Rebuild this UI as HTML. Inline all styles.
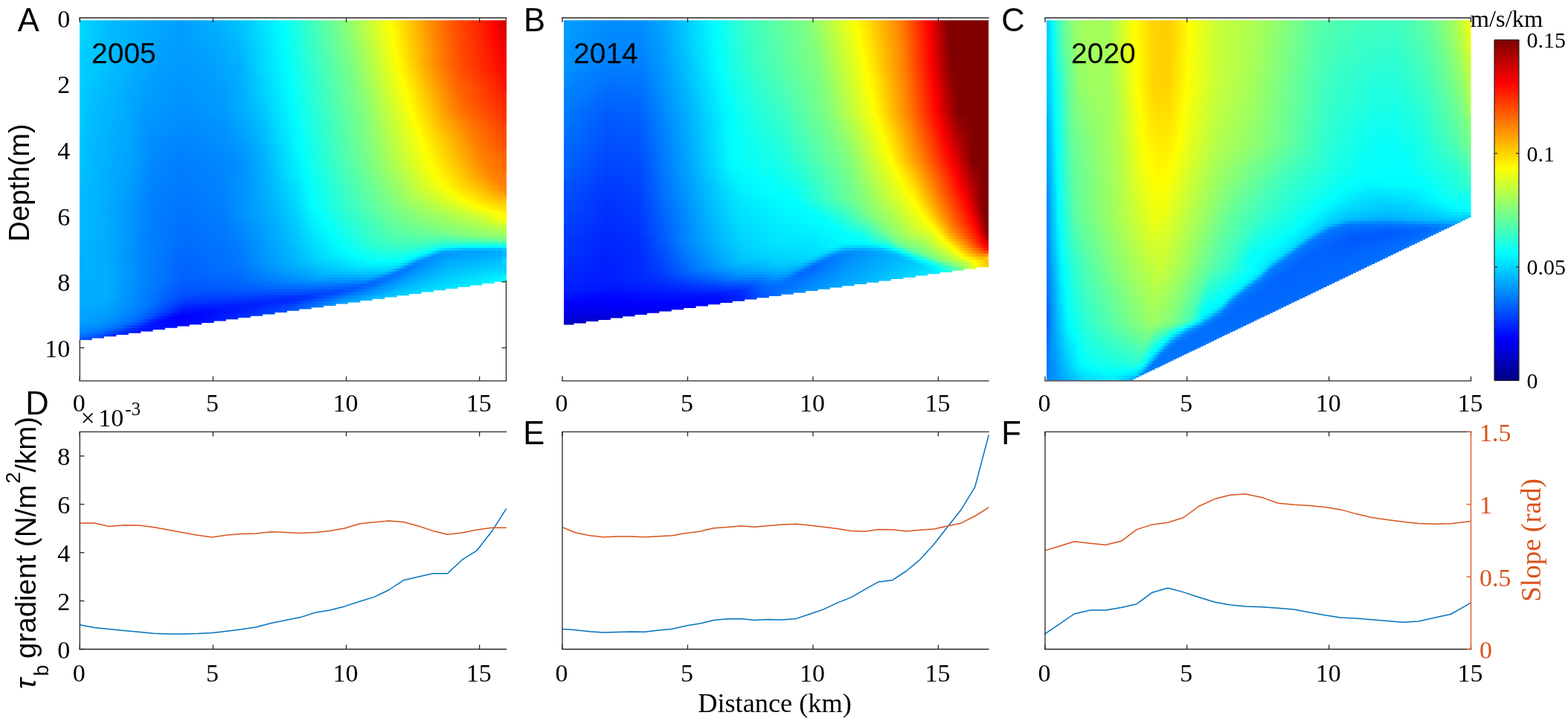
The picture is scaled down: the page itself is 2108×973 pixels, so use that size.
<!DOCTYPE html>
<html lang="en"><head><meta charset="utf-8"><title>Figure</title>
<style>html,body{margin:0;padding:0;background:#fff}#fig{position:relative;width:2108px;height:973px;overflow:hidden;background:#fff}svg{position:absolute;left:0;top:0;display:block}.h{position:absolute;overflow:hidden}.h i{display:block;height:2px}.ts{font-family:"Liberation Serif","DejaVu Serif",serif}.ta{font-family:"Liberation Sans","DejaVu Sans",sans-serif}</style></head>
<body>
<div id="fig">
<div class="h" style="left:106.6px;top:27.2px;width:574.6px;height:431.8px;clip-path:polygon(0.0px 0.0px,574.6px 0.0px,574.6px 351.6px,558.2px 351.6px,558.2px 353.9px,541.8px 353.9px,541.8px 356.2px,525.4px 356.2px,525.4px 358.5px,509.0px 358.5px,509.0px 360.8px,492.6px 360.8px,492.6px 363.1px,476.2px 363.1px,476.2px 365.4px,459.8px 365.4px,459.8px 367.7px,443.4px 367.7px,443.4px 370.0px,427.0px 370.0px,427.0px 372.3px,410.6px 372.3px,410.6px 374.6px,394.2px 374.6px,394.2px 376.9px,377.8px 376.9px,377.8px 379.2px,361.4px 379.2px,361.4px 381.4px,345.0px 381.4px,345.0px 383.7px,328.6px 383.7px,328.6px 386.0px,312.2px 386.0px,312.2px 388.3px,295.8px 388.3px,295.8px 390.6px,279.4px 390.6px,279.4px 392.9px,263.0px 392.9px,263.0px 395.2px,246.6px 395.2px,246.6px 397.5px,230.2px 397.5px,230.2px 399.8px,213.8px 399.8px,213.8px 402.1px,197.4px 402.1px,197.4px 404.4px,181.0px 404.4px,181.0px 406.7px,164.6px 406.7px,164.6px 409.0px,148.2px 409.0px,148.2px 411.3px,131.8px 411.3px,131.8px 413.6px,115.4px 413.6px,115.4px 415.9px,99.0px 415.9px,99.0px 418.2px,82.6px 418.2px,82.6px 420.5px,66.2px 420.5px,66.2px 422.8px,49.8px 422.8px,49.8px 425.1px,33.4px 425.1px,33.4px 427.4px,17.0px 427.4px,17.0px 429.7px,0.6px 429.7px,0.6px 430.9px,0.0px 430.9px,0.0px 430.9px)">
<i style="background:linear-gradient(90deg,#00dbff 0%,#00bdff 6.3%,#009fff 23.3%,#00b4ff 33.4%,#00d2ff 40.4%,#00ffff 47.7%,#80ff7f 61.6%,#fcff03 72.4%,#fffe00 72.7%,#ff8100 83.2%,#ff5100 87.7%,#ff2300 93.6%,#ff0000 97.1%,#d10000 99.5%,#c80000 100%)"></i>
<i style="background:linear-gradient(90deg,#00daff 0%,#00bdff 6.3%,#009eff 23.3%,#00b3ff 33.4%,#00cfff 40%,#00ffff 47.7%,#7fff80 61.6%,#ffff00 72.7%,#ff8200 83.2%,#ff5500 87.4%,#ff2300 93.6%,#ff0100 97.1%,#c90000 100%)"></i>
<i style="background:linear-gradient(90deg,#00daff 0%,#00bdff 6.3%,#009eff 23.3%,#00b3ff 33.4%,#00cfff 40%,#00ffff 47.7%,#7eff81 61.6%,#feff01 72.7%,#ff8200 83.2%,#ff5200 87.7%,#ff2400 93.6%,#ff0200 97.1%,#fc0000 97.5%,#ca0000 100%)"></i>
<i style="background:linear-gradient(90deg,#00daff 0%,#00bdff 6.3%,#009eff 23.3%,#00b0ff 32.7%,#00c3ff 37.6%,#00ceff 40%,#00feff 47.7%,#7eff81 61.6%,#fdff02 72.7%,#ff7e00 83.5%,#ff5300 87.7%,#ff2400 93.6%,#ff0300 97.1%,#fd0000 97.5%,#cb0000 100%)"></i>
<i style="background:linear-gradient(90deg,#00daff 0%,#00bdff 6.3%,#009eff 23.3%,#00b0ff 32.7%,#00c2ff 37.6%,#00ceff 40%,#00feff 47.7%,#7dff82 61.6%,#fcff03 72.7%,#fffe00 73.1%,#ff7f00 83.5%,#ff5300 87.7%,#ff2500 93.6%,#ff0400 97.1%,#fe0000 97.5%,#cb0000 100%)"></i>
<i style="background:linear-gradient(90deg,#00daff 0%,#00bdff 6.3%,#009eff 23.3%,#00afff 32.7%,#00c1ff 37.6%,#00cdff 40%,#00feff 47.7%,#80ff7f 62%,#fffe00 73.1%,#ff7f00 83.5%,#ff5700 87.4%,#ff2500 93.6%,#ff0000 97.5%,#cc0000 100%)"></i>
<i style="background:linear-gradient(90deg,#00daff 0%,#00bdff 6.3%,#009dff 23.3%,#00afff 32.7%,#00c1ff 37.6%,#00cdff 40%,#00feff 47.7%,#7fff80 62%,#ffff00 73.1%,#ff8000 83.5%,#ff5400 87.7%,#ff2500 93.6%,#ff0100 97.5%,#e30000 99.2%,#cc0000 100%)"></i>
<i style="background:linear-gradient(90deg,#00daff 0%,#00bdff 6.3%,#009dff 23.3%,#00aeff 32.7%,#00c0ff 37.6%,#01fffe 48%,#7eff81 62%,#feff01 73.1%,#ff8000 83.5%,#ff5400 87.7%,#ff2600 93.6%,#ff0200 97.5%,#e40000 99.2%,#cd0000 100%)"></i>
<i style="background:linear-gradient(90deg,#00daff 0%,#00bdff 6.3%,#009dff 23.3%,#00aeff 32.7%,#00bfff 37.6%,#01fffe 48%,#7dff82 62%,#fdff02 73.1%,#ff8100 83.5%,#ff5500 87.7%,#ff2600 93.6%,#ff0300 97.5%,#fd0000 97.8%,#e60000 99.2%,#ce0000 100%)"></i>
<i style="background:linear-gradient(90deg,#00daff 0%,#00bdff 6.3%,#009dff 23.3%,#00adff 32.7%,#00beff 37.6%,#00ffff 48%,#7cff83 62%,#fcff03 73.1%,#fffe00 73.4%,#ff8100 83.5%,#ff5100 88.1%,#ff2700 93.6%,#ff0400 97.5%,#fe0000 97.8%,#e70000 99.2%,#ce0000 100%)"></i>
<i style="background:linear-gradient(90deg,#00d9ff 0%,#00bdff 6.3%,#009dff 23.3%,#00adff 32.7%,#00beff 37.6%,#00ffff 48%,#7cff83 62%,#fffe00 73.4%,#ff8200 83.5%,#ff5500 87.7%,#ff2700 93.6%,#ff0000 97.8%,#e90000 99.2%,#cf0000 100%)"></i>
<i style="background:linear-gradient(90deg,#00d9ff 0%,#00bdff 6.3%,#009dff 23.3%,#00acff 32.7%,#00bdff 37.6%,#00ffff 48%,#7bff84 62%,#ffff00 73.4%,#ff8200 83.5%,#ff5600 87.7%,#ff2800 93.6%,#ff0100 97.8%,#eb0000 99.2%,#d00000 100%)"></i>
<i style="background:linear-gradient(90deg,#00d9ff 0%,#00bdff 6.3%,#009cff 23.3%,#00abff 32.4%,#00bcff 37.6%,#00ffff 48%,#7dff82 62.3%,#feff01 73.4%,#ff7e00 83.9%,#ff5300 88.1%,#ff2800 93.6%,#ff0200 97.8%,#ec0000 99.2%,#d00000 100%)"></i>
<i style="background:linear-gradient(90deg,#00d9ff 0%,#00bdff 6.3%,#009cff 23.3%,#00aaff 32.4%,#00bbff 37.6%,#00feff 48%,#7dff82 62.3%,#fdff02 73.4%,#ff7f00 83.9%,#ff5300 88.1%,#ff2800 93.6%,#ff0300 97.8%,#ee0000 99.2%,#d30000 100%)"></i>
<i style="background:linear-gradient(90deg,#00d7ff 0%,#00bdff 6.3%,#009cff 23.3%,#00a8ff 31.3%,#00bbff 37.6%,#00feff 48%,#8aff75 63.7%,#fcff03 73.4%,#fff100 74.8%,#ff7f00 83.9%,#ff5000 88.4%,#ff2900 93.6%,#ff0400 97.8%,#fd0000 98.2%,#ef0000 99.2%,#dc0000 100%)"></i>
<i style="background:linear-gradient(90deg,#00d4ff 0%,#00bdff 6.3%,#00a4ff 18.1%,#009cff 23.7%,#00a7ff 31%,#00baff 37.6%,#00feff 48%,#89ff76 63.7%,#fcff03 73.4%,#fffe00 73.8%,#fff100 74.8%,#ff8000 83.9%,#ff4d00 88.8%,#ff1800 95.7%,#fe0000 98.2%,#ec0000 99.5%,#eb0000 100%)"></i>
<i style="background:linear-gradient(90deg,#00d4ff 0%,#00bdff 6.3%,#00a4ff 18.1%,#009cff 23.7%,#00a7ff 31%,#00baff 37.6%,#00feff 48%,#89ff76 63.7%,#fcff03 73.4%,#fffe00 73.8%,#fff100 74.8%,#ff8000 83.9%,#ff4d00 88.8%,#ff1800 95.7%,#fe0000 98.2%,#ec0000 99.5%,#eb0000 100%)"></i>
<i style="background:linear-gradient(90deg,#00d2ff 0%,#00d1ff 1%,#00bcff 6.6%,#00a3ff 18.1%,#009cff 23.7%,#00a6ff 31%,#00b8ff 37.6%,#01fffe 48.4%,#87ff78 63.7%,#feff01 73.8%,#ff8100 83.9%,#ff4e00 88.8%,#ff1a00 95.7%,#ff0200 98.2%,#f00000 99.5%,#f70000 100%)"></i>
<i style="background:linear-gradient(90deg,#00d2ff 0%,#00d1ff 1%,#00bcff 6.6%,#00a3ff 18.1%,#009cff 23.7%,#00a6ff 31%,#00b8ff 37.6%,#01fffe 48.4%,#87ff78 63.7%,#feff01 73.8%,#ff8100 83.9%,#ff4e00 88.8%,#ff1a00 95.7%,#ff0200 98.2%,#f00000 99.5%,#f70000 100%)"></i>
<i style="background:linear-gradient(90deg,#00d2ff 0%,#00baff 7.7%,#00a2ff 18.4%,#009bff 23.7%,#00a5ff 31%,#00b7ff 37.6%,#00ffff 48.4%,#85ff7a 63.7%,#fdff02 73.8%,#fff500 74.8%,#ff8200 83.9%,#ff4e00 88.8%,#ff1800 96.1%,#fe0000 98.5%,#f30000 99.5%,#f90000 100%)"></i>
<i style="background:linear-gradient(90deg,#00d2ff 0%,#00baff 7.7%,#00a2ff 18.4%,#009bff 23.7%,#00a5ff 31%,#00b7ff 37.6%,#00ffff 48.4%,#85ff7a 63.7%,#fdff02 73.8%,#fff500 74.8%,#ff8200 83.9%,#ff4e00 88.8%,#ff1800 96.1%,#fe0000 98.5%,#f30000 99.5%,#f90000 100%)"></i>
<i style="background:linear-gradient(90deg,#00d2ff 0%,#00bdff 6.3%,#00a3ff 17.8%,#009bff 23.7%,#00a3ff 30.6%,#00b5ff 37.6%,#00d2ff 41.4%,#00ffff 48.4%,#86ff79 64%,#ffff00 74.1%,#ff8300 83.9%,#ff4f00 88.8%,#ff1900 96.1%,#ff0100 98.5%,#f60000 99.5%,#fa0000 100%)"></i>
<i style="background:linear-gradient(90deg,#00d2ff 0%,#00bdff 6.3%,#00a3ff 17.8%,#009bff 23.7%,#00a3ff 30.6%,#00b5ff 37.6%,#00d2ff 41.4%,#00ffff 48.4%,#86ff79 64%,#ffff00 74.1%,#ff8300 83.9%,#ff4f00 88.8%,#ff1900 96.1%,#ff0100 98.5%,#f60000 99.5%,#fa0000 100%)"></i>
<i style="background:linear-gradient(90deg,#00d1ff 0%,#00bdff 6.3%,#00a1ff 18.1%,#009bff 24.4%,#00a2ff 30.6%,#00b4ff 37.6%,#00d1ff 41.4%,#00feff 48.4%,#85ff7a 64%,#feff01 74.1%,#ff7f00 84.2%,#ff5000 88.8%,#ff1a00 96.1%,#ff0000 98.9%,#f90000 99.5%,#fb0000 100%)"></i>
<i style="background:linear-gradient(90deg,#00d1ff 0%,#00bdff 6.3%,#00a1ff 18.1%,#009bff 24.4%,#00a2ff 30.6%,#00b4ff 37.6%,#00d1ff 41.4%,#00feff 48.4%,#85ff7a 64%,#feff01 74.1%,#ff7f00 84.2%,#ff5000 88.8%,#ff1a00 96.1%,#ff0000 98.9%,#f90000 99.5%,#fb0000 100%)"></i>
<i style="background:linear-gradient(90deg,#00d1ff 0%,#00bdff 6.3%,#00a1ff 18.1%,#009bff 24.7%,#00a1ff 30.6%,#00b3ff 37.6%,#00d3ff 41.8%,#00feff 48.4%,#83ff7c 64%,#fcff03 74.1%,#fff900 74.8%,#ff8000 84.2%,#ff5100 88.8%,#ff1e00 95.7%,#ff0200 98.9%,#fc0000 100%)"></i>
<i style="background:linear-gradient(90deg,#00d1ff 0%,#00bdff 6.3%,#00a1ff 18.1%,#009bff 24.7%,#00a1ff 30.6%,#00b3ff 37.6%,#00d3ff 41.8%,#00feff 48.4%,#83ff7c 64%,#fcff03 74.1%,#fff900 74.8%,#ff8000 84.2%,#ff5100 88.8%,#ff1e00 95.7%,#ff0200 98.9%,#fc0000 100%)"></i>
<i style="background:linear-gradient(90deg,#00d1ff 0%,#00bcff 6.6%,#009fff 18.4%,#009aff 23.3%,#009fff 29.9%,#00b1ff 37.6%,#00d3ff 41.8%,#01fffe 48.7%,#81ff7e 64%,#ffff00 74.5%,#ff8100 84.2%,#ff5100 88.8%,#ff1f00 95.7%,#ff0200 99.2%,#fe0000 100%)"></i>
<i style="background:linear-gradient(90deg,#00d1ff 0%,#00bcff 6.6%,#009fff 18.4%,#009aff 23.3%,#009fff 29.9%,#00b1ff 37.6%,#00d3ff 41.8%,#01fffe 48.7%,#81ff7e 64%,#ffff00 74.5%,#ff8100 84.2%,#ff5100 88.8%,#ff1f00 95.7%,#ff0200 99.2%,#fe0000 100%)"></i>
<i style="background:linear-gradient(90deg,#00d1ff 0%,#009fff 18.4%,#009aff 23.7%,#009fff 30.3%,#00b0ff 37.6%,#00d2ff 41.8%,#00ffff 48.7%,#7fff80 64%,#fdff02 74.5%,#ff8200 84.2%,#ff5200 88.8%,#ff0200 99.5%,#ff0000 100%)"></i>
<i style="background:linear-gradient(90deg,#00d1ff 0%,#009fff 18.4%,#009aff 23.7%,#009fff 30.3%,#00b0ff 37.6%,#00d2ff 41.8%,#00ffff 48.7%,#7fff80 64%,#fdff02 74.5%,#ff8200 84.2%,#ff5200 88.8%,#ff0200 99.5%,#ff0000 100%)"></i>
<i style="background:linear-gradient(90deg,#00d1ff 0%,#009eff 18.4%,#0099ff 23.7%,#009eff 30.3%,#00afff 37.6%,#00d1ff 41.8%,#00feff 48.7%,#7dff82 64%,#fffe00 74.8%,#ff8400 84.2%,#ff5400 88.8%,#ff0100 100%)"></i>
<i style="background:linear-gradient(90deg,#00d1ff 0%,#009eff 18.4%,#0099ff 23.7%,#009eff 30.3%,#00afff 37.6%,#00d1ff 41.8%,#00feff 48.7%,#7dff82 64%,#fffe00 74.8%,#ff8400 84.2%,#ff5400 88.8%,#ff0100 100%)"></i>
<i style="background:linear-gradient(90deg,#00d0ff 0%,#009eff 18.4%,#0098ff 23.7%,#009dff 30.3%,#00aeff 37.6%,#00d0ff 41.8%,#00feff 48.7%,#80ff7f 64.4%,#fdff02 74.8%,#ff8700 84.2%,#ff5600 88.8%,#ff0200 100%)"></i>
<i style="background:linear-gradient(90deg,#00d0ff 0%,#009eff 18.4%,#0098ff 23.7%,#009dff 30.3%,#00aeff 37.6%,#00d0ff 41.8%,#00feff 48.7%,#80ff7f 64.4%,#fdff02 74.8%,#ff8700 84.2%,#ff5600 88.8%,#ff0200 100%)"></i>
<i style="background:linear-gradient(90deg,#00d0ff 0%,#009dff 18.4%,#0098ff 23.7%,#009dff 30.3%,#00aeff 37.6%,#00d1ff 42.1%,#01fffe 49.1%,#7eff81 64.4%,#fffe00 75.2%,#ff8900 84.2%,#ff5800 88.8%,#ff2700 95.7%,#ff0300 100%)"></i>
<i style="background:linear-gradient(90deg,#00d0ff 0%,#009dff 18.4%,#0098ff 23.7%,#009dff 30.3%,#00aeff 37.6%,#00d1ff 42.1%,#01fffe 49.1%,#7eff81 64.4%,#fffe00 75.2%,#ff8900 84.2%,#ff5800 88.8%,#ff2700 95.7%,#ff0300 100%)"></i>
<i style="background:linear-gradient(90deg,#00d0ff 0%,#00bcff 6.3%,#009cff 18.4%,#0097ff 23.7%,#009cff 30.3%,#00aeff 37.6%,#00ffff 49.1%,#7dff82 64.4%,#fdff02 75.2%,#ff8800 84.6%,#ff5b00 88.8%,#ff1300 98.9%,#ff0400 100%)"></i>
<i style="background:linear-gradient(90deg,#00d0ff 0%,#00bcff 6.3%,#009cff 18.4%,#0097ff 23.7%,#009cff 30.3%,#00aeff 37.6%,#00ffff 49.1%,#7dff82 64.4%,#fdff02 75.2%,#ff8800 84.6%,#ff5b00 88.8%,#ff1300 98.9%,#ff0400 100%)"></i>
<i style="background:linear-gradient(90deg,#00d0ff 0%,#00bbff 6.3%,#009cff 18.1%,#0096ff 23.7%,#009bff 29.9%,#00adff 37.6%,#00feff 49.1%,#7cff83 64.4%,#ffff00 75.5%,#ff8f00 84.2%,#ff6100 88.4%,#ff1300 99.2%,#ff0500 100%)"></i>
<i style="background:linear-gradient(90deg,#00d0ff 0%,#00bbff 6.3%,#009cff 18.1%,#0096ff 23.7%,#009bff 29.9%,#00adff 37.6%,#00feff 49.1%,#7cff83 64.4%,#ffff00 75.5%,#ff8f00 84.2%,#ff6100 88.4%,#ff1300 99.2%,#ff0500 100%)"></i>
<i style="background:linear-gradient(90deg,#00d0ff 0%,#00bbff 6.3%,#009cff 18.1%,#0096ff 23.7%,#009bff 29.9%,#00a1ff 33.8%,#00adff 37.6%,#01fffe 49.4%,#7bff84 64.4%,#fdff02 75.5%,#ffe700 77.6%,#ff8e00 84.6%,#ff6300 88.4%,#ff1600 99.2%,#ff0600 100%)"></i>
<i style="background:linear-gradient(90deg,#00d0ff 0%,#00bbff 6.3%,#009cff 18.1%,#0096ff 23.7%,#009bff 29.9%,#00a1ff 33.8%,#00adff 37.6%,#01fffe 49.4%,#7bff84 64.4%,#fdff02 75.5%,#ffe700 77.6%,#ff8e00 84.6%,#ff6300 88.4%,#ff1600 99.2%,#ff0600 100%)"></i>
<i style="background:linear-gradient(90deg,#00d0ff 0%,#00c3ff 3.1%,#009bff 18.1%,#0095ff 23.7%,#009aff 29.9%,#00a0ff 33.8%,#00adff 37.6%,#00ffff 49.4%,#7aff85 64.4%,#ffff00 75.9%,#ff9100 84.6%,#ff6600 88.4%,#ff1900 99.2%,#ff0700 100%)"></i>
<i style="background:linear-gradient(90deg,#00d0ff 0%,#00c3ff 3.1%,#009bff 18.1%,#0095ff 23.7%,#009aff 29.9%,#00a0ff 33.8%,#00adff 37.6%,#00ffff 49.4%,#7aff85 64.4%,#ffff00 75.9%,#ff9100 84.6%,#ff6600 88.4%,#ff1900 99.2%,#ff0700 100%)"></i>
<i style="background:linear-gradient(90deg,#00d0ff 0%,#00c7ff 1.7%,#009bff 17.8%,#0094ff 23.7%,#009aff 29.9%,#009fff 33.8%,#00acff 37.6%,#00feff 49.4%,#79ff86 64.4%,#8eff71 66.5%,#fcff03 75.9%,#fffe00 76.2%,#ff9400 84.6%,#ff6800 88.4%,#ff1c00 99.2%,#ff1100 100%)"></i>
<i style="background:linear-gradient(90deg,#00d0ff 0%,#00c7ff 1.7%,#009bff 17.8%,#0094ff 23.7%,#009aff 29.9%,#009fff 33.8%,#00acff 37.6%,#00feff 49.4%,#79ff86 64.4%,#8eff71 66.5%,#fcff03 75.9%,#fffe00 76.2%,#ff9400 84.6%,#ff6800 88.4%,#ff1c00 99.2%,#ff1100 100%)"></i>
<i style="background:linear-gradient(90deg,#00d0ff 0%,#00c6ff 1.7%,#009aff 17.8%,#0094ff 23.7%,#0099ff 29.9%,#009fff 33.8%,#00acff 37.6%,#00feff 49.4%,#77ff88 64.4%,#8cff73 66.5%,#feff01 76.2%,#ff9700 84.6%,#ff6800 88.8%,#ff1f00 99.2%,#ff1e00 99.5%,#ff2500 100%)"></i>
<i style="background:linear-gradient(90deg,#00d0ff 0%,#00c6ff 1.7%,#009aff 17.8%,#0094ff 23.7%,#0099ff 29.9%,#009fff 33.8%,#00acff 37.6%,#00feff 49.4%,#77ff88 64.4%,#8cff73 66.5%,#feff01 76.2%,#ff9700 84.6%,#ff6800 88.8%,#ff1f00 99.2%,#ff1e00 99.5%,#ff2500 100%)"></i>
<i style="background:linear-gradient(90deg,#00d0ff 0%,#00c6ff 1.4%,#009dff 16%,#0093ff 23.7%,#0098ff 29.9%,#009eff 33.8%,#00aeff 37.9%,#00ffff 49.8%,#79ff86 64.7%,#8bff74 66.5%,#ffff00 76.6%,#ff9a00 84.6%,#ff6d00 88.4%,#ff4b00 92.9%,#ff2200 99.2%,#ff2100 99.5%,#ff2800 100%)"></i>
<i style="background:linear-gradient(90deg,#00d0ff 0%,#00c6ff 1.4%,#009dff 16%,#0093ff 23.7%,#0098ff 29.9%,#009eff 33.8%,#00aeff 37.9%,#00ffff 49.8%,#79ff86 64.7%,#8bff74 66.5%,#ffff00 76.6%,#ff9a00 84.6%,#ff6d00 88.4%,#ff4b00 92.9%,#ff2200 99.2%,#ff2100 99.5%,#ff2800 100%)"></i>
<i style="background:linear-gradient(90deg,#00d0ff 0%,#00c5ff 1.7%,#009cff 16%,#0093ff 23.7%,#0098ff 29.9%,#009eff 33.8%,#00adff 37.9%,#00c0ff 41.1%,#00ffff 49.8%,#86ff79 66.1%,#feff01 76.6%,#ff6e00 88.4%,#ff4c00 92.9%,#ff2400 99.2%,#ff2200 99.5%,#ff2900 100%)"></i>
<i style="background:linear-gradient(90deg,#00d0ff 0%,#00c5ff 1.7%,#009cff 16%,#0092ff 23.7%,#0098ff 29.9%,#009dff 33.8%,#00adff 37.9%,#00c0ff 41.1%,#00ffff 49.8%,#85ff7a 66.1%,#fdff02 76.6%,#fff500 77.6%,#ff9c00 84.6%,#ff7000 88.4%,#ff4d00 92.9%,#ff2500 99.2%,#ff2400 99.5%,#ff2900 100%)"></i>
<i style="background:linear-gradient(90deg,#00d0ff 0%,#00c4ff 1.7%,#009cff 15.7%,#0092ff 23.3%,#0093ff 25.4%,#009cff 33.4%,#00abff 37.6%,#00bfff 41.1%,#00feff 49.8%,#84ff7b 66.1%,#fcff03 76.6%,#fff600 77.6%,#ff7100 88.4%,#ff4e00 92.9%,#ff2900 98.9%,#ff2500 99.5%,#ff2a00 100%)"></i>
<i style="background:linear-gradient(90deg,#00d0ff 0%,#00c4ff 1.7%,#009cff 15.7%,#0092ff 24.4%,#009cff 33.4%,#00abff 37.6%,#00c1ff 41.4%,#00feff 49.8%,#84ff7b 66.1%,#feff01 76.9%,#ff7200 88.4%,#ff4d00 93.3%,#ff2a00 98.9%,#ff2600 99.5%,#ff2a00 100%)"></i>
<i style="background:linear-gradient(90deg,#00d0ff 0%,#00c3ff 1.7%,#009cff 15.7%,#0092ff 24.4%,#009bff 33.4%,#00abff 37.6%,#00c0ff 41.4%,#01fffe 50.1%,#83ff7c 66.1%,#fdff02 76.9%,#ff7400 88.4%,#ff4e00 93.3%,#ff2b00 98.9%,#ff2800 99.5%,#ff2b00 100%)"></i>
<i style="background:linear-gradient(90deg,#00d0ff 0%,#00c3ff 1.7%,#00aaff 11.5%,#009bff 15.7%,#0091ff 24.4%,#009bff 33.4%,#00abff 37.6%,#00c0ff 41.4%,#01fffe 50.1%,#82ff7d 66.1%,#fcff03 76.9%,#fff600 78%,#ff7500 88.4%,#ff5000 93.3%,#ff2d00 98.9%,#ff2900 99.5%,#ff2b00 100%)"></i>
<i style="background:linear-gradient(90deg,#00d0ff 0%,#00c3ff 1.7%,#00aaff 11.5%,#009bff 15.7%,#0091ff 24.4%,#009bff 33.4%,#00a9ff 37.2%,#00bfff 41.4%,#00ffff 50.1%,#81ff7e 66.1%,#feff01 77.3%,#ff7600 88.4%,#ff4f00 93.6%,#ff2c00 99.2%,#ff2c00 100%)"></i>
<i style="background:linear-gradient(90deg,#00d0ff 0%,#00c2ff 1.7%,#00a9ff 11.5%,#009aff 15.7%,#0091ff 24.4%,#009aff 33.4%,#00a9ff 37.2%,#00bfff 41.4%,#00ffff 50.1%,#80ff7f 66.1%,#fdff02 77.3%,#ff7800 88.4%,#ff5000 93.6%,#ff2e00 99.2%,#ff2c00 100%)"></i>
<i style="background:linear-gradient(90deg,#00d0ff 0%,#00c2ff 1.7%,#00a9ff 11.5%,#009aff 15.7%,#0090ff 24.4%,#009aff 33.4%,#00a3ff 35.9%,#00beff 41.4%,#00feff 50.1%,#80ff7f 66.1%,#fcff03 77.3%,#fffa00 78%,#ff7c00 88.1%,#ff5300 93.3%,#ff2f00 99.2%,#ff2d00 100%)"></i>
<i style="background:linear-gradient(90deg,#00d0ff 0%,#00c2ff 1.7%,#00a9ff 11.5%,#009aff 15.7%,#0090ff 24.4%,#009dff 34.5%,#00bdff 41.4%,#00feff 50.1%,#7fff80 66.1%,#feff01 77.6%,#ff7d00 88.1%,#ff5500 93.3%,#ff3100 99.2%,#ff2d00 100%)"></i>
<i style="background:linear-gradient(90deg,#00d0ff 0%,#00c2ff 1.7%,#00a8ff 11.5%,#0099ff 15.7%,#0090ff 24.4%,#009dff 34.5%,#00bdff 41.4%,#01fffe 50.5%,#7eff81 66.1%,#fdff02 77.6%,#ff7c00 88.4%,#ff5600 93.3%,#ff2e00 100%)"></i>
<i style="background:linear-gradient(90deg,#00d0ff 0%,#00c1ff 1.7%,#00a8ff 11.5%,#0099ff 15.7%,#008fff 24.4%,#009cff 34.5%,#00bcff 41.4%,#01fffe 50.5%,#7dff82 66.1%,#fcff03 77.6%,#fffe00 78%,#ff7e00 88.4%,#ff5800 93.3%,#ff2f00 100%)"></i>
<i style="background:linear-gradient(90deg,#00d0ff 0%,#00c1ff 1.7%,#00a8ff 11.5%,#0099ff 15.7%,#008fff 24.4%,#0098ff 33.4%,#00a1ff 35.9%,#00bcff 41.4%,#00ffff 50.5%,#80ff7f 66.5%,#feff01 78%,#ffad00 84.6%,#ff7d00 88.8%,#ff5a00 93.3%,#ff2f00 100%)"></i>
<i style="background:linear-gradient(90deg,#00cfff 0%,#00c1ff 1.7%,#00a8ff 11.5%,#0098ff 15.7%,#008eff 24.4%,#0098ff 33.4%,#00a1ff 35.9%,#00bdff 41.8%,#00ffff 50.5%,#80ff7f 66.5%,#fdff02 78%,#ffae00 84.6%,#ff8000 88.8%,#ff5e00 92.9%,#ff3000 100%)"></i>
<i style="background:linear-gradient(90deg,#00cfff 0%,#00c1ff 1.7%,#00a8ff 11.5%,#0097ff 16%,#008dff 24.4%,#0096ff 33.4%,#00a1ff 36.2%,#00bcff 41.8%,#00feff 50.5%,#7eff81 66.5%,#feff01 78.3%,#ffba00 83.9%,#ff8200 89.1%,#ff6500 92.6%,#ff3100 100%)"></i>
<i style="background:linear-gradient(90deg,#00cfff 0%,#00c1ff 1.7%,#00a8ff 11.5%,#0097ff 16%,#008dff 24.4%,#0096ff 33.4%,#00a1ff 36.2%,#00bcff 41.8%,#00feff 50.5%,#7eff81 66.5%,#feff01 78.3%,#ffba00 83.9%,#ff8200 89.1%,#ff6500 92.6%,#ff3100 100%)"></i>
<i style="background:linear-gradient(90deg,#00cfff 0%,#00c0ff 1.7%,#00a7ff 11.5%,#0096ff 16%,#008cff 24.4%,#0095ff 33.4%,#00a4ff 37.2%,#00baff 41.8%,#00ffff 50.8%,#7dff82 66.5%,#fcff03 78.3%,#fffe00 78.7%,#ffbd00 83.9%,#ff8b00 88.8%,#ff6c00 92.2%,#ff3d00 99.2%,#ff3300 100%)"></i>
<i style="background:linear-gradient(90deg,#00cfff 0%,#00c0ff 1.7%,#00a7ff 11.5%,#0096ff 16%,#008cff 24.4%,#0095ff 33.4%,#00a4ff 37.2%,#00baff 41.8%,#00ffff 50.8%,#7dff82 66.5%,#fcff03 78.3%,#fffe00 78.7%,#ffbd00 83.9%,#ff8b00 88.8%,#ff6c00 92.2%,#ff3d00 99.2%,#ff3300 100%)"></i>
<i style="background:linear-gradient(90deg,#00cfff 0%,#00c0ff 1.7%,#00a7ff 11.5%,#0095ff 16%,#008bff 24.4%,#0094ff 33.4%,#00a2ff 37.2%,#00b9ff 41.8%,#00feff 50.8%,#7cff83 66.5%,#fdff02 78.7%,#ffb200 85.3%,#ff7900 91.2%,#ff4000 99.2%,#ff4100 100%)"></i>
<i style="background:linear-gradient(90deg,#00cfff 0%,#00c0ff 1.7%,#00a7ff 11.5%,#0095ff 16%,#008bff 24.4%,#0094ff 33.4%,#00a2ff 37.2%,#00b9ff 41.8%,#00feff 50.8%,#7cff83 66.5%,#fdff02 78.7%,#ffb200 85.3%,#ff7900 91.2%,#ff4000 99.2%,#ff4100 100%)"></i>
<i style="background:linear-gradient(90deg,#00cfff 0%,#00c0ff 1.7%,#00a7ff 11.5%,#0094ff 16%,#008bff 24.7%,#0094ff 33.8%,#00a8ff 39%,#00c1ff 43.2%,#01fffe 51.2%,#7bff84 66.5%,#feff01 79%,#ffc100 84.2%,#ff7c00 91.2%,#ff4300 99.2%,#ff4200 99.5%,#ff4800 100%)"></i>
<i style="background:linear-gradient(90deg,#00cfff 0%,#00c0ff 1.7%,#00a7ff 11.5%,#0094ff 16%,#008bff 24.7%,#0094ff 33.8%,#00a8ff 39%,#00c1ff 43.2%,#01fffe 51.2%,#7bff84 66.5%,#feff01 79%,#ffc100 84.2%,#ff7c00 91.2%,#ff4300 99.2%,#ff4200 99.5%,#ff4800 100%)"></i>
<i style="background:linear-gradient(90deg,#00ceff 0%,#00bfff 1.7%,#00a6ff 11.5%,#0093ff 16.4%,#008aff 25.1%,#0093ff 33.8%,#00a7ff 39%,#00c0ff 43.2%,#00ffff 51.2%,#7aff85 66.5%,#fcff03 79%,#fffe00 79.4%,#ffc900 83.9%,#ff8000 91.2%,#ff4600 99.2%,#ff4900 100%)"></i>
<i style="background:linear-gradient(90deg,#00ceff 0%,#00bfff 1.7%,#00a6ff 11.5%,#0093ff 16.4%,#008aff 25.1%,#0093ff 33.8%,#00a7ff 39%,#00c0ff 43.2%,#00ffff 51.2%,#7aff85 66.5%,#fcff03 79%,#fffe00 79.4%,#ffc900 83.9%,#ff8000 91.2%,#ff4600 99.2%,#ff4900 100%)"></i>
<i style="background:linear-gradient(90deg,#00ceff 0%,#00bfff 1.7%,#00a6ff 11.5%,#0092ff 16.4%,#0089ff 25.1%,#0092ff 33.8%,#00a7ff 39.3%,#00c1ff 43.5%,#00feff 51.2%,#79ff86 66.5%,#fdff02 79.4%,#ffd800 82.8%,#ff8000 91.5%,#ff4900 99.2%,#ff4a00 100%)"></i>
<i style="background:linear-gradient(90deg,#00ceff 0%,#00bfff 1.7%,#00a6ff 11.5%,#0092ff 16.4%,#0089ff 25.1%,#0092ff 33.8%,#00a7ff 39.3%,#00c1ff 43.5%,#00feff 51.2%,#79ff86 66.5%,#fdff02 79.4%,#ffd800 82.8%,#ff8000 91.5%,#ff4900 99.2%,#ff4a00 100%)"></i>
<i style="background:linear-gradient(90deg,#00c9ff 0%,#00bfff 1.7%,#00a5ff 11.8%,#0091ff 16.4%,#0087ff 24%,#0090ff 33.1%,#0097ff 35.9%,#00b1ff 41.4%,#01fffe 51.5%,#78ff87 66.5%,#feff01 79.7%,#ff8000 91.9%,#ff4c00 99.2%,#ff4b00 100%)"></i>
<i style="background:linear-gradient(90deg,#00c9ff 0%,#00bfff 1.7%,#00a5ff 11.8%,#0091ff 16.4%,#0087ff 24%,#0090ff 33.1%,#0097ff 35.9%,#00b1ff 41.4%,#01fffe 51.5%,#78ff87 66.5%,#feff01 79.7%,#ff8000 91.9%,#ff4c00 99.2%,#ff4b00 100%)"></i>
<i style="background:linear-gradient(90deg,#00c7ff 0%,#00bdff 2.1%,#00a4ff 11.8%,#008fff 16.7%,#0086ff 24%,#008fff 33.4%,#009bff 37.2%,#00b0ff 41.4%,#00ffff 51.5%,#77ff88 66.5%,#fcff03 79.7%,#fffe00 80.1%,#ff8000 92.2%,#ff4f00 99.2%,#ff4c00 100%)"></i>
<i style="background:linear-gradient(90deg,#00c7ff 0%,#00bdff 2.1%,#00a4ff 11.8%,#008fff 16.7%,#0086ff 24%,#008fff 33.4%,#009bff 37.2%,#00b0ff 41.4%,#00ffff 51.5%,#77ff88 66.5%,#fcff03 79.7%,#fffe00 80.1%,#ff8000 92.2%,#ff4f00 99.2%,#ff4c00 100%)"></i>
<i style="background:linear-gradient(90deg,#00c7ff 0%,#00bdff 2.1%,#00a4ff 11.8%,#008fff 16.7%,#0085ff 24%,#008eff 33.4%,#0099ff 37.2%,#00aeff 41.4%,#00feff 51.5%,#76ff89 66.5%,#fdff02 80.1%,#ff8000 92.6%,#ff4d00 100%)"></i>
<i style="background:linear-gradient(90deg,#00c7ff 0%,#00bdff 2.1%,#00a4ff 11.8%,#008fff 16.7%,#0085ff 24%,#008eff 33.4%,#0099ff 37.2%,#00aeff 41.4%,#00feff 51.5%,#76ff89 66.5%,#fdff02 80.1%,#ff8000 92.6%,#ff4d00 100%)"></i>
<i style="background:linear-gradient(90deg,#00c7ff 0%,#00bdff 2.1%,#00a3ff 12.2%,#008eff 16.7%,#0084ff 24%,#008dff 33.4%,#0092ff 35.9%,#00a4ff 40%,#00bbff 43.5%,#00fdff 51.5%,#78ff87 66.8%,#feff01 80.4%,#ff8000 92.9%,#ff4f00 100%)"></i>
<i style="background:linear-gradient(90deg,#00c7ff 0%,#00bdff 2.1%,#00a3ff 12.2%,#008eff 16.7%,#0084ff 24%,#008dff 33.4%,#0092ff 35.9%,#00a4ff 40%,#00bbff 43.5%,#00fdff 51.5%,#78ff87 66.8%,#feff01 80.4%,#ff8000 92.9%,#ff4f00 100%)"></i>
<i style="background:linear-gradient(90deg,#00c7ff 0%,#00bcff 2.1%,#00a2ff 12.2%,#008dff 16.7%,#0084ff 24%,#008cff 33.4%,#0091ff 35.9%,#00a2ff 40%,#00b9ff 43.5%,#00ffff 51.9%,#83ff7c 68.2%,#ffff00 80.8%,#ff8000 93.3%,#ff5100 100%)"></i>
<i style="background:linear-gradient(90deg,#00c7ff 0%,#00bcff 2.1%,#00a2ff 12.2%,#008dff 16.7%,#0084ff 24%,#008cff 33.4%,#0091ff 35.9%,#00a2ff 40%,#00b9ff 43.5%,#00ffff 51.9%,#83ff7c 68.2%,#ffff00 80.8%,#ff8000 93.3%,#ff5100 100%)"></i>
<i style="background:linear-gradient(90deg,#00c6ff 0%,#00bcff 2.1%,#00a1ff 12.5%,#0099ff 14.6%,#008cff 16.7%,#0083ff 24%,#008bff 33.4%,#008fff 35.9%,#00a1ff 40%,#00b8ff 43.5%,#00feff 51.9%,#82ff7d 68.2%,#fdff02 80.8%,#ff8000 93.6%,#ff5e00 99.2%,#ff5d00 100%)"></i>
<i style="background:linear-gradient(90deg,#00c6ff 0%,#00bcff 2.1%,#00a1ff 12.5%,#0099ff 14.6%,#008cff 16.7%,#0083ff 24%,#008bff 33.4%,#008fff 35.9%,#00a1ff 40%,#00b8ff 43.5%,#00feff 51.9%,#82ff7d 68.2%,#fdff02 80.8%,#ff8000 93.6%,#ff5e00 99.2%,#ff5d00 100%)"></i>
<i style="background:linear-gradient(90deg,#00c6ff 0%,#00bdff 1.7%,#009cff 13.9%,#008bff 16.7%,#0082ff 24%,#008aff 33.4%,#008eff 35.9%,#009fff 40%,#00b6ff 43.5%,#00fdff 51.9%,#80ff7f 68.2%,#fdff02 81.1%,#ff8300 93.6%,#ff6200 99.2%,#ff6300 100%)"></i>
<i style="background:linear-gradient(90deg,#00c6ff 0%,#00bdff 1.7%,#009cff 13.9%,#008bff 16.7%,#0082ff 24%,#008aff 33.4%,#008eff 35.9%,#009fff 40%,#00b6ff 43.5%,#00fdff 51.9%,#80ff7f 68.2%,#fdff02 81.1%,#ff8300 93.6%,#ff6200 99.2%,#ff6300 100%)"></i>
<i style="background:linear-gradient(90deg,#00c6ff 0%,#00bdff 1.7%,#009bff 13.9%,#008aff 17.1%,#0081ff 24%,#0089ff 33.8%,#008cff 35.9%,#009eff 40%,#00b5ff 43.5%,#00ffff 52.2%,#7fff80 68.2%,#feff01 81.4%,#ff8400 94%,#ff6600 99.2%,#ff6500 100%)"></i>
<i style="background:linear-gradient(90deg,#00c6ff 0%,#00bdff 1.7%,#009bff 13.9%,#008aff 17.1%,#0081ff 24%,#0089ff 33.8%,#008cff 35.9%,#009eff 40%,#00b5ff 43.5%,#00ffff 52.2%,#7fff80 68.2%,#feff01 81.4%,#ff8400 94%,#ff6600 99.2%,#ff6500 100%)"></i>
<i style="background:linear-gradient(90deg,#00c6ff 0%,#00bcff 1.7%,#009bff 13.9%,#0089ff 17.1%,#0080ff 24%,#008aff 35.2%,#0098ff 39.3%,#00afff 42.8%,#00feff 52.2%,#7dff82 68.2%,#ffff00 81.8%,#ff8400 94.3%,#ff6600 100%)"></i>
<i style="background:linear-gradient(90deg,#00c6ff 0%,#00bcff 1.7%,#009bff 13.9%,#0089ff 17.1%,#0080ff 24%,#008aff 35.2%,#0098ff 39.3%,#00afff 42.8%,#00feff 52.2%,#7dff82 68.2%,#ffff00 81.8%,#ff8400 94.3%,#ff6600 100%)"></i>
<i style="background:linear-gradient(90deg,#00c6ff 0%,#00bcff 1.7%,#009eff 12.9%,#0088ff 17.1%,#007fff 24%,#0088ff 33.8%,#008bff 35.9%,#009cff 40%,#00b3ff 43.5%,#01fffe 52.6%,#7bff84 68.2%,#ffff00 82.1%,#ff8300 94.7%,#ff6700 100%)"></i>
<i style="background:linear-gradient(90deg,#00c6ff 0%,#00bcff 1.7%,#009eff 12.9%,#0088ff 17.1%,#007fff 24%,#0088ff 33.8%,#008bff 35.9%,#009cff 40%,#00b3ff 43.5%,#01fffe 52.6%,#7bff84 68.2%,#ffff00 82.1%,#ff8300 94.7%,#ff6700 100%)"></i>
<i style="background:linear-gradient(90deg,#00c6ff 0%,#00bcff 1.7%,#009fff 12.5%,#0088ff 17.1%,#007fff 24%,#0087ff 33.8%,#008bff 35.9%,#009cff 40%,#00b2ff 43.5%,#00feff 52.6%,#79ff86 68.2%,#fcff03 82.1%,#fffe00 82.5%,#ffbf00 89.1%,#ff8300 95%,#ff6800 100%)"></i>
<i style="background:linear-gradient(90deg,#00c6ff 0%,#00bcff 1.7%,#009fff 12.5%,#0088ff 17.1%,#007fff 24%,#0087ff 33.8%,#008bff 35.9%,#009cff 40%,#00b2ff 43.5%,#00feff 52.6%,#79ff86 68.2%,#fcff03 82.1%,#fffe00 82.5%,#ffbf00 89.1%,#ff8300 95%,#ff6800 100%)"></i>
<i style="background:linear-gradient(90deg,#00c5ff 0%,#00bbff 1.7%,#009eff 12.5%,#0088ff 16.7%,#007eff 24%,#0086ff 33.4%,#008bff 35.9%,#009cff 40%,#00b4ff 43.9%,#00ffff 52.9%,#77ff88 68.2%,#fffe00 82.8%,#ffc700 88.8%,#ff8300 95.4%,#ff6a00 100%)"></i>
<i style="background:linear-gradient(90deg,#00c5ff 0%,#00bbff 1.7%,#009eff 12.5%,#0088ff 16.7%,#007eff 24%,#0086ff 33.4%,#008bff 35.9%,#009cff 40%,#00b4ff 43.9%,#00ffff 52.9%,#77ff88 68.2%,#fffe00 82.8%,#ffc700 88.8%,#ff8300 95.4%,#ff6a00 100%)"></i>
<i style="background:linear-gradient(90deg,#00c5ff 0%,#00bcff 1.4%,#009eff 12.2%,#0096ff 14.3%,#0087ff 16.7%,#007dff 24%,#0086ff 33.4%,#0089ff 35.5%,#0097ff 39%,#00a8ff 42.1%,#00c1ff 45.6%,#00feff 52.9%,#74ff8b 68.2%,#bbff44 76.2%,#fdff02 82.8%,#ffd200 88.1%,#ff8100 96.1%,#ff7400 99.2%,#ff7600 100%)"></i>
<i style="background:linear-gradient(90deg,#00c5ff 0%,#00bcff 1.4%,#009eff 12.2%,#0096ff 14.3%,#0087ff 16.7%,#007dff 24%,#0086ff 33.4%,#0089ff 35.5%,#0097ff 39%,#00a8ff 42.1%,#00c1ff 45.6%,#00feff 52.9%,#74ff8b 68.2%,#bbff44 76.2%,#fdff02 82.8%,#ffd200 88.1%,#ff8100 96.1%,#ff7400 99.2%,#ff7600 100%)"></i>
<i style="background:linear-gradient(90deg,#00c5ff 0%,#00bcff 1.4%,#009eff 12.2%,#0086ff 16.7%,#007dff 24%,#0085ff 33.4%,#0089ff 35.5%,#0097ff 39%,#00a8ff 42.1%,#00c0ff 45.6%,#00ffff 53.3%,#72ff8d 68.2%,#b4ff4b 75.9%,#feff01 83.2%,#ffda00 87.7%,#ff8300 96.4%,#ff7700 99.2%,#ff7b00 100%)"></i>
<i style="background:linear-gradient(90deg,#00c5ff 0%,#00bcff 1.4%,#009eff 12.2%,#0086ff 16.7%,#007dff 24%,#0085ff 33.4%,#0089ff 35.5%,#0097ff 39%,#00a8ff 42.1%,#00c0ff 45.6%,#00ffff 53.3%,#72ff8d 68.2%,#b4ff4b 75.9%,#feff01 83.2%,#ffda00 87.7%,#ff8300 96.4%,#ff7700 99.2%,#ff7b00 100%)"></i>
<i style="background:linear-gradient(90deg,#00c5ff 0%,#00bcff 1.4%,#009dff 12.2%,#0086ff 16.7%,#007cff 24%,#0085ff 33.4%,#0098ff 39.3%,#00b0ff 43.5%,#00feff 53.3%,#6dff92 67.9%,#b1ff4e 75.9%,#fdff02 83.5%,#ffe500 87%,#ffad00 92.6%,#ff8400 97.1%,#ff7900 99.2%,#ff7d00 100%)"></i>
<i style="background:linear-gradient(90deg,#00c5ff 0%,#00bcff 1.4%,#009dff 12.2%,#0086ff 16.7%,#007cff 24%,#0085ff 33.4%,#0098ff 39.3%,#00b0ff 43.5%,#00feff 53.3%,#6dff92 67.9%,#b1ff4e 75.9%,#fdff02 83.5%,#ffe500 87%,#ffad00 92.6%,#ff8400 97.1%,#ff7900 99.2%,#ff7d00 100%)"></i>
<i style="background:linear-gradient(90deg,#00c4ff 0%,#00bbff 1.4%,#009cff 12.2%,#0085ff 16.7%,#007bff 24%,#0084ff 33.4%,#0098ff 39.3%,#00afff 43.5%,#00e1ff 50.1%,#00ffff 53.6%,#6aff95 67.9%,#aaff55 75.5%,#feff01 84.2%,#ffed00 86.7%,#ff8400 97.8%,#ff7c00 99.2%,#ff7d00 100%)"></i>
<i style="background:linear-gradient(90deg,#00c4ff 0%,#00bbff 1.4%,#009cff 12.2%,#0085ff 16.7%,#007bff 24%,#0084ff 33.4%,#0098ff 39.3%,#00afff 43.5%,#00e1ff 50.1%,#00ffff 53.6%,#6aff95 67.9%,#aaff55 75.5%,#feff01 84.2%,#ffed00 86.7%,#ff8400 97.8%,#ff7c00 99.2%,#ff7d00 100%)"></i>
<i style="background:linear-gradient(90deg,#00c2ff 0%,#00bcff 1%,#009dff 11.8%,#0084ff 16.7%,#007bff 24%,#0084ff 33.4%,#0098ff 39.3%,#00afff 43.5%,#00dfff 50.1%,#00feff 53.6%,#65ff9a 67.5%,#a3ff5c 75.2%,#ddff22 81.1%,#feff01 84.9%,#ff8200 98.9%,#ff7f00 100%)"></i>
<i style="background:linear-gradient(90deg,#00c2ff 0%,#00bcff 1%,#009dff 11.8%,#0084ff 16.7%,#007bff 24%,#0084ff 33.4%,#0098ff 39.3%,#00afff 43.5%,#00dfff 50.1%,#00feff 53.6%,#65ff9a 67.5%,#a3ff5c 75.2%,#ddff22 81.1%,#feff01 84.9%,#ff8200 98.9%,#ff7f00 100%)"></i>
<i style="background:linear-gradient(90deg,#00beff 0%,#009fff 11.1%,#0083ff 17.1%,#007aff 24%,#0083ff 33.4%,#0098ff 39.3%,#00aeff 43.5%,#00deff 50.1%,#00fdff 53.6%,#63ff9c 67.5%,#9fff60 75.2%,#cfff30 80.1%,#feff01 85.6%,#ffb200 94.7%,#ff8600 99.2%,#ff8000 100%)"></i>
<i style="background:linear-gradient(90deg,#00beff 0%,#009fff 11.1%,#0083ff 17.1%,#007aff 24%,#0083ff 33.4%,#0098ff 39.3%,#00aeff 43.5%,#00deff 50.1%,#00fdff 53.6%,#63ff9c 67.5%,#9fff60 75.2%,#cfff30 80.1%,#feff01 85.6%,#ffb200 94.7%,#ff8600 99.2%,#ff8000 100%)"></i>
<i style="background:linear-gradient(90deg,#00bdff 0%,#00b2ff 4.9%,#009eff 11.1%,#0083ff 17.1%,#007aff 24%,#0083ff 33.4%,#0099ff 39.7%,#00b0ff 43.9%,#00dcff 50.1%,#00ffff 54%,#61ff9e 67.5%,#99ff66 74.8%,#c4ff3b 79.4%,#e4ff1b 83.5%,#fdff02 86.3%,#ffc000 94%,#ff8400 100%)"></i>
<i style="background:linear-gradient(90deg,#00bdff 0%,#00b2ff 4.9%,#009eff 11.1%,#0083ff 17.1%,#007aff 24%,#0083ff 33.4%,#0099ff 39.7%,#00b0ff 43.9%,#00dcff 50.1%,#00ffff 54%,#61ff9e 67.5%,#99ff66 74.8%,#c4ff3b 79.4%,#e4ff1b 83.5%,#fdff02 86.3%,#ffc000 94%,#ff8400 100%)"></i>
<i style="background:linear-gradient(90deg,#00bdff 0%,#00b3ff 4.5%,#009eff 11.1%,#0083ff 16.7%,#0079ff 24%,#0082ff 33.4%,#009bff 40%,#00b7ff 45.2%,#00daff 50.1%,#00fdff 54%,#5cffa3 67.2%,#95ff6a 74.8%,#b9ff46 78.7%,#e5ff1a 84.6%,#fdff02 87%,#ffd500 92.6%,#ff9c00 99.2%,#ff9800 99.5%,#ff8800 100%)"></i>
<i style="background:linear-gradient(90deg,#00bdff 0%,#00b3ff 4.5%,#009eff 11.1%,#0083ff 16.7%,#0079ff 24%,#0082ff 33.4%,#009bff 40%,#00b7ff 45.2%,#00daff 50.1%,#00fdff 54%,#5cffa3 67.2%,#95ff6a 74.8%,#b9ff46 78.7%,#e5ff1a 84.6%,#fdff02 87%,#ffd500 92.6%,#ff9c00 99.2%,#ff9800 99.5%,#ff8800 100%)"></i>
<i style="background:linear-gradient(90deg,#00bdff 0%,#00b3ff 4.5%,#009dff 11.1%,#0082ff 16.7%,#0078ff 24%,#0082ff 33.4%,#009bff 40%,#00b6ff 45.2%,#00d8ff 50.1%,#00ffff 54.3%,#91ff6e 74.8%,#aeff51 78%,#dbff24 84.2%,#feff01 88.1%,#ffa900 99.2%,#ffa500 99.5%,#ff9000 100%)"></i>
<i style="background:linear-gradient(90deg,#00bdff 0%,#00b3ff 4.5%,#009dff 11.1%,#0082ff 16.7%,#0078ff 24%,#0082ff 33.4%,#009bff 40%,#00b6ff 45.2%,#00d8ff 50.1%,#00ffff 54.3%,#91ff6e 74.8%,#aeff51 78%,#dbff24 84.2%,#feff01 88.1%,#ffa900 99.2%,#ffa500 99.5%,#ff9000 100%)"></i>
<i style="background:linear-gradient(90deg,#00bdff 0%,#00b3ff 4.5%,#009cff 11.1%,#0081ff 16.7%,#0078ff 24%,#0081ff 33.1%,#0098ff 39.3%,#00b5ff 45.2%,#00d7ff 50.1%,#00feff 54.3%,#8bff74 74.5%,#a4ff5b 77.3%,#d1ff2e 83.9%,#feff01 89.5%,#ffbe00 97.8%,#ffb500 99.5%,#ffbb00 100%)"></i>
<i style="background:linear-gradient(90deg,#00bdff 0%,#00b3ff 4.5%,#009cff 11.1%,#0081ff 16.7%,#0078ff 24%,#0081ff 33.1%,#0098ff 39.3%,#00b5ff 45.2%,#00d7ff 50.1%,#00feff 54.3%,#8bff74 74.5%,#a4ff5b 77.3%,#d1ff2e 83.9%,#feff01 89.5%,#ffbe00 97.8%,#ffb500 99.5%,#ffbb00 100%)"></i>
<i style="background:linear-gradient(90deg,#00bdff 0%,#00b2ff 4.5%,#009cff 11.1%,#0081ff 16.7%,#0077ff 24%,#0080ff 33.1%,#0098ff 39.3%,#00b6ff 45.6%,#00d5ff 50.1%,#00ffff 54.6%,#85ff7a 74.1%,#99ff66 76.6%,#c4ff3b 83.2%,#ffff00 90.8%,#ffd400 96.4%,#ffc300 99.2%,#ffc300 99.5%,#ffd100 100%)"></i>
<i style="background:linear-gradient(90deg,#00bdff 0%,#00b2ff 4.5%,#009cff 11.1%,#0081ff 16.7%,#0077ff 24%,#0080ff 33.1%,#0098ff 39.3%,#00b6ff 45.6%,#00d5ff 50.1%,#00ffff 54.6%,#85ff7a 74.1%,#99ff66 76.6%,#c4ff3b 83.2%,#ffff00 90.8%,#ffd400 96.4%,#ffc300 99.2%,#ffc300 99.5%,#ffd100 100%)"></i>
<i style="background:linear-gradient(90deg,#00bcff 0%,#00b2ff 4.5%,#009bff 11.1%,#0080ff 16.7%,#0076ff 24%,#0080ff 33.1%,#00b5ff 45.6%,#00d3ff 50.1%,#00feff 54.6%,#8fff70 75.9%,#c2ff3d 84.2%,#ffff00 92.2%,#ffd000 99.2%,#ffcf00 99.5%,#ffd600 100%)"></i>
<i style="background:linear-gradient(90deg,#00bcff 0%,#00b2ff 4.5%,#009bff 11.1%,#0080ff 16.7%,#0076ff 24%,#0080ff 33.1%,#00b5ff 45.6%,#00d3ff 50.1%,#00feff 54.6%,#8fff70 75.9%,#c2ff3d 84.2%,#ffff00 92.2%,#ffd000 99.2%,#ffcf00 99.5%,#ffd600 100%)"></i>
<i style="background:linear-gradient(90deg,#00bcff 0%,#00b2ff 4.5%,#009bff 11.1%,#007fff 16.7%,#0076ff 24%,#007fff 33.1%,#00b4ff 45.6%,#00d1ff 50.1%,#00ffff 55%,#84ff7b 75.2%,#caff35 87%,#feff01 93.6%,#ffdc00 99.5%,#ffdb00 100%)"></i>
<i style="background:linear-gradient(90deg,#00bcff 0%,#00b2ff 4.5%,#009bff 11.1%,#007fff 16.7%,#0076ff 24%,#007fff 33.1%,#00b4ff 45.6%,#00d1ff 50.1%,#00ffff 55%,#84ff7b 75.2%,#caff35 87%,#feff01 93.6%,#ffdc00 99.5%,#ffdb00 100%)"></i>
<i style="background:linear-gradient(90deg,#00bcff 0%,#00b2ff 4.5%,#009cff 10.8%,#007fff 16.7%,#0075ff 24%,#007eff 33.1%,#00b2ff 45.6%,#00d0ff 50.1%,#01fffe 55.3%,#73ff8c 73.1%,#c0ff3f 87%,#edff12 93.6%,#ffff00 95.7%,#fffa00 97.5%,#ffe600 100%)"></i>
<i style="background:linear-gradient(90deg,#00bcff 0%,#00b2ff 4.5%,#009cff 10.8%,#007fff 16.7%,#0075ff 24%,#007eff 33.1%,#00b2ff 45.6%,#00d0ff 50.1%,#01fffe 55.3%,#73ff8c 73.1%,#c0ff3f 87%,#edff12 93.6%,#ffff00 95.7%,#fffa00 97.5%,#ffe600 100%)"></i>
<i style="background:linear-gradient(90deg,#00bcff 0%,#00b2ff 4.5%,#00a4ff 8.4%,#007fff 16.7%,#0074ff 24%,#007dff 33.1%,#00b1ff 45.6%,#00ceff 50.1%,#00ffff 55.7%,#6eff91 73.1%,#ceff31 91.5%,#e2ff1d 94.7%,#fbff04 97.5%,#feff01 98.5%,#fff600 99.9%,#fff800 100%)"></i>
<i style="background:linear-gradient(90deg,#00bcff 0%,#00b2ff 4.5%,#00a4ff 8.4%,#007fff 16.7%,#0074ff 24%,#007dff 33.1%,#00b1ff 45.6%,#00ceff 50.1%,#00ffff 55.7%,#6eff91 73.1%,#ceff31 91.5%,#e2ff1d 94.7%,#fbff04 97.5%,#feff01 98.5%,#fff600 99.9%,#fff800 100%)"></i>
<i style="background:linear-gradient(90deg,#00bcff 0%,#00abff 6.6%,#0099ff 11.5%,#007fff 16.7%,#0073ff 24%,#007cff 33.1%,#00b0ff 45.6%,#00ccff 50.1%,#00ffff 56%,#6aff95 73.1%,#96ff69 81.8%,#a1ff5e 84.9%,#d4ff2b 94.7%,#f7ff08 97.8%,#feff01 99.2%,#fffd00 100%)"></i>
<i style="background:linear-gradient(90deg,#00bcff 0%,#00abff 6.6%,#0099ff 11.5%,#007fff 16.7%,#0073ff 24%,#007cff 33.1%,#00b0ff 45.6%,#00ccff 50.1%,#00ffff 56%,#6aff95 73.1%,#96ff69 81.8%,#a1ff5e 84.9%,#d4ff2b 94.7%,#f7ff08 97.8%,#feff01 99.2%,#fffd00 100%)"></i>
<i style="background:linear-gradient(90deg,#00bcff 0%,#00abff 6.6%,#0099ff 11.5%,#007fff 16.7%,#0073ff 24%,#007cff 33.1%,#0089ff 36.9%,#00afff 45.6%,#00cdff 50.5%,#00f2ff 54.6%,#00feff 56.4%,#66ff99 73.1%,#8eff71 81.8%,#97ff68 84.6%,#c8ff37 94.7%,#dfff20 96.8%,#fdff02 100%)"></i>
<i style="background:linear-gradient(90deg,#00bcff 0%,#00abff 6.6%,#0099ff 11.5%,#007fff 16.7%,#0073ff 24%,#007cff 33.1%,#0089ff 36.9%,#00afff 45.6%,#00cdff 50.5%,#00f2ff 54.6%,#00feff 56.4%,#66ff99 73.1%,#8eff71 81.8%,#97ff68 84.6%,#c8ff37 94.7%,#dfff20 96.8%,#fdff02 100%)"></i>
<i style="background:linear-gradient(90deg,#00bcff 0%,#00abff 6.6%,#0098ff 11.5%,#0080ff 16.4%,#007bff 18.4%,#0072ff 24.4%,#007bff 33.1%,#0087ff 36.9%,#00adff 45.6%,#00cbff 50.5%,#00efff 54.6%,#00ffff 57.1%,#64ff9b 73.4%,#bcff43 94.7%,#cdff32 96.4%,#deff21 98.9%,#e6ff19 99.5%,#f3ff0c 100%)"></i>
<i style="background:linear-gradient(90deg,#00bcff 0%,#00abff 6.6%,#0098ff 11.5%,#0080ff 16.4%,#007bff 18.4%,#0072ff 24.4%,#007bff 33.1%,#0087ff 36.9%,#00adff 45.6%,#00cbff 50.5%,#00efff 54.6%,#00ffff 57.1%,#64ff9b 73.4%,#bcff43 94.7%,#cdff32 96.4%,#deff21 98.9%,#e6ff19 99.5%,#f3ff0c 100%)"></i>
<i style="background:linear-gradient(90deg,#00bbff 0%,#00abff 6.6%,#0098ff 11.5%,#0080ff 16.4%,#0075ff 21.6%,#0071ff 24.4%,#007aff 33.4%,#0087ff 37.2%,#00acff 45.6%,#00caff 50.5%,#00edff 54.6%,#00ffff 57.4%,#63ff9c 74.1%,#b0ff4f 94.7%,#beff41 96.4%,#d0ff2f 99.5%,#c8ff37 100%)"></i>
<i style="background:linear-gradient(90deg,#00bbff 0%,#00abff 6.6%,#0098ff 11.5%,#0080ff 16.4%,#0075ff 21.6%,#0071ff 24.4%,#007aff 33.4%,#0087ff 37.2%,#00acff 45.6%,#00caff 50.5%,#00edff 54.6%,#00ffff 57.4%,#63ff9c 74.1%,#b0ff4f 94.7%,#beff41 96.4%,#d0ff2f 99.5%,#c8ff37 100%)"></i>
<i style="background:linear-gradient(90deg,#00bbff 0%,#00abff 6.6%,#0098ff 11.5%,#0080ff 16.4%,#0072ff 23%,#0070ff 24.7%,#0079ff 33.4%,#0086ff 37.2%,#00abff 45.6%,#00c8ff 50.5%,#00edff 55%,#01fffe 58.1%,#40ffbf 68.6%,#60ff9f 74.5%,#6bff94 77.3%,#76ff89 81.8%,#8eff71 87.7%,#a4ff5b 94.7%,#bcff43 99.5%,#b1ff4e 100%)"></i>
<i style="background:linear-gradient(90deg,#00bbff 0%,#00abff 6.6%,#0098ff 11.5%,#0080ff 16.4%,#0072ff 23%,#0070ff 24.7%,#0079ff 33.4%,#0086ff 37.2%,#00abff 45.6%,#00c8ff 50.5%,#00edff 55%,#01fffe 58.1%,#40ffbf 68.6%,#60ff9f 74.5%,#6bff94 77.3%,#76ff89 81.8%,#8eff71 87.7%,#a4ff5b 94.7%,#bcff43 99.5%,#b1ff4e 100%)"></i>
<i style="background:linear-gradient(90deg,#00bbff 0%,#00abff 6.6%,#0080ff 16.4%,#0071ff 23%,#006fff 24.7%,#0078ff 33.4%,#0085ff 37.2%,#00aaff 45.6%,#00c6ff 50.5%,#00eaff 55%,#00ffff 58.5%,#3dffc2 68.6%,#5cffa3 74.5%,#6dff92 81.4%,#85ff7a 87.7%,#aaff55 100%)"></i>
<i style="background:linear-gradient(90deg,#00bbff 0%,#00abff 6.6%,#0080ff 16.4%,#0071ff 23%,#006fff 24.7%,#0078ff 33.4%,#0085ff 37.2%,#00aaff 45.6%,#00c6ff 50.5%,#00eaff 55%,#00ffff 58.5%,#3dffc2 68.6%,#5cffa3 74.5%,#6dff92 81.4%,#85ff7a 87.7%,#aaff55 100%)"></i>
<i style="background:linear-gradient(90deg,#00bbff 0%,#00abff 6.6%,#007fff 16.7%,#006eff 24.7%,#0078ff 33.8%,#0083ff 37.2%,#00b4ff 47.7%,#00c4ff 50.5%,#00e7ff 55%,#01fffe 59.2%,#37ffc8 68.2%,#55ffaa 73.8%,#6cff93 84.9%,#81ff7e 89.5%,#9cff63 100%)"></i>
<i style="background:linear-gradient(90deg,#00bbff 0%,#00abff 6.6%,#007fff 16.7%,#006eff 24.7%,#0078ff 33.8%,#0083ff 37.2%,#00b4ff 47.7%,#00c4ff 50.5%,#00e7ff 55%,#01fffe 59.2%,#37ffc8 68.2%,#55ffaa 73.8%,#6cff93 84.9%,#81ff7e 89.5%,#9cff63 100%)"></i>
<i style="background:linear-gradient(90deg,#00bbff 0%,#00abff 6.6%,#007fff 16.7%,#006eff 24.7%,#0077ff 33.8%,#0082ff 37.2%,#00b2ff 47.7%,#00c3ff 50.5%,#00e4ff 55%,#00ffff 59.5%,#34ffcb 68.2%,#4dffb2 73.1%,#5effa1 82.1%,#59ffa6 84.9%,#63ff9c 87.7%,#6eff91 89.5%,#88ff77 99.2%,#85ff7a 100%)"></i>
<i style="background:linear-gradient(90deg,#00bbff 0%,#00abff 6.6%,#007fff 16.7%,#006eff 24.7%,#0077ff 33.8%,#0082ff 37.2%,#00b2ff 47.7%,#00c3ff 50.5%,#00e4ff 55%,#00ffff 59.5%,#34ffcb 68.2%,#4dffb2 73.1%,#5effa1 82.1%,#59ffa6 84.9%,#63ff9c 87.7%,#6eff91 89.5%,#88ff77 99.2%,#85ff7a 100%)"></i>
<i style="background:linear-gradient(90deg,#00bbff 0%,#00b6ff 1%,#00abff 6.6%,#007fff 16.7%,#006dff 24.7%,#0076ff 33.8%,#0081ff 37.2%,#00b1ff 47.7%,#00c3ff 50.8%,#00e2ff 55%,#01fffe 60.2%,#32ffcd 68.6%,#45ffba 72.7%,#51ffae 80.8%,#45ffba 85.3%,#50ffaf 88.8%,#51ffae 90.5%,#60ff9f 95.7%,#70ff8f 100%)"></i>
<i style="background:linear-gradient(90deg,#00bbff 0%,#00b6ff 1%,#00abff 6.6%,#007fff 16.7%,#006dff 24.7%,#0076ff 33.8%,#0081ff 37.2%,#00b1ff 47.7%,#00c3ff 50.8%,#00e2ff 55%,#01fffe 60.2%,#32ffcd 68.6%,#45ffba 72.7%,#51ffae 80.8%,#45ffba 85.3%,#50ffaf 88.8%,#51ffae 90.5%,#60ff9f 95.7%,#70ff8f 100%)"></i>
<i style="background:linear-gradient(90deg,#00baff 0%,#00b5ff 1%,#00abff 6.6%,#007fff 16.7%,#006cff 24.7%,#0075ff 33.8%,#007fff 37.2%,#00afff 47.7%,#00dfff 55%,#01fffe 60.9%,#30ffcf 68.9%,#3fffc0 73.8%,#45ffba 79.4%,#3fffc0 81.4%,#30ffcf 84.6%,#32ffcd 88.4%,#2fffd0 90.5%,#3effc1 100%)"></i>
<i style="background:linear-gradient(90deg,#00baff 0%,#00b5ff 1%,#00abff 6.6%,#007fff 16.7%,#006cff 24.7%,#0075ff 33.8%,#007fff 37.2%,#00afff 47.7%,#00dfff 55%,#01fffe 60.9%,#30ffcf 68.9%,#3fffc0 73.8%,#45ffba 79.4%,#3fffc0 81.4%,#30ffcf 84.6%,#32ffcd 88.4%,#2fffd0 90.5%,#3effc1 100%)"></i>
<i style="background:linear-gradient(90deg,#00baff 0%,#00b5ff 1%,#00abff 6.6%,#0080ff 16.4%,#006bff 24.7%,#0074ff 33.8%,#007eff 37.2%,#00b5ff 49.1%,#00dcff 55%,#00ffff 61.3%,#28ffd7 68.2%,#35ffca 73.1%,#3bffc4 76.9%,#2fffd0 81.1%,#23ffdc 83.2%,#14ffeb 84.9%,#11ffee 87%,#01fffe 90.5%,#03fffc 99.2%,#0bfff4 100%)"></i>
<i style="background:linear-gradient(90deg,#00baff 0%,#00b5ff 1%,#00abff 6.6%,#0080ff 16.4%,#006bff 24.7%,#0074ff 33.8%,#007eff 37.2%,#00b5ff 49.1%,#00dcff 55%,#00ffff 61.3%,#28ffd7 68.2%,#35ffca 73.1%,#3bffc4 76.9%,#2fffd0 81.1%,#23ffdc 83.2%,#14ffeb 84.9%,#11ffee 87%,#01fffe 90.5%,#03fffc 99.2%,#0bfff4 100%)"></i>
<i style="background:linear-gradient(90deg,#00baff 0%,#00b4ff 1%,#00abff 6.6%,#0080ff 16.4%,#006aff 24.4%,#0074ff 33.8%,#007dff 37.2%,#00b4ff 49.1%,#00daff 55%,#00ffff 62%,#1effe1 67.5%,#2dffd2 73.1%,#31ffce 75.9%,#2effd1 77.3%,#1cffe3 81.1%,#11ffee 82.5%,#01fffe 83.5%,#00f9ff 83.9%,#00e9ff 84.6%,#00dfff 85.3%,#00beff 90.1%,#00bfff 98.5%,#00caff 99.5%,#00c4ff 100%)"></i>
<i style="background:linear-gradient(90deg,#00baff 0%,#00b4ff 1%,#00abff 6.6%,#0080ff 16.4%,#006aff 24.4%,#0074ff 33.8%,#007dff 37.2%,#00b4ff 49.1%,#00daff 55%,#00ffff 62%,#1effe1 67.5%,#2dffd2 73.1%,#31ffce 75.9%,#2effd1 77.3%,#1cffe3 81.1%,#11ffee 82.5%,#01fffe 83.5%,#00f9ff 83.9%,#00e9ff 84.6%,#00dfff 85.3%,#00beff 90.1%,#00bfff 98.5%,#00caff 99.5%,#00c4ff 100%)"></i>
<i style="background:linear-gradient(90deg,#00b9ff 0%,#00b4ff 1%,#00abff 6.6%,#0080ff 16.4%,#0069ff 24.7%,#0073ff 33.8%,#007aff 36.9%,#00b2ff 49.1%,#00d9ff 55.3%,#01fffe 62.7%,#17ffe8 67.9%,#27ffd8 74.5%,#1dffe2 77.6%,#0ffff0 80.1%,#04fffb 81.1%,#00feff 81.4%,#00f1ff 82.1%,#00dfff 82.8%,#00b2ff 84.2%,#00a9ff 84.6%,#00a1ff 85.3%,#009dff 89.1%,#00a9ff 98.5%,#00acff 98.9%,#00bcff 99.5%,#00a7ff 100%)"></i>
<i style="background:linear-gradient(90deg,#00b9ff 0%,#00b4ff 1%,#00abff 6.6%,#0080ff 16.4%,#0069ff 24.7%,#0073ff 33.8%,#007aff 36.9%,#00b2ff 49.1%,#00d9ff 55.3%,#01fffe 62.7%,#17ffe8 67.9%,#27ffd8 74.5%,#1dffe2 77.6%,#0ffff0 80.1%,#04fffb 81.1%,#00feff 81.4%,#00f1ff 82.1%,#00dfff 82.8%,#00b2ff 84.2%,#00a9ff 84.6%,#00a1ff 85.3%,#009dff 89.1%,#00a9ff 98.5%,#00acff 98.9%,#00bcff 99.5%,#00a7ff 100%)"></i>
<i style="background:linear-gradient(90deg,#00b3ff 0%,#00acff 6.3%,#0080ff 16.4%,#006bff 23%,#0069ff 25.1%,#0072ff 34.1%,#0079ff 36.9%,#00acff 48%,#00dfff 57.1%,#00ffff 64%,#0ffff0 67.9%,#1cffe3 73.4%,#13ffec 76.6%,#00ffff 79%,#00f1ff 80.1%,#00e2ff 80.8%,#00a2ff 82.8%,#0094ff 83.9%,#00a4ff 90.5%,#00afff 98.5%,#00b2ff 98.9%,#00c2ff 99.5%,#00a9ff 100%)"></i>
<i style="background:linear-gradient(90deg,#00b3ff 0%,#00acff 6.3%,#0080ff 16.4%,#006bff 23%,#0069ff 25.1%,#0072ff 34.1%,#0079ff 36.9%,#00acff 48%,#00dfff 57.1%,#00ffff 64%,#0ffff0 67.9%,#1cffe3 73.4%,#13ffec 76.6%,#00ffff 79%,#00f1ff 80.1%,#00e2ff 80.8%,#00a2ff 82.8%,#0094ff 83.9%,#00a4ff 90.5%,#00afff 98.5%,#00b2ff 98.9%,#00c2ff 99.5%,#00a9ff 100%)"></i>
<i style="background:linear-gradient(90deg,#00b0ff 0%,#00b3ff 1.7%,#00acff 6.3%,#0080ff 16.4%,#0067ff 24.4%,#0071ff 34.1%,#0078ff 36.9%,#00afff 49.1%,#00daff 56.7%,#00ffff 66.1%,#0cfff3 70%,#10ffef 72.7%,#0dfff2 74.5%,#01fffe 76.9%,#00edff 78.3%,#00dbff 79%,#009bff 81.1%,#008eff 82.1%,#009cff 84.9%,#00a6ff 88.4%,#00b7ff 98.5%,#00baff 98.9%,#00d0ff 99.5%,#00c2ff 100%)"></i>
<i style="background:linear-gradient(90deg,#00b0ff 0%,#00b3ff 1.7%,#00acff 6.3%,#0080ff 16.4%,#0067ff 24.4%,#0071ff 34.1%,#0078ff 36.9%,#00afff 49.1%,#00daff 56.7%,#00ffff 66.1%,#0cfff3 70%,#10ffef 72.7%,#0dfff2 74.5%,#01fffe 76.9%,#00edff 78.3%,#00dbff 79%,#009bff 81.1%,#008eff 82.1%,#009cff 84.9%,#00a6ff 88.4%,#00b7ff 98.5%,#00baff 98.9%,#00d0ff 99.5%,#00c2ff 100%)"></i>
<i style="background:linear-gradient(90deg,#00b0ff 0%,#00b2ff 1.7%,#00acff 6.3%,#0080ff 16.4%,#0069ff 23%,#0067ff 24.7%,#0076ff 36.9%,#00ceff 55.3%,#00ffff 68.6%,#03fffc 70.7%,#00ffff 74.5%,#00f6ff 75.9%,#00edff 76.6%,#00dfff 77.3%,#00c8ff 78%,#009eff 79%,#0095ff 79.4%,#008eff 79.7%,#0089ff 80.4%,#00a1ff 84.6%,#00a8ff 86.7%,#00bfff 98.5%,#00c3ff 98.9%,#00e1ff 99.5%,#00cfff 100%)"></i>
<i style="background:linear-gradient(90deg,#00b0ff 0%,#00b2ff 1.7%,#00acff 6.3%,#0080ff 16.4%,#0069ff 23%,#0067ff 24.7%,#0076ff 36.9%,#00ceff 55.3%,#00ffff 68.6%,#03fffc 70.7%,#00ffff 74.5%,#00f6ff 75.9%,#00edff 76.6%,#00dfff 77.3%,#00c8ff 78%,#009eff 79%,#0095ff 79.4%,#008eff 79.7%,#0089ff 80.4%,#00a1ff 84.6%,#00a8ff 86.7%,#00bfff 98.5%,#00c3ff 98.9%,#00e1ff 99.5%,#00cfff 100%)"></i>
<i style="background:linear-gradient(90deg,#00afff 0%,#00b2ff 1.7%,#00abff 6.6%,#0080ff 16.4%,#0068ff 23%,#0066ff 24.7%,#0075ff 36.9%,#00c6ff 55.3%,#00f5ff 67.9%,#00f3ff 73.4%,#00ebff 74.8%,#00d9ff 75.9%,#00c3ff 76.6%,#0099ff 77.6%,#008eff 78%,#0084ff 78.7%,#0085ff 79.4%,#00a5ff 84.2%,#00acff 86%,#00c6ff 98.5%,#00c8ff 98.9%,#00d5ff 99.5%,#00cdff 100%)"></i>
<i style="background:linear-gradient(90deg,#00afff 0%,#00b2ff 1.7%,#00abff 6.6%,#0080ff 16.4%,#0068ff 23%,#0066ff 24.7%,#0075ff 36.9%,#00c6ff 55.3%,#00f5ff 67.9%,#00f3ff 73.4%,#00ebff 74.8%,#00d9ff 75.9%,#00c3ff 76.6%,#0099ff 77.6%,#008eff 78%,#0084ff 78.7%,#0085ff 79.4%,#00a5ff 84.2%,#00acff 86%,#00c6ff 98.5%,#00c8ff 98.9%,#00d5ff 99.5%,#00cdff 100%)"></i>
<i style="background:linear-gradient(90deg,#00afff 0%,#00b2ff 1.7%,#00acff 6.6%,#0080ff 16.4%,#0068ff 23%,#0065ff 24.7%,#0073ff 36.5%,#00c2ff 56%,#00e7ff 67.2%,#00e4ff 72.7%,#00deff 73.8%,#00d3ff 74.5%,#00caff 74.8%,#0089ff 76.6%,#007fff 77.3%,#0081ff 78%,#00aaff 83.9%,#00b4ff 86.3%,#00ceff 98.5%,#00cbff 100%)"></i>
<i style="background:linear-gradient(90deg,#00afff 0%,#00b2ff 1.7%,#00acff 6.6%,#0080ff 16.4%,#0068ff 23%,#0065ff 24.7%,#0073ff 36.5%,#00c2ff 56%,#00e7ff 67.2%,#00e4ff 72.7%,#00deff 73.8%,#00d3ff 74.5%,#00caff 74.8%,#0089ff 76.6%,#007fff 77.3%,#0081ff 78%,#00aaff 83.9%,#00b4ff 86.3%,#00ceff 98.5%,#00cbff 100%)"></i>
<i style="background:linear-gradient(90deg,#00afff 0%,#00b1ff 1.7%,#00acff 6.6%,#0080ff 16.4%,#0067ff 23%,#0064ff 24.7%,#0072ff 36.9%,#00bcff 56.4%,#00d4ff 65.1%,#00d7ff 67.9%,#00d4ff 71%,#00cfff 72.4%,#00c0ff 73.4%,#0085ff 75.2%,#007bff 75.9%,#007dff 76.6%,#0093ff 79%,#00a3ff 81.4%,#00bcff 86.7%,#00d8ff 98.5%,#00d8ff 98.9%,#00ccff 100%)"></i>
<i style="background:linear-gradient(90deg,#00afff 0%,#00b1ff 1.7%,#00acff 6.6%,#0080ff 16.4%,#0067ff 23%,#0064ff 24.7%,#0072ff 36.9%,#00bcff 56.4%,#00d4ff 65.1%,#00d7ff 67.9%,#00d4ff 71%,#00cfff 72.4%,#00c0ff 73.4%,#0085ff 75.2%,#007bff 75.9%,#007dff 76.6%,#0093ff 79%,#00a3ff 81.4%,#00bcff 86.7%,#00d8ff 98.5%,#00d8ff 98.9%,#00ccff 100%)"></i>
<i style="background:linear-gradient(90deg,#00afff 0%,#00b1ff 1.7%,#00acff 6.6%,#0080ff 16.4%,#0066ff 23%,#0063ff 24.7%,#006eff 36.5%,#00baff 58.5%,#00c7ff 67.9%,#00c3ff 70%,#00b9ff 71.4%,#00a5ff 72.4%,#007fff 73.8%,#0077ff 74.5%,#0079ff 75.2%,#009eff 79.4%,#00bcff 84.9%,#00e1ff 98.5%,#00dbff 100%)"></i>
<i style="background:linear-gradient(90deg,#00afff 0%,#00b1ff 1.7%,#00acff 6.6%,#0080ff 16.4%,#0066ff 23%,#0063ff 24.7%,#006eff 36.5%,#00baff 58.5%,#00c7ff 67.9%,#00c3ff 70%,#00b9ff 71.4%,#00a5ff 72.4%,#007fff 73.8%,#0077ff 74.5%,#0079ff 75.2%,#009eff 79.4%,#00bcff 84.9%,#00e1ff 98.5%,#00dbff 100%)"></i>
<i style="background:linear-gradient(90deg,#00afff 0%,#00b1ff 1.7%,#00acff 6.6%,#0080ff 16.4%,#0066ff 23%,#0062ff 24.7%,#006aff 36.5%,#0091ff 49.1%,#00acff 56.4%,#00b5ff 67.5%,#00b2ff 68.6%,#00aaff 69.6%,#009fff 70.3%,#007aff 72.1%,#0072ff 73.1%,#009fff 78.3%,#00b8ff 82.5%,#00caff 87%,#00eaff 98.5%,#00fbff 100%)"></i>
<i style="background:linear-gradient(90deg,#00afff 0%,#00b1ff 1.7%,#00acff 6.6%,#0080ff 16.4%,#0066ff 23%,#0062ff 24.7%,#006aff 36.5%,#0091ff 49.1%,#00acff 56.4%,#00b5ff 67.5%,#00b2ff 68.6%,#00aaff 69.6%,#009fff 70.3%,#007aff 72.1%,#0072ff 73.1%,#009fff 78.3%,#00b8ff 82.5%,#00caff 87%,#00eaff 98.5%,#00fbff 100%)"></i>
<i style="background:linear-gradient(90deg,#00afff 0%,#00acff 6.6%,#0088ff 14.3%,#0060ff 24.4%,#0067ff 36.5%,#0099ff 53.3%,#009fff 56.4%,#009bff 61.6%,#009fff 67.2%,#0097ff 68.2%,#0073ff 70.3%,#006dff 71.4%,#009fff 76.9%,#00baff 81.4%,#00cbff 85.3%,#00f4ff 98.5%,#00feff 100%)"></i>
<i style="background:linear-gradient(90deg,#00afff 0%,#00acff 6.6%,#0088ff 14.3%,#0060ff 24.4%,#0067ff 36.5%,#0099ff 53.3%,#009fff 56.4%,#009bff 61.6%,#009fff 67.2%,#0097ff 68.2%,#0073ff 70.3%,#006dff 71.4%,#009fff 76.9%,#00baff 81.4%,#00cbff 85.3%,#00f4ff 98.5%,#00feff 100%)"></i>
<i style="background:linear-gradient(90deg,#00aeff 0%,#00acff 6.6%,#005dff 24.4%,#0063ff 36.2%,#0087ff 50.8%,#008eff 56%,#0087ff 65.4%,#0080ff 66.8%,#006bff 68.6%,#0068ff 69.3%,#006dff 70.3%,#00a2ff 75.9%,#00bdff 80.4%,#00d3ff 85.6%,#00feff 100%)"></i>
<i style="background:linear-gradient(90deg,#00aeff 0%,#00acff 6.6%,#005dff 24.4%,#0063ff 36.2%,#0087ff 50.8%,#008eff 56%,#0087ff 65.4%,#0080ff 66.8%,#006bff 68.6%,#0068ff 69.3%,#006dff 70.3%,#00a2ff 75.9%,#00bdff 80.4%,#00d0ff 84.9%,#00feff 99.9%)"></i>
<i style="background:linear-gradient(90deg,#00aeff 0%,#00acff 6.6%,#005aff 24.4%,#005fff 35.9%,#0070ff 43.5%,#007cff 55.7%,#0070ff 63.3%,#0062ff 67.2%,#0067ff 68.2%,#0088ff 71.4%,#00a2ff 74.5%,#00bfff 79%,#00d7ff 84.9%,#00faff 97.5%)"></i>
<i style="background:linear-gradient(90deg,#00aeff 0%,#00acff 6.6%,#005aff 24.4%,#005fff 35.9%,#0070ff 43.5%,#007cff 55.7%,#006fff 63.7%,#0062ff 66.8%,#0067ff 68.2%,#0088ff 71.4%,#00a5ff 74.8%,#00bdff 78.7%,#00d6ff 84.6%,#00f5ff 95%)"></i>
<i style="background:linear-gradient(90deg,#00aeff 0%,#00acff 6.6%,#0057ff 24.4%,#005cff 35.9%,#0064ff 42.8%,#006bff 54.6%,#0059ff 64%,#0061ff 65.8%,#0097ff 71.4%,#00beff 76.9%,#00daff 83.9%,#00f0ff 92.2%)"></i>
<i style="background:linear-gradient(90deg,#00aeff 0%,#00acff 6.6%,#0057ff 24.4%,#005cff 35.9%,#0064ff 42.8%,#006bff 54.6%,#0059ff 64%,#0061ff 65.8%,#0094ff 71%,#00baff 76.2%,#00d6ff 82.5%,#00ebff 89.8%)"></i>
<i style="background:linear-gradient(90deg,#00aeff 0%,#00acff 6.6%,#0053ff 24.4%,#0059ff 51.5%,#004eff 60.2%,#0050ff 61.6%,#0056ff 62.7%,#0098ff 69.6%,#00bfff 75.2%,#00d7ff 80.8%,#00e6ff 87.4%)"></i>
<i style="background:linear-gradient(90deg,#00aeff 0%,#00acff 6.6%,#0053ff 24.4%,#0059ff 51.5%,#004eff 60.2%,#0050ff 61.6%,#0056ff 62.7%,#0095ff 69.3%,#00bbff 74.5%,#00d2ff 79.4%,#00e2ff 84.9%)"></i>
<i style="background:linear-gradient(90deg,#00aeff 0%,#00acff 6.6%,#0050ff 24.4%,#004bff 36.2%,#004bff 44.2%,#0043ff 56.7%,#0047ff 58.5%,#004fff 59.9%,#0089ff 65.8%,#00c4ff 73.8%,#00d5ff 78%,#00deff 82.5%)"></i>
<i style="background:linear-gradient(90deg,#00aeff 0%,#00acff 6.6%,#0050ff 24.4%,#004bff 36.2%,#004bff 44.2%,#0043ff 56.7%,#0047ff 58.5%,#004fff 59.9%,#0086ff 65.4%,#00bdff 72.7%,#00ceff 75.9%,#00daff 80.1%)"></i>
<i style="background:linear-gradient(90deg,#00aeff 0%,#00abff 6.6%,#007cff 16%,#004bff 24.4%,#0045ff 28.2%,#003fff 41.8%,#0031ff 49.8%,#0034ff 52.9%,#003dff 55.3%,#004dff 57.4%,#0083ff 62.7%,#00b2ff 68.9%,#00cdff 73.8%,#00d6ff 77.6%)"></i>
<i style="background:linear-gradient(90deg,#00aeff 0%,#00abff 6.6%,#007cff 16%,#004bff 24.4%,#0045ff 28.2%,#003fff 41.8%,#0031ff 49.8%,#0034ff 52.9%,#003dff 55.3%,#004aff 57.1%,#007cff 62%,#0094ff 64.7%,#00bdff 70.7%,#00d1ff 74.8%)"></i>
<i style="background:linear-gradient(90deg,#00adff 0%,#00acff 4.9%,#00a7ff 7%,#0074ff 17.1%,#0045ff 23.7%,#0040ff 24.7%,#0028ff 49.1%,#002cff 50.8%,#0039ff 52.9%,#008eff 61.6%,#00a3ff 64.4%,#00baff 68.2%,#00caff 72.4%)"></i>
<i style="background:linear-gradient(90deg,#00adff 0%,#00acff 4.9%,#00a7ff 7%,#0074ff 17.1%,#0045ff 23.7%,#0040ff 24.7%,#0028ff 48%,#002aff 50.5%,#0037ff 52.6%,#004fff 55.3%,#0093ff 62.3%,#00aeff 66.1%,#00c2ff 70%)"></i>
<i style="background:linear-gradient(90deg,#00adff 0%,#00a7ff 6.3%,#0087ff 13.6%,#006fff 17.4%,#0036ff 24.4%,#0026ff 37.6%,#0024ff 43.5%,#0029ff 47%,#0035ff 50.1%,#009fff 61.6%,#00abff 63.7%,#00bbff 67.5%)"></i>
<i style="background:linear-gradient(90deg,#00adff 0%,#00a7ff 6.3%,#0087ff 13.6%,#006fff 17.4%,#0036ff 24.4%,#0024ff 42.1%,#0028ff 46.6%,#0035ff 50.1%,#009fff 61.6%,#00b2ff 65.1%)"></i>
<i style="background:linear-gradient(90deg,#00adff 0%,#00a4ff 6.6%,#0084ff 13.9%,#006fff 16.7%,#002bff 24.4%,#0023ff 27.8%,#001dff 34.8%,#0022ff 41.4%,#0035ff 47%,#0047ff 50.1%,#008fff 58.5%,#00abff 62.7%)"></i>
<i style="background:linear-gradient(90deg,#00adff 0%,#00a4ff 6.6%,#0084ff 13.9%,#006fff 16.7%,#002bff 24.4%,#0023ff 27.8%,#001dff 34.5%,#0022ff 41.4%,#0035ff 47%,#0047ff 50.1%,#009cff 60.2%)"></i>
<i style="background:linear-gradient(90deg,#00acff 0%,#00a2ff 6.6%,#0084ff 13.2%,#0065ff 17.1%,#0020ff 24%,#0016ff 27.1%,#0014ff 29.2%,#0019ff 36.2%,#002fff 43.5%,#004cff 49.1%,#008bff 57.4%)"></i>
<i style="background:linear-gradient(90deg,#00acff 0%,#00a2ff 6.6%,#0084ff 13.2%,#0065ff 17.1%,#0020ff 24%,#0014ff 28.2%,#0015ff 33.8%,#0027ff 41.4%,#004cff 49.1%,#007aff 55%)"></i>
<i style="background:linear-gradient(90deg,#00a7ff 0%,#009fff 6.6%,#007fff 13.2%,#0057ff 17.8%,#0014ff 23.7%,#000eff 24.7%,#000aff 26.8%,#000eff 31%,#001fff 37.9%,#0055ff 49.1%,#006cff 52.6%)"></i>
<i style="background:linear-gradient(90deg,#00a7ff 0%,#009fff 6.6%,#007fff 13.2%,#0057ff 17.8%,#0014ff 23.7%,#000eff 24.7%,#000aff 26.5%,#000dff 30.6%,#001dff 37.2%,#002eff 41.4%,#005bff 50.1%)"></i>
<i style="background:linear-gradient(90deg,#00a4ff 0%,#009eff 6.3%,#0077ff 13.6%,#0059ff 16.7%,#0012ff 22.3%,#0004ff 24.4%,#0006ff 27.5%,#001bff 35.5%,#0051ff 47.7%)"></i>
<i style="background:linear-gradient(90deg,#00a4ff 0%,#009eff 6.3%,#0077ff 13.6%,#0059ff 16.7%,#0012ff 22.3%,#0004ff 24.4%,#0006ff 27.5%,#0019ff 34.8%,#0047ff 45.2%)"></i>
<i style="background:linear-gradient(90deg,#00a4ff 0%,#0099ff 6.3%,#0071ff 13.6%,#0055ff 16%,#0018ff 19.8%,#000bff 21.2%,#0002ff 23.3%,#0003ff 25.8%,#0011ff 31%,#003fff 42.8%)"></i>
<i style="background:linear-gradient(90deg,#00a4ff 0%,#0099ff 6.3%,#0071ff 13.6%,#0055ff 16%,#0018ff 19.8%,#000bff 21.2%,#0003ff 23%,#0002ff 24.7%,#000cff 29.2%,#0035ff 40%)"></i>
<i style="background:linear-gradient(90deg,#00a3ff 0%,#0092ff 6.6%,#0072ff 12.2%,#005dff 14.3%,#0018ff 18.1%,#000bff 19.8%,#0002ff 23.3%,#0003ff 24.7%,#002dff 37.6%)"></i>
<i style="background:linear-gradient(90deg,#00a3ff 0%,#0092ff 6.6%,#006fff 12.5%,#005dff 14.3%,#0018ff 18.1%,#000cff 19.5%,#0002ff 24.4%,#0025ff 35.2%)"></i>
<i style="background:linear-gradient(90deg,#00a0ff 0%,#008cff 6.6%,#0076ff 10.1%,#005dff 12.5%,#001fff 16.4%,#0010ff 18.4%,#0004ff 24%,#001eff 32.7%)"></i>
<i style="background:linear-gradient(90deg,#00a0ff 0%,#008cff 6.6%,#0076ff 10.1%,#005dff 12.5%,#001fff 16.4%,#0010ff 18.4%,#0004ff 24%,#0017ff 30.3%)"></i>
<i style="background:linear-gradient(90deg,#0093ff 0%,#0094ff 0.7%,#008cff 4.5%,#0081ff 7%,#0062ff 10.1%,#0028ff 14.3%,#0015ff 16.7%,#000bff 19.8%,#0006ff 23.3%,#0010ff 27.8%)"></i>
<i style="background:linear-gradient(90deg,#0093ff 0%,#0094ff 0.7%,#008cff 4.5%,#0081ff 7%,#0062ff 10.1%,#0028ff 14.3%,#0017ff 16.4%,#0007ff 21.6%,#0005ff 23.7%,#0009ff 25.4%)"></i>
<i style="background:linear-gradient(90deg,#008bff 0%,#008dff 0.7%,#0087ff 2.8%,#0075ff 6.3%,#0063ff 8%,#0030ff 11.8%,#001aff 14.3%,#000dff 17.8%,#0006ff 22.6%)"></i>
<i style="background:linear-gradient(90deg,#008bff 0%,#008dff 0.7%,#0087ff 2.8%,#0075ff 6.3%,#0063ff 8%,#0030ff 11.8%,#001aff 14.3%,#000fff 16.7%,#0009ff 20.2%)"></i>
<i style="background:linear-gradient(90deg,#0084ff 0%,#0079ff 2.8%,#0069ff 5.2%,#0031ff 9.7%,#001bff 12.2%,#0012ff 13.9%,#000bff 17.8%)"></i>
<i style="background:linear-gradient(90deg,#0084ff 0%,#006eff 4.5%,#005eff 6.3%,#0039ff 9%,#0023ff 11.1%,#0014ff 13.2%,#000fff 15.3%)"></i>
<i style="background:linear-gradient(90deg,#0075ff 0%,#006aff 2.1%,#005cff 3.8%,#0035ff 7%,#0024ff 8.7%,#0012ff 12.9%)"></i>
<i style="background:linear-gradient(90deg,#0075ff 0%,#0062ff 3.1%,#0054ff 4.5%,#002aff 8%,#001aff 10.4%)"></i>
<i style="background:linear-gradient(90deg,#0062ff 0%,#0054ff 1.7%,#0029ff 5.9%,#0020ff 8%)"></i>
<i style="background:linear-gradient(90deg,#0062ff 0%,#0054ff 1.7%,#002fff 5.2%)"></i>
<i style="background:linear-gradient(90deg,#0050ff 0%,#003bff 2.8%)"></i>
</div>
<div class="h" style="left:757.6px;top:27.2px;width:571.6px;height:411.8px;clip-path:polygon(0.0px 0.0px,571.6px 0.0px,571.6px 332.0px,555.2px 332.0px,555.2px 334.3px,538.8px 334.3px,538.8px 336.5px,522.4px 336.5px,522.4px 338.8px,506.0px 338.8px,506.0px 341.1px,489.6px 341.1px,489.6px 343.4px,473.2px 343.4px,473.2px 345.7px,456.8px 345.7px,456.8px 347.9px,440.4px 347.9px,440.4px 350.2px,424.0px 350.2px,424.0px 352.5px,407.6px 352.5px,407.6px 354.8px,391.2px 354.8px,391.2px 357.1px,374.8px 357.1px,374.8px 359.3px,358.4px 359.3px,358.4px 361.6px,342.0px 361.6px,342.0px 363.9px,325.6px 363.9px,325.6px 366.2px,309.2px 366.2px,309.2px 368.5px,292.8px 368.5px,292.8px 370.7px,276.4px 370.7px,276.4px 373.0px,260.0px 373.0px,260.0px 375.3px,243.6px 375.3px,243.6px 377.6px,227.2px 377.6px,227.2px 379.9px,210.8px 379.9px,210.8px 382.1px,194.4px 382.1px,194.4px 384.4px,178.0px 384.4px,178.0px 386.7px,161.6px 386.7px,161.6px 389.0px,145.2px 389.0px,145.2px 391.3px,128.8px 391.3px,128.8px 393.5px,112.4px 393.5px,112.4px 395.8px,96.0px 395.8px,96.0px 398.1px,79.6px 398.1px,79.6px 400.4px,63.2px 400.4px,63.2px 402.7px,46.8px 402.7px,46.8px 404.9px,30.4px 404.9px,30.4px 407.2px,14.0px 407.2px,14.0px 409.3px,0.0px 409.3px,0.0px 410.3px)">
<i style="background:linear-gradient(90deg,#009eff 0%,#008fff 10.1%,#0090ff 18.2%,#00a4ff 23.4%,#00feff 35.7%,#33ffcc 42%,#80ff7f 57.4%,#feff01 68.6%,#ff8000 79.4%,#ff0500 85.7%,#fb0000 86.1%,#8d0000 89.9%,#810000 90.6%,#800000 100%)"></i>
<i style="background:linear-gradient(90deg,#009eff 0%,#008eff 10.1%,#008fff 18.2%,#00a4ff 23.4%,#00feff 35.7%,#32ffcd 42%,#7fff80 57.4%,#fcff03 68.6%,#fffe00 68.9%,#ff8000 79.4%,#ff0500 85.7%,#fc0000 86.1%,#8e0000 89.9%,#810000 90.6%,#800000 100%)"></i>
<i style="background:linear-gradient(90deg,#009eff 0%,#008dff 10.1%,#008fff 18.2%,#00a3ff 23.4%,#00feff 35.7%,#32ffcd 42%,#7eff81 57.4%,#fffe00 68.9%,#ff8100 79.4%,#fd0000 86.1%,#8e0000 89.9%,#810000 90.6%,#800000 100%)"></i>
<i style="background:linear-gradient(90deg,#009dff 0%,#008dff 10.1%,#008eff 18.2%,#00a3ff 23.4%,#00feff 35.7%,#32ffcd 42%,#7eff81 57.4%,#93ff6c 59.5%,#ffff00 68.9%,#ff8100 79.4%,#fd0000 86.1%,#8f0000 89.9%,#820000 90.6%,#800000 100%)"></i>
<i style="background:linear-gradient(90deg,#009dff 0%,#008cff 10.1%,#008eff 18.2%,#00a2ff 23.4%,#00feff 35.7%,#31ffce 42%,#80ff7f 57.7%,#feff01 68.9%,#ff8200 79.4%,#fd0000 86.1%,#900000 89.9%,#820000 90.6%,#800000 100%)"></i>
<i style="background:linear-gradient(90deg,#009dff 0%,#008cff 10.1%,#008dff 18.2%,#00a2ff 23.4%,#00feff 35.7%,#31ffce 42%,#80ff7f 57.7%,#fdff02 68.9%,#ffe900 71%,#ff8200 79.4%,#fe0000 86.1%,#910000 89.9%,#820000 90.6%,#800000 100%)"></i>
<i style="background:linear-gradient(90deg,#009dff 0%,#008bff 10.1%,#008cff 17.8%,#00a2ff 23.4%,#01fffe 36%,#31ffce 42%,#7fff80 57.7%,#94ff6b 59.8%,#fcff03 68.9%,#fffe00 69.3%,#ffe900 71%,#ff8200 79.4%,#fe0000 86.1%,#910000 89.9%,#820000 90.6%,#800000 91.3%,#800000 100%)"></i>
<i style="background:linear-gradient(90deg,#009dff 0%,#008bff 10.1%,#008bff 17.8%,#00a1ff 23.4%,#01fffe 36%,#30ffcf 42%,#7fff80 57.7%,#93ff6c 59.8%,#ffff00 69.3%,#ff8300 79.4%,#ff0000 86.1%,#920000 89.9%,#830000 90.6%,#800000 91.3%,#800000 100%)"></i>
<i style="background:linear-gradient(90deg,#009dff 0%,#008aff 10.1%,#008bff 17.8%,#00a1ff 23.4%,#01fffe 36%,#30ffcf 42%,#7eff81 57.7%,#92ff6d 59.8%,#feff01 69.3%,#ff8300 79.4%,#ff0000 86.1%,#930000 89.9%,#830000 90.6%,#800000 91.3%,#800000 100%)"></i>
<i style="background:linear-gradient(90deg,#009dff 0%,#008aff 10.1%,#008aff 17.8%,#00a1ff 23.4%,#01fffe 36%,#30ffcf 42%,#7eff81 57.7%,#91ff6e 59.8%,#fdff02 69.3%,#ff8300 79.4%,#ff0100 86.1%,#940000 89.9%,#830000 90.6%,#800000 91.3%,#800000 100%)"></i>
<i style="background:linear-gradient(90deg,#009cff 0%,#0089ff 10.1%,#008aff 17.8%,#00a0ff 23.4%,#00ffff 36%,#2fffd0 42%,#7dff82 57.7%,#90ff6f 59.8%,#fcff03 69.3%,#ffed00 71%,#ff8400 79.4%,#ff0100 86.1%,#8b0000 90.3%,#810000 91%,#800000 100%)"></i>
<i style="background:linear-gradient(90deg,#009cff 0%,#0089ff 10.1%,#0089ff 17.8%,#00a0ff 23.4%,#00ffff 36%,#2fffd0 42%,#7dff82 57.7%,#8fff70 59.8%,#fcff03 69.3%,#fffe00 69.6%,#ffee00 71%,#ff8400 79.4%,#ff0100 86.1%,#8c0000 90.3%,#810000 91%,#800000 100%)"></i>
<i style="background:linear-gradient(90deg,#009cff 0%,#0088ff 10.1%,#0089ff 17.8%,#00a0ff 23.4%,#00ffff 36%,#2fffd0 42%,#7cff83 57.7%,#8eff71 59.8%,#ffff00 69.6%,#ff7f00 79.8%,#ff0200 86.1%,#f80000 86.4%,#8c0000 90.3%,#810000 91%,#800000 100%)"></i>
<i style="background:linear-gradient(90deg,#009aff 0%,#0088ff 10.1%,#0088ff 17.8%,#009fff 23.4%,#00ffff 36%,#2effd1 42%,#7cff83 57.7%,#8dff72 59.8%,#feff01 69.6%,#ff8000 79.8%,#ff0200 86.1%,#f80000 86.4%,#8d0000 90.3%,#810000 91%,#800000 100%)"></i>
<i style="background:linear-gradient(90deg,#0097ff 0%,#0087ff 10.1%,#0087ff 17.8%,#009fff 23.4%,#00ffff 36%,#2effd1 42%,#7eff81 58.1%,#8cff73 59.8%,#fdff02 69.6%,#ffec00 71.4%,#ff8000 79.8%,#ff0300 86.1%,#f90000 86.4%,#8e0000 90.3%,#810000 91%,#800000 100%)"></i>
<i style="background:linear-gradient(90deg,#0096ff 0%,#0097ff 1%,#0087ff 10.1%,#0088ff 18.2%,#009fff 23.4%,#00ffff 36%,#2effd1 42%,#7dff82 58.1%,#8cff73 59.8%,#fcff03 69.6%,#fff200 71%,#ff8000 79.8%,#ff0300 86.1%,#f90000 86.4%,#8f0000 90.3%,#820000 91%,#800000 100%)"></i>
<i style="background:linear-gradient(90deg,#0096ff 0%,#0097ff 1%,#0087ff 10.1%,#0088ff 18.2%,#009fff 23.4%,#00ffff 36%,#2effd1 42%,#7dff82 58.1%,#8cff73 59.8%,#fcff03 69.6%,#fff200 71%,#ff8000 79.8%,#ff0300 86.1%,#f90000 86.4%,#8f0000 90.3%,#820000 91%,#800000 100%)"></i>
<i style="background:linear-gradient(90deg,#0095ff 0%,#0086ff 10.1%,#0087ff 18.2%,#009eff 23.4%,#00feff 36%,#2dffd2 42%,#78ff87 57.4%,#86ff79 59.5%,#feff01 70%,#ff8100 79.8%,#ff0400 86.1%,#fa0000 86.4%,#900000 90.3%,#820000 91%,#800000 100%)"></i>
<i style="background:linear-gradient(90deg,#0095ff 0%,#0086ff 10.1%,#0087ff 18.2%,#009eff 23.4%,#00feff 36%,#2dffd2 42%,#78ff87 57.4%,#86ff79 59.5%,#feff01 70%,#ff8100 79.8%,#ff0400 86.1%,#fa0000 86.4%,#900000 90.3%,#820000 91%,#800000 100%)"></i>
<i style="background:linear-gradient(90deg,#0095ff 0%,#0085ff 10.1%,#0086ff 18.2%,#00a0ff 23.8%,#00feff 36%,#2cffd3 42%,#79ff86 57.7%,#85ff7a 59.5%,#fdff02 70%,#fff100 71.4%,#ff8200 79.8%,#ff0500 86.1%,#fb0000 86.4%,#920000 90.3%,#830000 91%,#800000 91.7%,#800000 100%)"></i>
<i style="background:linear-gradient(90deg,#0095ff 0%,#0085ff 10.1%,#0086ff 18.2%,#00a0ff 23.8%,#00feff 36%,#2cffd3 42%,#79ff86 57.7%,#85ff7a 59.5%,#fdff02 70%,#fff100 71.4%,#ff8200 79.8%,#ff0500 86.1%,#fb0000 86.4%,#920000 90.3%,#830000 91%,#800000 91.7%,#800000 100%)"></i>
<i style="background:linear-gradient(90deg,#0095ff 0%,#0084ff 10.1%,#0085ff 18.2%,#009fff 23.8%,#01fffe 36.4%,#2cffd3 42%,#83ff7c 59.5%,#ffff00 70.3%,#ff8300 79.8%,#ff0500 86.1%,#fc0000 86.4%,#930000 90.3%,#830000 91%,#800000 91.7%,#800000 100%)"></i>
<i style="background:linear-gradient(90deg,#0095ff 0%,#0084ff 10.1%,#0085ff 18.2%,#009fff 23.8%,#01fffe 36.4%,#2cffd3 42%,#83ff7c 59.5%,#ffff00 70.3%,#ff8300 79.8%,#ff0500 86.1%,#fc0000 86.4%,#930000 90.3%,#830000 91%,#800000 91.7%,#800000 100%)"></i>
<i style="background:linear-gradient(90deg,#0094ff 0%,#0083ff 10.1%,#0084ff 18.2%,#009eff 23.8%,#01fffe 36.4%,#2bffd4 42%,#82ff7d 59.5%,#fdff02 70.3%,#fff400 71.4%,#ff8300 79.8%,#fd0000 86.4%,#8c0000 90.6%,#810000 91.3%,#800000 100%)"></i>
<i style="background:linear-gradient(90deg,#0094ff 0%,#0083ff 10.1%,#0084ff 18.2%,#009eff 23.8%,#01fffe 36.4%,#2bffd4 42%,#82ff7d 59.5%,#fdff02 70.3%,#fff400 71.4%,#ff8300 79.8%,#fd0000 86.4%,#8c0000 90.6%,#810000 91.3%,#800000 100%)"></i>
<i style="background:linear-gradient(90deg,#0094ff 0%,#0082ff 10.1%,#0083ff 18.2%,#009eff 23.8%,#00c9ff 29.7%,#00ffff 36.4%,#2affd5 42%,#83ff7c 59.8%,#ffff00 70.7%,#ff7e00 80.1%,#fe0000 86.4%,#8d0000 90.6%,#810000 91.3%,#800000 100%)"></i>
<i style="background:linear-gradient(90deg,#0094ff 0%,#0082ff 10.1%,#0083ff 18.2%,#009eff 23.8%,#00c9ff 29.7%,#00ffff 36.4%,#2affd5 42%,#83ff7c 59.8%,#ffff00 70.7%,#ff7e00 80.1%,#fe0000 86.4%,#8d0000 90.6%,#810000 91.3%,#800000 100%)"></i>
<i style="background:linear-gradient(90deg,#0094ff 0%,#0081ff 10.1%,#0082ff 18.2%,#009dff 23.8%,#00c8ff 29.7%,#00ffff 36.4%,#2bffd4 42.3%,#81ff7e 59.8%,#feff01 70.7%,#ff7f00 80.1%,#ff0000 86.4%,#8f0000 90.6%,#820000 91.3%,#800000 100%)"></i>
<i style="background:linear-gradient(90deg,#0094ff 0%,#0081ff 10.1%,#0082ff 18.2%,#009dff 23.8%,#00c8ff 29.7%,#00ffff 36.4%,#2bffd4 42.3%,#81ff7e 59.8%,#feff01 70.7%,#ff7f00 80.1%,#ff0000 86.4%,#8f0000 90.6%,#820000 91.3%,#800000 100%)"></i>
<i style="background:linear-gradient(90deg,#0093ff 0%,#007fff 10.1%,#0080ff 18.2%,#009cff 23.8%,#00c7ff 29.7%,#00feff 36.4%,#2affd5 42.3%,#80ff7f 59.8%,#fcff03 70.7%,#fff900 71.4%,#ff8000 80.1%,#ff0100 86.4%,#910000 90.6%,#830000 91.3%,#800000 93.1%,#800000 100%)"></i>
<i style="background:linear-gradient(90deg,#0093ff 0%,#007fff 10.1%,#0080ff 18.2%,#009cff 23.8%,#00c7ff 29.7%,#00feff 36.4%,#2affd5 42.3%,#80ff7f 59.8%,#fcff03 70.7%,#fff900 71.4%,#ff8000 80.1%,#ff0100 86.4%,#910000 90.6%,#830000 91.3%,#800000 93.1%,#800000 100%)"></i>
<i style="background:linear-gradient(90deg,#0093ff 0%,#007dff 10.1%,#007fff 18.2%,#009bff 23.8%,#00c6ff 29.7%,#01fffe 36.7%,#27ffd8 42%,#7fff80 59.8%,#feff01 71%,#ff8100 80.1%,#ff0300 86.4%,#f10000 87.1%,#930000 90.6%,#850000 91.3%,#800000 93.1%,#800000 100%)"></i>
<i style="background:linear-gradient(90deg,#0093ff 0%,#007dff 10.1%,#007fff 18.2%,#009bff 23.8%,#00c6ff 29.7%,#01fffe 36.7%,#27ffd8 42%,#7fff80 59.8%,#feff01 71%,#ff8100 80.1%,#ff0300 86.4%,#f10000 87.1%,#930000 90.6%,#850000 91.3%,#800000 93.1%,#800000 100%)"></i>
<i style="background:linear-gradient(90deg,#0092ff 0%,#007bff 10.1%,#007dff 18.2%,#009aff 23.8%,#00c5ff 29.7%,#00feff 36.7%,#26ffd9 42%,#7dff82 59.8%,#fdff02 71%,#ffe500 73.1%,#ff8200 80.1%,#ff0500 86.4%,#fc0000 86.8%,#950000 90.6%,#880000 91.3%,#800000 93.1%,#800000 100%)"></i>
<i style="background:linear-gradient(90deg,#0092ff 0%,#007bff 10.1%,#007dff 18.2%,#009aff 23.8%,#00c5ff 29.7%,#00feff 36.7%,#26ffd9 42%,#7dff82 59.8%,#fdff02 71%,#ffe500 73.1%,#ff8200 80.1%,#ff0500 86.4%,#fc0000 86.8%,#950000 90.6%,#880000 91.3%,#800000 93.1%,#800000 100%)"></i>
<i style="background:linear-gradient(90deg,#0092ff 0%,#008bff 1.7%,#0079ff 10.1%,#007bff 18.2%,#0099ff 23.8%,#00c4ff 29.7%,#00ffff 37.1%,#24ffdb 42%,#7cff83 59.8%,#95ff6a 62.3%,#ffff00 71.4%,#ff8400 80.1%,#fe0000 86.8%,#980000 90.6%,#8a0000 91.3%,#800000 93.1%,#800000 100%)"></i>
<i style="background:linear-gradient(90deg,#0092ff 0%,#008bff 1.7%,#0079ff 10.1%,#007bff 18.2%,#0099ff 23.8%,#00c4ff 29.7%,#00ffff 37.1%,#24ffdb 42%,#7cff83 59.8%,#95ff6a 62.3%,#ffff00 71.4%,#ff8400 80.1%,#fe0000 86.8%,#980000 90.6%,#8a0000 91.3%,#800000 93.1%,#800000 100%)"></i>
<i style="background:linear-gradient(90deg,#0091ff 0%,#0089ff 1.7%,#0077ff 10.1%,#0079ff 18.2%,#0096ff 23.4%,#00aeff 26.9%,#00feff 37.1%,#22ffdd 42%,#7bff84 59.8%,#94ff6b 62.3%,#feff01 71.4%,#ffe500 73.5%,#ff8500 80.1%,#ff0100 86.8%,#9a0000 90.6%,#8d0000 91.3%,#800000 93.1%,#800000 100%)"></i>
<i style="background:linear-gradient(90deg,#0091ff 0%,#0089ff 1.7%,#0077ff 10.1%,#0079ff 18.2%,#0096ff 23.4%,#00aeff 26.9%,#00feff 37.1%,#22ffdd 42%,#7bff84 59.8%,#94ff6b 62.3%,#feff01 71.4%,#ffe500 73.5%,#ff8500 80.1%,#ff0100 86.8%,#9a0000 90.6%,#8d0000 91.3%,#800000 93.1%,#800000 100%)"></i>
<i style="background:linear-gradient(90deg,#0091ff 0%,#0088ff 1.7%,#0075ff 10.1%,#0077ff 18.2%,#0095ff 23.4%,#00b0ff 27.3%,#00ffff 37.4%,#21ffde 42%,#7dff82 60.2%,#92ff6d 62.3%,#fcff03 71.4%,#fffe00 71.7%,#ffe700 73.5%,#ff8600 80.1%,#ff0300 86.8%,#fa0000 87.1%,#9d0000 90.6%,#900000 91.3%,#800000 93.1%,#800000 100%)"></i>
<i style="background:linear-gradient(90deg,#0091ff 0%,#0088ff 1.7%,#0075ff 10.1%,#0077ff 18.2%,#0095ff 23.4%,#00b0ff 27.3%,#00ffff 37.4%,#21ffde 42%,#7dff82 60.2%,#92ff6d 62.3%,#fcff03 71.4%,#fffe00 71.7%,#ffe700 73.5%,#ff8600 80.1%,#ff0300 86.8%,#fa0000 87.1%,#9d0000 90.6%,#900000 91.3%,#800000 93.1%,#800000 100%)"></i>
<i style="background:linear-gradient(90deg,#0090ff 0%,#0088ff 1%,#0072ff 10.1%,#0075ff 18.2%,#00afff 27.3%,#00feff 37.4%,#1fffe0 42%,#49ffb6 50.7%,#7cff83 60.2%,#90ff6f 62.3%,#ffff00 71.7%,#ffe900 73.5%,#ff8100 80.5%,#ff0500 86.8%,#fc0000 87.1%,#970000 91%,#830000 92.7%,#800000 93.4%,#800000 100%)"></i>
<i style="background:linear-gradient(90deg,#0090ff 0%,#0088ff 1%,#0072ff 10.1%,#0075ff 18.2%,#00afff 27.3%,#00feff 37.4%,#1fffe0 42%,#49ffb6 50.7%,#7cff83 60.2%,#90ff6f 62.3%,#ffff00 71.7%,#ffe900 73.5%,#ff8100 80.5%,#ff0500 86.8%,#fc0000 87.1%,#970000 91%,#830000 92.7%,#800000 93.4%,#800000 100%)"></i>
<i style="background:linear-gradient(90deg,#008fff 0%,#0086ff 1%,#0070ff 10.1%,#0073ff 18.2%,#00b0ff 27.6%,#00ffff 37.8%,#1effe1 42%,#47ffb8 50.7%,#7bff84 60.2%,#8fff70 62.3%,#fdff02 71.7%,#ffeb00 73.5%,#ff8200 80.5%,#fe0000 87.1%,#9a0000 91%,#8f0000 92%,#830000 92.7%,#800000 93.4%,#800000 100%)"></i>
<i style="background:linear-gradient(90deg,#008fff 0%,#0086ff 1%,#0070ff 10.1%,#0073ff 18.2%,#00b0ff 27.6%,#00ffff 37.8%,#1effe1 42%,#47ffb8 50.7%,#7bff84 60.2%,#8fff70 62.3%,#fdff02 71.7%,#ffeb00 73.5%,#ff8200 80.5%,#fe0000 87.1%,#9a0000 91%,#8f0000 92%,#830000 92.7%,#800000 93.4%,#800000 100%)"></i>
<i style="background:linear-gradient(90deg,#0084ff 0%,#0085ff 1%,#006eff 10.5%,#0072ff 18.2%,#00bbff 29.4%,#00feff 37.8%,#1cffe3 42%,#45ffba 50.7%,#7aff85 60.2%,#8dff72 62.3%,#ffff00 72.1%,#ffed00 73.5%,#ff8300 80.5%,#ff0100 87.1%,#9c0000 91%,#830000 92.7%,#800000 93.4%,#800000 100%)"></i>
<i style="background:linear-gradient(90deg,#0084ff 0%,#0085ff 1%,#006eff 10.5%,#0072ff 18.2%,#00bbff 29.4%,#00feff 37.8%,#1cffe3 42%,#45ffba 50.7%,#7aff85 60.2%,#8dff72 62.3%,#ffff00 72.1%,#ffed00 73.5%,#ff8300 80.5%,#ff0100 87.1%,#9c0000 91%,#830000 92.7%,#800000 93.4%,#800000 100%)"></i>
<i style="background:linear-gradient(90deg,#007eff 0%,#0083ff 1%,#006cff 10.5%,#0070ff 18.2%,#00baff 29.4%,#00ffff 38.1%,#1bffe4 42%,#43ffbc 50.7%,#79ff86 60.2%,#8fff70 62.6%,#feff01 72.1%,#ffef00 73.5%,#ff8400 80.5%,#ff0200 87.1%,#f90000 87.5%,#9f0000 91%,#830000 92.7%,#800000 93.4%,#800000 100%)"></i>
<i style="background:linear-gradient(90deg,#007eff 0%,#0083ff 1%,#006cff 10.5%,#0070ff 18.2%,#00baff 29.4%,#00ffff 38.1%,#1bffe4 42%,#43ffbc 50.7%,#79ff86 60.2%,#8fff70 62.6%,#feff01 72.1%,#ffef00 73.5%,#ff8400 80.5%,#ff0200 87.1%,#f90000 87.5%,#9f0000 91%,#830000 92.7%,#800000 93.4%,#800000 100%)"></i>
<i style="background:linear-gradient(90deg,#007eff 0%,#0082ff 1%,#0069ff 10.5%,#006eff 18.2%,#00b9ff 29.4%,#00ecff 35.7%,#01fffe 38.5%,#19ffe6 42%,#42ffbd 50.7%,#78ff87 60.2%,#8dff72 62.6%,#fcff03 72.1%,#fffe00 72.4%,#fff100 73.5%,#ff8500 80.5%,#ff0400 87.1%,#fb0000 87.5%,#a90000 90.6%,#830000 92.7%,#800000 93.4%,#800000 100%)"></i>
<i style="background:linear-gradient(90deg,#007eff 0%,#0082ff 1%,#0069ff 10.5%,#006eff 18.2%,#00b9ff 29.4%,#00ecff 35.7%,#01fffe 38.5%,#19ffe6 42%,#42ffbd 50.7%,#78ff87 60.2%,#8dff72 62.6%,#fcff03 72.1%,#fffe00 72.4%,#fff100 73.5%,#ff8500 80.5%,#ff0400 87.1%,#fb0000 87.5%,#a90000 90.6%,#830000 92.7%,#800000 93.4%,#800000 100%)"></i>
<i style="background:linear-gradient(90deg,#007dff 0%,#0081ff 1%,#0068ff 10.5%,#006dff 18.2%,#00b8ff 29.4%,#00ecff 35.7%,#00ffff 38.5%,#18ffe7 42%,#42ffbd 51.1%,#77ff88 60.2%,#8dff72 62.6%,#ffff00 72.4%,#ff8600 80.5%,#fc0000 87.5%,#aa0000 90.6%,#830000 92.7%,#800000 93.4%,#800000 100%)"></i>
<i style="background:linear-gradient(90deg,#007dff 0%,#0080ff 1%,#0067ff 10.5%,#006cff 18.2%,#00b7ff 29.4%,#00ffff 38.5%,#18ffe7 42%,#42ffbd 51.1%,#79ff86 60.5%,#8cff73 62.6%,#feff01 72.4%,#fff300 73.5%,#ff8700 80.5%,#fd0000 87.5%,#ac0000 90.6%,#830000 92.7%,#800000 93.4%,#800000 100%)"></i>
<i style="background:linear-gradient(90deg,#007dff 0%,#007fff 1%,#0066ff 10.5%,#006bff 18.2%,#00b7ff 29.4%,#00feff 38.5%,#17ffe8 42%,#41ffbe 51.1%,#79ff86 60.5%,#8bff74 62.6%,#fdff02 72.4%,#fff400 73.5%,#ff8700 80.5%,#fe0000 87.5%,#ad0000 90.6%,#830000 92.7%,#800000 93.4%,#800000 100%)"></i>
<i style="background:linear-gradient(90deg,#007cff 0%,#007eff 1%,#0065ff 10.1%,#0069ff 17.8%,#00b6ff 29.4%,#00eaff 35.7%,#01fffe 38.8%,#16ffe9 42%,#40ffbf 51.1%,#78ff87 60.5%,#8aff75 62.6%,#fcff03 72.4%,#fff500 73.5%,#ff8800 80.5%,#ff0000 87.5%,#ae0000 90.6%,#840000 92.7%,#800000 93.4%,#800000 100%)"></i>
<i style="background:linear-gradient(90deg,#007cff 0%,#007dff 1%,#0064ff 10.1%,#0068ff 17.8%,#00b6ff 29.4%,#00e9ff 35.7%,#00ffff 38.8%,#15ffea 42%,#3fffc0 51.1%,#78ff87 60.5%,#89ff76 62.6%,#ffff00 72.8%,#ff8200 80.8%,#ff0100 87.5%,#af0000 90.6%,#840000 92.7%,#800000 93.4%,#800000 100%)"></i>
<i style="background:linear-gradient(90deg,#007cff 0%,#007dff 1%,#0063ff 10.1%,#0067ff 17.8%,#00b5ff 29.4%,#00e9ff 35.7%,#00feff 38.8%,#14ffeb 42%,#3effc1 51.1%,#77ff88 60.5%,#88ff77 62.6%,#feff01 72.8%,#fff100 73.8%,#ff8300 80.8%,#ff0200 87.5%,#f90000 87.8%,#b10000 90.6%,#840000 92.7%,#800000 93.4%,#800000 100%)"></i>
<i style="background:linear-gradient(90deg,#007cff 0%,#007cff 1%,#0062ff 10.1%,#0066ff 17.8%,#00b4ff 29.4%,#00e8ff 35.7%,#00feff 38.8%,#14ffeb 42%,#3dffc2 51.1%,#81ff7e 61.9%,#fdff02 72.8%,#fff200 73.8%,#ff8300 80.8%,#ff0300 87.5%,#fa0000 87.8%,#b20000 90.6%,#840000 92.7%,#800000 93.4%,#800000 100%)"></i>
<i style="background:linear-gradient(90deg,#007bff 0%,#0061ff 10.1%,#0066ff 17.8%,#00b4ff 29.4%,#00e7ff 35.7%,#01fffe 39.2%,#13ffec 42%,#3cffc3 51.1%,#80ff7f 61.9%,#fcff03 72.8%,#fff300 73.8%,#ff8400 80.8%,#ff0400 87.5%,#fb0000 87.8%,#b30000 90.6%,#840000 92.7%,#800000 93.4%,#800000 100%)"></i>
<i style="background:linear-gradient(90deg,#007bff 0%,#0060ff 10.1%,#0065ff 17.8%,#00b3ff 29.4%,#00e7ff 35.7%,#00ffff 39.2%,#12ffed 42%,#3bffc4 51.1%,#7fff80 61.9%,#fbff04 72.8%,#fffe00 73.1%,#fff400 73.8%,#ff8400 80.8%,#ff0500 87.5%,#fc0000 87.8%,#b40000 90.6%,#840000 92.7%,#800000 93.4%,#800000 100%)"></i>
<i style="background:linear-gradient(90deg,#007bff 0%,#005fff 10.1%,#0064ff 17.8%,#00b2ff 29.4%,#00e6ff 35.7%,#00feff 39.2%,#13ffec 42.3%,#3affc5 51.1%,#7fff80 61.9%,#ffff00 73.1%,#ff7f00 81.2%,#fd0000 87.8%,#b50000 90.6%,#840000 92.7%,#800000 93.4%,#800000 100%)"></i>
<i style="background:linear-gradient(90deg,#007aff 0%,#005eff 10.1%,#0063ff 17.8%,#00b2ff 29.4%,#00e6ff 35.7%,#01fffe 39.5%,#12ffed 42.3%,#39ffc6 51.1%,#7eff81 61.9%,#feff01 73.1%,#ff8000 81.2%,#fe0000 87.8%,#840000 92.7%,#800000 93.4%,#800000 100%)"></i>
<i style="background:linear-gradient(90deg,#007aff 0%,#005dff 10.1%,#0062ff 17.8%,#00b1ff 29.4%,#00e5ff 35.7%,#00ffff 39.5%,#12ffed 42.3%,#38ffc7 51.1%,#7dff82 61.9%,#fdff02 73.1%,#fff700 73.8%,#ff8000 81.2%,#ff0100 87.8%,#850000 92.7%,#800000 93.4%,#800000 100%)"></i>
<i style="background:linear-gradient(90deg,#007aff 0%,#005cff 10.1%,#0061ff 17.8%,#00b1ff 29.4%,#00e5ff 35.7%,#00ffff 39.5%,#11ffee 42.3%,#39ffc6 51.4%,#7cff83 61.9%,#fbff04 73.1%,#fff900 73.8%,#ff8200 81.2%,#ff0200 87.8%,#f90000 88.2%,#860000 92.7%,#820000 93.4%,#800000 100%)"></i>
<i style="background:linear-gradient(90deg,#007aff 0%,#005bff 10.1%,#0061ff 17.8%,#00b0ff 29.4%,#00e4ff 35.7%,#00ffff 39.5%,#0ffff0 42%,#38ffc7 51.4%,#7bff84 61.9%,#ffff00 73.5%,#ff8300 81.2%,#ff0400 87.8%,#fb0000 88.2%,#890000 92.7%,#840000 93.4%,#800000 96.2%,#800000 100%)"></i>
<i style="background:linear-gradient(90deg,#0079ff 0%,#005aff 10.1%,#005fff 17.8%,#00b0ff 29.4%,#00e4ff 35.7%,#00ffff 39.5%,#0efff1 42%,#37ffc8 51.4%,#79ff86 61.9%,#b5ff4a 67.5%,#fbff04 73.5%,#fffd00 73.8%,#ff8700 81.2%,#ff0000 88.2%,#8e0000 92.7%,#800000 96.2%,#800000 100%)"></i>
<i style="background:linear-gradient(90deg,#0079ff 0%,#005aff 10.1%,#005fff 17.8%,#00b0ff 29.4%,#00e4ff 35.7%,#00ffff 39.5%,#0efff1 42%,#37ffc8 51.4%,#79ff86 61.9%,#b5ff4a 67.5%,#fbff04 73.5%,#fffd00 73.8%,#ff8700 81.2%,#ff0000 88.2%,#8e0000 92.7%,#800000 96.2%,#800000 100%)"></i>
<i style="background:linear-gradient(90deg,#0079ff 0%,#0059ff 10.1%,#005eff 17.8%,#00afff 29.4%,#00ffff 39.5%,#0efff1 42%,#35ffca 51.4%,#7aff85 62.3%,#b1ff4e 67.5%,#feff01 73.8%,#ff8a00 81.2%,#ff0500 88.2%,#fc0000 88.5%,#930000 92.7%,#800000 96.2%,#800000 100%)"></i>
<i style="background:linear-gradient(90deg,#0079ff 0%,#0059ff 10.1%,#005eff 17.8%,#00afff 29.4%,#00ffff 39.5%,#0efff1 42%,#35ffca 51.4%,#7aff85 62.3%,#b1ff4e 67.5%,#feff01 73.8%,#ff8a00 81.2%,#ff0500 88.2%,#fc0000 88.5%,#930000 92.7%,#800000 96.2%,#800000 100%)"></i>
<i style="background:linear-gradient(90deg,#0078ff 0%,#0057ff 10.1%,#005dff 17.8%,#00aeff 29.4%,#00ffff 39.5%,#0dfff2 42%,#33ffcc 51.4%,#78ff87 62.3%,#aeff51 67.5%,#faff05 73.8%,#fffe00 74.2%,#ffee00 75.2%,#ff8e00 81.2%,#ff0100 88.5%,#990000 92.7%,#800000 96.2%,#800000 100%)"></i>
<i style="background:linear-gradient(90deg,#0078ff 0%,#0057ff 10.1%,#005dff 17.8%,#00aeff 29.4%,#00ffff 39.5%,#0dfff2 42%,#33ffcc 51.4%,#78ff87 62.3%,#aeff51 67.5%,#faff05 73.8%,#fffe00 74.2%,#ffee00 75.2%,#ff8e00 81.2%,#ff0100 88.5%,#990000 92.7%,#800000 96.2%,#800000 100%)"></i>
<i style="background:linear-gradient(90deg,#0078ff 0%,#0071ff 1%,#0056ff 10.1%,#005bff 17.8%,#00aeff 29.4%,#00ffff 39.5%,#31ffce 51.4%,#76ff89 62.3%,#aaff55 67.5%,#fdff02 74.2%,#ffd700 77%,#ff9100 81.2%,#ff0600 88.5%,#fc0000 88.9%,#9e0000 92.7%,#800000 96.2%,#800000 100%)"></i>
<i style="background:linear-gradient(90deg,#0078ff 0%,#0071ff 1%,#0056ff 10.1%,#005bff 17.8%,#00aeff 29.4%,#00ffff 39.5%,#31ffce 51.4%,#76ff89 62.3%,#aaff55 67.5%,#fdff02 74.2%,#ffd700 77%,#ff9100 81.2%,#ff0600 88.5%,#fc0000 88.9%,#9e0000 92.7%,#800000 96.2%,#800000 100%)"></i>
<i style="background:linear-gradient(90deg,#0077ff 0%,#0070ff 1%,#0055ff 10.1%,#005aff 17.8%,#00adff 29.4%,#00ffff 39.5%,#2fffd0 51.4%,#74ff8b 62.3%,#a7ff58 67.5%,#eaff15 73.1%,#ffff00 74.5%,#ffd500 77.3%,#ff9500 81.2%,#ff2600 87.1%,#ff0200 88.9%,#a40000 92.7%,#800000 96.2%,#800000 100%)"></i>
<i style="background:linear-gradient(90deg,#0077ff 0%,#0070ff 1%,#0055ff 10.1%,#005aff 17.8%,#00adff 29.4%,#00ffff 39.5%,#2fffd0 51.4%,#74ff8b 62.3%,#a7ff58 67.5%,#eaff15 73.1%,#ffff00 74.5%,#ffd500 77.3%,#ff9500 81.2%,#ff2600 87.1%,#ff0200 88.9%,#a40000 92.7%,#800000 96.2%,#800000 100%)"></i>
<i style="background:linear-gradient(90deg,#0077ff 0%,#006fff 1%,#0054ff 10.1%,#0059ff 17.8%,#00acff 29.4%,#00ffff 39.5%,#2dffd2 51.4%,#72ff8d 62.3%,#a3ff5c 67.5%,#fcff03 74.5%,#fffd00 74.9%,#ffde00 77%,#ff9e00 80.8%,#ff0600 88.9%,#fc0000 89.2%,#aa0000 92.7%,#8f0000 95.2%,#840000 95.9%,#800000 96.6%,#800000 100%)"></i>
<i style="background:linear-gradient(90deg,#0077ff 0%,#006fff 1%,#0054ff 10.1%,#0059ff 17.8%,#00acff 29.4%,#00ffff 39.5%,#2dffd2 51.4%,#72ff8d 62.3%,#a3ff5c 67.5%,#fcff03 74.5%,#fffd00 74.9%,#ffde00 77%,#ff9e00 80.8%,#ff0600 88.9%,#fc0000 89.2%,#aa0000 92.7%,#8f0000 95.2%,#840000 95.9%,#800000 96.6%,#800000 100%)"></i>
<i style="background:linear-gradient(90deg,#0072ff 0%,#0052ff 10.1%,#0058ff 17.8%,#00acff 29.4%,#00feff 39.5%,#2bffd4 51.4%,#70ff8f 62.3%,#9fff60 67.5%,#e4ff1b 73.1%,#fdff02 74.9%,#ffe200 77%,#ff9c00 81.2%,#ff1900 88.2%,#ff0200 89.2%,#af0000 92.7%,#910000 95.2%,#840000 95.9%,#800000 96.6%,#800000 100%)"></i>
<i style="background:linear-gradient(90deg,#0072ff 0%,#0052ff 10.1%,#0058ff 17.8%,#00acff 29.4%,#00feff 39.5%,#2bffd4 51.4%,#70ff8f 62.3%,#9fff60 67.5%,#e4ff1b 73.1%,#fdff02 74.9%,#ffe200 77%,#ff9c00 81.2%,#ff1900 88.2%,#ff0200 89.2%,#af0000 92.7%,#910000 95.2%,#840000 95.9%,#800000 96.6%,#800000 100%)"></i>
<i style="background:linear-gradient(90deg,#006aff 0%,#006cff 1%,#0051ff 10.1%,#0056ff 17.8%,#00aeff 29.7%,#00feff 39.5%,#29ffd6 51.4%,#6eff91 62.3%,#9cff63 67.5%,#e6ff19 73.5%,#ffff00 75.2%,#ffe000 77.3%,#ff9f00 81.2%,#ff3100 87.1%,#fd0000 89.6%,#b50000 92.7%,#920000 95.2%,#850000 95.9%,#800000 96.6%,#800000 100%)"></i>
<i style="background:linear-gradient(90deg,#006aff 0%,#006cff 1%,#0051ff 10.1%,#0056ff 17.8%,#00aeff 29.7%,#00feff 39.5%,#29ffd6 51.4%,#6eff91 62.3%,#9cff63 67.5%,#e6ff19 73.5%,#ffff00 75.2%,#ffe000 77.3%,#ff9f00 81.2%,#ff3100 87.1%,#fd0000 89.6%,#b50000 92.7%,#920000 95.2%,#850000 95.9%,#800000 96.6%,#800000 100%)"></i>
<i style="background:linear-gradient(90deg,#0068ff 0%,#006bff 1%,#0050ff 10.1%,#0055ff 17.8%,#00adff 29.7%,#00feff 39.5%,#25ffda 51.1%,#6cff93 62.3%,#95ff6a 67.2%,#deff21 73.1%,#fcff03 75.2%,#fffd00 75.6%,#ffe900 77%,#ffa300 81.2%,#ff2100 88.2%,#ff0200 89.6%,#ba0000 92.7%,#810000 96.2%,#800000 100%)"></i>
<i style="background:linear-gradient(90deg,#0068ff 0%,#006bff 1%,#0050ff 10.1%,#0055ff 17.8%,#00adff 29.7%,#00feff 39.5%,#25ffda 51.1%,#6cff93 62.3%,#95ff6a 67.2%,#deff21 73.1%,#fcff03 75.2%,#fffd00 75.6%,#ffe900 77%,#ffa300 81.2%,#ff2100 88.2%,#ff0200 89.6%,#ba0000 92.7%,#810000 96.2%,#800000 100%)"></i>
<i style="background:linear-gradient(90deg,#0068ff 0%,#0069ff 1%,#004eff 10.1%,#0054ff 17.8%,#00acff 29.7%,#00feff 39.5%,#23ffdc 51.1%,#6aff95 62.3%,#91ff6e 67.2%,#e0ff1f 73.5%,#fdff02 75.6%,#ffe800 77.3%,#ff7b00 83.6%,#ff1f00 88.5%,#fe0000 89.9%,#bf0000 92.7%,#820000 96.2%,#800000 100%)"></i>
<i style="background:linear-gradient(90deg,#0068ff 0%,#0069ff 1%,#004eff 10.1%,#0054ff 17.8%,#00acff 29.7%,#00feff 39.5%,#23ffdc 51.1%,#6aff95 62.3%,#91ff6e 67.2%,#e0ff1f 73.5%,#fdff02 75.6%,#ffe800 77.3%,#ff7b00 83.6%,#ff1f00 88.5%,#fe0000 89.9%,#bf0000 92.7%,#820000 96.2%,#800000 100%)"></i>
<i style="background:linear-gradient(90deg,#0067ff 0%,#0068ff 1%,#004dff 10.1%,#0052ff 17.8%,#00acff 29.7%,#00feff 39.5%,#21ffde 51.1%,#68ff97 62.3%,#8eff71 67.2%,#ffff00 75.9%,#ffeb00 77.3%,#ff7800 84%,#ff2300 88.5%,#ff0400 89.9%,#ee0000 91%,#c50000 92.7%,#820000 96.2%,#800000 100%)"></i>
<i style="background:linear-gradient(90deg,#0067ff 0%,#0068ff 1%,#004dff 10.1%,#0052ff 17.8%,#00acff 29.7%,#00feff 39.5%,#21ffde 51.1%,#68ff97 62.3%,#8eff71 67.2%,#ffff00 75.9%,#ffeb00 77.3%,#ff7800 84%,#ff2300 88.5%,#ff0400 89.9%,#ee0000 91%,#c50000 92.7%,#820000 96.2%,#800000 100%)"></i>
<i style="background:linear-gradient(90deg,#0067ff 0%,#0067ff 1%,#004cff 10.1%,#0051ff 17.8%,#00abff 29.7%,#00feff 39.5%,#20ffdf 51.1%,#66ff99 62.3%,#8aff75 67.2%,#fbff04 75.9%,#fffe00 76.3%,#ffef00 77.3%,#ff8200 83.6%,#ff2000 88.9%,#ff0200 90.3%,#f30000 91%,#ca0000 92.7%,#820000 96.2%,#800000 100%)"></i>
<i style="background:linear-gradient(90deg,#0067ff 0%,#0067ff 1%,#004cff 10.1%,#0051ff 17.8%,#00abff 29.7%,#00feff 39.5%,#20ffdf 51.1%,#66ff99 62.3%,#8aff75 67.2%,#fbff04 75.9%,#fffe00 76.3%,#ffef00 77.3%,#ff8200 83.6%,#ff2000 88.9%,#ff0200 90.3%,#f30000 91%,#ca0000 92.7%,#820000 96.2%,#800000 100%)"></i>
<i style="background:linear-gradient(90deg,#0067ff 0%,#004bff 10.1%,#0050ff 17.8%,#00abff 29.7%,#00feff 39.5%,#1effe1 51.1%,#64ff9b 62.3%,#87ff78 67.2%,#fcff03 76.3%,#fff300 77.3%,#ff8000 84%,#ff0000 90.6%,#830000 96.2%,#800000 96.9%,#800000 100%)"></i>
<i style="background:linear-gradient(90deg,#0067ff 0%,#004bff 10.1%,#0050ff 17.8%,#00abff 29.7%,#00feff 39.5%,#1effe1 51.1%,#64ff9b 62.3%,#87ff78 67.2%,#fcff03 76.3%,#fff300 77.3%,#ff8000 84%,#ff0000 90.6%,#830000 96.2%,#800000 96.9%,#800000 100%)"></i>
<i style="background:linear-gradient(90deg,#0066ff 0%,#0049ff 10.1%,#004fff 17.8%,#00aaff 29.7%,#00feff 39.5%,#1cffe3 51.1%,#83ff7c 67.2%,#fdff02 76.6%,#fff600 77.3%,#ff8300 84%,#fe0000 91%,#830000 96.2%,#800000 96.9%,#800000 100%)"></i>
<i style="background:linear-gradient(90deg,#0066ff 0%,#0049ff 10.1%,#004fff 17.8%,#00aaff 29.7%,#00feff 39.5%,#1cffe3 51.1%,#83ff7c 67.2%,#fdff02 76.6%,#fff600 77.3%,#ff8300 84%,#fe0000 91%,#830000 96.2%,#800000 96.9%,#800000 100%)"></i>
<i style="background:linear-gradient(90deg,#0066ff 0%,#0048ff 10.1%,#004dff 17.8%,#00acff 30.1%,#00fdff 39.5%,#1affe5 51.1%,#80ff7f 67.2%,#feff01 77%,#ff8100 84.3%,#ff0400 91%,#fc0000 91.3%,#850000 96.2%,#810000 96.9%,#800000 100%)"></i>
<i style="background:linear-gradient(90deg,#0066ff 0%,#0048ff 10.1%,#004dff 17.8%,#00acff 30.1%,#00fdff 39.5%,#1affe5 51.1%,#80ff7f 67.2%,#feff01 77%,#ff8100 84.3%,#ff0400 91%,#fc0000 91.3%,#850000 96.2%,#810000 96.9%,#800000 100%)"></i>
<i style="background:linear-gradient(90deg,#0065ff 0%,#0046ff 10.1%,#004cff 17.8%,#007aff 23.4%,#00a8ff 29.7%,#00fbff 39.5%,#01fffe 40.9%,#18ffe7 51.1%,#7eff81 67.2%,#ffff00 77.3%,#ff8700 84.3%,#ff0200 91.3%,#8a0000 96.2%,#860000 96.6%,#800000 98.7%,#800000 100%)"></i>
<i style="background:linear-gradient(90deg,#0065ff 0%,#0046ff 10.1%,#004cff 17.8%,#007aff 23.4%,#00a8ff 29.7%,#00fbff 39.5%,#01fffe 40.9%,#18ffe7 51.1%,#7eff81 67.2%,#ffff00 77.3%,#ff8700 84.3%,#ff0200 91.3%,#8a0000 96.2%,#860000 96.6%,#800000 98.7%,#800000 100%)"></i>
<i style="background:linear-gradient(90deg,#0064ff 0%,#0045ff 10.1%,#004bff 17.8%,#0079ff 23.4%,#00a7ff 29.7%,#00f9ff 39.5%,#01fffe 41.6%,#16ffe9 51.1%,#31ffce 56%,#7cff83 67.2%,#ffff00 77.7%,#ff8d00 84.3%,#fe0000 91.7%,#8f0000 96.2%,#800000 98.7%,#800000 100%)"></i>
<i style="background:linear-gradient(90deg,#0064ff 0%,#0045ff 10.1%,#004bff 17.8%,#0079ff 23.4%,#00a7ff 29.7%,#00f9ff 39.5%,#01fffe 41.6%,#16ffe9 51.1%,#31ffce 56%,#7cff83 67.2%,#ffff00 77.7%,#ff8d00 84.3%,#fe0000 91.7%,#8f0000 96.2%,#800000 98.7%,#800000 100%)"></i>
<i style="background:linear-gradient(90deg,#0064ff 0%,#005dff 1%,#0043ff 10.1%,#004aff 17.8%,#0078ff 23.4%,#00a6ff 29.7%,#00f7ff 39.5%,#00ffff 42.3%,#14ffeb 51.1%,#2dffd2 56%,#7aff85 67.2%,#faff05 77.7%,#ffff00 78%,#ffb400 82.6%,#ff0500 91.7%,#fb0000 92%,#950000 96.2%,#800000 98.7%,#800000 100%)"></i>
<i style="background:linear-gradient(90deg,#0064ff 0%,#005dff 1%,#0043ff 10.1%,#004aff 17.8%,#0078ff 23.4%,#00a6ff 29.7%,#00f7ff 39.5%,#00ffff 42.3%,#14ffeb 51.1%,#2dffd2 56%,#7aff85 67.2%,#faff05 77.7%,#ffff00 78%,#ffb400 82.6%,#ff0500 91.7%,#fb0000 92%,#950000 96.2%,#800000 98.7%,#800000 100%)"></i>
<i style="background:linear-gradient(90deg,#0063ff 0%,#005cff 1%,#0042ff 10.1%,#0049ff 17.8%,#00f4ff 39.5%,#00ffff 43%,#11ffee 51.1%,#2affd5 56%,#78ff87 67.2%,#faff05 78%,#fffe00 78.4%,#ffee00 79.4%,#ffbb00 82.6%,#ff2000 90.6%,#ff0100 92%,#9a0000 96.2%,#950000 96.6%,#8f0000 97.6%,#800000 98.7%,#800000 100%)"></i>
<i style="background:linear-gradient(90deg,#0063ff 0%,#005cff 1%,#0042ff 10.1%,#0049ff 17.8%,#00f4ff 39.5%,#00ffff 43%,#11ffee 51.1%,#2affd5 56%,#78ff87 67.2%,#faff05 78%,#fffe00 78.4%,#ffee00 79.4%,#ffbb00 82.6%,#ff2000 90.6%,#ff0100 92%,#9a0000 96.2%,#950000 96.6%,#8f0000 97.6%,#800000 98.7%,#800000 100%)"></i>
<i style="background:linear-gradient(90deg,#0062ff 0%,#005aff 1%,#0040ff 10.1%,#0048ff 17.8%,#00f2ff 39.5%,#00ffff 43.7%,#0ffff0 51.1%,#24ffdb 55.6%,#76ff89 67.2%,#d3ff2c 75.2%,#fbff04 78.4%,#fffe00 78.7%,#fff400 79.4%,#ffc100 82.6%,#ff2600 90.6%,#fd0000 92.4%,#9a0000 96.6%,#920000 97.6%,#830000 98.3%,#800000 98.7%,#800000 100%)"></i>
<i style="background:linear-gradient(90deg,#0062ff 0%,#005aff 1%,#0040ff 10.1%,#0048ff 17.8%,#00f2ff 39.5%,#00ffff 43.7%,#0ffff0 51.1%,#24ffdb 55.6%,#76ff89 67.2%,#d3ff2c 75.2%,#fbff04 78.4%,#fffe00 78.7%,#fff400 79.4%,#ffc100 82.6%,#ff2600 90.6%,#fd0000 92.4%,#9a0000 96.6%,#920000 97.6%,#830000 98.3%,#800000 98.7%,#800000 100%)"></i>
<i style="background:linear-gradient(90deg,#0061ff 0%,#0058ff 1%,#003fff 10.1%,#0046ff 17.8%,#00f0ff 39.5%,#00ffff 44.8%,#0dfff2 51.1%,#21ffde 55.6%,#74ff8b 67.2%,#cfff30 75.2%,#fbff04 78.7%,#fffe00 79.1%,#fff500 79.8%,#ffc800 82.6%,#ff2400 91%,#ff0400 92.4%,#f30000 93.1%,#9e0000 96.6%,#990000 97.3%,#830000 98.3%,#800000 98.7%,#800000 100%)"></i>
<i style="background:linear-gradient(90deg,#0061ff 0%,#0058ff 1%,#003fff 10.1%,#0046ff 17.8%,#00f0ff 39.5%,#00ffff 44.8%,#0dfff2 51.1%,#21ffde 55.6%,#74ff8b 67.2%,#cfff30 75.2%,#fbff04 78.7%,#fffe00 79.1%,#fff500 79.8%,#ffc800 82.6%,#ff2400 91%,#ff0400 92.4%,#f30000 93.1%,#9e0000 96.6%,#990000 97.3%,#830000 98.3%,#800000 98.7%,#800000 100%)"></i>
<i style="background:linear-gradient(90deg,#0055ff 0%,#0056ff 1%,#003dff 10.1%,#0045ff 17.8%,#0073ff 23.4%,#00edff 39.5%,#00f6ff 41.6%,#00ffff 45.5%,#0bfff4 51.1%,#1dffe2 55.6%,#72ff8d 67.2%,#cbff34 75.2%,#ffff00 79.4%,#ffcf00 82.6%,#ff2900 91%,#ff0200 92.7%,#d10000 94.8%,#aa0000 96.2%,#9d0000 97.3%,#840000 98.3%,#800000 98.7%,#800000 100%)"></i>
<i style="background:linear-gradient(90deg,#0055ff 0%,#0056ff 1%,#003dff 10.1%,#0045ff 17.8%,#0073ff 23.4%,#00edff 39.5%,#00f6ff 41.6%,#00ffff 45.5%,#0bfff4 51.1%,#1dffe2 55.6%,#72ff8d 67.2%,#cbff34 75.2%,#ffff00 79.4%,#ffcf00 82.6%,#ff2900 91%,#ff0200 92.7%,#d10000 94.8%,#aa0000 96.2%,#9d0000 97.3%,#840000 98.3%,#800000 98.7%,#800000 100%)"></i>
<i style="background:linear-gradient(90deg,#0050ff 0%,#0054ff 1%,#003cff 10.1%,#0044ff 17.8%,#0072ff 23.4%,#00edff 39.9%,#00f5ff 42%,#00ffff 46.5%,#12ffed 54.2%,#1affe5 55.6%,#70ff8f 67.2%,#cbff34 75.6%,#feff01 79.8%,#ffd600 82.6%,#ff2e00 91%,#ff0000 93.1%,#d70000 94.8%,#af0000 96.2%,#a00000 97.3%,#840000 98.3%,#800000 98.7%,#800000 100%)"></i>
<i style="background:linear-gradient(90deg,#0050ff 0%,#0054ff 1%,#003cff 10.1%,#0044ff 17.8%,#0072ff 23.4%,#00edff 39.9%,#00f5ff 42%,#00ffff 46.5%,#12ffed 54.2%,#1affe5 55.6%,#70ff8f 67.2%,#cbff34 75.6%,#feff01 79.8%,#ffd600 82.6%,#ff2e00 91%,#ff0000 93.1%,#d70000 94.8%,#af0000 96.2%,#a00000 97.3%,#840000 98.3%,#800000 98.7%,#800000 100%)"></i>
<i style="background:linear-gradient(90deg,#004fff 0%,#0052ff 1%,#003aff 10.1%,#0043ff 17.8%,#0071ff 23.4%,#00eaff 39.9%,#00f3ff 42%,#00ffff 47.6%,#0ffff0 54.2%,#17ffe8 55.6%,#6eff91 67.2%,#8dff72 70.3%,#feff01 80.1%,#ffdc00 82.6%,#fd0000 93.4%,#de0000 94.8%,#b40000 96.2%,#a20000 97.3%,#850000 98.3%,#800000 99%,#800000 100%)"></i>
<i style="background:linear-gradient(90deg,#004fff 0%,#0052ff 1%,#003aff 10.1%,#0043ff 17.8%,#0071ff 23.4%,#00eaff 39.9%,#00f3ff 42%,#00ffff 47.6%,#0ffff0 54.2%,#17ffe8 55.6%,#6eff91 67.2%,#8dff72 70.3%,#feff01 80.1%,#ffdc00 82.6%,#fd0000 93.4%,#de0000 94.8%,#b40000 96.2%,#a20000 97.3%,#850000 98.3%,#800000 99%,#800000 100%)"></i>
<i style="background:linear-gradient(90deg,#004fff 0%,#0051ff 1%,#0039ff 10.1%,#0042ff 17.8%,#0072ff 23.8%,#00e8ff 39.9%,#00f2ff 42%,#00ffff 48.3%,#0dfff2 54.6%,#6cff93 67.2%,#8aff75 70.3%,#e3ff1c 78.4%,#fdff02 80.5%,#ffe300 82.6%,#ff0400 93.4%,#fb0000 93.8%,#e40000 94.8%,#b90000 96.2%,#a40000 97.3%,#860000 98.3%,#800000 99%,#800000 100%)"></i>
<i style="background:linear-gradient(90deg,#004fff 0%,#0051ff 1%,#0039ff 10.1%,#0042ff 17.8%,#0072ff 23.8%,#00e8ff 39.9%,#00f2ff 42%,#00ffff 48.3%,#0dfff2 54.6%,#6cff93 67.2%,#8aff75 70.3%,#e3ff1c 78.4%,#fdff02 80.5%,#ffe300 82.6%,#ff0400 93.4%,#fb0000 93.8%,#e40000 94.8%,#b90000 96.2%,#a40000 97.3%,#860000 98.3%,#800000 99%,#800000 100%)"></i>
<i style="background:linear-gradient(90deg,#004eff 0%,#004fff 1%,#0038ff 10.1%,#0041ff 17.8%,#006fff 23.4%,#00c5ff 35%,#00e5ff 39.9%,#00f0ff 42%,#00ffff 49.3%,#0afff5 54.6%,#51ffae 64%,#84ff7b 70%,#e3ff1c 78.7%,#fdff02 80.8%,#ffea00 82.6%,#ff0200 93.8%,#ea0000 94.8%,#bf0000 96.2%,#a60000 97.3%,#860000 98.3%,#800000 99%,#800000 100%)"></i>
<i style="background:linear-gradient(90deg,#004eff 0%,#004fff 1%,#0038ff 10.1%,#0041ff 17.8%,#006fff 23.4%,#00c5ff 35%,#00e5ff 39.9%,#00f0ff 42%,#00ffff 49.3%,#0afff5 54.6%,#51ffae 64%,#84ff7b 70%,#e3ff1c 78.7%,#fdff02 80.8%,#ffea00 82.6%,#ff0200 93.8%,#ea0000 94.8%,#bf0000 96.2%,#a60000 97.3%,#860000 98.3%,#800000 99%,#800000 100%)"></i>
<i style="background:linear-gradient(90deg,#004dff 0%,#0036ff 10.1%,#0040ff 17.8%,#006eff 23.4%,#00c6ff 35.3%,#00ebff 41.3%,#00feff 49.7%,#06fff9 54.6%,#84ff7b 70.3%,#fcff03 81.2%,#fffa00 81.9%,#ffea00 82.9%,#ff0100 94.1%,#f00000 94.8%,#c40000 96.2%,#870000 98.3%,#800000 99%,#800000 100%)"></i>
<i style="background:linear-gradient(90deg,#004dff 0%,#0036ff 10.1%,#0040ff 17.8%,#006eff 23.4%,#00c6ff 35.3%,#00ebff 41.3%,#00feff 49.7%,#06fff9 54.6%,#84ff7b 70.3%,#fcff03 81.2%,#fffa00 81.9%,#ffea00 82.9%,#ff0100 94.1%,#f00000 94.8%,#c40000 96.2%,#870000 98.3%,#800000 99%,#800000 100%)"></i>
<i style="background:linear-gradient(90deg,#004dff 0%,#0035ff 10.1%,#003fff 17.8%,#006dff 23.4%,#00c5ff 35.3%,#00e9ff 41.3%,#00fbff 49.3%,#03fffc 54.6%,#81ff7e 70.3%,#fdff02 81.9%,#fff000 82.9%,#ff0000 94.5%,#880000 98.3%,#800000 99%,#800000 100%)"></i>
<i style="background:linear-gradient(90deg,#004dff 0%,#0035ff 10.1%,#003fff 17.8%,#006dff 23.4%,#00c5ff 35.3%,#00e9ff 41.3%,#00fbff 49.3%,#03fffc 54.6%,#81ff7e 70.3%,#fdff02 81.9%,#fff000 82.9%,#ff0000 94.5%,#880000 98.3%,#800000 99%,#800000 100%)"></i>
<i style="background:linear-gradient(90deg,#004cff 0%,#0033ff 10.1%,#003eff 17.8%,#006bff 23.4%,#00c3ff 35.3%,#00e9ff 41.6%,#00f9ff 49.3%,#00ffff 54.6%,#0bfff4 56.3%,#7eff81 70.3%,#fcff03 82.2%,#fffe00 82.6%,#fff000 83.3%,#ff8000 88.5%,#ff0600 94.5%,#fd0000 94.8%,#f20000 95.2%,#890000 98.3%,#800000 99%,#800000 100%)"></i>
<i style="background:linear-gradient(90deg,#004cff 0%,#0033ff 10.1%,#003eff 17.8%,#006bff 23.4%,#00c3ff 35.3%,#00e9ff 41.6%,#00f9ff 49.3%,#00ffff 54.6%,#0bfff4 56.3%,#7eff81 70.3%,#fcff03 82.2%,#fffe00 82.6%,#fff000 83.3%,#ff8000 88.5%,#ff0600 94.5%,#fd0000 94.8%,#f20000 95.2%,#890000 98.3%,#800000 99%,#800000 100%)"></i>
<i style="background:linear-gradient(90deg,#004cff 0%,#0032ff 10.1%,#003dff 17.8%,#006aff 23.4%,#00c2ff 35.3%,#00e7ff 41.6%,#00f7ff 49%,#00ffff 55.6%,#57ffa8 66.8%,#ccff33 78.4%,#fbff04 82.6%,#fffe00 82.9%,#fff100 83.6%,#ff7f00 88.9%,#ff0400 94.8%,#fa0000 95.2%,#ef0000 95.5%,#8c0000 98.3%,#800000 99%,#800000 100%)"></i>
<i style="background:linear-gradient(90deg,#004cff 0%,#0032ff 10.1%,#003dff 17.8%,#006aff 23.4%,#00c2ff 35.3%,#00e7ff 41.6%,#00f7ff 49%,#00ffff 55.6%,#57ffa8 66.8%,#ccff33 78.4%,#fbff04 82.6%,#fffe00 82.9%,#fff100 83.6%,#ff7f00 88.9%,#ff0400 94.8%,#fa0000 95.2%,#ef0000 95.5%,#8c0000 98.3%,#800000 99%,#800000 100%)"></i>
<i style="background:linear-gradient(90deg,#004bff 0%,#0031ff 10.1%,#003bff 17.8%,#0069ff 23.4%,#00c1ff 35.3%,#00e5ff 41.6%,#00f5ff 49%,#00ffff 56.7%,#4cffb3 66.5%,#90ff6f 72.8%,#c6ff39 78.4%,#ffff00 83.3%,#ffbf00 86.4%,#ff7f00 89.2%,#ff0200 95.2%,#ec0000 95.9%,#9e0000 98%,#870000 98.7%,#820000 99%,#800000 100%)"></i>
<i style="background:linear-gradient(90deg,#004bff 0%,#0031ff 10.1%,#003bff 17.8%,#0069ff 23.4%,#00c1ff 35.3%,#00e5ff 41.6%,#00f5ff 49%,#00ffff 56.7%,#4cffb3 66.5%,#90ff6f 72.8%,#c6ff39 78.4%,#ffff00 83.3%,#ffbf00 86.4%,#ff7f00 89.2%,#ff0200 95.2%,#ec0000 95.9%,#9e0000 98%,#870000 98.7%,#820000 99%,#800000 100%)"></i>
<i style="background:linear-gradient(90deg,#004bff 0%,#0030ff 10.1%,#0039ff 17.5%,#00bfff 35.3%,#00e3ff 41.6%,#00f3ff 49%,#01fffe 57.7%,#40ffbf 66.1%,#66ff99 69.6%,#88ff77 72.4%,#c1ff3e 78.4%,#feff01 83.6%,#ffd100 86.1%,#ff7f00 89.6%,#ff0000 95.5%,#e80000 96.2%,#8c0000 98.7%,#840000 99%,#800000 99.4%,#800000 100%)"></i>
<i style="background:linear-gradient(90deg,#004bff 0%,#0030ff 10.1%,#0039ff 17.5%,#00bfff 35.3%,#00e3ff 41.6%,#00f3ff 49%,#01fffe 57.7%,#40ffbf 66.1%,#66ff99 69.6%,#88ff77 72.4%,#c1ff3e 78.4%,#feff01 83.6%,#ffd100 86.1%,#ff7f00 89.6%,#ff0000 95.5%,#e80000 96.2%,#8c0000 98.7%,#840000 99%,#800000 99.4%,#800000 100%)"></i>
<i style="background:linear-gradient(90deg,#004aff 0%,#0044ff 1%,#002fff 10.1%,#0038ff 17.5%,#00beff 35.3%,#00e2ff 41.6%,#00f2ff 49%,#01fffe 58.8%,#38ffc7 66.1%,#5bffa4 69.3%,#80ff7f 72.1%,#b3ff4c 77.7%,#fdff02 84%,#fffc00 84.3%,#ffe200 85.7%,#ff7f00 89.9%,#fd0000 95.9%,#d70000 96.9%,#900000 98.7%,#860000 99%,#810000 99.4%,#800000 100%)"></i>
<i style="background:linear-gradient(90deg,#004aff 0%,#0044ff 1%,#002fff 10.1%,#0038ff 17.5%,#00beff 35.3%,#00e2ff 41.6%,#00f2ff 49%,#01fffe 58.8%,#38ffc7 66.1%,#5bffa4 69.3%,#80ff7f 72.1%,#b3ff4c 77.7%,#fdff02 84%,#fffc00 84.3%,#ffe200 85.7%,#ff7f00 89.9%,#fd0000 95.9%,#d70000 96.9%,#900000 98.7%,#860000 99%,#810000 99.4%,#800000 100%)"></i>
<i style="background:linear-gradient(90deg,#004aff 0%,#0043ff 1%,#002eff 10.1%,#0037ff 17.5%,#00bdff 35.3%,#00e0ff 41.6%,#00f0ff 49%,#00ffff 59.5%,#07fff8 60.9%,#30ffcf 66.1%,#81ff7e 72.8%,#adff52 77.7%,#fbff04 84.3%,#ffff00 84.7%,#ffec00 85.7%,#ff7600 90.6%,#ff0500 95.9%,#fa0000 96.2%,#ee0000 96.6%,#8a0000 99%,#820000 99.4%,#800000 100%)"></i>
<i style="background:linear-gradient(90deg,#004aff 0%,#0043ff 1%,#002eff 10.1%,#0037ff 17.5%,#00bdff 35.3%,#00e0ff 41.6%,#00f0ff 49%,#00ffff 59.5%,#07fff8 60.9%,#30ffcf 66.1%,#81ff7e 72.8%,#adff52 77.7%,#fbff04 84.3%,#ffff00 84.7%,#ffec00 85.7%,#ff7600 90.6%,#ff0500 95.9%,#fa0000 96.2%,#ee0000 96.6%,#8a0000 99%,#820000 99.4%,#800000 100%)"></i>
<i style="background:linear-gradient(90deg,#0049ff 0%,#0041ff 1%,#002dff 10.1%,#0036ff 17.5%,#00bbff 35.3%,#00deff 41.6%,#00eeff 48.6%,#01fffe 60.9%,#28ffd7 66.1%,#63ff9c 71.4%,#81ff7e 73.5%,#a4ff5b 77.3%,#fcff03 85%,#fffc00 85.4%,#ffe600 86.4%,#ff7500 91%,#ff0300 96.2%,#e90000 96.9%,#8e0000 99%,#840000 99.4%,#800000 100%)"></i>
<i style="background:linear-gradient(90deg,#0049ff 0%,#0041ff 1%,#002dff 10.1%,#0036ff 17.5%,#00bbff 35.3%,#00deff 41.6%,#00eeff 48.6%,#01fffe 60.9%,#28ffd7 66.1%,#63ff9c 71.4%,#81ff7e 73.5%,#a4ff5b 77.3%,#fcff03 85%,#fffc00 85.4%,#ffe600 86.4%,#ff7500 91%,#ff0300 96.2%,#e90000 96.9%,#8e0000 99%,#840000 99.4%,#800000 100%)"></i>
<i style="background:linear-gradient(90deg,#0045ff 0%,#002cff 10.1%,#0035ff 17.5%,#00b8ff 35%,#00ddff 41.6%,#00ecff 48.6%,#00ffff 61.6%,#1affe5 65.4%,#3effc1 68.6%,#4fffb0 70.7%,#81ff7e 74.2%,#9eff61 77.3%,#feff01 85.7%,#ffe200 87.1%,#ff7500 91.3%,#ff0000 96.6%,#e40000 97.3%,#940000 99%,#870000 99.4%,#800000 100%)"></i>
<i style="background:linear-gradient(90deg,#0045ff 0%,#002cff 10.1%,#0035ff 17.5%,#00b8ff 35%,#00ddff 41.6%,#00ecff 48.6%,#00ffff 61.6%,#1affe5 65.4%,#3effc1 68.6%,#4fffb0 70.7%,#81ff7e 74.2%,#9eff61 77.3%,#feff01 85.7%,#ffe200 87.1%,#ff7500 91.3%,#ff0000 96.6%,#e40000 97.3%,#940000 99%,#870000 99.4%,#800000 100%)"></i>
<i style="background:linear-gradient(90deg,#003cff 0%,#003fff 1%,#002bff 10.1%,#0034ff 17.5%,#00b6ff 35%,#00dbff 41.6%,#00eaff 48.6%,#00f8ff 59.8%,#01fffe 63%,#0ffff0 65.1%,#30ffcf 68.2%,#3effc1 70.3%,#59ffa6 72.4%,#81ff7e 74.9%,#94ff6b 77%,#faff05 86.1%,#ffff00 86.4%,#ffef00 87.1%,#ff7d00 91.3%,#ff0800 96.6%,#fc0000 96.9%,#8d0000 99.4%,#830000 99.7%,#800000 100%)"></i>
<i style="background:linear-gradient(90deg,#003cff 0%,#003fff 1%,#002bff 10.1%,#0034ff 17.5%,#00b6ff 35%,#00dbff 41.6%,#00eaff 48.6%,#00f8ff 59.8%,#01fffe 63%,#0ffff0 65.1%,#30ffcf 68.2%,#3effc1 70.3%,#59ffa6 72.4%,#81ff7e 74.9%,#94ff6b 77%,#faff05 86.1%,#ffff00 86.4%,#ffef00 87.1%,#ff7d00 91.3%,#ff0800 96.6%,#fc0000 96.9%,#8d0000 99.4%,#830000 99.7%,#800000 100%)"></i>
<i style="background:linear-gradient(90deg,#003aff 0%,#003dff 1%,#002aff 10.1%,#0033ff 17.5%,#00b5ff 35%,#00d9ff 41.6%,#00eeff 51.8%,#00f5ff 59.5%,#01fffe 64%,#07fff8 65.1%,#1fffe0 67.5%,#31ffce 70.3%,#46ffb9 72.1%,#80ff7f 75.6%,#d8ff27 83.6%,#eaff15 85.7%,#faff05 86.8%,#fffd00 87.1%,#ffeb00 87.8%,#ffbc00 89.6%,#ff7d00 91.7%,#ff3b00 94.8%,#ff0600 96.9%,#f90000 97.3%,#ea0000 97.6%,#920000 99.4%,#860000 99.7%,#810000 100%)"></i>
<i style="background:linear-gradient(90deg,#003aff 0%,#003dff 1%,#002aff 10.1%,#0033ff 17.5%,#00b5ff 35%,#00d9ff 41.6%,#00eeff 51.8%,#00f5ff 59.5%,#01fffe 64%,#07fff8 65.1%,#1fffe0 67.5%,#31ffce 70.3%,#46ffb9 72.1%,#80ff7f 75.6%,#d8ff27 83.6%,#eaff15 85.7%,#faff05 86.8%,#fffd00 87.1%,#ffeb00 87.8%,#ffbc00 89.6%,#ff7d00 91.7%,#ff3b00 94.8%,#ff0600 96.9%,#f90000 97.3%,#ea0000 97.6%,#920000 99.4%,#860000 99.7%,#810000 100%)"></i>
<i style="background:linear-gradient(90deg,#003aff 0%,#003cff 1%,#0029ff 10.1%,#0032ff 17.5%,#00b3ff 35%,#00d7ff 41.6%,#00edff 51.8%,#00f2ff 59.1%,#01fffe 65.1%,#1bffe4 69.3%,#2affd5 71%,#84ff7b 76.6%,#c9ff36 82.9%,#daff25 85.4%,#fcff03 87.5%,#ffe700 88.5%,#ff8a00 91.7%,#ff4d00 94.5%,#ff1900 96.6%,#ff0400 97.3%,#f50000 97.6%,#990000 99.4%,#8a0000 99.7%,#830000 100%)"></i>
<i style="background:linear-gradient(90deg,#003aff 0%,#003cff 1%,#0029ff 10.1%,#0032ff 17.5%,#00b3ff 35%,#00d7ff 41.6%,#00edff 51.8%,#00f2ff 59.1%,#01fffe 65.1%,#1bffe4 69.3%,#2affd5 71%,#84ff7b 76.6%,#c9ff36 82.9%,#daff25 85.4%,#fcff03 87.5%,#ffe700 88.5%,#ff8a00 91.7%,#ff4d00 94.5%,#ff1900 96.6%,#ff0400 97.3%,#f50000 97.6%,#990000 99.4%,#8a0000 99.7%,#830000 100%)"></i>
<i style="background:linear-gradient(90deg,#003aff 0%,#003bff 1%,#0028ff 10.1%,#0031ff 17.5%,#008eff 29.7%,#00b2ff 35%,#00d6ff 41.6%,#00ebff 51.4%,#00efff 58.8%,#02fffd 66.8%,#0bfff4 68.9%,#17ffe8 70.7%,#4affb5 73.8%,#5bffa4 75.2%,#83ff7c 77.3%,#b5ff4a 81.9%,#cbff34 85%,#e4ff1b 86.8%,#ffff00 88.2%,#ff9900 91.7%,#ff3600 95.9%,#ff0300 97.6%,#f20000 98%,#920000 99.7%,#870000 100%)"></i>
<i style="background:linear-gradient(90deg,#003aff 0%,#003bff 1%,#0028ff 10.1%,#0031ff 17.5%,#008eff 29.7%,#00b2ff 35%,#00d6ff 41.6%,#00ebff 51.4%,#00efff 58.8%,#02fffd 66.8%,#0bfff4 68.9%,#17ffe8 70.7%,#4affb5 73.8%,#5bffa4 75.2%,#83ff7c 77.3%,#b5ff4a 81.9%,#cbff34 85%,#e4ff1b 86.8%,#ffff00 88.2%,#ff9900 91.7%,#ff3600 95.9%,#ff0300 97.6%,#f20000 98%,#920000 99.7%,#870000 100%)"></i>
<i style="background:linear-gradient(90deg,#0039ff 0%,#0027ff 10.1%,#0030ff 17.5%,#003bff 19.2%,#008dff 29.7%,#00aeff 34.6%,#00d4ff 41.6%,#00e9ff 51.4%,#00ecff 58.8%,#00feff 66.1%,#04fffb 69.6%,#0afff5 70.7%,#31ffce 73.1%,#43ffbc 74.9%,#55ffaa 75.9%,#7cff83 77.7%,#86ff79 78.4%,#a1ff5e 80.8%,#bbff44 84.7%,#d8ff27 86.8%,#faff05 88.5%,#fffc00 88.9%,#ffb400 91.3%,#ff5300 95.2%,#ff1900 97.3%,#ff0100 98%,#f00000 98.3%,#a10000 99.7%,#920000 100%)"></i>
<i style="background:linear-gradient(90deg,#0039ff 0%,#0027ff 10.1%,#0030ff 17.5%,#003bff 19.2%,#008dff 29.7%,#00aeff 34.6%,#00d4ff 41.6%,#00e9ff 51.4%,#00ecff 58.8%,#00feff 66.1%,#04fffb 69.6%,#0afff5 70.7%,#31ffce 73.1%,#43ffbc 74.9%,#55ffaa 75.9%,#7cff83 77.7%,#86ff79 78.4%,#a1ff5e 80.8%,#bbff44 84.7%,#d8ff27 86.8%,#faff05 88.5%,#fffc00 88.9%,#ffb400 91.3%,#ff5300 95.2%,#ff1900 97.3%,#ff0100 98%,#f00000 98.3%,#a10000 99.7%,#920000 100%)"></i>
<i style="background:linear-gradient(90deg,#0039ff 0%,#0026ff 10.1%,#002fff 17.5%,#003aff 19.2%,#0091ff 30.4%,#00b4ff 35.7%,#00d2ff 41.6%,#00e8ff 51.4%,#00e9ff 58.4%,#00feff 67.2%,#04fffb 70%,#0cfff3 71.4%,#21ffde 73.1%,#30ffcf 74.9%,#41ffbe 75.9%,#7fff80 78.7%,#8dff72 80.1%,#aaff55 84.3%,#c5ff3a 86.4%,#fcff03 89.2%,#fff100 89.9%,#ff8500 93.8%,#ff3c00 96.6%,#ff1b00 97.6%,#ff0000 98.3%,#cd0000 99.4%,#c90000 99.7%,#cf0000 100%)"></i>
<i style="background:linear-gradient(90deg,#0039ff 0%,#0026ff 10.1%,#002fff 17.5%,#003aff 19.2%,#0091ff 30.4%,#00b4ff 35.7%,#00d2ff 41.6%,#00e8ff 51.4%,#00e9ff 58.4%,#00feff 67.2%,#04fffb 70%,#0cfff3 71.4%,#21ffde 73.1%,#30ffcf 74.9%,#41ffbe 75.9%,#7fff80 78.7%,#8dff72 80.1%,#aaff55 84.3%,#c5ff3a 86.4%,#fcff03 89.2%,#fff100 89.9%,#ff8500 93.8%,#ff3c00 96.6%,#ff1b00 97.6%,#ff0000 98.3%,#cd0000 99.4%,#c90000 99.7%,#cf0000 100%)"></i>
<i style="background:linear-gradient(90deg,#0038ff 0%,#0025ff 10.1%,#002eff 17.5%,#0038ff 19.2%,#008fff 30.4%,#00b2ff 35.7%,#00d0ff 41.6%,#00e6ff 51.1%,#00e6ff 58.1%,#00f5ff 63.7%,#00f8ff 70.3%,#01fffe 71.7%,#1cffe3 75.2%,#30ffcf 76.3%,#6aff95 78.7%,#76ff89 79.4%,#97ff68 83.6%,#afff50 85.7%,#f9ff06 89.9%,#fffd00 90.3%,#fff400 90.6%,#ff6100 95.9%,#ff0000 98.7%,#e50000 99.4%,#e50000 99.7%,#f00000 100%)"></i>
<i style="background:linear-gradient(90deg,#0038ff 0%,#0025ff 10.1%,#002eff 17.5%,#0038ff 19.2%,#008fff 30.4%,#00b2ff 35.7%,#00d0ff 41.6%,#00e6ff 51.1%,#00e6ff 58.1%,#00f5ff 63.7%,#00f8ff 70.3%,#01fffe 71.7%,#1cffe3 75.2%,#30ffcf 76.3%,#6aff95 78.7%,#76ff89 79.4%,#97ff68 83.6%,#afff50 85.7%,#f9ff06 89.9%,#fffd00 90.3%,#fff400 90.6%,#ff6100 95.9%,#ff0000 98.7%,#e50000 99.4%,#e50000 99.7%,#f00000 100%)"></i>
<i style="background:linear-gradient(90deg,#0038ff 0%,#0024ff 10.1%,#002dff 17.5%,#0056ff 23.4%,#0088ff 29.7%,#00abff 35%,#00d0ff 42%,#00e3ff 51.4%,#00e3ff 58.1%,#00f1ff 63%,#00efff 64%,#00e2ff 65.8%,#00d4ff 70.3%,#00ecff 73.8%,#00fdff 75.6%,#1bffe4 77%,#53ffac 79.1%,#6aff95 80.1%,#76ff89 81.2%,#86ff79 83.3%,#a2ff5d 85.7%,#dcff23 89.2%,#ffff00 91%,#ff8000 95.5%,#ff2700 98.3%,#fd0000 99.4%,#f70000 99.7%,#f90000 100%)"></i>
<i style="background:linear-gradient(90deg,#0038ff 0%,#0024ff 10.1%,#002dff 17.5%,#0056ff 23.4%,#0088ff 29.7%,#00abff 35%,#00d0ff 42%,#00e3ff 51.4%,#00e3ff 58.1%,#00f1ff 63%,#00efff 64%,#00e2ff 65.8%,#00d4ff 70.3%,#00ecff 73.8%,#00fdff 75.6%,#1bffe4 77%,#53ffac 79.1%,#6aff95 80.1%,#76ff89 81.2%,#86ff79 83.3%,#a2ff5d 85.7%,#dcff23 89.2%,#ffff00 91%,#ff8000 95.5%,#ff2700 98.3%,#fd0000 99.4%,#f70000 99.7%,#f90000 100%)"></i>
<i style="background:linear-gradient(90deg,#0037ff 0%,#0023ff 10.1%,#002eff 17.8%,#0056ff 23.8%,#0085ff 29.7%,#00afff 36%,#00cdff 42%,#00deff 50.7%,#00e0ff 57.7%,#00eaff 61.9%,#00deff 63.7%,#00b9ff 65.8%,#00a9ff 70.3%,#00cbff 75.2%,#00f9ff 77.7%,#02fffd 78%,#0bfff4 78.4%,#50ffaf 80.5%,#61ff9e 81.2%,#94ff6b 85.7%,#e4ff1b 90.6%,#fcff03 91.7%,#fffa00 92%,#ffe800 92.7%,#ff4800 98.3%,#ff0f00 99.7%,#ff0900 100%)"></i>
<i style="background:linear-gradient(90deg,#0037ff 0%,#0023ff 10.1%,#002eff 17.8%,#0056ff 23.8%,#0085ff 29.7%,#00afff 36%,#00cdff 42%,#00deff 50.7%,#00e0ff 57.7%,#00eaff 61.9%,#00deff 63.7%,#00b9ff 65.8%,#00a9ff 70.3%,#00cbff 75.2%,#00f9ff 77.7%,#02fffd 78%,#0bfff4 78.4%,#50ffaf 80.5%,#61ff9e 81.2%,#94ff6b 85.7%,#e4ff1b 90.6%,#fcff03 91.7%,#fffa00 92%,#ffe800 92.7%,#ff4800 98.3%,#ff0f00 99.7%,#ff0900 100%)"></i>
<i style="background:linear-gradient(90deg,#0036ff 0%,#0022ff 10.1%,#002dff 17.8%,#0053ff 23.8%,#0087ff 30.4%,#00a9ff 35.7%,#00beff 39.5%,#00cbff 42.3%,#00dbff 50.7%,#00ddff 57.4%,#00e3ff 60.5%,#00ddff 61.6%,#00d3ff 62.3%,#009cff 64.7%,#0092ff 65.4%,#008eff 66.8%,#0094ff 69.6%,#00aeff 75.6%,#00dbff 78.4%,#00ffff 79.8%,#48ffb7 81.9%,#61ff9e 82.9%,#8cff73 86.1%,#ccff33 90.3%,#ffff00 92.7%,#ffb000 95.5%,#ff8700 97.3%,#ff4a00 99.4%,#ff4b00 99.7%,#ff5200 100%)"></i>
<i style="background:linear-gradient(90deg,#0036ff 0%,#0022ff 10.1%,#002dff 17.8%,#0053ff 23.8%,#0087ff 30.4%,#00a9ff 35.7%,#00beff 39.5%,#00cbff 42.3%,#00dbff 50.7%,#00ddff 57.4%,#00e3ff 60.5%,#00ddff 61.6%,#00d3ff 62.3%,#009cff 64.7%,#0092ff 65.4%,#008eff 66.8%,#0094ff 69.6%,#00aeff 75.6%,#00dbff 78.4%,#00ffff 79.8%,#48ffb7 81.9%,#61ff9e 82.9%,#8cff73 86.1%,#ccff33 90.3%,#ffff00 92.7%,#ffb000 95.5%,#ff8700 97.3%,#ff4a00 99.4%,#ff4b00 99.7%,#ff5200 100%)"></i>
<i style="background:linear-gradient(90deg,#0036ff 0%,#0031ff 1%,#0021ff 10.1%,#002cff 17.8%,#0050ff 23.8%,#007cff 29.4%,#00a4ff 35.3%,#00c3ff 40.9%,#00c9ff 42.7%,#00d7ff 50.7%,#00ddff 58.4%,#00daff 59.5%,#00cbff 60.9%,#009dff 62.6%,#008eff 63.3%,#0084ff 64%,#0082ff 65.1%,#00afff 77%,#00b8ff 78%,#00c8ff 79.1%,#00f8ff 81.2%,#02fffd 81.5%,#4effb1 84%,#68ff97 85%,#87ff78 86.8%,#b9ff46 90.3%,#e2ff1d 92.4%,#faff05 93.4%,#fffa00 93.8%,#ffd500 95.2%,#ffb500 96.9%,#ff9000 98.3%,#ff8b00 98.7%,#ff8d00 99%,#ffa200 100%)"></i>
<i style="background:linear-gradient(90deg,#0036ff 0%,#0031ff 1%,#0021ff 10.1%,#002cff 17.8%,#0050ff 23.8%,#007cff 29.4%,#00a4ff 35.3%,#00c3ff 40.9%,#00c9ff 42.7%,#00d7ff 50.7%,#00ddff 58.4%,#00daff 59.5%,#00cbff 60.9%,#009dff 62.6%,#008eff 63.3%,#0084ff 64%,#0082ff 65.1%,#00afff 77%,#00b8ff 78%,#00c8ff 79.1%,#00f8ff 81.2%,#02fffd 81.5%,#4effb1 84%,#68ff97 85%,#87ff78 86.8%,#b9ff46 90.3%,#e2ff1d 92.4%,#faff05 93.4%,#fffa00 93.8%,#ffd500 95.2%,#ffb500 96.9%,#ff9000 98.3%,#ff8b00 98.7%,#ff8d00 99%,#ffa200 100%)"></i>
<i style="background:linear-gradient(90deg,#0035ff 0%,#002fff 1%,#0021ff 10.1%,#002cff 17.8%,#004bff 23.4%,#0080ff 30.4%,#00a3ff 35.7%,#00c0ff 40.9%,#00c6ff 42.7%,#00cbff 47.2%,#00d3ff 50.4%,#00d2ff 52.5%,#00d7ff 56%,#00d3ff 58.1%,#00c9ff 59.1%,#00bdff 59.8%,#0083ff 61.9%,#007aff 62.6%,#007aff 63.3%,#0094ff 68.6%,#00b9ff 79.1%,#00c8ff 80.5%,#00f8ff 82.9%,#01fffe 83.3%,#13ffec 84%,#62ff9d 86.4%,#7cff83 87.5%,#c5ff3a 92%,#e0ff1f 93.4%,#fbff04 94.5%,#fffd00 94.8%,#ffe600 96.2%,#ffb900 98.3%,#ffb700 98.7%,#ffbc00 99%,#ffd500 100%)"></i>
<i style="background:linear-gradient(90deg,#0035ff 0%,#002fff 1%,#0021ff 10.1%,#002cff 17.8%,#004bff 23.4%,#0080ff 30.4%,#00a3ff 35.7%,#00c0ff 40.9%,#00c6ff 42.7%,#00cbff 47.2%,#00d3ff 50.4%,#00d2ff 52.5%,#00d7ff 56%,#00d3ff 58.1%,#00c9ff 59.1%,#00bdff 59.8%,#0083ff 61.9%,#007aff 62.6%,#007aff 63.3%,#0094ff 68.6%,#00b9ff 79.1%,#00c8ff 80.5%,#00f8ff 82.9%,#01fffe 83.3%,#13ffec 84%,#62ff9d 86.4%,#7cff83 87.5%,#c5ff3a 92%,#e0ff1f 93.4%,#fbff04 94.5%,#fffd00 94.8%,#ffe600 96.2%,#ffb900 98.3%,#ffb700 98.7%,#ffbc00 99%,#ffd500 100%)"></i>
<i style="background:linear-gradient(90deg,#0035ff 0%,#002eff 1%,#0020ff 10.1%,#002cff 17.8%,#0048ff 23.4%,#007dff 30.4%,#00bbff 40.6%,#00c1ff 42%,#00c5ff 47.2%,#00cfff 50.4%,#00cdff 52.8%,#00d1ff 55.6%,#00cdff 56.7%,#00bdff 58.1%,#00afff 58.8%,#007cff 60.5%,#0076ff 60.9%,#0072ff 61.6%,#008fff 66.5%,#00c1ff 80.8%,#00cfff 82.2%,#00f9ff 84.7%,#01fffe 85%,#13ffec 85.7%,#62ff9d 88.2%,#7dff82 89.2%,#9dff62 91%,#dbff24 94.8%,#f9ff06 96.2%,#fffd00 96.6%,#ffe500 97.6%,#ffdd00 98.3%,#ffd600 98.7%,#ffbe00 99.4%,#ffb300 100%)"></i>
<i style="background:linear-gradient(90deg,#0035ff 0%,#002eff 1%,#0020ff 10.1%,#002cff 17.8%,#0048ff 23.4%,#007dff 30.4%,#00bbff 40.6%,#00c1ff 42%,#00c5ff 47.2%,#00cfff 50.4%,#00cdff 52.8%,#00d1ff 55.6%,#00cdff 56.7%,#00bdff 58.1%,#00afff 58.8%,#007cff 60.5%,#0076ff 60.9%,#0072ff 61.6%,#008fff 66.5%,#00c1ff 80.8%,#00cfff 82.2%,#00f9ff 84.7%,#01fffe 85%,#13ffec 85.7%,#62ff9d 88.2%,#7dff82 89.2%,#9dff62 91%,#dbff24 94.8%,#f9ff06 96.2%,#fffd00 96.6%,#ffe500 97.6%,#ffdd00 98.3%,#ffd600 98.7%,#ffbe00 99.4%,#ffb300 100%)"></i>
<i style="background:linear-gradient(90deg,#0034ff 0%,#002cff 1%,#001fff 10.1%,#002cff 18.2%,#0046ff 23.4%,#007eff 31.1%,#00b1ff 39.5%,#00b8ff 41.6%,#00bcff 46.2%,#00caff 50.7%,#00c8ff 54.6%,#00c0ff 56%,#00abff 57.4%,#0077ff 59.1%,#0071ff 59.5%,#006dff 60.2%,#0091ff 66.1%,#00cbff 82.6%,#00dfff 84.7%,#00feff 86.4%,#20ffdf 87.8%,#76ff89 91%,#b3ff4c 94.5%,#cfff30 95.5%,#faff05 96.9%,#fff900 97.3%,#ffc700 99.4%,#ffc100 100%)"></i>
<i style="background:linear-gradient(90deg,#0034ff 0%,#002cff 1%,#001fff 10.1%,#002cff 18.2%,#0046ff 23.4%,#007eff 31.1%,#00b1ff 39.5%,#00b8ff 41.6%,#00bcff 46.2%,#00caff 50.7%,#00c8ff 54.6%,#00c0ff 56%,#00abff 57.4%,#0077ff 59.1%,#0071ff 59.5%,#006dff 60.2%,#0091ff 66.1%,#00cbff 82.6%,#00dfff 84.7%,#00feff 86.4%,#20ffdf 87.8%,#76ff89 91%,#b3ff4c 94.5%,#cfff30 95.5%,#faff05 96.9%,#fff900 97.3%,#ffc700 99.4%,#ffc100 100%)"></i>
<i style="background:linear-gradient(90deg,#002fff 0%,#002aff 1.4%,#001eff 10.1%,#002cff 18.2%,#0043ff 23.4%,#0074ff 30.1%,#0099ff 36%,#00acff 40.9%,#00b2ff 45.1%,#00c2ff 51.4%,#00bfff 53.5%,#00adff 55.6%,#00a0ff 56.3%,#006fff 58.1%,#006aff 58.4%,#0069ff 59.1%,#0094ff 65.8%,#00a9ff 72.4%,#00d6ff 84.3%,#00e4ff 86.1%,#00f9ff 87.5%,#02fffd 87.8%,#0afff5 88.2%,#95ff6a 94.1%,#b5ff4a 95.2%,#fdff02 97.3%,#ffd700 99%,#ffca00 100%)"></i>
<i style="background:linear-gradient(90deg,#002fff 0%,#002aff 1.4%,#001eff 10.1%,#002cff 18.2%,#0043ff 23.4%,#0074ff 30.1%,#0099ff 36%,#00acff 40.9%,#00b2ff 45.1%,#00c2ff 51.4%,#00bfff 53.5%,#00adff 55.6%,#00a0ff 56.3%,#006fff 58.1%,#006aff 58.4%,#0069ff 59.1%,#0094ff 65.8%,#00a9ff 72.4%,#00d6ff 84.3%,#00e4ff 86.1%,#00f9ff 87.5%,#02fffd 87.8%,#0afff5 88.2%,#95ff6a 94.1%,#b5ff4a 95.2%,#fdff02 97.3%,#ffd700 99%,#ffca00 100%)"></i>
<i style="background:linear-gradient(90deg,#0024ff 0%,#0029ff 1%,#001eff 10.1%,#002bff 18.2%,#0040ff 23.4%,#0073ff 30.4%,#0087ff 34.3%,#00a3ff 41.3%,#00b6ff 51.1%,#00b4ff 52.5%,#00a7ff 54.2%,#0096ff 55.3%,#006fff 56.7%,#0068ff 57.4%,#0068ff 58.1%,#0098ff 65.8%,#00abff 72.1%,#00ddff 85%,#00eaff 87.1%,#00fdff 88.5%,#2dffd2 91%,#46ffb9 92%,#83ff7c 94.1%,#f7ff08 97.3%,#fffb00 97.6%,#fff100 98%)"></i>
<i style="background:linear-gradient(90deg,#0024ff 0%,#0029ff 1%,#001eff 10.1%,#002bff 18.2%,#0040ff 23.4%,#0073ff 30.4%,#0087ff 34.3%,#00a3ff 41.3%,#00b6ff 51.1%,#00b4ff 52.5%,#00a7ff 54.2%,#0096ff 55.3%,#006fff 56.7%,#0068ff 57.4%,#0068ff 58.1%,#0098ff 65.8%,#00abff 72.1%,#00ddff 85%,#00eaff 87.1%,#00fdff 88.5%,#18ffe7 89.9%,#3dffc2 91.7%,#78ff87 93.8%,#a8ff57 95.2%)"></i>
<i style="background:linear-gradient(90deg,#0022ff 0%,#0027ff 1%,#001dff 10.1%,#002bff 18.2%,#003cff 23.1%,#006bff 30.4%,#0096ff 40.6%,#009cff 43%,#009fff 47.2%,#00a8ff 50.4%,#009fff 53.2%,#0094ff 53.9%,#0071ff 55.3%,#0069ff 56%,#0068ff 56.7%,#0098ff 65.1%,#00afff 72.1%,#00d6ff 82.2%,#00eeff 87.8%,#00fdff 89.2%,#1dffe2 91.3%,#4bffb4 92.7%)"></i>
<i style="background:linear-gradient(90deg,#0022ff 0%,#0027ff 1%,#001dff 10.1%,#002bff 18.2%,#003cff 23.1%,#006bff 30.4%,#0096ff 40.6%,#009cff 43%,#009fff 47.2%,#00a8ff 50.4%,#009fff 53.2%,#0094ff 53.9%,#0071ff 55.3%,#0069ff 56%,#0068ff 56.7%,#0098ff 65.1%,#00afff 72.1%,#00d6ff 82.2%,#00eeff 87.8%,#00fdff 89.2%,#0cfff3 90.3%)"></i>
<i style="background:linear-gradient(90deg,#0021ff 0%,#0026ff 1%,#001cff 10.1%,#0029ff 17.8%,#0038ff 23.1%,#0056ff 28.3%,#0073ff 35.7%,#008cff 40.9%,#008dff 46.2%,#009cff 50%,#0096ff 52.1%,#008cff 52.8%,#0070ff 54.2%,#006aff 54.9%,#006aff 55.6%,#009dff 65.4%,#00c9ff 78.4%,#00efff 87.8%)"></i>
<i style="background:linear-gradient(90deg,#0021ff 0%,#0026ff 1%,#001cff 10.1%,#0029ff 17.8%,#0038ff 23.1%,#0056ff 28.3%,#0073ff 35.7%,#008cff 40.9%,#008dff 46.2%,#009cff 50%,#0096ff 52.1%,#008cff 52.8%,#0070ff 54.2%,#006aff 54.9%,#006aff 55.6%,#009cff 65.1%,#00caff 78.7%,#00e6ff 85.4%)"></i>
<i style="background:linear-gradient(90deg,#0021ff 0%,#0024ff 1%,#001cff 10.5%,#0033ff 23.1%,#007bff 40.2%,#007bff 45.5%,#008eff 50%,#0087ff 51.4%,#0070ff 53.2%,#006fff 55.3%,#009fff 65.1%,#00dcff 82.6%)"></i>
<i style="background:linear-gradient(90deg,#0021ff 0%,#0024ff 1%,#001cff 10.5%,#0033ff 23.1%,#007bff 40.2%,#007bff 45.5%,#008eff 50%,#0087ff 51.4%,#0070ff 53.2%,#006fff 55.3%,#009fff 65.1%,#00d2ff 80.1%)"></i>
<i style="background:linear-gradient(90deg,#0020ff 0%,#0022ff 1%,#001bff 10.5%,#002dff 22.7%,#0063ff 38.8%,#0067ff 40.6%,#0066ff 44.1%,#007bff 49%,#0078ff 50.7%,#0070ff 52.5%,#0071ff 54.2%,#00a2ff 64.7%,#00caff 77.7%)"></i>
<i style="background:linear-gradient(90deg,#0020ff 0%,#0022ff 1%,#001bff 10.5%,#002dff 22.7%,#0063ff 38.8%,#0067ff 40.6%,#0066ff 44.1%,#007bff 49%,#0078ff 50.7%,#0070ff 52.5%,#0071ff 54.2%,#00a0ff 64.4%,#00c3ff 75.2%)"></i>
<i style="background:linear-gradient(90deg,#0020ff 0%,#0019ff 10.5%,#0021ff 18.2%,#0028ff 23.4%,#0051ff 39.2%,#0051ff 42.7%,#005bff 45.1%,#006cff 47.6%,#0072ff 53.5%,#00a0ff 63.3%,#00bdff 72.8%)"></i>
<i style="background:linear-gradient(90deg,#0020ff 0%,#0019ff 10.5%,#0028ff 23.4%,#0050ff 38.8%,#0052ff 43%,#005bff 45.1%,#006cff 47.6%,#0072ff 53.5%,#009cff 62.3%,#00b5ff 70%)"></i>
<i style="background:linear-gradient(90deg,#001fff 0%,#0015ff 10.8%,#0021ff 23.1%,#0034ff 32.5%,#003fff 40.2%,#003fff 42.3%,#0048ff 44.1%,#0067ff 47.6%,#006eff 51.4%,#0098ff 60.2%,#00afff 67.5%)"></i>
<i style="background:linear-gradient(90deg,#001fff 0%,#0015ff 10.8%,#0021ff 23.1%,#0034ff 32.5%,#003fff 40.2%,#003fff 42.3%,#0048ff 44.1%,#0067ff 47.6%,#0070ff 51.8%,#0095ff 59.5%,#00a8ff 65.1%)"></i>
<i style="background:linear-gradient(90deg,#001eff 0%,#0010ff 10.8%,#002eff 41.6%,#0037ff 43%,#0061ff 47.2%,#0067ff 49.7%,#0077ff 51.8%,#0090ff 57%,#00a2ff 62.6%)"></i>
<i style="background:linear-gradient(90deg,#001eff 0%,#0010ff 10.8%,#002eff 41.6%,#0037ff 43%,#0061ff 47.2%,#0067ff 49.7%,#0081ff 53.9%,#009bff 60.2%)"></i>
<i style="background:linear-gradient(90deg,#001cff 0%,#0015ff 1%,#000aff 10.5%,#0017ff 26.2%,#0019ff 35.7%,#001dff 38.1%,#002aff 42%,#005aff 46.9%,#0064ff 49%,#007cff 51.4%,#0093ff 57.4%)"></i>
<i style="background:linear-gradient(90deg,#001cff 0%,#0015ff 1%,#000aff 10.5%,#0013ff 20.6%,#0019ff 35.7%,#001cff 37.8%,#0027ff 41.6%,#005dff 47.2%,#0064ff 49%,#007cff 51.4%,#008bff 54.9%)"></i>
<i style="background:linear-gradient(90deg,#0012ff 0%,#000dff 2.1%,#0005ff 10.1%,#000eff 21%,#000eff 36%,#0028ff 42%,#007aff 50.7%,#0084ff 52.5%)"></i>
<i style="background:linear-gradient(90deg,#0012ff 0%,#000dff 2.1%,#0005ff 10.1%,#000eff 21%,#000eff 36%,#0028ff 42%,#0074ff 50%)"></i>
<i style="background:linear-gradient(90deg,#0001ff 0%,#0007ff 1%,#0000ff 10.1%,#0007ff 18.2%,#0009ff 35.7%,#0026ff 42%,#005cff 47.6%)"></i>
<i style="background:linear-gradient(90deg,#0001ff 0%,#0007ff 1%,#0000ff 10.1%,#0007ff 18.2%,#0008ff 35.3%,#0024ff 41.6%,#0041ff 44.8%)"></i>
<i style="background:linear-gradient(90deg,#0000fc 0%,#0000ff 1.4%,#0000fa 10.1%,#0000ff 16.1%,#0002ff 32.2%,#0008ff 36%,#0028ff 42.3%)"></i>
<i style="background:linear-gradient(90deg,#0000fc 0%,#0000ff 1.4%,#0000fa 10.1%,#0000ff 16.1%,#0000ff 30.1%,#0006ff 35.7%,#001aff 39.9%)"></i>
<i style="background:linear-gradient(90deg,#0000fa 0%,#0000f5 9.8%,#0000fc 17.8%,#0000fb 27.3%,#0000ff 32.2%,#0005ff 35.7%,#000eff 37.4%)"></i>
<i style="background:linear-gradient(90deg,#0000fa 0%,#0000f5 9.8%,#0000fc 17.8%,#0000fb 27.3%,#0000ff 32.2%,#0004ff 35%)"></i>
<i style="background:linear-gradient(90deg,#0000f3 0%,#0000ef 10.1%,#0000f6 17.8%,#0000f6 25.9%,#0000fe 32.2%)"></i>
<i style="background:linear-gradient(90deg,#0000f3 0%,#0000ef 9.8%,#0000f6 17.5%,#0000f5 24.8%,#0000fa 29.7%)"></i>
<i style="background:linear-gradient(90deg,#0000e8 0%,#0000ef 21%,#0000f6 27.3%)"></i>
<i style="background:linear-gradient(90deg,#0000e8 0%,#0000f3 24.8%)"></i>
<i style="background:linear-gradient(90deg,#0000e4 0%,#0000e4 14.7%,#0000ee 22.4%)"></i>
<i style="background:linear-gradient(90deg,#0000e4 0%,#0000e4 13.3%,#0000ea 19.9%)"></i>
<i style="background:linear-gradient(90deg,#0000d8 0%,#0000d9 10.8%,#0000e4 17.1%)"></i>
<i style="background:linear-gradient(90deg,#0000d8 0%,#0000d8 10.5%,#0000de 14.7%)"></i>
<i style="background:linear-gradient(90deg,#0000cf 0%,#0000cc 6.6%,#0000d7 12.2%)"></i>
<i style="background:linear-gradient(90deg,#0000cf 0%,#0000cb 5.2%,#0000d1 9.8%)"></i>
<i style="background:linear-gradient(90deg,#0000bc 0%,#0000bf 3.1%,#0000c9 7.3%)"></i>
<i style="background:linear-gradient(90deg,#0000bc 0%,#0000c1 4.5%)"></i>
<i style="background:linear-gradient(90deg,#0000b3 0%,#0000b9 2.1%)"></i>
</div>
<div class="h" style="left:1406.8px;top:27.2px;width:570.8px;height:484.1px;clip-path:polygon(0.0px 0.0px,570.8px 0.0px,570.8px 265.3px,567.2px 265.3px,567.2px 267.1px,563.6px 267.1px,563.6px 268.8px,560.0px 268.8px,560.0px 270.5px,556.4px 270.5px,556.4px 272.3px,552.8px 272.3px,552.8px 274.0px,549.2px 274.0px,549.2px 275.7px,545.6px 275.7px,545.6px 277.5px,542.0px 277.5px,542.0px 279.2px,538.4px 279.2px,538.4px 280.9px,534.8px 280.9px,534.8px 282.6px,531.2px 282.6px,531.2px 284.4px,527.6px 284.4px,527.6px 286.1px,524.0px 286.1px,524.0px 287.8px,520.4px 287.8px,520.4px 289.6px,516.8px 289.6px,516.8px 291.3px,513.2px 291.3px,513.2px 293.0px,509.6px 293.0px,509.6px 294.8px,506.0px 294.8px,506.0px 296.5px,502.4px 296.5px,502.4px 298.2px,498.8px 298.2px,498.8px 300.0px,495.2px 300.0px,495.2px 301.7px,491.6px 301.7px,491.6px 303.4px,488.0px 303.4px,488.0px 305.2px,484.4px 305.2px,484.4px 306.9px,480.8px 306.9px,480.8px 308.6px,477.2px 308.6px,477.2px 310.4px,473.6px 310.4px,473.6px 312.1px,470.0px 312.1px,470.0px 313.8px,466.4px 313.8px,466.4px 315.5px,462.8px 315.5px,462.8px 317.3px,459.2px 317.3px,459.2px 319.0px,455.6px 319.0px,455.6px 320.7px,452.0px 320.7px,452.0px 322.5px,448.4px 322.5px,448.4px 324.2px,444.8px 324.2px,444.8px 325.9px,441.2px 325.9px,441.2px 327.7px,437.6px 327.7px,437.6px 329.4px,434.0px 329.4px,434.0px 331.1px,430.4px 331.1px,430.4px 332.9px,426.8px 332.9px,426.8px 334.6px,423.2px 334.6px,423.2px 336.3px,419.6px 336.3px,419.6px 338.1px,416.0px 338.1px,416.0px 339.8px,412.4px 339.8px,412.4px 341.5px,408.8px 341.5px,408.8px 343.3px,405.2px 343.3px,405.2px 345.0px,401.6px 345.0px,401.6px 346.7px,398.0px 346.7px,398.0px 348.4px,394.4px 348.4px,394.4px 350.2px,390.8px 350.2px,390.8px 351.9px,387.2px 351.9px,387.2px 353.6px,383.6px 353.6px,383.6px 355.4px,380.0px 355.4px,380.0px 357.1px,376.4px 357.1px,376.4px 358.8px,372.8px 358.8px,372.8px 360.6px,369.2px 360.6px,369.2px 362.3px,365.6px 362.3px,365.6px 364.0px,362.0px 364.0px,362.0px 365.8px,358.4px 365.8px,358.4px 367.5px,354.8px 367.5px,354.8px 369.2px,351.2px 369.2px,351.2px 371.0px,347.6px 371.0px,347.6px 372.7px,344.0px 372.7px,344.0px 374.4px,340.4px 374.4px,340.4px 376.2px,336.8px 376.2px,336.8px 377.9px,333.2px 377.9px,333.2px 379.6px,329.6px 379.6px,329.6px 381.3px,326.0px 381.3px,326.0px 383.1px,322.4px 383.1px,322.4px 384.8px,318.8px 384.8px,318.8px 386.5px,315.2px 386.5px,315.2px 388.3px,311.6px 388.3px,311.6px 390.0px,308.0px 390.0px,308.0px 391.7px,304.4px 391.7px,304.4px 393.5px,300.8px 393.5px,300.8px 395.2px,297.2px 395.2px,297.2px 396.9px,293.6px 396.9px,293.6px 398.7px,290.0px 398.7px,290.0px 400.4px,286.4px 400.4px,286.4px 402.1px,282.8px 402.1px,282.8px 403.9px,279.2px 403.9px,279.2px 405.6px,275.6px 405.6px,275.6px 407.3px,272.0px 407.3px,272.0px 409.1px,268.4px 409.1px,268.4px 410.8px,264.8px 410.8px,264.8px 412.5px,261.2px 412.5px,261.2px 414.2px,257.6px 414.2px,257.6px 416.0px,254.0px 416.0px,254.0px 417.7px,250.4px 417.7px,250.4px 419.4px,246.8px 419.4px,246.8px 421.2px,243.2px 421.2px,243.2px 422.9px,239.6px 422.9px,239.6px 424.6px,236.0px 424.6px,236.0px 426.4px,232.4px 426.4px,232.4px 428.1px,228.8px 428.1px,228.8px 429.8px,225.2px 429.8px,225.2px 431.6px,221.6px 431.6px,221.6px 433.3px,218.0px 433.3px,218.0px 435.0px,214.4px 435.0px,214.4px 436.8px,210.8px 436.8px,210.8px 438.5px,207.2px 438.5px,207.2px 440.2px,203.6px 440.2px,203.6px 442.0px,200.0px 442.0px,200.0px 443.7px,196.4px 443.7px,196.4px 445.4px,192.8px 445.4px,192.8px 447.1px,189.2px 447.1px,189.2px 448.9px,185.6px 448.9px,185.6px 450.6px,182.0px 450.6px,182.0px 452.3px,178.4px 452.3px,178.4px 454.1px,174.8px 454.1px,174.8px 455.8px,171.2px 455.8px,171.2px 457.5px,167.6px 457.5px,167.6px 459.3px,164.0px 459.3px,164.0px 461.0px,160.4px 461.0px,160.4px 462.7px,156.8px 462.7px,156.8px 464.5px,153.2px 464.5px,153.2px 466.2px,149.6px 466.2px,149.6px 467.9px,146.0px 467.9px,146.0px 469.7px,142.4px 469.7px,142.4px 471.4px,138.8px 471.4px,138.8px 473.1px,135.2px 473.1px,135.2px 474.9px,131.6px 474.9px,131.6px 476.6px,128.0px 476.6px,128.0px 478.3px,124.4px 478.3px,124.4px 480.0px,120.8px 480.0px,120.8px 481.8px,117.2px 481.8px,117.2px 483.5px,113.6px 483.5px,113.6px 484.1px,110.0px 484.1px,106.4px 484.1px,102.8px 484.1px,99.2px 484.1px,95.6px 484.1px,92.0px 484.1px,88.4px 484.1px,84.8px 484.1px,81.2px 484.1px,77.6px 484.1px,74.0px 484.1px,70.4px 484.1px,66.8px 484.1px,63.2px 484.1px,59.6px 484.1px,56.0px 484.1px,52.4px 484.1px,48.8px 484.1px,45.2px 484.1px,41.6px 484.1px,38.0px 484.1px,34.4px 484.1px,30.8px 484.1px,27.2px 484.1px,23.6px 484.1px,20.0px 484.1px,16.4px 484.1px,12.8px 484.1px,9.2px 484.1px,5.6px 484.1px,2.0px 484.1px,0.0px 484.1px)">
<i style="background:linear-gradient(90deg,#00ccff 0%,#00d5ff 0.4%,#00feff 1.4%,#49ffb6 3.2%,#61ff9e 3.9%,#8dff72 6%,#98ff67 6.7%,#a7ff58 10.2%,#a0ff5f 14.4%,#fffe00 20.7%,#ffd400 25.2%,#ffcd00 28.4%,#ffcf00 29.1%,#ffe300 31.5%,#ffff00 33.6%,#c7ff38 40.3%,#b1ff4e 48%,#80ff7f 57.5%,#57ffa8 64.1%,#42ffbd 74.6%,#42ffbd 83.4%,#60ff9f 89.7%,#97ff68 95%,#caff35 97.8%,#f0ff0f 99.5%,#f9ff06 100%)"></i>
<i style="background:linear-gradient(90deg,#00ccff 0%,#00d5ff 0.4%,#00fdff 1.4%,#48ffb7 3.2%,#61ff9e 3.9%,#8cff73 6%,#97ff68 6.7%,#a7ff58 10.5%,#a0ff5f 14.4%,#fffe00 20.7%,#ffd400 25.2%,#ffcd00 28.4%,#ffcf00 29.1%,#ffe300 31.5%,#ffff00 33.6%,#c7ff38 40.3%,#afff50 48.4%,#7fff80 57.5%,#56ffa9 64.1%,#42ffbd 73.6%,#41ffbe 77.4%,#41ffbe 83.4%,#61ff9e 90%,#95ff6a 95%,#c8ff37 97.8%,#eeff11 99.5%,#f8ff07 100%)"></i>
<i style="background:linear-gradient(90deg,#00ccff 0%,#00d4ff 0.4%,#00fdff 1.4%,#48ffb7 3.2%,#60ff9f 3.9%,#97ff68 6.7%,#a7ff58 10.5%,#a0ff5f 14.4%,#fffe00 20.7%,#ffd400 25.2%,#ffcd00 28.4%,#ffcf00 29.1%,#ffe300 31.5%,#ffff00 33.6%,#c7ff38 40.3%,#afff50 48.4%,#7fff80 57.5%,#56ffa9 64.1%,#41ffbe 73.6%,#40ffbf 77.4%,#41ffbe 83.4%,#60ff9f 90%,#94ff6b 95%,#c0ff3f 97.4%,#edff12 99.5%,#f7ff08 100%)"></i>
<i style="background:linear-gradient(90deg,#00ccff 0%,#00d4ff 0.4%,#00fdff 1.4%,#47ffb8 3.2%,#5fffa0 3.9%,#97ff68 6.7%,#a7ff58 10.5%,#a0ff5f 14.4%,#a8ff57 15.1%,#fffe00 20.7%,#ffd400 25.2%,#ffcd00 28.4%,#ffcf00 29.1%,#ffe300 31.5%,#ffff00 33.6%,#c7ff38 40.3%,#afff50 48.4%,#7eff81 57.5%,#55ffaa 64.1%,#41ffbe 73.6%,#3fffc0 77.4%,#40ffbf 83.4%,#60ff9f 90%,#93ff6c 95%,#c5ff3a 97.8%,#f7ff08 100%)"></i>
<i style="background:linear-gradient(90deg,#00ccff 0%,#00d4ff 0.4%,#00fcff 1.4%,#47ffb8 3.2%,#5fffa0 3.9%,#96ff69 6.7%,#a7ff58 10.5%,#a0ff5f 14.4%,#b8ff47 16.1%,#fffe00 20.7%,#ffd400 25.2%,#ffcd00 28.4%,#ffcf00 29.1%,#ffe400 31.5%,#ffff00 33.6%,#c6ff39 40.3%,#afff50 48.4%,#7eff81 57.5%,#55ffaa 64.1%,#40ffbf 73.6%,#3fffc0 77.4%,#3fffc0 83.4%,#5fffa0 90%,#92ff6d 95%,#c4ff3b 97.8%,#f6ff09 100%)"></i>
<i style="background:linear-gradient(90deg,#00ccff 0%,#00d4ff 0.4%,#00fcff 1.4%,#0bfff4 1.8%,#46ffb9 3.2%,#5effa1 3.9%,#96ff69 6.7%,#a7ff58 10.5%,#a0ff5f 14.4%,#b8ff47 16.1%,#ffff00 20.7%,#ffd400 25.2%,#ffce00 28.4%,#ffd000 29.1%,#ffe400 31.5%,#ffff00 33.6%,#c6ff39 40.3%,#aeff51 48.4%,#7dff82 57.5%,#55ffaa 64.1%,#3fffc0 73.6%,#3effc1 77.4%,#3effc1 83.4%,#5effa1 90%,#91ff6e 95%,#c2ff3d 97.8%,#f6ff09 100%)"></i>
<i style="background:linear-gradient(90deg,#00ccff 0%,#00d4ff 0.4%,#00fcff 1.4%,#0bfff4 1.8%,#46ffb9 3.2%,#5dffa2 3.9%,#95ff6a 6.7%,#a7ff58 10.5%,#a0ff5f 14.4%,#b8ff47 16.1%,#ffff00 20.7%,#ffd400 25.2%,#ffce00 28.4%,#ffd000 29.1%,#ffe400 31.5%,#ffff00 33.6%,#c6ff39 40.3%,#aeff51 48.4%,#7dff82 57.5%,#54ffab 64.1%,#3fffc0 73.6%,#3dffc2 77.4%,#3effc1 83.4%,#5dffa2 90%,#90ff6f 95%,#c1ff3e 97.8%,#f5ff0a 100%)"></i>
<i style="background:linear-gradient(90deg,#00ccff 0%,#00d4ff 0.4%,#00fbff 1.4%,#0bfff4 1.8%,#45ffba 3.2%,#5cffa3 3.9%,#95ff6a 6.7%,#a6ff59 10.5%,#a0ff5f 14.4%,#b7ff48 16.1%,#ffff00 20.7%,#ffd400 25.2%,#ffce00 28.4%,#ffd000 29.1%,#ffe400 31.5%,#feff01 33.6%,#c6ff39 40.3%,#aeff51 48.4%,#54ffab 64.1%,#3effc1 73.6%,#3dffc2 77.4%,#3dffc2 83.4%,#5dffa2 90%,#8fff70 95%,#bfff40 97.8%,#f5ff0a 100%)"></i>
<i style="background:linear-gradient(90deg,#00ccff 0%,#00d3ff 0.4%,#00fbff 1.4%,#0afff5 1.8%,#45ffba 3.2%,#5cffa3 3.9%,#94ff6b 6.7%,#9aff65 7.4%,#a6ff59 10.5%,#a0ff5f 14.4%,#b7ff48 16.1%,#ffff00 20.7%,#ffd400 25.2%,#ffce00 28.4%,#ffd000 29.1%,#ffe500 31.5%,#feff01 33.6%,#c8ff37 39.9%,#aeff51 48.4%,#54ffab 64.1%,#3effc1 73.2%,#3cffc3 77.4%,#3cffc3 83.4%,#5cffa3 90%,#8eff71 95%,#beff41 97.8%,#f4ff0b 100%)"></i>
<i style="background:linear-gradient(90deg,#00ccff 0%,#00d3ff 0.4%,#00fbff 1.4%,#0afff5 1.8%,#44ffbb 3.2%,#5bffa4 3.9%,#94ff6b 6.7%,#9aff65 7.4%,#a6ff59 10.5%,#a0ff5f 14.4%,#c7ff38 17.2%,#ffff00 20.7%,#ffd400 25.2%,#ffce00 28.4%,#ffd000 29.1%,#ffe500 31.5%,#feff01 33.6%,#c8ff37 39.9%,#adff52 48.4%,#53ffac 64.1%,#3effc1 73.2%,#3bffc4 77.4%,#3cffc3 83.4%,#5bffa4 90%,#8eff71 95%,#bcff43 97.8%,#f4ff0b 100%)"></i>
<i style="background:linear-gradient(90deg,#00cbff 0%,#00d3ff 0.4%,#00fbff 1.4%,#0afff5 1.8%,#44ffbb 3.2%,#5affa5 3.9%,#93ff6c 6.7%,#9aff65 7.4%,#a6ff59 10.5%,#a0ff5f 14.4%,#c7ff38 17.2%,#feff01 20.7%,#ffd200 25.6%,#ffce00 28.4%,#ffd000 29.1%,#ffe500 31.5%,#feff01 33.6%,#c8ff37 39.9%,#adff52 48.4%,#53ffac 64.1%,#3dffc2 73.2%,#3affc5 77.4%,#3bffc4 83.4%,#5affa5 90%,#8dff72 95%,#bbff44 97.8%,#f3ff0c 100%)"></i>
<i style="background:linear-gradient(90deg,#00cbff 0%,#00d3ff 0.4%,#00faff 1.4%,#09fff6 1.8%,#43ffbc 3.2%,#59ffa6 3.9%,#93ff6c 6.7%,#99ff66 7.4%,#a6ff59 10.5%,#a0ff5f 14.4%,#ccff33 17.5%,#f9ff06 20.3%,#fffc00 21%,#ffd200 25.6%,#ffce00 28.4%,#ffd000 29.1%,#ffe500 31.5%,#feff01 33.6%,#c8ff37 39.9%,#adff52 48.4%,#53ffac 64.1%,#3dffc2 73.2%,#3affc5 77.4%,#3affc5 83.4%,#5affa5 90%,#8cff73 95%,#baff45 97.8%,#f3ff0c 100%)"></i>
<i style="background:linear-gradient(90deg,#00cbff 0%,#00d3ff 0.4%,#00faff 1.4%,#09fff6 1.8%,#42ffbd 3.2%,#58ffa7 3.9%,#85ff7a 6%,#97ff68 7%,#a6ff59 10.5%,#a0ff5f 14.4%,#cbff34 17.5%,#f9ff06 20.3%,#fffc00 21%,#ffd200 25.6%,#ffce00 28.4%,#ffd300 29.4%,#ffe600 31.5%,#feff01 33.6%,#c8ff37 39.9%,#adff52 48.4%,#51ffae 64.5%,#3cffc3 73.2%,#39ffc6 77.4%,#39ffc6 83.4%,#59ffa6 90%,#8bff74 95%,#b8ff47 97.8%,#d6ff29 99.2%,#f2ff0d 100%)"></i>
<i style="background:linear-gradient(90deg,#00cbff 0%,#00d2ff 0.4%,#00faff 1.4%,#09fff6 1.8%,#42ffbd 3.2%,#57ffa8 3.9%,#7eff81 5.6%,#96ff69 7%,#a6ff59 10.5%,#a0ff5f 14.4%,#cbff34 17.5%,#f9ff06 20.3%,#fffc00 21%,#ffd200 25.6%,#ffce00 28.4%,#ffd300 29.4%,#ffe600 31.5%,#feff01 33.6%,#c8ff37 39.9%,#acff53 48.4%,#50ffaf 64.5%,#3cffc3 73.2%,#38ffc7 77.4%,#39ffc6 83.4%,#5bffa4 90.4%,#8aff75 95%,#b7ff48 97.8%,#d5ff2a 99.2%,#f2ff0d 100%)"></i>
<i style="background:linear-gradient(90deg,#00cbff 0%,#00d2ff 0.4%,#00f9ff 1.4%,#08fff7 1.8%,#34ffcb 2.8%,#57ffa8 3.9%,#6fff90 4.9%,#96ff69 7%,#a5ff5a 10.5%,#a0ff5f 14.4%,#cbff34 17.5%,#f8ff07 20.3%,#fffd00 21%,#ffd200 25.6%,#ffcf00 28.4%,#ffd300 29.4%,#ffe600 31.5%,#feff01 33.6%,#c8ff37 39.9%,#acff53 48.4%,#50ffaf 64.5%,#3bffc4 73.2%,#37ffc8 77.4%,#38ffc7 83.4%,#5affa5 90.4%,#84ff7b 94.6%,#a9ff56 97.1%,#d4ff2b 99.2%,#f1ff0e 100%)"></i>
<i style="background:linear-gradient(90deg,#00cbff 0%,#00d2ff 0.4%,#00f9ff 1.4%,#08fff7 1.8%,#34ffcb 2.8%,#56ffa9 3.9%,#6eff91 4.9%,#96ff69 7%,#a5ff5a 10.5%,#a0ff5f 14.4%,#cbff34 17.5%,#f8ff07 20.3%,#fffd00 21%,#ffd200 25.6%,#ffcf00 28.4%,#ffd300 29.4%,#ffe600 31.5%,#fdff02 33.6%,#c8ff37 39.9%,#acff53 48.4%,#50ffaf 64.5%,#3affc5 73.2%,#37ffc8 77.4%,#37ffc8 83.4%,#5affa5 90.4%,#83ff7c 94.6%,#a7ff58 97.1%,#d2ff2d 99.2%,#f1ff0e 100%)"></i>
<i style="background:linear-gradient(90deg,#00cbff 0%,#00d2ff 0.4%,#00f9ff 1.4%,#08fff7 1.8%,#34ffcb 2.8%,#56ffa9 3.9%,#6eff91 4.9%,#96ff69 7%,#a5ff5a 10.5%,#a0ff5f 14.4%,#cbff34 17.5%,#f8ff07 20.3%,#fffd00 21%,#ffd200 25.6%,#ffcf00 28.4%,#ffd300 29.4%,#ffe600 31.5%,#fdff02 33.6%,#c8ff37 39.9%,#acff53 48.4%,#50ffaf 64.5%,#3affc5 73.2%,#37ffc8 77.4%,#37ffc8 83.4%,#5affa5 90.4%,#83ff7c 94.6%,#a7ff58 97.1%,#d2ff2d 99.2%,#f1ff0e 100%)"></i>
<i style="background:linear-gradient(90deg,#00cbff 0%,#00d2ff 0.4%,#00f8ff 1.4%,#07fff8 1.8%,#32ffcd 2.8%,#5dffa2 4.2%,#95ff6a 7%,#a5ff5a 10.5%,#a0ff5f 14.4%,#b6ff49 16.1%,#f8ff07 20.3%,#fffd00 21%,#ffd200 25.6%,#ffcf00 28.4%,#ffd700 29.8%,#ffea00 31.9%,#fdff02 33.6%,#c8ff37 39.9%,#acff53 48.4%,#4fffb0 64.5%,#39ffc6 73.2%,#35ffca 77.4%,#36ffc9 83.4%,#58ffa7 90.4%,#7dff82 94.3%,#a5ff5a 97.1%,#cfff30 99.2%,#f0ff0f 100%)"></i>
<i style="background:linear-gradient(90deg,#00cbff 0%,#00d2ff 0.4%,#00f8ff 1.4%,#07fff8 1.8%,#32ffcd 2.8%,#5dffa2 4.2%,#95ff6a 7%,#a5ff5a 10.5%,#a0ff5f 14.4%,#b6ff49 16.1%,#f8ff07 20.3%,#fffd00 21%,#ffd200 25.6%,#ffcf00 28.4%,#ffd700 29.8%,#ffea00 31.9%,#fdff02 33.6%,#c8ff37 39.9%,#acff53 48.4%,#4fffb0 64.5%,#39ffc6 73.2%,#35ffca 77.4%,#36ffc9 83.4%,#58ffa7 90.4%,#7dff82 94.3%,#a5ff5a 97.1%,#cfff30 99.2%,#f0ff0f 100%)"></i>
<i style="background:linear-gradient(90deg,#00caff 0%,#00d1ff 0.4%,#00f8ff 1.4%,#07fff8 1.8%,#31ffce 2.8%,#5cffa3 4.2%,#94ff6b 7%,#a5ff5a 10.5%,#a0ff5f 14.4%,#b6ff49 16.1%,#fffe00 21%,#ffd200 25.6%,#ffcf00 28.4%,#ffd700 29.8%,#fdff02 33.6%,#c8ff37 39.9%,#abff54 48.4%,#4effb1 64.5%,#38ffc7 73.2%,#34ffcb 77.4%,#34ffcb 83.4%,#57ffa8 90.4%,#7bff84 94.3%,#a2ff5d 97.1%,#ccff33 99.2%,#ecff13 100%)"></i>
<i style="background:linear-gradient(90deg,#00caff 0%,#00d1ff 0.4%,#00f8ff 1.4%,#07fff8 1.8%,#31ffce 2.8%,#5cffa3 4.2%,#94ff6b 7%,#a5ff5a 10.5%,#a0ff5f 14.4%,#b6ff49 16.1%,#fffe00 21%,#ffd200 25.6%,#ffcf00 28.4%,#ffd700 29.8%,#fdff02 33.6%,#c8ff37 39.9%,#abff54 48.4%,#4effb1 64.5%,#38ffc7 73.2%,#34ffcb 77.4%,#34ffcb 83.4%,#57ffa8 90.4%,#7bff84 94.3%,#a2ff5d 97.1%,#ccff33 99.2%,#ecff13 100%)"></i>
<i style="background:linear-gradient(90deg,#00c6ff 0%,#00cfff 0.4%,#00f7ff 1.4%,#06fff9 1.8%,#30ffcf 2.8%,#5affa5 4.2%,#93ff6c 7%,#a4ff5b 10.5%,#a0ff5f 14.4%,#c4ff3b 17.2%,#fffe00 21%,#ffd200 25.6%,#ffcf00 28.4%,#ffd700 29.8%,#fdff02 33.6%,#c8ff37 39.9%,#abff54 48.4%,#4effb1 64.5%,#42ffbd 68%,#33ffcc 77.1%,#33ffcc 83.4%,#52ffad 90%,#7dff82 94.6%,#a5ff5a 97.4%,#d0ff2f 99.5%,#d2ff2d 100%)"></i>
<i style="background:linear-gradient(90deg,#00c6ff 0%,#00cfff 0.4%,#00f7ff 1.4%,#06fff9 1.8%,#30ffcf 2.8%,#5affa5 4.2%,#93ff6c 7%,#a4ff5b 10.5%,#a0ff5f 14.4%,#c4ff3b 17.2%,#fffe00 21%,#ffd200 25.6%,#ffcf00 28.4%,#ffd700 29.8%,#fdff02 33.6%,#c8ff37 39.9%,#abff54 48.4%,#4effb1 64.5%,#42ffbd 68%,#33ffcc 77.1%,#33ffcc 83.4%,#52ffad 90%,#7dff82 94.6%,#a5ff5a 97.4%,#d0ff2f 99.5%,#d2ff2d 100%)"></i>
<i style="background:linear-gradient(90deg,#00c4ff 0%,#00ceff 0.4%,#00f6ff 1.4%,#05fffa 1.8%,#2effd1 2.8%,#58ffa7 4.2%,#69ff96 4.9%,#92ff6d 7%,#98ff67 7.7%,#a4ff5b 10.5%,#9fff60 14%,#a2ff5d 14.7%,#c9ff36 17.5%,#fffe00 21%,#ffd200 25.6%,#ffd000 28.4%,#ffd500 29.4%,#fdff02 33.6%,#c8ff37 39.9%,#aaff55 48.4%,#4dffb2 64.5%,#41ffbe 68%,#31ffce 77.1%,#32ffcd 83.4%,#51ffae 90%,#7bff84 94.6%,#a2ff5d 97.4%,#ccff33 99.5%,#ccff33 99.9%,#c6ff39 100%)"></i>
<i style="background:linear-gradient(90deg,#00c4ff 0%,#00ceff 0.4%,#00f6ff 1.4%,#05fffa 1.8%,#2effd1 2.8%,#58ffa7 4.2%,#69ff96 4.9%,#92ff6d 7%,#98ff67 7.7%,#a4ff5b 10.5%,#9fff60 14%,#a2ff5d 14.7%,#c9ff36 17.5%,#fffe00 21%,#ffd200 25.6%,#ffd000 28.4%,#ffd500 29.4%,#fdff02 33.6%,#c8ff37 39.9%,#aaff55 48.4%,#4dffb2 64.5%,#41ffbe 68%,#31ffce 77.1%,#32ffcd 83.4%,#51ffae 90%,#7bff84 94.6%,#a2ff5d 97.4%,#ccff33 99.5%,#ccff33 99.9%,#c6ff39 100%)"></i>
<i style="background:linear-gradient(90deg,#00c4ff 0%,#00cdff 0.4%,#00f6ff 1.4%,#05fffa 1.8%,#2dffd2 2.8%,#60ff9f 4.6%,#8bff74 6.7%,#95ff6a 7.4%,#a4ff5b 10.9%,#9fff60 14%,#a2ff5d 14.7%,#c8ff37 17.5%,#ffff00 21%,#ffd200 25.6%,#ffd000 28.4%,#ffd500 29.4%,#fcff03 33.6%,#c8ff37 39.9%,#aaff55 48.4%,#4bffb4 64.8%,#40ffbf 68%,#30ffcf 77.1%,#30ffcf 83.4%,#50ffaf 90%,#79ff86 94.6%,#a0ff5f 97.4%,#caff35 99.5%,#caff35 99.9%,#c4ff3b 100%)"></i>
<i style="background:linear-gradient(90deg,#00c4ff 0%,#00cdff 0.4%,#00f6ff 1.4%,#05fffa 1.8%,#2dffd2 2.8%,#60ff9f 4.6%,#8bff74 6.7%,#95ff6a 7.4%,#a4ff5b 10.9%,#9fff60 14%,#a2ff5d 14.7%,#c8ff37 17.5%,#ffff00 21%,#ffd200 25.6%,#ffd000 28.4%,#ffd500 29.4%,#fcff03 33.6%,#c8ff37 39.9%,#aaff55 48.4%,#4bffb4 64.8%,#40ffbf 68%,#30ffcf 77.1%,#30ffcf 83.4%,#50ffaf 90%,#79ff86 94.6%,#a0ff5f 97.4%,#caff35 99.5%,#caff35 99.9%,#c4ff3b 100%)"></i>
<i style="background:linear-gradient(90deg,#00c3ff 0%,#00cdff 0.4%,#00f5ff 1.4%,#04fffb 1.8%,#2bffd4 2.8%,#5effa1 4.6%,#89ff76 6.7%,#94ff6b 7.4%,#a4ff5b 10.9%,#9fff60 14%,#a2ff5d 14.7%,#c8ff37 17.5%,#ffff00 21%,#ffd200 25.6%,#ffd000 28.4%,#ffd500 29.4%,#ffec00 31.9%,#fffe00 33.3%,#fcff03 33.6%,#c8ff37 39.9%,#a9ff56 48.4%,#4affb5 64.8%,#3fffc0 68%,#2effd1 77.1%,#2fffd0 83.4%,#4effb1 90%,#77ff88 94.6%,#a3ff5c 97.8%,#c7ff38 99.5%,#c8ff37 99.9%,#c3ff3c 100%)"></i>
<i style="background:linear-gradient(90deg,#00c3ff 0%,#00cdff 0.4%,#00f5ff 1.4%,#04fffb 1.8%,#2bffd4 2.8%,#5effa1 4.6%,#89ff76 6.7%,#94ff6b 7.4%,#a4ff5b 10.9%,#9fff60 14%,#a2ff5d 14.7%,#c8ff37 17.5%,#ffff00 21%,#ffd200 25.6%,#ffd000 28.4%,#ffd500 29.4%,#ffec00 31.9%,#fffe00 33.3%,#fcff03 33.6%,#c8ff37 39.9%,#a9ff56 48.4%,#4affb5 64.8%,#3fffc0 68%,#2effd1 77.1%,#2fffd0 83.4%,#4effb1 90%,#77ff88 94.6%,#a3ff5c 97.8%,#c7ff38 99.5%,#c8ff37 99.9%,#c3ff3c 100%)"></i>
<i style="background:linear-gradient(90deg,#00c3ff 0%,#00cdff 0.4%,#00f4ff 1.4%,#03fffc 1.8%,#29ffd6 2.8%,#5dffa2 4.6%,#94ff6b 7.4%,#a4ff5b 10.9%,#9fff60 14%,#a2ff5d 14.7%,#c7ff38 17.5%,#feff01 21%,#ffd200 25.6%,#ffd000 28.4%,#ffd500 29.4%,#fffe00 33.3%,#fcff03 33.6%,#c8ff37 39.9%,#a9ff56 48.4%,#49ffb6 64.8%,#3effc1 68%,#2dffd2 77.1%,#2dffd2 83.4%,#4dffb2 90%,#75ff8a 94.6%,#a0ff5f 97.8%,#c4ff3b 99.5%,#c6ff39 99.9%,#c2ff3d 100%)"></i>
<i style="background:linear-gradient(90deg,#00c3ff 0%,#00cdff 0.4%,#00f4ff 1.4%,#03fffc 1.8%,#29ffd6 2.8%,#5dffa2 4.6%,#94ff6b 7.4%,#a4ff5b 10.9%,#9fff60 14%,#a2ff5d 14.7%,#c7ff38 17.5%,#feff01 21%,#ffd200 25.6%,#ffd000 28.4%,#ffd500 29.4%,#fffe00 33.3%,#fcff03 33.6%,#c8ff37 39.9%,#a9ff56 48.4%,#49ffb6 64.8%,#3effc1 68%,#2dffd2 77.1%,#2dffd2 83.4%,#4dffb2 90%,#75ff8a 94.6%,#a0ff5f 97.8%,#c4ff3b 99.5%,#c6ff39 99.9%,#c2ff3d 100%)"></i>
<i style="background:linear-gradient(90deg,#00c3ff 0%,#00ccff 0.4%,#03fffc 1.8%,#28ffd7 2.8%,#5bffa4 4.6%,#93ff6c 7.4%,#a3ff5c 10.9%,#9fff60 14%,#a2ff5d 14.7%,#c7ff38 17.5%,#f9ff06 20.7%,#fffc00 21.4%,#ffd200 25.6%,#ffd000 28.4%,#ffd600 29.4%,#fffe00 33.3%,#c8ff37 39.9%,#aaff55 48%,#49ffb6 64.8%,#3dffc2 67.6%,#2bffd4 77.1%,#2cffd3 83.4%,#4bffb4 90%,#74ff8b 94.6%,#9dff62 97.8%,#c2ff3d 99.5%,#c1ff3e 100%)"></i>
<i style="background:linear-gradient(90deg,#00c3ff 0%,#00ccff 0.4%,#03fffc 1.8%,#28ffd7 2.8%,#5bffa4 4.6%,#93ff6c 7.4%,#a3ff5c 10.9%,#9fff60 14%,#a2ff5d 14.7%,#c7ff38 17.5%,#f9ff06 20.7%,#fffc00 21.4%,#ffd200 25.6%,#ffd000 28.4%,#ffd600 29.4%,#fffe00 33.3%,#c8ff37 39.9%,#aaff55 48%,#49ffb6 64.8%,#3dffc2 67.6%,#2bffd4 77.1%,#2cffd3 83.4%,#4bffb4 90%,#74ff8b 94.6%,#9dff62 97.8%,#c2ff3d 99.5%,#c1ff3e 100%)"></i>
<i style="background:linear-gradient(90deg,#00c3ff 0%,#00ccff 0.4%,#02fffd 1.8%,#1bffe4 2.5%,#59ffa6 4.6%,#71ff8e 5.6%,#92ff6d 7.4%,#a3ff5c 10.9%,#9fff60 14%,#a2ff5d 14.7%,#c6ff39 17.5%,#fdff02 21%,#fffc00 21.4%,#ffd200 25.6%,#ffd100 28.4%,#ffd600 29.4%,#ffff00 33.3%,#c8ff37 39.9%,#a9ff56 48%,#48ffb7 64.8%,#3cffc3 67.6%,#2affd5 77.1%,#2affd5 83.4%,#4affb5 90%,#72ff8d 94.6%,#9bff64 97.8%,#bfff40 99.5%,#c0ff3f 100%)"></i>
<i style="background:linear-gradient(90deg,#00c3ff 0%,#00ccff 0.4%,#02fffd 1.8%,#1bffe4 2.5%,#59ffa6 4.6%,#71ff8e 5.6%,#92ff6d 7.4%,#a3ff5c 10.9%,#9fff60 14%,#a2ff5d 14.7%,#c6ff39 17.5%,#fdff02 21%,#fffc00 21.4%,#ffd200 25.6%,#ffd100 28.4%,#ffd600 29.4%,#ffff00 33.3%,#c8ff37 39.9%,#a9ff56 48%,#48ffb7 64.8%,#3cffc3 67.6%,#2affd5 77.1%,#2affd5 83.4%,#4affb5 90%,#72ff8d 94.6%,#9bff64 97.8%,#bfff40 99.5%,#c0ff3f 100%)"></i>
<i style="background:linear-gradient(90deg,#00c3ff 0%,#00cbff 0.4%,#01fffe 1.8%,#19ffe6 2.5%,#61ff9e 4.9%,#91ff6e 7.4%,#97ff68 8.1%,#a3ff5c 10.9%,#9fff60 14%,#a2ff5d 14.7%,#c1ff3e 17.2%,#f8ff07 20.7%,#fffd00 21.4%,#ffd400 25.2%,#ffd100 28%,#ffd600 29.4%,#ffff00 33.3%,#c8ff37 39.9%,#a9ff56 48%,#6fff90 57.5%,#45ffba 65.2%,#3bffc4 67.6%,#29ffd6 77.1%,#29ffd6 83.4%,#48ffb7 90%,#70ff8f 94.6%,#98ff67 97.8%,#bcff43 99.5%,#bfff40 100%)"></i>
<i style="background:linear-gradient(90deg,#00c3ff 0%,#00cbff 0.4%,#01fffe 1.8%,#19ffe6 2.5%,#61ff9e 4.9%,#91ff6e 7.4%,#97ff68 8.1%,#a3ff5c 10.9%,#9fff60 14%,#a2ff5d 14.7%,#c1ff3e 17.2%,#f8ff07 20.7%,#fffd00 21.4%,#ffd400 25.2%,#ffd100 28%,#ffd600 29.4%,#ffff00 33.3%,#c8ff37 39.9%,#a9ff56 48%,#6fff90 57.5%,#45ffba 65.2%,#3bffc4 67.6%,#29ffd6 77.1%,#29ffd6 83.4%,#48ffb7 90%,#70ff8f 94.6%,#98ff67 97.8%,#bcff43 99.5%,#bfff40 100%)"></i>
<i style="background:linear-gradient(90deg,#00c2ff 0%,#00cbff 0.4%,#00ffff 1.8%,#5fffa0 4.9%,#8aff75 7%,#94ff6b 7.7%,#a3ff5c 10.9%,#9fff60 14%,#a2ff5d 14.7%,#c0ff3f 17.2%,#f7ff08 20.7%,#fffd00 21.4%,#ffd400 25.2%,#ffd100 28%,#ffd700 29.4%,#ffff00 33.3%,#c8ff37 39.9%,#a8ff57 48%,#6eff91 57.5%,#45ffba 65.2%,#3affc5 67.6%,#27ffd8 77.1%,#27ffd8 83.4%,#47ffb8 90%,#72ff8d 95%,#96ff69 97.8%,#b9ff46 99.5%,#beff41 100%)"></i>
<i style="background:linear-gradient(90deg,#00c2ff 0%,#00cbff 0.4%,#00ffff 1.8%,#5fffa0 4.9%,#8aff75 7%,#94ff6b 7.7%,#a3ff5c 10.9%,#9fff60 14%,#a2ff5d 14.7%,#c0ff3f 17.2%,#f7ff08 20.7%,#fffd00 21.4%,#ffd400 25.2%,#ffd100 28%,#ffd700 29.4%,#ffff00 33.3%,#c8ff37 39.9%,#a8ff57 48%,#6eff91 57.5%,#45ffba 65.2%,#3affc5 67.6%,#27ffd8 77.1%,#27ffd8 83.4%,#47ffb8 90%,#72ff8d 95%,#96ff69 97.8%,#b9ff46 99.5%,#beff41 100%)"></i>
<i style="background:linear-gradient(90deg,#00c2ff 0%,#00caff 0.4%,#00feff 1.8%,#5dffa2 4.9%,#89ff76 7%,#93ff6c 7.7%,#a2ff5d 10.9%,#a1ff5e 14.7%,#c0ff3f 17.2%,#fffd00 21.4%,#ffd400 25.2%,#ffd100 28%,#ffd700 29.4%,#feff01 33.3%,#c8ff37 39.9%,#a8ff57 48%,#6dff92 57.5%,#44ffbb 65.2%,#39ffc6 67.6%,#26ffd9 77.1%,#26ffd9 83.4%,#46ffb9 90%,#70ff8f 95%,#93ff6c 97.8%,#b7ff48 99.5%,#bdff42 100%)"></i>
<i style="background:linear-gradient(90deg,#00c2ff 0%,#00caff 0.4%,#00feff 1.8%,#5dffa2 4.9%,#89ff76 7%,#93ff6c 7.7%,#a2ff5d 10.9%,#a1ff5e 14.7%,#c0ff3f 17.2%,#fffd00 21.4%,#ffd400 25.2%,#ffd100 28%,#ffd700 29.4%,#feff01 33.3%,#c8ff37 39.9%,#a8ff57 48%,#6dff92 57.5%,#44ffbb 65.2%,#39ffc6 67.6%,#26ffd9 77.1%,#26ffd9 83.4%,#46ffb9 90%,#70ff8f 95%,#93ff6c 97.8%,#b7ff48 99.5%,#bdff42 100%)"></i>
<i style="background:linear-gradient(90deg,#00c2ff 0%,#00caff 0.4%,#00fdff 1.8%,#09fff6 2.1%,#5cffa3 4.9%,#81ff7e 6.7%,#93ff6c 7.7%,#a2ff5d 10.9%,#a1ff5e 14.7%,#bfff40 17.2%,#fffe00 21.4%,#ffd400 25.2%,#ffd100 28%,#ffd500 29.1%,#feff01 33.3%,#c8ff37 39.9%,#a7ff58 48%,#6cff93 57.5%,#3affc5 66.9%,#24ffdb 77.1%,#25ffda 83.4%,#44ffbb 90%,#72ff8d 95.3%,#91ff6e 97.8%,#b4ff4b 99.5%,#bcff43 100%)"></i>
<i style="background:linear-gradient(90deg,#00c2ff 0%,#00caff 0.4%,#00fdff 1.8%,#09fff6 2.1%,#5cffa3 4.9%,#81ff7e 6.7%,#93ff6c 7.7%,#a2ff5d 10.9%,#a1ff5e 14.7%,#bfff40 17.2%,#fffe00 21.4%,#ffd400 25.2%,#ffd100 28%,#ffd500 29.1%,#feff01 33.3%,#c8ff37 39.9%,#a7ff58 48%,#6cff93 57.5%,#3affc5 66.9%,#24ffdb 77.1%,#25ffda 83.4%,#44ffbb 90%,#72ff8d 95.3%,#91ff6e 97.8%,#b4ff4b 99.5%,#bcff43 100%)"></i>
<i style="background:linear-gradient(90deg,#00c1ff 0%,#00c9ff 0.4%,#00fcff 1.8%,#08fff7 2.1%,#63ff9c 5.3%,#91ff6e 7.7%,#a1ff5e 10.9%,#a1ff5e 14.7%,#c4ff3b 17.5%,#ffff00 21.4%,#ffd500 25.2%,#ffd200 26.3%,#ffd500 29.1%,#fffd00 32.9%,#c7ff38 39.9%,#a6ff59 48%,#6cff93 57.5%,#39ffc6 66.9%,#23ffdc 77.1%,#23ffdc 83.4%,#43ffbc 90%,#70ff8f 95.3%,#8eff71 97.8%,#b2ff4d 99.5%,#bbff44 100%)"></i>
<i style="background:linear-gradient(90deg,#00c1ff 0%,#00c9ff 0.4%,#00fcff 1.8%,#08fff7 2.1%,#63ff9c 5.3%,#91ff6e 7.7%,#a1ff5e 10.9%,#a1ff5e 14.7%,#c4ff3b 17.5%,#ffff00 21.4%,#ffd500 25.2%,#ffd200 26.3%,#ffd500 29.1%,#fffd00 32.9%,#c7ff38 39.9%,#a6ff59 48%,#6cff93 57.5%,#39ffc6 66.9%,#23ffdc 77.1%,#23ffdc 83.4%,#43ffbc 90%,#70ff8f 95.3%,#8eff71 97.8%,#b2ff4d 99.5%,#bbff44 100%)"></i>
<i style="background:linear-gradient(90deg,#00c1ff 0%,#00d4ff 0.7%,#00fbff 1.8%,#07fff8 2.1%,#5affa5 4.9%,#8cff73 7.4%,#93ff6c 8.1%,#a0ff5f 10.9%,#a1ff5e 14.7%,#c3ff3c 17.5%,#ffff00 21.4%,#ffd600 25.2%,#ffd300 26.3%,#ffd700 29.1%,#fffe00 32.9%,#c6ff39 39.9%,#a6ff59 48%,#6bff94 57.5%,#3affc5 66.6%,#22ffdd 77.1%,#22ffdd 83.4%,#41ffbe 90%,#6eff91 95.3%,#91ff6e 98.1%,#afff50 99.5%,#baff45 100%)"></i>
<i style="background:linear-gradient(90deg,#00c1ff 0%,#00d4ff 0.7%,#00fbff 1.8%,#07fff8 2.1%,#5affa5 4.9%,#8cff73 7.4%,#93ff6c 8.1%,#a0ff5f 10.9%,#a1ff5e 14.7%,#c3ff3c 17.5%,#ffff00 21.4%,#ffd600 25.2%,#ffd300 26.3%,#ffd700 29.1%,#fffe00 32.9%,#c6ff39 39.9%,#a6ff59 48%,#6bff94 57.5%,#3affc5 66.6%,#22ffdd 77.1%,#22ffdd 83.4%,#41ffbe 90%,#6eff91 95.3%,#91ff6e 98.1%,#afff50 99.5%,#baff45 100%)"></i>
<i style="background:linear-gradient(90deg,#00c0ff 0%,#00d2ff 0.7%,#00faff 1.8%,#07fff8 2.1%,#62ff9d 5.3%,#8bff74 7.4%,#91ff6e 8.1%,#9fff60 10.9%,#a0ff5f 14.7%,#bdff42 17.2%,#f9ff06 21%,#fffc00 21.7%,#ffd700 25.2%,#ffd500 28%,#ffdb00 29.4%,#ffff00 32.9%,#c5ff3a 39.9%,#a5ff5a 48%,#6bff94 57.5%,#39ffc6 66.6%,#20ffdf 77.1%,#20ffdf 83.4%,#3dffc2 89.7%,#64ff9b 94.6%,#7cff83 96.7%,#8eff71 98.1%,#b9ff46 100%)"></i>
<i style="background:linear-gradient(90deg,#00c0ff 0%,#00d2ff 0.7%,#00faff 1.8%,#07fff8 2.1%,#62ff9d 5.3%,#8bff74 7.4%,#91ff6e 8.1%,#9fff60 10.9%,#a0ff5f 14.7%,#bdff42 17.2%,#f9ff06 21%,#fffc00 21.7%,#ffd700 25.2%,#ffd500 28%,#ffdb00 29.4%,#ffff00 32.9%,#c5ff3a 39.9%,#a5ff5a 48%,#6bff94 57.5%,#39ffc6 66.6%,#20ffdf 77.1%,#20ffdf 83.4%,#3dffc2 89.7%,#64ff9b 94.6%,#7cff83 96.7%,#8eff71 98.1%,#b9ff46 100%)"></i>
<i style="background:linear-gradient(90deg,#00c0ff 0%,#00d1ff 0.7%,#00f8ff 1.8%,#06fff9 2.1%,#61ff9e 5.3%,#8aff75 7.4%,#9fff60 11.2%,#a0ff5f 14.7%,#bcff43 17.2%,#f8ff07 21%,#fffd00 21.7%,#ffd800 25.2%,#ffd600 26.6%,#ffd900 29.1%,#feff01 32.9%,#c4ff3b 39.9%,#a4ff5b 48%,#6aff95 57.5%,#39ffc6 66.6%,#1fffe0 77.1%,#1fffe0 83.4%,#3cffc3 89.7%,#62ff9d 94.6%,#7aff85 96.7%,#8cff73 98.1%,#b8ff47 100%)"></i>
<i style="background:linear-gradient(90deg,#00c0ff 0%,#00d1ff 0.7%,#00f8ff 1.8%,#06fff9 2.1%,#61ff9e 5.3%,#8aff75 7.4%,#9fff60 11.2%,#a0ff5f 14.7%,#bcff43 17.2%,#f8ff07 21%,#fffd00 21.7%,#ffd800 25.2%,#ffd600 26.6%,#ffd900 29.1%,#feff01 32.9%,#c4ff3b 39.9%,#a4ff5b 48%,#6aff95 57.5%,#39ffc6 66.6%,#1fffe0 77.1%,#1fffe0 83.4%,#3cffc3 89.7%,#62ff9d 94.6%,#7aff85 96.7%,#8cff73 98.1%,#b8ff47 100%)"></i>
<i style="background:linear-gradient(90deg,#00c0ff 0%,#00c5ff 0.4%,#00f8ff 1.8%,#05fffa 2.1%,#61ff9e 5.3%,#89ff76 7.4%,#9eff61 11.2%,#a0ff5f 14.7%,#bcff43 17.2%,#f7ff08 21%,#fffd00 21.7%,#ffd900 25.2%,#ffd600 26.6%,#ffda00 29.1%,#feff01 32.9%,#c4ff3b 39.9%,#a3ff5c 48%,#6aff95 57.5%,#38ffc7 66.6%,#1effe1 77.1%,#1fffe0 83.4%,#3bffc4 89.7%,#61ff9e 94.6%,#7cff83 97.1%,#8bff74 98.1%,#b7ff48 100%)"></i>
<i style="background:linear-gradient(90deg,#00bfff 0%,#00cfff 0.7%,#00f7ff 1.8%,#05fffa 2.1%,#60ff9f 5.3%,#89ff76 7.4%,#9dff62 11.2%,#a0ff5f 14.7%,#bcff43 17.2%,#fffd00 21.7%,#ffda00 25.2%,#ffd700 26.3%,#ffda00 29.1%,#fffd00 32.6%,#c4ff3b 39.9%,#a3ff5c 48%,#6aff95 57.5%,#38ffc7 66.6%,#1effe1 77.1%,#1effe1 83.4%,#3affc5 89.7%,#60ff9f 94.6%,#7bff84 97.1%,#89ff76 98.1%,#b6ff49 100%)"></i>
<i style="background:linear-gradient(90deg,#00bfff 0%,#00cfff 0.7%,#00f7ff 1.8%,#04fffb 2.1%,#60ff9f 5.3%,#88ff77 7.4%,#9dff62 11.2%,#a0ff5f 14.7%,#bbff44 17.2%,#fffe00 21.7%,#ffda00 25.2%,#ffd800 26.3%,#ffdb00 29.1%,#fffd00 32.6%,#c3ff3c 39.9%,#a2ff5d 48%,#37ffc8 66.6%,#1dffe2 77.1%,#1dffe2 83.4%,#39ffc6 89.7%,#5fffa0 94.6%,#7aff85 97.1%,#88ff77 98.1%,#b6ff49 100%)"></i>
<i style="background:linear-gradient(90deg,#00bfff 0%,#00c4ff 0.4%,#00ceff 0.7%,#00f6ff 1.8%,#04fffb 2.1%,#60ff9f 5.3%,#87ff78 7.4%,#9cff63 11.2%,#a0ff5f 14.7%,#bbff44 17.2%,#fffe00 21.7%,#ffdb00 25.2%,#ffd800 26.3%,#ffdc00 29.1%,#fffe00 32.6%,#c3ff3c 39.9%,#a2ff5d 48%,#37ffc8 66.6%,#1dffe2 77.1%,#1dffe2 83.4%,#38ffc7 89.7%,#5effa1 94.6%,#79ff86 97.1%,#87ff78 98.1%,#b5ff4a 100%)"></i>
<i style="background:linear-gradient(90deg,#00bfff 0%,#00c3ff 0.4%,#00cdff 0.7%,#00f6ff 1.8%,#04fffb 2.1%,#5fffa0 5.3%,#7cff83 6.7%,#87ff78 7.4%,#9cff63 11.2%,#a0ff5f 14.7%,#bbff44 17.2%,#ffff00 21.7%,#ffdc00 25.2%,#ffd900 26.3%,#ffdc00 29.1%,#fffe00 32.6%,#f1ff0e 34%,#c2ff3d 39.9%,#a1ff5e 48%,#38ffc7 66.2%,#1cffe3 77.1%,#1cffe3 83.4%,#38ffc7 89.7%,#5effa1 94.6%,#77ff88 97.1%,#8cff73 98.5%,#b4ff4b 100%)"></i>
<i style="background:linear-gradient(90deg,#00beff 0%,#00c3ff 0.4%,#00cdff 0.7%,#00f5ff 1.8%,#03fffc 2.1%,#5fffa0 5.3%,#82ff7d 7%,#8bff74 8.1%,#9aff65 10.9%,#9dff62 14%,#a3ff5c 15.1%,#bfff40 17.5%,#ffff00 21.7%,#ffdc00 25.2%,#ffda00 26.3%,#ffdd00 29.1%,#ffff00 32.6%,#f0ff0f 34%,#c2ff3d 39.9%,#a1ff5e 48%,#38ffc7 66.2%,#1bffe4 77.1%,#1affe5 83%,#37ffc8 89.7%,#5dffa2 94.6%,#76ff89 97.1%,#8bff74 98.5%,#a1ff5e 99.5%,#b4ff4b 100%)"></i>
<i style="background:linear-gradient(90deg,#00beff 0%,#00c2ff 0.4%,#00ccff 0.7%,#00f5ff 1.8%,#03fffc 2.1%,#5effa1 5.3%,#81ff7e 7%,#8bff74 8.1%,#9bff64 11.2%,#9dff62 14%,#a3ff5c 15.1%,#bfff40 17.5%,#feff01 21.7%,#ffdd00 25.2%,#ffda00 26.3%,#ffdd00 29.1%,#ffff00 32.6%,#f0ff0f 34%,#c1ff3e 39.9%,#9eff61 48.4%,#37ffc8 66.2%,#1bffe4 77.1%,#1affe5 83%,#28ffd7 86.9%,#36ffc9 89.7%,#5cffa3 94.6%,#75ff8a 97.1%,#8aff75 98.5%,#a0ff5f 99.5%,#b3ff4c 100%)"></i>
<i style="background:linear-gradient(90deg,#00beff 0%,#00c2ff 0.4%,#00cbff 0.7%,#02fffd 2.1%,#5effa1 5.3%,#81ff7e 7%,#8aff75 8.1%,#9aff65 11.2%,#9dff62 14%,#a3ff5c 15.1%,#baff45 17.2%,#f9ff06 21.4%,#fffc00 22.1%,#ffde00 25.2%,#ffdb00 26.6%,#ffde00 29.1%,#feff01 32.6%,#efff10 34%,#c1ff3e 39.9%,#9eff61 48.4%,#37ffc8 66.2%,#1affe5 77.1%,#19ffe6 83%,#27ffd8 86.9%,#35ffca 89.7%,#5bffa4 94.6%,#74ff8b 97.1%,#89ff76 98.5%,#9eff61 99.5%,#b3ff4c 100%)"></i>
<i style="background:linear-gradient(90deg,#00bdff 0%,#00c1ff 0.4%,#00cbff 0.7%,#02fffd 2.1%,#5dffa2 5.3%,#80ff7f 7%,#89ff76 8.1%,#9aff65 11.2%,#9dff62 14%,#a3ff5c 15.1%,#b9ff46 17.2%,#f9ff06 21.4%,#fffc00 22.1%,#ffde00 25.2%,#ffdb00 26.3%,#ffdf00 29.1%,#feff01 32.6%,#efff10 34%,#c0ff3f 39.9%,#9dff62 48.4%,#36ffc9 66.2%,#19ffe6 77.1%,#18ffe7 83%,#26ffd9 86.9%,#35ffca 89.7%,#5affa5 94.6%,#73ff8c 97.1%,#87ff78 98.5%,#9dff62 99.5%,#b2ff4d 100%)"></i>
<i style="background:linear-gradient(90deg,#00bdff 0%,#00c1ff 0.4%,#00caff 0.7%,#01fffe 2.1%,#5dffa2 5.3%,#7fff80 7%,#99ff66 11.2%,#9dff62 14%,#a3ff5c 15.1%,#b9ff46 17.2%,#f8ff07 21.4%,#fffd00 22.1%,#ffe200 24.9%,#ffdc00 26.3%,#ffdf00 29.1%,#fffd00 32.2%,#c0ff3f 39.9%,#9dff62 48.4%,#36ffc9 66.2%,#19ffe6 77.1%,#18ffe7 83%,#25ffda 86.9%,#34ffcb 89.7%,#59ffa6 94.6%,#71ff8e 97.1%,#7fff80 98.1%,#9bff64 99.5%,#b1ff4e 100%)"></i>
<i style="background:linear-gradient(90deg,#00bdff 0%,#00c0ff 0.4%,#00c9ff 0.7%,#01fffe 2.1%,#5cffa3 5.3%,#7fff80 7%,#99ff66 11.2%,#9dff62 14%,#a3ff5c 15.1%,#b8ff47 17.2%,#f8ff07 21.4%,#fffd00 22.1%,#ffe200 24.9%,#ffdd00 26.3%,#ffe000 29.1%,#fffd00 32.2%,#eeff11 34%,#bfff40 39.9%,#9dff62 48.4%,#36ffc9 66.2%,#18ffe7 77.1%,#17ffe8 83%,#24ffdb 86.9%,#33ffcc 89.7%,#58ffa7 94.6%,#70ff8f 97.1%,#7eff81 98.1%,#99ff66 99.5%,#b1ff4e 100%)"></i>
<i style="background:linear-gradient(90deg,#00bcff 0%,#00bfff 0.4%,#00c9ff 0.7%,#01fffe 2.1%,#5cffa3 5.3%,#73ff8c 6.3%,#7eff81 7%,#98ff67 11.2%,#9dff62 14%,#a3ff5c 15.1%,#b8ff47 17.2%,#fffd00 22.1%,#ffe300 24.9%,#ffdd00 26.3%,#ffe100 29.1%,#fffe00 32.2%,#edff12 34%,#bfff40 39.9%,#9cff63 48.4%,#35ffca 66.2%,#17ffe8 77.1%,#16ffe9 83%,#23ffdc 86.9%,#32ffcd 89.7%,#57ffa8 94.6%,#6fff90 97.1%,#7dff82 98.1%,#98ff67 99.5%,#adff52 100%)"></i>
<i style="background:linear-gradient(90deg,#00b7ff 0%,#00c7ff 0.7%,#00ffff 2.1%,#5cffa3 5.3%,#73ff8c 6.3%,#7dff82 7%,#97ff68 11.2%,#9dff62 14%,#a3ff5c 15.1%,#b8ff47 17.2%,#fffe00 22.1%,#ffe300 24.9%,#ffde00 26.3%,#ffe100 29.1%,#fffe00 32.2%,#edff12 34%,#beff41 39.9%,#9cff63 48.4%,#35ffca 66.2%,#1dffe2 73.9%,#17ffe8 77.1%,#14ffeb 80.6%,#16ffe9 83%,#22ffdd 86.9%,#2fffd0 89.3%,#56ffa9 94.6%,#6aff95 96.7%,#7bff84 98.1%,#a2ff5d 100%)"></i>
<i style="background:linear-gradient(90deg,#00aeff 0%,#00b8ff 0.4%,#00ffff 2.1%,#5bffa4 5.3%,#72ff8d 6.3%,#7dff82 7%,#97ff68 11.2%,#9dff62 14%,#a3ff5c 15.1%,#b7ff48 17.2%,#fffe00 22.1%,#ffe400 24.9%,#ffdf00 26.3%,#ffe200 29.1%,#ffff00 32.2%,#ecff13 34%,#bcff43 40.3%,#9bff64 48.4%,#33ffcc 66.6%,#17ffe8 76.7%,#13ffec 80.6%,#15ffea 82.7%,#23ffdc 87.2%,#31ffce 89.7%,#55ffaa 94.6%,#71ff8e 97.4%,#92ff6d 99.5%,#8fff70 100%)"></i>
<i style="background:linear-gradient(90deg,#00a8ff 0%,#00feff 2.1%,#5affa5 5.3%,#77ff88 6.7%,#83ff7c 8.1%,#96ff69 11.2%,#9dff62 14%,#a6ff59 15.4%,#bbff44 17.5%,#ffff00 22.1%,#ffe500 24.9%,#ffe000 26.3%,#ffe300 29.1%,#feff01 32.2%,#ebff14 34%,#bbff44 40.3%,#9aff65 48.4%,#32ffcd 66.6%,#15ffea 76.7%,#11ffee 80.6%,#13ffec 82.7%,#21ffde 87.2%,#2fffd0 89.7%,#53ffac 94.6%,#6aff95 97.1%,#8dff72 99.5%,#80ff7f 100%)"></i>
<i style="background:linear-gradient(90deg,#00a8ff 0%,#00feff 2.1%,#5affa5 5.3%,#77ff88 6.7%,#83ff7c 8.1%,#96ff69 11.2%,#9dff62 14%,#a6ff59 15.4%,#bbff44 17.5%,#ffff00 22.1%,#ffe500 24.9%,#ffe000 26.3%,#ffe300 29.1%,#feff01 32.2%,#ebff14 34%,#bbff44 40.3%,#9aff65 48.4%,#32ffcd 66.6%,#15ffea 76.7%,#11ffee 80.6%,#13ffec 82.7%,#21ffde 87.2%,#2fffd0 89.7%,#53ffac 94.6%,#6aff95 97.1%,#8dff72 99.5%,#80ff7f 100%)"></i>
<i style="background:linear-gradient(90deg,#00a8ff 0%,#00fdff 2.1%,#0afff5 2.5%,#59ffa6 5.3%,#76ff89 6.7%,#95ff6a 11.2%,#9dff62 14%,#a6ff59 15.4%,#b6ff49 17.2%,#f9ff06 21.7%,#fffc00 22.4%,#ffe700 24.9%,#ffe100 26.3%,#ffe500 29.1%,#fffd00 31.9%,#eaff15 34%,#baff45 40.3%,#99ff66 48.4%,#33ffcc 66.2%,#1affe5 73.9%,#14ffeb 76.7%,#10ffef 80.9%,#1effe1 86.9%,#2effd1 89.7%,#51ffae 94.6%,#67ff98 97.1%,#8aff75 99.5%,#7fff80 100%)"></i>
<i style="background:linear-gradient(90deg,#00a8ff 0%,#00fdff 2.1%,#0afff5 2.5%,#59ffa6 5.3%,#76ff89 6.7%,#95ff6a 11.2%,#9dff62 14%,#a6ff59 15.4%,#b6ff49 17.2%,#f9ff06 21.7%,#fffc00 22.4%,#ffe700 24.9%,#ffe100 26.3%,#ffe500 29.1%,#fffd00 31.9%,#eaff15 34%,#baff45 40.3%,#99ff66 48.4%,#33ffcc 66.2%,#1affe5 73.9%,#14ffeb 76.7%,#10ffef 80.9%,#1effe1 86.9%,#2effd1 89.7%,#51ffae 94.6%,#67ff98 97.1%,#8aff75 99.5%,#7fff80 100%)"></i>
<i style="background:linear-gradient(90deg,#00a7ff 0%,#00fcff 2.1%,#09fff6 2.5%,#58ffa7 5.3%,#69ff96 6%,#75ff8a 6.7%,#94ff6b 11.2%,#9fff60 14.4%,#b2ff4d 16.8%,#f9ff06 21.7%,#fffc00 22.4%,#ffe800 24.9%,#ffe200 26.3%,#ffe600 29.1%,#ffff00 31.9%,#e9ff16 34%,#b9ff46 40.3%,#98ff67 48.4%,#32ffcd 66.2%,#19ffe6 73.6%,#13ffec 76.7%,#0efff1 80.9%,#1cffe3 86.9%,#2cffd3 89.7%,#5dffa2 96.4%,#87ff78 99.5%,#7dff82 100%)"></i>
<i style="background:linear-gradient(90deg,#00a7ff 0%,#00fcff 2.1%,#09fff6 2.5%,#58ffa7 5.3%,#69ff96 6%,#75ff8a 6.7%,#94ff6b 11.2%,#9fff60 14.4%,#b2ff4d 16.8%,#f9ff06 21.7%,#fffc00 22.4%,#ffe800 24.9%,#ffe200 26.3%,#ffe600 29.1%,#ffff00 31.9%,#e9ff16 34%,#b9ff46 40.3%,#98ff67 48.4%,#32ffcd 66.2%,#19ffe6 73.6%,#13ffec 76.7%,#0efff1 80.9%,#1cffe3 86.9%,#2cffd3 89.7%,#5dffa2 96.4%,#87ff78 99.5%,#7dff82 100%)"></i>
<i style="background:linear-gradient(90deg,#00a6ff 0%,#00b2ff 0.4%,#00fbff 2.1%,#08fff7 2.5%,#60ff9f 5.6%,#74ff8b 6.7%,#92ff6d 11.2%,#9fff60 14.4%,#b1ff4e 16.8%,#fffd00 22.4%,#ffe900 24.9%,#ffe400 26.3%,#ffe700 29.1%,#feff01 31.9%,#e8ff17 34%,#b8ff47 40.3%,#97ff68 48.4%,#31ffce 66.2%,#18ffe7 73.6%,#11ffee 76.7%,#0dfff2 80.9%,#1bffe4 86.9%,#2bffd4 89.7%,#5bffa4 96.4%,#84ff7b 99.5%,#7cff83 100%)"></i>
<i style="background:linear-gradient(90deg,#00a6ff 0%,#00b2ff 0.4%,#00fbff 2.1%,#08fff7 2.5%,#60ff9f 5.6%,#74ff8b 6.7%,#92ff6d 11.2%,#9fff60 14.4%,#b1ff4e 16.8%,#fffd00 22.4%,#ffe900 24.9%,#ffe400 26.3%,#ffe700 29.1%,#feff01 31.9%,#e8ff17 34%,#b8ff47 40.3%,#97ff68 48.4%,#31ffce 66.2%,#18ffe7 73.6%,#11ffee 76.7%,#0dfff2 80.9%,#1bffe4 86.9%,#2bffd4 89.7%,#5bffa4 96.4%,#84ff7b 99.5%,#7cff83 100%)"></i>
<i style="background:linear-gradient(90deg,#00a6ff 0%,#00b1ff 0.4%,#00faff 2.1%,#07fff8 2.5%,#56ffa9 5.3%,#6eff91 6.3%,#89ff76 9.8%,#9dff62 14%,#b1ff4e 16.8%,#fffe00 22.4%,#ffeb00 24.9%,#ffe500 26.3%,#ffe900 29.1%,#fffd00 31.5%,#e7ff18 34%,#b7ff48 40.3%,#96ff69 48.4%,#30ffcf 66.2%,#17ffe8 73.6%,#10ffef 76.7%,#0bfff4 80.6%,#19ffe6 86.9%,#29ffd6 89.7%,#58ffa7 96.4%,#80ff7f 99.5%,#7bff84 100%)"></i>
<i style="background:linear-gradient(90deg,#00a6ff 0%,#00b1ff 0.4%,#00faff 2.1%,#07fff8 2.5%,#56ffa9 5.3%,#6eff91 6.3%,#89ff76 9.8%,#9dff62 14%,#b1ff4e 16.8%,#fffe00 22.4%,#ffeb00 24.9%,#ffe500 26.3%,#ffe900 29.1%,#fffd00 31.5%,#e7ff18 34%,#b7ff48 40.3%,#96ff69 48.4%,#30ffcf 66.2%,#17ffe8 73.6%,#10ffef 76.7%,#0bfff4 80.6%,#19ffe6 86.9%,#29ffd6 89.7%,#58ffa7 96.4%,#80ff7f 99.5%,#7bff84 100%)"></i>
<i style="background:linear-gradient(90deg,#00a5ff 0%,#00b0ff 0.4%,#00f9ff 2.1%,#06fff9 2.5%,#55ffaa 5.3%,#6dff92 6.3%,#8eff71 10.9%,#9dff62 14%,#b4ff4b 17.2%,#ffff00 22.4%,#ffec00 24.9%,#ffe600 26.3%,#ffea00 29.1%,#fffe00 31.5%,#e6ff19 34%,#b6ff49 40.3%,#95ff6a 48.4%,#2fffd0 66.2%,#15ffea 73.6%,#0ffff0 76.7%,#0afff5 80.6%,#17ffe8 86.9%,#56ffa9 96.4%,#7dff82 99.5%,#7aff85 100%)"></i>
<i style="background:linear-gradient(90deg,#00a5ff 0%,#00b0ff 0.4%,#00f9ff 2.1%,#06fff9 2.5%,#55ffaa 5.3%,#6dff92 6.3%,#8eff71 10.9%,#9dff62 14%,#b4ff4b 17.2%,#ffff00 22.4%,#ffec00 24.9%,#ffe600 26.3%,#ffea00 29.1%,#fffe00 31.5%,#e6ff19 34%,#b6ff49 40.3%,#95ff6a 48.4%,#2fffd0 66.2%,#15ffea 73.6%,#0ffff0 76.7%,#0afff5 80.6%,#17ffe8 86.9%,#56ffa9 96.4%,#7dff82 99.5%,#7aff85 100%)"></i>
<i style="background:linear-gradient(90deg,#00a5ff 0%,#00afff 0.4%,#00f8ff 2.1%,#05fffa 2.5%,#54ffab 5.3%,#6cff93 6.3%,#8fff70 11.2%,#9dff62 14%,#b3ff4c 17.2%,#faff05 22.1%,#fffc00 22.8%,#ffeb00 25.2%,#ffe700 26.3%,#ffed00 29.4%,#ffff00 31.5%,#e5ff1a 34%,#b5ff4a 40.3%,#94ff6b 48.4%,#63ff9c 57.5%,#30ffcf 65.9%,#14ffeb 73.6%,#0efff1 76.7%,#08fff7 80.6%,#15ffea 86.9%,#51ffae 96%,#7aff85 99.5%,#79ff86 100%)"></i>
<i style="background:linear-gradient(90deg,#00a5ff 0%,#00afff 0.4%,#00f8ff 2.1%,#05fffa 2.5%,#54ffab 5.3%,#6cff93 6.3%,#8fff70 11.2%,#9dff62 14%,#b3ff4c 17.2%,#faff05 22.1%,#fffc00 22.8%,#ffeb00 25.2%,#ffe700 26.3%,#ffed00 29.4%,#ffff00 31.5%,#e5ff1a 34%,#b5ff4a 40.3%,#94ff6b 48.4%,#63ff9c 57.5%,#30ffcf 65.9%,#14ffeb 73.6%,#0efff1 76.7%,#08fff7 80.6%,#15ffea 86.9%,#51ffae 96%,#7aff85 99.5%,#79ff86 100%)"></i>
<i style="background:linear-gradient(90deg,#00a5ff 0%,#00aeff 0.4%,#00f7ff 2.1%,#04fffb 2.5%,#5dffa2 5.6%,#6aff95 6.3%,#8eff71 11.2%,#b3ff4c 17.2%,#f9ff06 22.1%,#fffd00 22.8%,#ffe900 26.3%,#ffee00 29.4%,#feff01 31.5%,#e4ff1b 34%,#b4ff4b 40.3%,#93ff6c 48.4%,#63ff9c 57.5%,#2fffd0 65.9%,#13ffec 73.6%,#0cfff3 76.7%,#07fff8 80.6%,#14ffeb 86.9%,#4effb1 96%,#77ff88 99.5%,#77ff88 100%)"></i>
<i style="background:linear-gradient(90deg,#00a5ff 0%,#00aeff 0.4%,#00f7ff 2.1%,#04fffb 2.5%,#5dffa2 5.6%,#6aff95 6.3%,#8eff71 11.2%,#b3ff4c 17.2%,#f9ff06 22.1%,#fffd00 22.8%,#ffe900 26.3%,#ffee00 29.4%,#feff01 31.5%,#e4ff1b 34%,#b4ff4b 40.3%,#93ff6c 48.4%,#63ff9c 57.5%,#2fffd0 65.9%,#13ffec 73.6%,#0cfff3 76.7%,#07fff8 80.6%,#14ffeb 86.9%,#4effb1 96%,#77ff88 99.5%,#77ff88 100%)"></i>
<i style="background:linear-gradient(90deg,#00a4ff 0%,#00aeff 0.4%,#00f6ff 2.1%,#03fffc 2.5%,#5cffa3 5.6%,#69ff96 6.3%,#8dff72 11.2%,#b2ff4d 17.2%,#fffe00 22.8%,#ffea00 26.3%,#ffef00 29.4%,#fffe00 31.2%,#e3ff1c 34%,#b5ff4a 39.9%,#92ff6d 48.4%,#62ff9d 57.5%,#2effd1 65.9%,#11ffee 73.6%,#06fff9 79.5%,#08fff7 82.3%,#14ffeb 87.2%,#4cffb3 96%,#74ff8b 99.5%,#76ff89 100%)"></i>
<i style="background:linear-gradient(90deg,#00a4ff 0%,#00aeff 0.4%,#00f6ff 2.1%,#03fffc 2.5%,#5cffa3 5.6%,#69ff96 6.3%,#8dff72 11.2%,#b2ff4d 17.2%,#fffe00 22.8%,#ffea00 26.3%,#ffef00 29.4%,#fffe00 31.2%,#e3ff1c 34%,#b5ff4a 39.9%,#92ff6d 48.4%,#62ff9d 57.5%,#2effd1 65.9%,#11ffee 73.6%,#06fff9 79.5%,#08fff7 82.3%,#14ffeb 87.2%,#4cffb3 96%,#74ff8b 99.5%,#76ff89 100%)"></i>
<i style="background:linear-gradient(90deg,#00a4ff 0%,#00adff 0.4%,#00f5ff 2.1%,#03fffc 2.5%,#5bffa4 5.6%,#68ff97 6.3%,#8eff71 11.6%,#b2ff4d 17.2%,#ffff00 22.8%,#ffeb00 26.3%,#fff100 29.4%,#ffff00 31.2%,#e2ff1d 34%,#b2ff4d 40.3%,#91ff6e 48.4%,#61ff9e 57.5%,#2cffd3 66.2%,#0ffff0 73.9%,#05fffa 79.5%,#04fffb 80.9%,#11ffee 86.9%,#49ffb6 96%,#70ff8f 99.5%,#75ff8a 100%)"></i>
<i style="background:linear-gradient(90deg,#00a4ff 0%,#00adff 0.4%,#00f5ff 2.1%,#03fffc 2.5%,#5bffa4 5.6%,#68ff97 6.3%,#8eff71 11.6%,#b2ff4d 17.2%,#ffff00 22.8%,#ffeb00 26.3%,#fff100 29.4%,#ffff00 31.2%,#e2ff1d 34%,#b2ff4d 40.3%,#91ff6e 48.4%,#61ff9e 57.5%,#2cffd3 66.2%,#0ffff0 73.9%,#05fffa 79.5%,#04fffb 80.9%,#11ffee 86.9%,#49ffb6 96%,#70ff8f 99.5%,#75ff8a 100%)"></i>
<i style="background:linear-gradient(90deg,#00a3ff 0%,#00acff 0.4%,#00f4ff 2.1%,#02fffd 2.5%,#5affa5 5.6%,#67ff98 6.3%,#8eff71 11.6%,#b1ff4e 17.2%,#f6ff09 22.1%,#fffe00 23.1%,#ffed00 26.3%,#fff100 29.1%,#fffe00 30.8%,#e0ff1f 34%,#b2ff4d 39.9%,#8eff71 48.4%,#2bffd4 66.2%,#0cfff3 75%,#03fffc 80.6%,#0dfff2 86.2%,#46ffb9 96%,#73ff8c 100%)"></i>
<i style="background:linear-gradient(90deg,#00a3ff 0%,#00acff 0.4%,#00f4ff 2.1%,#02fffd 2.5%,#5affa5 5.6%,#67ff98 6.3%,#8eff71 11.6%,#b1ff4e 17.2%,#f6ff09 22.1%,#fffe00 23.1%,#ffed00 26.3%,#fff100 29.1%,#fffe00 30.8%,#e0ff1f 34%,#b2ff4d 39.9%,#8eff71 48.4%,#2bffd4 66.2%,#0cfff3 75%,#03fffc 80.6%,#0dfff2 86.2%,#46ffb9 96%,#73ff8c 100%)"></i>
<i style="background:linear-gradient(90deg,#00a3ff 0%,#00b8ff 0.7%,#01fffe 2.5%,#59ffa6 5.6%,#66ff99 6.3%,#8dff72 11.6%,#b1ff4e 17.2%,#f9ff06 22.4%,#fffd00 23.5%,#ffee00 26.3%,#fff300 29.1%,#feff01 30.8%,#e1ff1e 33.6%,#b0ff4f 39.9%,#8cff73 48%,#28ffd7 66.6%,#0cfff3 74.6%,#03fffc 80.9%,#0bfff4 85.8%,#42ffbd 96%,#4bffb4 97.1%,#71ff8e 100%)"></i>
<i style="background:linear-gradient(90deg,#00a3ff 0%,#00b8ff 0.7%,#01fffe 2.5%,#59ffa6 5.6%,#66ff99 6.3%,#8dff72 11.6%,#b1ff4e 17.2%,#f9ff06 22.4%,#fffd00 23.5%,#ffee00 26.3%,#fff300 29.1%,#feff01 30.8%,#e1ff1e 33.6%,#b0ff4f 39.9%,#8cff73 48%,#28ffd7 66.6%,#0cfff3 74.6%,#03fffc 80.9%,#0bfff4 85.8%,#42ffbd 96%,#4bffb4 97.1%,#71ff8e 100%)"></i>
<i style="background:linear-gradient(90deg,#00a3ff 0%,#00b7ff 0.7%,#00ffff 2.5%,#58ffa7 5.6%,#66ff99 6.3%,#8aff75 11.2%,#b1ff4e 17.2%,#f3ff0c 22.1%,#ffff00 23.5%,#fff000 26.3%,#fff400 29.1%,#ffff00 30.5%,#dfff20 33.6%,#aeff51 39.9%,#8bff74 47.7%,#25ffda 66.9%,#0bfff4 74.6%,#02fffd 81.3%,#09fff6 85.5%,#40ffbf 96.4%,#63ff9c 99.5%,#6fff90 100%)"></i>
<i style="background:linear-gradient(90deg,#00a3ff 0%,#00b7ff 0.7%,#00ffff 2.5%,#58ffa7 5.6%,#66ff99 6.3%,#8aff75 11.2%,#b1ff4e 17.2%,#f3ff0c 22.1%,#ffff00 23.5%,#fff000 26.3%,#fff400 29.1%,#ffff00 30.5%,#dfff20 33.6%,#aeff51 39.9%,#8bff74 47.7%,#25ffda 66.9%,#0bfff4 74.6%,#02fffd 81.3%,#09fff6 85.5%,#40ffbf 96.4%,#63ff9c 99.5%,#6fff90 100%)"></i>
<i style="background:linear-gradient(90deg,#00a2ff 0%,#00a9ff 0.4%,#00b6ff 0.7%,#00ffff 2.5%,#4effb1 5.3%,#65ff9a 6.3%,#8aff75 11.2%,#b1ff4e 17.2%,#f2ff0d 22.1%,#fffe00 23.8%,#fff100 26.3%,#fff500 28.7%,#fffe00 30.1%,#ddff22 33.6%,#acff53 39.9%,#88ff77 47.7%,#45ffba 59.9%,#3affc5 63.1%,#22ffdd 67.3%,#0afff5 74.6%,#02fffd 81.6%,#07fff8 85.1%,#3cffc3 96.4%,#5effa1 99.5%,#6dff92 100%)"></i>
<i style="background:linear-gradient(90deg,#00a2ff 0%,#00a9ff 0.4%,#00b6ff 0.7%,#00ffff 2.5%,#4effb1 5.3%,#65ff9a 6.3%,#8aff75 11.2%,#b1ff4e 17.2%,#f2ff0d 22.1%,#fffe00 23.8%,#fff100 26.3%,#fff500 28.7%,#fffe00 30.1%,#ddff22 33.6%,#acff53 39.9%,#88ff77 47.7%,#45ffba 59.9%,#3affc5 63.1%,#22ffdd 67.3%,#0afff5 74.6%,#02fffd 81.6%,#07fff8 85.1%,#3cffc3 96.4%,#5effa1 99.5%,#6dff92 100%)"></i>
<i style="background:linear-gradient(90deg,#00a2ff 0%,#00a8ff 0.4%,#00b5ff 0.7%,#00feff 2.5%,#4dffb2 5.3%,#64ff9b 6.3%,#89ff76 11.2%,#b0ff4f 17.2%,#f1ff0e 22.1%,#fffd00 24.2%,#fff300 26.3%,#fff600 28.7%,#fdff02 30.1%,#dcff23 33.6%,#aaff55 39.9%,#85ff7a 47.7%,#43ffbc 59.6%,#36ffc9 63.4%,#1fffe0 67.6%,#08fff7 75%,#01fffe 82%,#05fffa 84.8%,#32ffcd 95.3%,#3bffc4 96.7%,#55ffaa 99.2%,#5cffa3 100%)"></i>
<i style="background:linear-gradient(90deg,#00a2ff 0%,#00a8ff 0.4%,#00b5ff 0.7%,#00feff 2.5%,#4dffb2 5.3%,#64ff9b 6.3%,#89ff76 11.2%,#b0ff4f 17.2%,#f1ff0e 22.1%,#fffd00 24.2%,#fff300 26.3%,#fff600 28.7%,#fdff02 30.1%,#dcff23 33.6%,#aaff55 39.9%,#85ff7a 47.7%,#43ffbc 59.6%,#36ffc9 63.4%,#1fffe0 67.6%,#08fff7 75%,#01fffe 82%,#05fffa 84.8%,#32ffcd 95.3%,#3bffc4 96.7%,#55ffaa 99.2%,#5cffa3 100%)"></i>
<i style="background:linear-gradient(90deg,#00a1ff 0%,#00a8ff 0.4%,#00b3ff 0.7%,#00fdff 2.5%,#0afff5 2.8%,#55ffaa 5.6%,#63ff9c 6.3%,#89ff76 11.2%,#b0ff4f 17.2%,#efff10 22.1%,#ffff00 24.2%,#fff400 26.3%,#fff700 28.4%,#feff01 29.8%,#ddff22 33.3%,#a8ff57 39.9%,#40ffbf 59.6%,#32ffcd 63.8%,#1cffe3 68%,#07fff8 75%,#01fffe 82%,#02fffd 84.1%,#2effd1 95.3%,#37ffc8 96.7%,#50ffaf 99.2%,#51ffae 99.5%,#48ffb7 99.9%,#39ffc6 100%)"></i>
<i style="background:linear-gradient(90deg,#00a1ff 0%,#00a8ff 0.4%,#00b3ff 0.7%,#00fdff 2.5%,#0afff5 2.8%,#55ffaa 5.6%,#63ff9c 6.3%,#89ff76 11.2%,#b0ff4f 17.2%,#efff10 22.1%,#ffff00 24.2%,#fff400 26.3%,#fff700 28.4%,#feff01 29.8%,#ddff22 33.3%,#a8ff57 39.9%,#40ffbf 59.6%,#32ffcd 63.8%,#1cffe3 68%,#07fff8 75%,#01fffe 82%,#02fffd 84.1%,#2effd1 95.3%,#37ffc8 96.7%,#50ffaf 99.2%,#51ffae 99.5%,#48ffb7 99.9%,#39ffc6 100%)"></i>
<i style="background:linear-gradient(90deg,#00a1ff 0%,#00a7ff 0.4%,#00b2ff 0.7%,#00fdff 2.5%,#09fff6 2.8%,#54ffab 5.6%,#67ff98 6.7%,#b0ff4f 17.2%,#eeff11 22.1%,#fffe00 24.5%,#fff600 26.3%,#fff800 28.4%,#ffff00 29.4%,#dbff24 33.3%,#a8ff57 39.6%,#3fffc0 59.2%,#2dffd2 64.5%,#19ffe6 68.3%,#12ffed 70.4%,#05fffa 75.3%,#01fffe 83.7%,#2dffd2 95.7%,#33ffcc 96.7%,#4bffb4 99.2%,#4cffb3 99.5%,#43ffbc 99.9%,#35ffca 100%)"></i>
<i style="background:linear-gradient(90deg,#00a1ff 0%,#00a7ff 0.4%,#00b2ff 0.7%,#00fdff 2.5%,#09fff6 2.8%,#54ffab 5.6%,#67ff98 6.7%,#b0ff4f 17.2%,#eeff11 22.1%,#fffe00 24.5%,#fff600 26.3%,#fff800 28.4%,#ffff00 29.4%,#dbff24 33.3%,#a8ff57 39.6%,#3fffc0 59.2%,#2dffd2 64.5%,#19ffe6 68.3%,#12ffed 70.4%,#05fffa 75.3%,#01fffe 83.7%,#2dffd2 95.7%,#33ffcc 96.7%,#4bffb4 99.2%,#4cffb3 99.5%,#43ffbc 99.9%,#35ffca 100%)"></i>
<i style="background:linear-gradient(90deg,#00a0ff 0%,#00a6ff 0.4%,#00b1ff 0.7%,#00fcff 2.5%,#09fff6 2.8%,#53ffac 5.6%,#66ff99 6.7%,#b0ff4f 17.2%,#edff12 22.1%,#fffd00 24.9%,#fff700 26.3%,#fffe00 29.1%,#d9ff26 33.3%,#acff53 38.9%,#94ff6b 42.7%,#3effc1 58.9%,#10ffef 70.8%,#04fffb 75.7%,#01fffe 84.4%,#2bffd4 96%,#48ffb7 99.5%,#3effc1 100%)"></i>
<i style="background:linear-gradient(90deg,#00a0ff 0%,#00a6ff 0.4%,#00b1ff 0.7%,#00fcff 2.5%,#09fff6 2.8%,#53ffac 5.6%,#66ff99 6.7%,#b0ff4f 17.2%,#edff12 22.1%,#fffd00 24.9%,#fff700 26.3%,#fffe00 29.1%,#d9ff26 33.3%,#acff53 38.9%,#94ff6b 42.7%,#3effc1 58.9%,#10ffef 70.8%,#04fffb 75.7%,#01fffe 84.4%,#2bffd4 96%,#48ffb7 99.5%,#3effc1 100%)"></i>
<i style="background:linear-gradient(90deg,#00a0ff 0%,#00a5ff 0.4%,#00b0ff 0.7%,#00fbff 2.5%,#08fff7 2.8%,#52ffad 5.6%,#66ff99 6.7%,#acff53 16.8%,#ebff14 22.1%,#ffff00 24.9%,#fff900 26.3%,#feff01 29.1%,#d7ff28 33.3%,#aaff55 38.9%,#91ff6e 42.7%,#3bffc4 58.9%,#0dfff2 71.1%,#02fffd 76%,#01fffe 85.1%,#28ffd7 96%,#44ffbb 99.5%,#41ffbe 100%)"></i>
<i style="background:linear-gradient(90deg,#00a0ff 0%,#00a5ff 0.4%,#00b0ff 0.7%,#00fbff 2.5%,#08fff7 2.8%,#52ffad 5.6%,#66ff99 6.7%,#acff53 16.8%,#ebff14 22.1%,#ffff00 24.9%,#fff900 26.3%,#feff01 29.1%,#d7ff28 33.3%,#aaff55 38.9%,#91ff6e 42.7%,#3bffc4 58.9%,#0dfff2 71.1%,#02fffd 76%,#01fffe 85.1%,#28ffd7 96%,#44ffbb 99.5%,#41ffbe 100%)"></i>
<i style="background:linear-gradient(90deg,#009fff 0%,#00a4ff 0.4%,#00afff 0.7%,#00faff 2.5%,#07fff8 2.8%,#51ffae 5.6%,#65ff9a 6.7%,#acff53 16.8%,#eaff15 22.1%,#fffe00 25.2%,#fffa00 26.3%,#ffff00 28.7%,#d5ff2a 33.3%,#a5ff5a 39.2%,#50ffaf 54%,#38ffc7 58.9%,#0dfff2 70.1%,#01fffe 76.4%,#01fffe 85.8%,#26ffd9 96.4%,#3fffc0 99.5%,#3fffc0 100%)"></i>
<i style="background:linear-gradient(90deg,#009fff 0%,#00a4ff 0.4%,#00afff 0.7%,#00faff 2.5%,#07fff8 2.8%,#51ffae 5.6%,#65ff9a 6.7%,#acff53 16.8%,#eaff15 22.1%,#fffe00 25.2%,#fffa00 26.3%,#ffff00 28.7%,#d5ff2a 33.3%,#a5ff5a 39.2%,#50ffaf 54%,#38ffc7 58.9%,#0dfff2 70.1%,#01fffe 76.4%,#01fffe 85.8%,#26ffd9 96.4%,#3fffc0 99.5%,#3fffc0 100%)"></i>
<i style="background:linear-gradient(90deg,#009fff 0%,#00a3ff 0.4%,#00adff 0.7%,#00faff 2.5%,#07fff8 2.8%,#48ffb7 5.3%,#64ff9b 6.7%,#acff53 16.8%,#e8ff17 22.1%,#fffd00 25.6%,#ffff00 28.4%,#d6ff29 32.9%,#a3ff5c 39.2%,#4fffb0 53.6%,#37ffc8 58.5%,#0afff5 70.4%,#00ffff 75.7%,#01fffe 86.9%,#23ffdc 96.4%,#3bffc4 99.5%,#3dffc2 100%)"></i>
<i style="background:linear-gradient(90deg,#009fff 0%,#00a3ff 0.4%,#00adff 0.7%,#00faff 2.5%,#07fff8 2.8%,#48ffb7 5.3%,#64ff9b 6.7%,#acff53 16.8%,#e8ff17 22.1%,#fffd00 25.6%,#ffff00 28.4%,#d6ff29 32.9%,#a3ff5c 39.2%,#4fffb0 53.6%,#37ffc8 58.5%,#0afff5 70.4%,#00ffff 75.7%,#01fffe 86.9%,#23ffdc 96.4%,#3bffc4 99.5%,#3dffc2 100%)"></i>
<i style="background:linear-gradient(90deg,#0099ff 0%,#00a0ff 0.4%,#00acff 0.7%,#00f9ff 2.5%,#06fff9 2.8%,#47ffb8 5.3%,#63ff9c 6.7%,#acff53 16.8%,#e7ff18 22.1%,#fffe00 25.6%,#fdff02 28.4%,#d4ff2b 32.9%,#a1ff5e 39.2%,#7dff82 44.8%,#4cffb3 53.6%,#34ffcb 58.5%,#07fff8 70.8%,#00ffff 73.9%,#01fffe 87.6%,#1fffe0 96%,#3bffc4 100%)"></i>
<i style="background:linear-gradient(90deg,#0099ff 0%,#00a0ff 0.4%,#00acff 0.7%,#00f9ff 2.5%,#06fff9 2.8%,#47ffb8 5.3%,#63ff9c 6.7%,#acff53 16.8%,#e7ff18 22.1%,#fffe00 25.6%,#fdff02 28.4%,#d4ff2b 32.9%,#a1ff5e 39.2%,#7dff82 44.8%,#4cffb3 53.6%,#34ffcb 58.5%,#07fff8 70.8%,#00ffff 73.9%,#01fffe 87.6%,#1fffe0 96%,#3bffc4 100%)"></i>
<i style="background:linear-gradient(90deg,#008cff 0%,#00f8ff 2.5%,#05fffa 2.8%,#46ffb9 5.3%,#63ff9c 6.7%,#abff54 16.8%,#e5ff1a 22.1%,#ffff00 25.9%,#fbff04 28.4%,#a2ff5d 38.9%,#7aff85 44.8%,#4affb5 53.3%,#33ffcc 58.2%,#03fffc 71.1%,#00f8ff 75.3%,#00ffff 88.3%,#1bffe4 95.7%,#2dffd2 98.1%,#31ffce 99.5%,#38ffc7 100%)"></i>
<i style="background:linear-gradient(90deg,#008cff 0%,#00f8ff 2.5%,#05fffa 2.8%,#46ffb9 5.3%,#63ff9c 6.7%,#abff54 16.8%,#e5ff1a 22.1%,#ffff00 25.9%,#fbff04 28.4%,#a2ff5d 38.9%,#7aff85 44.8%,#4affb5 53.3%,#33ffcc 58.2%,#03fffc 71.1%,#00f8ff 75.3%,#00ffff 88.3%,#1bffe4 95.7%,#2dffd2 98.1%,#31ffce 99.5%,#38ffc7 100%)"></i>
<i style="background:linear-gradient(90deg,#008aff 0%,#00f7ff 2.5%,#05fffa 2.8%,#4dffb2 5.6%,#5cffa3 6.3%,#66ff99 7%,#abff54 16.8%,#e4ff1b 22.1%,#feff01 25.9%,#f9ff06 28.4%,#d0ff2f 32.9%,#87ff78 42.4%,#49ffb6 52.9%,#30ffcf 58.2%,#00ffff 71.1%,#00f3ff 75.7%,#00feff 89%,#16ffe9 95%,#26ffd9 97.4%,#2dffd2 100%)"></i>
<i style="background:linear-gradient(90deg,#008aff 0%,#00f7ff 2.5%,#05fffa 2.8%,#4dffb2 5.6%,#5cffa3 6.3%,#66ff99 7%,#abff54 16.8%,#e4ff1b 22.1%,#feff01 25.9%,#f9ff06 28.4%,#d0ff2f 32.9%,#87ff78 42.4%,#49ffb6 52.9%,#30ffcf 58.2%,#00ffff 71.1%,#00f3ff 75.7%,#00feff 89%,#16ffe9 95%,#26ffd9 97.4%,#2dffd2 100%)"></i>
<i style="background:linear-gradient(90deg,#008aff 0%,#00f6ff 2.5%,#04fffb 2.8%,#4cffb3 5.6%,#5bffa4 6.3%,#65ff9a 7%,#abff54 16.8%,#dfff20 21.7%,#fcff03 25.9%,#fbff04 27.7%,#f7ff08 28.4%,#a1ff5e 38.5%,#74ff8b 44.8%,#46ffb9 52.9%,#2fffd0 57.8%,#01fffe 70.1%,#00edff 76.4%,#00f5ff 87.2%,#00ffff 90%,#10ffef 94.3%,#20ffdf 97.1%,#20ffdf 99.5%,#17ffe8 100%)"></i>
<i style="background:linear-gradient(90deg,#008aff 0%,#00f6ff 2.5%,#04fffb 2.8%,#4cffb3 5.6%,#5bffa4 6.3%,#65ff9a 7%,#abff54 16.8%,#dfff20 21.7%,#fcff03 25.9%,#fbff04 27.7%,#f7ff08 28.4%,#a1ff5e 38.5%,#74ff8b 44.8%,#46ffb9 52.9%,#2fffd0 57.8%,#01fffe 70.1%,#00edff 76.4%,#00f5ff 87.2%,#00ffff 90%,#10ffef 94.3%,#20ffdf 97.1%,#20ffdf 99.5%,#17ffe8 100%)"></i>
<i style="background:linear-gradient(90deg,#0089ff 0%,#0096ff 0.4%,#00f6ff 2.5%,#04fffb 2.8%,#4affb5 5.6%,#5affa5 6.3%,#65ff9a 7%,#abff54 16.8%,#ddff22 21.7%,#fbff04 25.9%,#f8ff07 28%,#9fff60 38.5%,#73ff8c 44.5%,#45ffba 52.6%,#2effd1 57.5%,#01fffe 69%,#00eeff 73.6%,#00e7ff 76.7%,#00efff 86.9%,#00ffff 90.7%,#19ffe6 96.4%,#1affe5 99.2%,#13ffec 100%)"></i>
<i style="background:linear-gradient(90deg,#0089ff 0%,#0096ff 0.4%,#00f6ff 2.5%,#04fffb 2.8%,#4affb5 5.6%,#5affa5 6.3%,#65ff9a 7%,#abff54 16.8%,#ddff22 21.7%,#fbff04 25.9%,#f8ff07 28%,#9fff60 38.5%,#73ff8c 44.5%,#45ffba 52.6%,#2effd1 57.5%,#01fffe 69%,#00eeff 73.6%,#00e7ff 76.7%,#00efff 86.9%,#00ffff 90.7%,#19ffe6 96.4%,#1affe5 99.2%,#13ffec 100%)"></i>
<i style="background:linear-gradient(90deg,#0089ff 0%,#0095ff 0.4%,#00f5ff 2.5%,#03fffc 2.8%,#49ffb6 5.6%,#64ff9b 7%,#abff54 16.8%,#dcff23 21.7%,#faff05 25.9%,#f6ff09 28%,#caff35 32.9%,#70ff8f 44.5%,#42ffbd 52.6%,#01fffe 68%,#00edff 72.5%,#00e1ff 77.1%,#00e9ff 86.5%,#01fffe 91.8%,#11ffee 95.7%,#11ffee 100%)"></i>
<i style="background:linear-gradient(90deg,#0089ff 0%,#0095ff 0.4%,#00f5ff 2.5%,#03fffc 2.8%,#49ffb6 5.6%,#64ff9b 7%,#abff54 16.8%,#dcff23 21.7%,#faff05 25.9%,#f6ff09 28%,#caff35 32.9%,#70ff8f 44.5%,#42ffbd 52.6%,#01fffe 68%,#00edff 72.5%,#00e1ff 77.1%,#00e9ff 86.5%,#01fffe 91.8%,#11ffee 95.7%,#11ffee 100%)"></i>
<i style="background:linear-gradient(90deg,#0088ff 0%,#0094ff 0.4%,#00f4ff 2.5%,#02fffd 2.8%,#40ffbf 5.3%,#58ffa7 6.3%,#63ff9c 7%,#a8ff57 16.5%,#daff25 21.7%,#f8ff07 25.9%,#f4ff0b 28%,#cbff34 32.6%,#6fff90 44.1%,#41ffbe 52.2%,#00ffff 67.3%,#00ebff 71.5%,#00dbff 77.8%,#00e2ff 85.8%,#00ffff 92.5%,#0afff5 95%,#0ffff0 100%)"></i>
<i style="background:linear-gradient(90deg,#0088ff 0%,#0094ff 0.4%,#00f4ff 2.5%,#02fffd 2.8%,#40ffbf 5.3%,#58ffa7 6.3%,#63ff9c 7%,#a8ff57 16.5%,#daff25 21.7%,#f8ff07 25.9%,#f4ff0b 28%,#cbff34 32.6%,#6fff90 44.1%,#41ffbe 52.2%,#00ffff 67.3%,#00ebff 71.5%,#00dbff 77.8%,#00e2ff 85.8%,#00ffff 92.5%,#0afff5 95%,#0ffff0 100%)"></i>
<i style="background:linear-gradient(90deg,#0088ff 0%,#0093ff 0.4%,#00e4ff 2.1%,#01fffe 2.8%,#3fffc0 5.3%,#63ff9c 7%,#a7ff58 16.5%,#d9ff26 21.7%,#f4ff0b 25.2%,#f7ff08 25.9%,#f6ff09 27.3%,#f2ff0d 28%,#caff35 32.6%,#6cff93 44.1%,#3effc1 52.2%,#00ffff 66.2%,#00e5ff 71.5%,#00d5ff 78.1%,#00dcff 85.5%,#01fffe 93.9%,#0afff5 100%)"></i>
<i style="background:linear-gradient(90deg,#0088ff 0%,#0093ff 0.4%,#00e4ff 2.1%,#01fffe 2.8%,#3fffc0 5.3%,#63ff9c 7%,#a7ff58 16.5%,#d9ff26 21.7%,#f4ff0b 25.2%,#f7ff08 25.9%,#f6ff09 27.3%,#f2ff0d 28%,#caff35 32.6%,#6cff93 44.1%,#3effc1 52.2%,#00ffff 66.2%,#00e5ff 71.5%,#00d5ff 78.1%,#00dcff 85.5%,#01fffe 93.9%,#0afff5 100%)"></i>
<i style="background:linear-gradient(90deg,#0087ff 0%,#0093ff 0.4%,#00e3ff 2.1%,#01fffe 2.8%,#3effc1 5.3%,#62ff9d 7%,#aaff55 16.8%,#f0ff0f 24.9%,#f5ff0a 26.3%,#f0ff0f 28%,#69ff96 44.1%,#3dffc2 51.9%,#00ffff 65.5%,#00e1ff 71.1%,#00cfff 78.5%,#00d5ff 84.8%,#00eeff 91.8%,#00ffff 95.3%,#06fff9 98.8%,#03fffc 100%)"></i>
<i style="background:linear-gradient(90deg,#0087ff 0%,#0093ff 0.4%,#00e3ff 2.1%,#01fffe 2.8%,#3effc1 5.3%,#62ff9d 7%,#aaff55 16.8%,#f0ff0f 24.9%,#f5ff0a 26.3%,#f0ff0f 28%,#69ff96 44.1%,#3dffc2 51.9%,#00ffff 65.5%,#00e1ff 71.1%,#00cfff 78.5%,#00d5ff 84.8%,#00eeff 91.8%,#00ffff 95.3%,#06fff9 98.8%,#03fffc 100%)"></i>
<i style="background:linear-gradient(90deg,#0087ff 0%,#0092ff 0.4%,#00ffff 2.8%,#55ffaa 6.3%,#65ff9a 7.4%,#a7ff58 16.5%,#efff10 24.9%,#f4ff0b 26.3%,#f1ff0e 27.7%,#68ff97 43.8%,#3cffc3 51.5%,#00feff 64.8%,#00edff 67.3%,#00daff 71.5%,#00caff 79.2%,#00cdff 83.7%,#00d4ff 86.5%,#00e5ff 91.8%,#00ffff 96.7%,#01fffe 100%)"></i>
<i style="background:linear-gradient(90deg,#0087ff 0%,#0092ff 0.4%,#00ffff 2.8%,#55ffaa 6.3%,#65ff9a 7.4%,#a7ff58 16.5%,#efff10 24.9%,#f4ff0b 26.3%,#f1ff0e 27.7%,#68ff97 43.8%,#3cffc3 51.5%,#00feff 64.8%,#00edff 67.3%,#00daff 71.5%,#00caff 79.2%,#00cdff 83.7%,#00d4ff 86.5%,#00e5ff 91.8%,#00ffff 96.7%,#01fffe 100%)"></i>
<i style="background:linear-gradient(90deg,#0087ff 0%,#0091ff 0.4%,#00feff 2.8%,#53ffac 6.3%,#64ff9b 7.4%,#a7ff58 16.5%,#eeff11 24.9%,#f3ff0c 26.3%,#efff10 27.7%,#65ff9a 43.8%,#3bffc4 51.2%,#01fffe 63.8%,#00e8ff 66.9%,#00d8ff 70.1%,#00cfff 73.2%,#00c4ff 79.5%,#00c7ff 83.4%,#00daff 91.1%,#00f8ff 97.4%,#00faff 100%)"></i>
<i style="background:linear-gradient(90deg,#0087ff 0%,#0091ff 0.4%,#00feff 2.8%,#53ffac 6.3%,#64ff9b 7.4%,#a7ff58 16.5%,#eeff11 24.9%,#f3ff0c 26.3%,#efff10 27.7%,#65ff9a 43.8%,#3bffc4 51.2%,#01fffe 63.8%,#00e8ff 66.9%,#00d8ff 70.1%,#00cfff 73.2%,#00c4ff 79.5%,#00c7ff 83.4%,#00daff 91.1%,#00f8ff 97.4%,#00faff 100%)"></i>
<i style="background:linear-gradient(90deg,#0086ff 0%,#0091ff 0.4%,#00feff 2.8%,#52ffad 6.3%,#64ff9b 7.4%,#a7ff58 16.5%,#edff12 24.9%,#f1ff0e 26.3%,#edff12 27.7%,#62ff9d 43.8%,#38ffc7 51.2%,#00ffff 63.1%,#00e4ff 66.6%,#00d0ff 70.4%,#00beff 79.5%,#00c0ff 82.7%,#00d1ff 90.7%,#00e5ff 95.7%,#00eaff 97.8%,#00ebff 100%)"></i>
<i style="background:linear-gradient(90deg,#0086ff 0%,#0091ff 0.4%,#00feff 2.8%,#52ffad 6.3%,#64ff9b 7.4%,#a7ff58 16.5%,#edff12 24.9%,#f1ff0e 26.3%,#edff12 27.7%,#62ff9d 43.8%,#38ffc7 51.2%,#00ffff 63.1%,#00e4ff 66.6%,#00d0ff 70.4%,#00beff 79.5%,#00c0ff 82.7%,#00d1ff 90.7%,#00e5ff 95.7%,#00eaff 97.8%,#00ebff 100%)"></i>
<i style="background:linear-gradient(90deg,#0086ff 0%,#0090ff 0.4%,#00fdff 2.8%,#08fff7 3.2%,#59ffa6 6.7%,#63ff9c 7.4%,#98ff67 14.7%,#ebff14 24.9%,#f0ff0f 26.3%,#ebff14 27.7%,#d1ff2e 30.5%,#9fff60 36.8%,#61ff9e 43.4%,#39ffc6 50.5%,#00feff 62.4%,#00dbff 66.9%,#00c8ff 70.8%,#00b8ff 79.5%,#00b9ff 82%,#00c7ff 90.4%,#00d6ff 95%,#00d9ff 97.4%,#00cfff 99.5%,#00d2ff 100%)"></i>
<i style="background:linear-gradient(90deg,#0086ff 0%,#0090ff 0.4%,#00fdff 2.8%,#08fff7 3.2%,#59ffa6 6.7%,#63ff9c 7.4%,#98ff67 14.7%,#ebff14 24.9%,#f0ff0f 26.3%,#ebff14 27.7%,#d1ff2e 30.5%,#9fff60 36.8%,#61ff9e 43.4%,#39ffc6 50.5%,#00feff 62.4%,#00dbff 66.9%,#00c8ff 70.8%,#00b8ff 79.5%,#00b9ff 82%,#00c7ff 90.4%,#00d6ff 95%,#00d9ff 97.4%,#00cfff 99.5%,#00d2ff 100%)"></i>
<i style="background:linear-gradient(90deg,#0086ff 0%,#008fff 0.4%,#009eff 0.7%,#00eeff 2.5%,#00fcff 2.8%,#07fff8 3.2%,#57ffa8 6.7%,#61ff9e 7.4%,#94ff6b 14.4%,#e9ff16 24.9%,#edff12 26.3%,#ebff14 27.3%,#9fff60 36.4%,#5fffa0 43.4%,#37ffc8 50.1%,#01fffe 61.3%,#00d6ff 66.6%,#00b9ff 71.5%,#00a8ff 80.2%,#00c5ff 94.6%,#00c5ff 97.1%,#00bfff 98.5%,#00cbff 100%)"></i>
<i style="background:linear-gradient(90deg,#0086ff 0%,#008fff 0.4%,#009eff 0.7%,#00eeff 2.5%,#00fcff 2.8%,#07fff8 3.2%,#57ffa8 6.7%,#61ff9e 7.4%,#94ff6b 14.4%,#e9ff16 24.9%,#edff12 26.3%,#ebff14 27.3%,#9fff60 36.4%,#5fffa0 43.4%,#37ffc8 50.1%,#01fffe 61.3%,#00d6ff 66.6%,#00b9ff 71.5%,#00a8ff 80.2%,#00c5ff 94.6%,#00c5ff 97.1%,#00bfff 98.5%,#00c7ff 99.5%)"></i>
<i style="background:linear-gradient(90deg,#0085ff 0%,#008fff 0.4%,#009dff 0.7%,#00edff 2.5%,#00faff 2.8%,#06fff9 3.2%,#4dffb2 6.3%,#5effa1 7.4%,#e7ff18 24.9%,#eaff15 25.9%,#e9ff16 27%,#dcff23 28.7%,#9dff62 36.4%,#5fffa0 43.1%,#34ffcb 49.8%,#00ffff 60.6%,#00c3ff 68%,#00b8ff 69%,#0097ff 71.1%,#0092ff 72.2%,#0088ff 80.9%,#00a3ff 89.7%,#00aeff 94.6%,#00a8ff 96.7%,#00b0ff 97.8%,#00bfff 98.8%)"></i>
<i style="background:linear-gradient(90deg,#0085ff 0%,#008fff 0.4%,#009dff 0.7%,#00edff 2.5%,#00faff 2.8%,#06fff9 3.2%,#4dffb2 6.3%,#5effa1 7.4%,#e7ff18 24.9%,#eaff15 25.9%,#e9ff16 27%,#dcff23 28.7%,#9dff62 36.4%,#5fffa0 43.1%,#34ffcb 49.8%,#00ffff 60.6%,#00c3ff 68%,#00b8ff 69%,#0097ff 71.1%,#0092ff 71.8%,#0087ff 80.6%,#00aeff 94.6%,#00a8ff 96.7%,#00b4ff 98.1%)"></i>
<i style="background:linear-gradient(90deg,#0085ff 0%,#008eff 0.4%,#009dff 0.7%,#00ecff 2.5%,#00f9ff 2.8%,#04fffb 3.2%,#4bffb4 6.3%,#5bffa4 7.4%,#e2ff1d 24.5%,#e7ff18 26.3%,#e6ff19 27%,#d9ff26 28.7%,#acff53 34.3%,#5fffa0 42.7%,#40ffbf 47.7%,#31ffce 49.4%,#00feff 59.9%,#00ceff 65.5%,#0088ff 69.4%,#007cff 70.4%,#0076ff 71.5%,#0073ff 80.9%,#0082ff 91.1%,#0092ff 95.7%,#00aaff 97.4%)"></i>
<i style="background:linear-gradient(90deg,#0085ff 0%,#008eff 0.4%,#009dff 0.7%,#00ecff 2.5%,#00f9ff 2.8%,#04fffb 3.2%,#4bffb4 6.3%,#5bffa4 7.4%,#e2ff1d 24.5%,#e7ff18 26.3%,#e6ff19 27%,#d9ff26 28.7%,#acff53 34.3%,#5fffa0 42.7%,#40ffbf 47.7%,#31ffce 49.4%,#00feff 59.9%,#00ceff 65.5%,#0088ff 69.4%,#007cff 70.4%,#0076ff 71.5%,#0073ff 80.6%,#007bff 86.9%,#008aff 93.9%,#0092ff 95.7%,#009fff 96.7%)"></i>
<i style="background:linear-gradient(90deg,#0085ff 0%,#008eff 0.4%,#009cff 0.7%,#00eaff 2.5%,#03fffc 3.2%,#2cffd3 4.9%,#55ffaa 7%,#dfff20 24.5%,#e4ff1b 26.3%,#d7ff28 28.7%,#9bff64 36.1%,#5fffa0 42.4%,#3dffc2 47.7%,#2effd1 49.1%,#00ffff 58.9%,#00cfff 64.5%,#00c0ff 65.2%,#008eff 66.6%,#0082ff 67.3%,#0077ff 68.7%,#006fff 70.8%,#0067ff 80.9%,#006bff 89.3%,#0082ff 93.9%,#0096ff 96%)"></i>
<i style="background:linear-gradient(90deg,#0085ff 0%,#008eff 0.4%,#009cff 0.7%,#00eaff 2.5%,#03fffc 3.2%,#2cffd3 4.9%,#55ffaa 7%,#dfff20 24.5%,#e4ff1b 26.3%,#d7ff28 28.7%,#9bff64 36.1%,#5fffa0 42.4%,#3dffc2 47.7%,#2effd1 49.1%,#00ffff 58.9%,#00d3ff 64.1%,#00c0ff 65.2%,#008eff 66.6%,#0086ff 66.9%,#0079ff 68.3%,#0071ff 70.1%,#0067ff 80.6%,#006bff 89%,#006dff 90%,#0080ff 93.6%,#008dff 95.3%)"></i>
<i style="background:linear-gradient(90deg,#0085ff 0%,#008dff 0.4%,#00daff 2.1%,#01fffe 3.2%,#2affd5 4.9%,#52ffad 7%,#63ff9c 8.8%,#ddff22 24.5%,#e1ff1e 26.3%,#d8ff27 28.4%,#abff54 34%,#60ff9f 42%,#3cffc3 47.3%,#29ffd6 49.1%,#00feff 58.2%,#00cfff 63.4%,#00beff 64.1%,#0096ff 65.2%,#0080ff 65.9%,#0077ff 66.6%,#0073ff 67.3%,#0067ff 71.8%,#005dff 80.6%,#005eff 83.4%,#006aff 89%,#0089ff 94.6%)"></i>
<i style="background:linear-gradient(90deg,#0085ff 0%,#008dff 0.4%,#00daff 2.1%,#01fffe 3.2%,#2affd5 4.9%,#52ffad 7%,#63ff9c 8.8%,#ddff22 24.5%,#e1ff1e 26.3%,#d8ff27 28.4%,#abff54 34%,#60ff9f 42%,#3cffc3 47.3%,#29ffd6 49.1%,#00feff 58.2%,#00cfff 63.4%,#00beff 64.1%,#0096ff 65.2%,#0080ff 65.9%,#0077ff 66.6%,#0073ff 67.3%,#0067ff 71.8%,#005dff 82%,#0069ff 88.6%,#0086ff 93.9%)"></i>
<i style="background:linear-gradient(90deg,#0084ff 0%,#008dff 0.4%,#00d9ff 2.1%,#00ffff 3.2%,#21ffde 4.6%,#45ffba 6.3%,#5dffa2 8.4%,#d8ff27 24.2%,#deff21 26.3%,#d6ff29 28.4%,#acff53 33.6%,#60ff9f 41.7%,#3bffc4 47%,#24ffdb 49.1%,#00ffff 57.1%,#00edff 59.6%,#00d5ff 62%,#00c7ff 62.7%,#0092ff 64.1%,#007fff 64.8%,#0076ff 65.5%,#0071ff 66.6%,#0061ff 71.8%,#0059ff 80.6%,#0067ff 86.9%,#0085ff 93.2%)"></i>
<i style="background:linear-gradient(90deg,#0084ff 0%,#008dff 0.4%,#00d9ff 2.1%,#00ffff 3.2%,#21ffde 4.6%,#45ffba 6.3%,#5dffa2 8.4%,#d8ff27 24.2%,#deff21 26.3%,#d6ff29 28.4%,#acff53 33.6%,#60ff9f 41.7%,#3bffc4 47%,#24ffdb 49.1%,#00ffff 57.1%,#00edff 59.6%,#00d5ff 62%,#00c7ff 62.7%,#0092ff 64.1%,#007fff 64.8%,#0076ff 65.5%,#0071ff 66.6%,#0061ff 71.8%,#0059ff 80.6%,#0069ff 87.2%,#0082ff 92.2%)"></i>
<i style="background:linear-gradient(90deg,#0084ff 0%,#008cff 0.4%,#009aff 0.7%,#00c9ff 1.8%,#00f1ff 2.8%,#00fdff 3.2%,#08fff7 3.5%,#43ffbc 6.3%,#5bffa4 8.4%,#d6ff29 24.2%,#dbff24 26.3%,#d3ff2c 28.4%,#aaff55 33.6%,#5effa1 41.7%,#37ffc8 47%,#21ffde 48.7%,#01fffe 56.1%,#00f1ff 58.2%,#00d7ff 61%,#00c7ff 61.7%,#008fff 63.1%,#007dff 63.8%,#0076ff 64.5%,#006cff 66.6%,#005aff 72.2%,#0059ff 77.4%,#0068ff 85.8%,#0081ff 91.5%)"></i>
<i style="background:linear-gradient(90deg,#0084ff 0%,#008cff 0.4%,#009aff 0.7%,#00c9ff 1.8%,#00f1ff 2.8%,#00fdff 3.2%,#08fff7 3.5%,#43ffbc 6.3%,#5bffa4 8.4%,#d6ff29 24.2%,#dbff24 26.3%,#d3ff2c 28.4%,#aaff55 33.6%,#5effa1 41.7%,#37ffc8 47%,#21ffde 48.7%,#01fffe 56.1%,#00f1ff 58.2%,#00d7ff 61%,#00c7ff 61.7%,#008fff 63.1%,#007dff 63.8%,#0076ff 64.5%,#006cff 66.6%,#005aff 72.2%,#0059ff 77.1%,#0068ff 85.8%,#007fff 90.7%)"></i>
<i style="background:linear-gradient(90deg,#0083ff 0%,#008bff 0.4%,#00c7ff 1.8%,#00efff 2.8%,#00fbff 3.2%,#06fff9 3.5%,#40ffbf 6.3%,#59ffa6 8.4%,#d3ff2c 24.2%,#d9ff26 26.3%,#d4ff2b 28%,#a7ff58 33.6%,#5effa1 41.3%,#37ffc8 46.6%,#1cffe3 48.7%,#01fffe 55%,#00f3ff 57.1%,#00daff 59.9%,#00caff 60.6%,#008cff 62%,#007cff 62.7%,#0075ff 63.4%,#0067ff 66.6%,#005aff 71.1%,#005aff 75.3%,#006bff 85.1%,#007eff 90%)"></i>
<i style="background:linear-gradient(90deg,#0083ff 0%,#008bff 0.4%,#00c7ff 1.8%,#00efff 2.8%,#00fbff 3.2%,#06fff9 3.5%,#40ffbf 6.3%,#59ffa6 8.4%,#d3ff2c 24.2%,#d9ff26 26.3%,#d4ff2b 28%,#a7ff58 33.6%,#5effa1 41.3%,#37ffc8 46.6%,#1cffe3 48.7%,#01fffe 55%,#00f3ff 57.1%,#00daff 59.9%,#00caff 60.6%,#008cff 62%,#007cff 62.7%,#0075ff 63.4%,#0067ff 66.6%,#005aff 70.8%,#005aff 75%,#006aff 84.8%,#007cff 89.3%)"></i>
<i style="background:linear-gradient(90deg,#007fff 0%,#0089ff 0.4%,#00b7ff 1.4%,#00edff 2.8%,#00faff 3.2%,#05fffa 3.5%,#1dffe2 4.6%,#3effc1 6.3%,#57ffa8 8.4%,#ceff31 23.8%,#d6ff29 25.9%,#d2ff2d 28%,#a8ff57 33.3%,#5effa1 41%,#36ffc9 46.3%,#17ffe8 48.7%,#00ffff 54.3%,#00eaff 57.5%,#00d7ff 59.2%,#00c0ff 59.9%,#008eff 61%,#007cff 61.7%,#0075ff 62.4%,#0063ff 66.6%,#005bff 70.4%,#005dff 75%,#006cff 83.7%,#007aff 88.6%)"></i>
<i style="background:linear-gradient(90deg,#007fff 0%,#0089ff 0.4%,#00b7ff 1.4%,#00edff 2.8%,#00faff 3.2%,#05fffa 3.5%,#1dffe2 4.6%,#3effc1 6.3%,#57ffa8 8.4%,#ceff31 23.8%,#d6ff29 25.9%,#d2ff2d 28%,#a8ff57 33.3%,#5effa1 41%,#36ffc9 46.3%,#17ffe8 48.7%,#00ffff 54.3%,#00eaff 57.5%,#00d7ff 59.2%,#00c0ff 59.9%,#008eff 61%,#007cff 61.7%,#0075ff 62.4%,#0063ff 66.6%,#005bff 70.4%,#005dff 75%,#0069ff 82.3%,#0079ff 87.9%)"></i>
<i style="background:linear-gradient(90deg,#007dff 0%,#0088ff 0.4%,#00b6ff 1.4%,#00ebff 2.8%,#03fffc 3.5%,#1bffe4 4.6%,#3bffc4 6.3%,#55ffaa 8.4%,#bfff40 22.1%,#ceff31 24.2%,#d3ff2c 25.9%,#d0ff2f 28%,#a6ff59 33.3%,#62ff9d 40.3%,#35ffca 45.9%,#15ffea 48.4%,#02fffd 52.6%,#00fdff 53.6%,#00f3ff 55.4%,#00e3ff 57.5%,#00daff 58.2%,#00c4ff 58.9%,#0092ff 59.9%,#0085ff 60.3%,#0078ff 61%,#0064ff 65.5%,#005eff 68.3%,#005eff 72.9%,#0066ff 78.8%,#0077ff 87.2%)"></i>
<i style="background:linear-gradient(90deg,#007dff 0%,#0088ff 0.4%,#00b6ff 1.4%,#00ebff 2.8%,#03fffc 3.5%,#1bffe4 4.6%,#3bffc4 6.3%,#55ffaa 8.4%,#bfff40 22.1%,#ceff31 24.2%,#d3ff2c 25.9%,#d0ff2f 28%,#a6ff59 33.3%,#62ff9d 40.3%,#35ffca 45.9%,#15ffea 48.4%,#02fffd 52.6%,#00fdff 53.6%,#00f3ff 55.4%,#00e3ff 57.5%,#00daff 58.2%,#00c4ff 58.9%,#0092ff 59.9%,#0085ff 60.3%,#0078ff 61%,#0064ff 65.5%,#005eff 68.3%,#005eff 72.9%,#0066ff 78.8%,#0076ff 86.5%)"></i>
<i style="background:linear-gradient(90deg,#007cff 0%,#0087ff 0.4%,#00b4ff 1.4%,#00e9ff 2.8%,#02fffd 3.5%,#13ffec 4.2%,#39ffc6 6.3%,#56ffa9 8.8%,#8eff71 15.8%,#c9ff36 23.8%,#d0ff2f 25.6%,#d1ff2e 27.3%,#a4ff5b 33.3%,#62ff9d 39.9%,#35ffca 45.6%,#10ffef 48.4%,#01fffe 51.9%,#00f6ff 54%,#00e2ff 56.8%,#00d5ff 57.5%,#00c9ff 57.8%,#0095ff 58.9%,#007fff 59.6%,#0076ff 60.3%,#0069ff 63.1%,#0061ff 65.9%,#0060ff 72.5%,#0075ff 85.8%)"></i>
<i style="background:linear-gradient(90deg,#007cff 0%,#0087ff 0.4%,#00b4ff 1.4%,#00e9ff 2.8%,#02fffd 3.5%,#13ffec 4.2%,#39ffc6 6.3%,#56ffa9 8.8%,#8eff71 15.8%,#c9ff36 23.8%,#d0ff2f 25.6%,#d1ff2e 27.3%,#a4ff5b 33.3%,#62ff9d 39.9%,#35ffca 45.6%,#10ffef 48.4%,#01fffe 51.9%,#00f6ff 54%,#00e2ff 56.8%,#00d5ff 57.5%,#00c9ff 57.8%,#0095ff 58.9%,#007fff 59.6%,#0076ff 60.3%,#006aff 62.7%,#0061ff 65.5%,#005fff 70.8%,#0063ff 75.3%,#0074ff 85.1%)"></i>
<i style="background:linear-gradient(90deg,#007cff 0%,#0086ff 0.4%,#00c0ff 1.8%,#00ffff 3.5%,#11ffee 4.2%,#36ffc9 6.3%,#53ffac 8.8%,#8dff72 15.8%,#c5ff3a 23.5%,#ceff31 25.6%,#d0ff2f 27.3%,#a5ff5a 32.9%,#63ff9c 39.6%,#35ffca 45.2%,#0bfff4 48.4%,#00ffff 51.2%,#00efff 54.3%,#00dfff 56.1%,#00cdff 56.8%,#0099ff 57.8%,#0080ff 58.5%,#0077ff 59.2%,#0069ff 62%,#0062ff 64.5%,#0061ff 70.8%,#0074ff 84.4%)"></i>
<i style="background:linear-gradient(90deg,#007cff 0%,#0086ff 0.4%,#00c0ff 1.8%,#00ffff 3.5%,#11ffee 4.2%,#36ffc9 6.3%,#53ffac 8.8%,#8dff72 15.8%,#c5ff3a 23.5%,#ceff31 25.6%,#d0ff2f 27.3%,#a2ff5d 33.3%,#63ff9c 39.6%,#35ffca 45.2%,#0efff1 48%,#07fff8 49.4%,#00ffff 51.2%,#00fbff 52.2%,#00e4ff 55.7%,#00d8ff 56.4%,#00cdff 56.8%,#0099ff 57.8%,#0080ff 58.5%,#0075ff 59.6%,#0067ff 62.4%,#0062ff 64.5%,#0061ff 70.8%,#0074ff 83.7%)"></i>
<i style="background:linear-gradient(90deg,#007cff 0%,#0086ff 0.4%,#00cbff 2.1%,#00feff 3.5%,#0ffff0 4.2%,#33ffcc 6.3%,#51ffae 8.8%,#88ff77 15.4%,#b6ff49 21.7%,#c6ff39 24.2%,#cfff30 27%,#cdff32 27.7%,#a0ff5f 33.3%,#63ff9c 39.2%,#31ffce 45.2%,#0dfff2 47.7%,#05fffa 48.7%,#00ffff 50.5%,#00e6ff 54.7%,#00dbff 55.4%,#00d0ff 55.7%,#008dff 57.1%,#007cff 57.8%,#0066ff 61.7%,#0062ff 63.4%,#0062ff 70.4%,#0073ff 82.7%)"></i>
<i style="background:linear-gradient(90deg,#007cff 0%,#0086ff 0.4%,#00cbff 2.1%,#00feff 3.5%,#0ffff0 4.2%,#33ffcc 6.3%,#51ffae 8.8%,#88ff77 15.4%,#b6ff49 21.7%,#c6ff39 24.2%,#cfff30 27%,#cdff32 27.7%,#a0ff5f 33.3%,#63ff9c 39.2%,#31ffce 45.2%,#0dfff2 47.7%,#05fffa 48.7%,#00ffff 50.5%,#00e6ff 54.7%,#00dbff 55.4%,#00d0ff 55.7%,#008dff 57.1%,#007cff 57.8%,#0066ff 61.7%,#0062ff 63.4%,#0062ff 70.4%,#0073ff 82%)"></i>
<i style="background:linear-gradient(90deg,#007cff 0%,#0085ff 0.4%,#00f0ff 3.2%,#00fcff 3.5%,#06fff9 3.9%,#30ffcf 6.3%,#4fffb0 8.8%,#86ff79 15.4%,#b4ff4b 21.7%,#c2ff3d 23.8%,#ceff31 27%,#a1ff5e 32.9%,#64ff9b 38.9%,#34ffcb 44.5%,#08fff7 47.7%,#02fffd 48.4%,#00ffff 50.1%,#00e4ff 54%,#00d4ff 54.7%,#0090ff 56.1%,#007dff 56.8%,#0076ff 57.5%,#0066ff 60.6%,#0063ff 62.4%,#0063ff 68.7%,#0072ff 81.3%)"></i>
<i style="background:linear-gradient(90deg,#007cff 0%,#0085ff 0.4%,#00f0ff 3.2%,#00fcff 3.5%,#06fff9 3.9%,#30ffcf 6.3%,#4fffb0 8.8%,#86ff79 15.4%,#b4ff4b 21.7%,#c2ff3d 23.8%,#ceff31 27%,#a1ff5e 32.9%,#64ff9b 38.9%,#34ffcb 44.5%,#08fff7 47.7%,#02fffd 48.4%,#00ffff 50.1%,#00e4ff 54%,#00d4ff 54.7%,#0090ff 56.1%,#007dff 56.8%,#0076ff 57.5%,#0066ff 60.6%,#0063ff 62.4%,#0063ff 68.7%,#0072ff 80.6%)"></i>
<i style="background:linear-gradient(90deg,#007bff 0%,#0084ff 0.4%,#00eeff 3.2%,#00faff 3.5%,#05fffa 3.9%,#2effd1 6.3%,#4dffb2 8.8%,#85ff7a 15.4%,#b0ff4f 21.4%,#c6ff39 25.2%,#cdff32 27%,#a2ff5d 32.6%,#61ff9e 38.9%,#30ffcf 44.5%,#09fff6 47.3%,#02fffd 48%,#00ffff 49.8%,#00e7ff 52.9%,#00d8ff 53.6%,#00c9ff 54%,#0093ff 55%,#007fff 55.7%,#0077ff 56.4%,#0066ff 59.6%,#0063ff 61.3%,#0064ff 68.7%,#0071ff 79.9%)"></i>
<i style="background:linear-gradient(90deg,#007bff 0%,#0084ff 0.4%,#00eeff 3.2%,#00faff 3.5%,#05fffa 3.9%,#2effd1 6.3%,#4dffb2 8.8%,#85ff7a 15.4%,#b0ff4f 21.4%,#c6ff39 25.2%,#cdff32 27%,#a2ff5d 32.6%,#61ff9e 38.9%,#30ffcf 44.5%,#09fff6 47.3%,#02fffd 48%,#00ffff 49.8%,#00e7ff 52.9%,#00d8ff 53.6%,#00c9ff 54%,#0093ff 55%,#007fff 55.7%,#0077ff 56.4%,#0068ff 59.2%,#0063ff 61%,#0064ff 68.3%,#0071ff 79.2%)"></i>
<i style="background:linear-gradient(90deg,#007bff 0%,#008fff 0.7%,#00ecff 3.2%,#00f8ff 3.5%,#03fffc 3.9%,#40ffbf 7.7%,#4bffb4 8.8%,#83ff7c 15.4%,#abff54 21%,#c3ff3c 24.9%,#cbff34 27%,#a0ff5f 32.6%,#62ff9d 38.5%,#30ffcf 44.1%,#15ffea 46.3%,#05fffa 48%,#00ffff 49.4%,#00ebff 51.9%,#00dcff 52.6%,#00ceff 52.9%,#0096ff 54%,#0080ff 54.7%,#0078ff 55.4%,#0068ff 58.2%,#0063ff 59.9%,#0064ff 65.5%,#0071ff 78.5%)"></i>
<i style="background:linear-gradient(90deg,#007bff 0%,#008fff 0.7%,#00ecff 3.2%,#00f8ff 3.5%,#03fffc 3.9%,#40ffbf 7.7%,#4bffb4 8.8%,#83ff7c 15.4%,#abff54 21%,#c3ff3c 24.9%,#cbff34 27%,#a0ff5f 32.6%,#62ff9d 38.5%,#30ffcf 44.1%,#15ffea 46.3%,#05fffa 48%,#00ffff 49.4%,#00ebff 51.9%,#00dcff 52.6%,#00ceff 52.9%,#0096ff 54%,#0080ff 54.7%,#0078ff 55.4%,#0068ff 58.2%,#0063ff 59.9%,#0064ff 65.5%,#0070ff 77.8%)"></i>
<i style="background:linear-gradient(90deg,#007aff 0%,#008eff 0.7%,#00eaff 3.2%,#01fffe 3.9%,#3effc1 7.7%,#49ffb6 8.8%,#84ff7b 15.8%,#abff54 21.4%,#caff35 26.6%,#c7ff38 27.3%,#9dff62 32.6%,#5fffa0 38.5%,#0afff5 47.7%,#00ffff 49.1%,#00f0ff 50.8%,#00e6ff 51.5%,#00daff 51.9%,#009aff 52.9%,#008bff 53.3%,#0082ff 53.6%,#0079ff 54.3%,#006aff 56.8%,#0064ff 58.5%,#0064ff 62.4%,#0070ff 77.1%)"></i>
<i style="background:linear-gradient(90deg,#007aff 0%,#008eff 0.7%,#00eaff 3.2%,#01fffe 3.9%,#3effc1 7.7%,#49ffb6 8.8%,#84ff7b 15.8%,#abff54 21.4%,#caff35 26.6%,#c7ff38 27.3%,#9dff62 32.6%,#5fffa0 38.5%,#0afff5 47.7%,#00ffff 49.1%,#00f0ff 50.8%,#00e6ff 51.5%,#00daff 51.9%,#009aff 52.9%,#008bff 53.3%,#0082ff 53.6%,#0079ff 54.3%,#006aff 56.8%,#0064ff 58.5%,#0064ff 62.4%,#006fff 76.4%)"></i>
<i style="background:linear-gradient(90deg,#007aff 0%,#008cff 0.7%,#00e9ff 3.2%,#00feff 3.9%,#3cffc3 7.7%,#47ffb8 8.8%,#82ff7d 15.8%,#a9ff56 21.4%,#c7ff38 26.6%,#9eff61 32.2%,#59ffa6 38.5%,#01fffe 48.4%,#00f3ff 50.1%,#00e9ff 50.8%,#00ddff 51.2%,#00c8ff 51.5%,#0097ff 52.2%,#0086ff 52.6%,#007eff 52.9%,#006bff 55.7%,#0064ff 57.5%,#0064ff 60.3%,#006fff 75.7%)"></i>
<i style="background:linear-gradient(90deg,#007aff 0%,#008cff 0.7%,#00e9ff 3.2%,#00feff 3.9%,#3cffc3 7.7%,#47ffb8 8.8%,#82ff7d 15.8%,#a9ff56 21.4%,#c7ff38 26.6%,#9eff61 32.2%,#59ffa6 38.5%,#01fffe 48.4%,#00f3ff 50.1%,#00e9ff 50.8%,#00ddff 51.2%,#00c8ff 51.5%,#0097ff 52.2%,#0086ff 52.6%,#007eff 52.9%,#006dff 55.4%,#0065ff 57.1%,#0064ff 59.9%,#006fff 75%)"></i>
<i style="background:linear-gradient(90deg,#0079ff 0%,#008bff 0.7%,#00f3ff 3.5%,#00fcff 3.9%,#04fffb 4.2%,#3affc5 7.7%,#4bffb4 9.5%,#7fff80 15.8%,#a5ff5a 21%,#c4ff3b 26.3%,#b9ff46 28.4%,#9aff65 32.2%,#65ff9a 37.1%,#52ffad 38.5%,#00feff 48%,#00f3ff 49.4%,#00eaff 50.1%,#00deff 50.5%,#00cbff 50.8%,#0098ff 51.5%,#0087ff 51.9%,#007dff 52.2%,#006dff 54.3%,#0065ff 56.1%,#0064ff 58.2%,#006eff 73.9%)"></i>
<i style="background:linear-gradient(90deg,#0079ff 0%,#008bff 0.7%,#00f3ff 3.5%,#00fcff 3.9%,#04fffb 4.2%,#3affc5 7.7%,#4bffb4 9.5%,#7fff80 15.8%,#a5ff5a 21%,#c4ff3b 26.3%,#b9ff46 28.4%,#9aff65 32.2%,#65ff9a 37.1%,#52ffad 38.5%,#00feff 48%,#00f3ff 49.4%,#00eaff 50.1%,#00deff 50.5%,#00cbff 50.8%,#0098ff 51.5%,#0087ff 51.9%,#0078ff 52.6%,#006fff 54%,#0066ff 55.7%,#0064ff 57.8%,#006eff 73.2%)"></i>
<i style="background:linear-gradient(90deg,#0079ff 0%,#008aff 0.7%,#00f2ff 3.5%,#02fffd 4.2%,#39ffc6 7.7%,#4dffb2 9.8%,#78ff87 15.1%,#a0ff5f 20.7%,#c1ff3e 26.3%,#b6ff49 28.4%,#97ff68 32.2%,#61ff9e 37.1%,#4affb5 38.5%,#15ffea 44.5%,#00feff 47.3%,#00f3ff 48.7%,#00e6ff 49.4%,#00daff 49.8%,#00c8ff 50.1%,#009aff 50.8%,#0088ff 51.2%,#0078ff 51.9%,#006dff 53.3%,#0066ff 55%,#0065ff 57.8%,#006dff 72.5%)"></i>
<i style="background:linear-gradient(90deg,#0079ff 0%,#008aff 0.7%,#00f2ff 3.5%,#02fffd 4.2%,#39ffc6 7.7%,#4dffb2 9.8%,#78ff87 15.1%,#a0ff5f 20.7%,#c1ff3e 26.3%,#b6ff49 28.4%,#97ff68 32.2%,#61ff9e 37.1%,#4affb5 38.5%,#01fffe 47%,#00f3ff 48.7%,#00e6ff 49.4%,#00daff 49.8%,#00c8ff 50.1%,#009aff 50.8%,#0088ff 51.2%,#0078ff 51.9%,#006dff 53.3%,#0066ff 54.7%,#0065ff 56.4%,#006dff 71.8%)"></i>
<i style="background:linear-gradient(90deg,#0078ff 0%,#0089ff 0.7%,#00e5ff 3.2%,#00ffff 4.2%,#18ffe7 5.6%,#37ffc8 7.7%,#4bffb4 9.8%,#78ff87 15.4%,#a0ff5f 21%,#beff41 25.9%,#b5ff4a 28%,#97ff68 31.9%,#60ff9f 36.8%,#42ffbd 38.5%,#00ffff 46.3%,#00f5ff 47.7%,#00ebff 48.4%,#00e0ff 48.7%,#00cfff 49.1%,#0093ff 50.1%,#007eff 50.8%,#006aff 52.9%,#0065ff 54.3%,#0065ff 58.2%,#006cff 71.1%)"></i>
<i style="background:linear-gradient(90deg,#0078ff 0%,#0089ff 0.7%,#00e5ff 3.2%,#00ffff 4.2%,#18ffe7 5.6%,#37ffc8 7.7%,#4bffb4 9.8%,#78ff87 15.4%,#a0ff5f 21%,#beff41 25.9%,#b5ff4a 28%,#97ff68 31.9%,#60ff9f 36.8%,#42ffbd 38.5%,#00ffff 46.3%,#00f5ff 47.7%,#00ebff 48.4%,#00e0ff 48.7%,#00cfff 49.1%,#00a5ff 49.8%,#0086ff 50.5%,#0078ff 51.2%,#006cff 52.6%,#0066ff 54%,#0065ff 56.1%,#006cff 70.4%)"></i>
<i style="background:linear-gradient(90deg,#0078ff 0%,#0088ff 0.7%,#00eeff 3.5%,#00fdff 4.2%,#04fffb 4.6%,#17ffe8 5.6%,#35ffca 7.7%,#49ffb6 9.8%,#74ff8b 15.1%,#9bff64 20.7%,#bbff44 25.9%,#b4ff4b 27.7%,#94ff6b 31.9%,#5bffa4 36.8%,#3effc1 38.2%,#00feff 45.6%,#00f3ff 47%,#00e4ff 47.7%,#00d6ff 48%,#0099ff 49.1%,#008aff 49.4%,#0081ff 49.8%,#0069ff 52.2%,#0065ff 53.6%,#0065ff 57.8%,#006cff 69.7%)"></i>
<i style="background:linear-gradient(90deg,#0078ff 0%,#0088ff 0.7%,#00eeff 3.5%,#00fdff 4.2%,#04fffb 4.6%,#17ffe8 5.6%,#35ffca 7.7%,#49ffb6 9.8%,#74ff8b 15.1%,#9bff64 20.7%,#bbff44 25.9%,#b4ff4b 27.7%,#94ff6b 31.9%,#5bffa4 36.8%,#3effc1 38.2%,#00feff 45.6%,#00f3ff 47%,#00e4ff 47.7%,#00d6ff 48%,#0099ff 49.1%,#008aff 49.4%,#0081ff 49.8%,#0069ff 52.2%,#0065ff 53.6%,#0065ff 57.8%,#006bff 69%)"></i>
<i style="background:linear-gradient(90deg,#0078ff 0%,#007dff 0.4%,#0087ff 0.7%,#00e2ff 3.2%,#00f4ff 3.9%,#02fffd 4.6%,#16ffe9 5.6%,#2fffd0 7.4%,#47ffb8 9.8%,#71ff8e 15.1%,#99ff66 20.7%,#b7ff48 25.9%,#b1ff4e 27.7%,#91ff6e 31.9%,#5bffa4 36.4%,#3bffc4 37.8%,#37ffc8 38.2%,#01fffe 44.5%,#00f5ff 45.9%,#00e8ff 46.6%,#00dbff 47%,#009fff 48%,#008fff 48.4%,#0084ff 48.7%,#0079ff 49.4%,#0069ff 51.5%,#0065ff 56.1%,#006bff 68.3%)"></i>
<i style="background:linear-gradient(90deg,#0078ff 0%,#007dff 0.4%,#0087ff 0.7%,#00e2ff 3.2%,#00f4ff 3.9%,#02fffd 4.6%,#16ffe9 5.6%,#2fffd0 7.4%,#47ffb8 9.8%,#71ff8e 15.1%,#99ff66 20.7%,#b7ff48 25.9%,#b1ff4e 27.7%,#91ff6e 31.9%,#5bffa4 36.4%,#3bffc4 37.8%,#37ffc8 38.2%,#01fffe 44.5%,#00f5ff 45.9%,#00e8ff 46.6%,#00dbff 47%,#009fff 48%,#008fff 48.4%,#0084ff 48.7%,#0079ff 49.4%,#0069ff 51.5%,#0065ff 56.1%,#006bff 67.6%)"></i>
<i style="background:linear-gradient(90deg,#0077ff 0%,#007cff 0.4%,#0086ff 0.7%,#00e0ff 3.2%,#00f2ff 3.9%,#00ffff 4.6%,#15ffea 5.6%,#2dffd2 7.4%,#45ffba 9.8%,#97ff68 20.7%,#b4ff4b 25.6%,#b0ff4f 27.3%,#91ff6e 31.5%,#5bffa4 36.1%,#4effb1 36.8%,#33ffcc 37.8%,#00ffff 43.8%,#00f6ff 44.8%,#00ecff 45.6%,#00e1ff 45.9%,#00d1ff 46.3%,#0094ff 47.3%,#0087ff 47.7%,#007bff 48.4%,#006bff 50.5%,#0066ff 51.9%,#0066ff 55.7%,#006cff 66.9%)"></i>
<i style="background:linear-gradient(90deg,#0077ff 0%,#007cff 0.4%,#0086ff 0.7%,#00e0ff 3.2%,#00f2ff 3.9%,#00ffff 4.6%,#15ffea 5.6%,#2dffd2 7.4%,#45ffba 9.8%,#97ff68 20.7%,#b4ff4b 25.6%,#b0ff4f 27.3%,#91ff6e 31.5%,#5bffa4 36.1%,#4effb1 36.8%,#33ffcc 37.8%,#00ffff 43.8%,#00f6ff 44.8%,#00ecff 45.6%,#00e1ff 45.9%,#00d1ff 46.3%,#0094ff 47.3%,#0087ff 47.7%,#007bff 48.4%,#006bff 50.5%,#0066ff 51.9%,#0066ff 55.7%,#006cff 66.2%)"></i>
<i style="background:linear-gradient(90deg,#0077ff 0%,#007bff 0.4%,#0085ff 0.7%,#00dfff 3.2%,#00fdff 4.6%,#14ffeb 5.6%,#2bffd4 7.4%,#44ffbb 9.8%,#95ff6a 20.7%,#b1ff4e 25.6%,#aeff51 27.3%,#8eff71 31.5%,#56ffa9 36.1%,#31ffce 37.5%,#2bffd4 37.8%,#00ffff 43.1%,#00f4ff 44.1%,#00e7ff 44.8%,#00d9ff 45.2%,#009bff 46.3%,#008cff 46.6%,#0082ff 47%,#0079ff 47.7%,#006eff 49.1%,#0067ff 50.5%,#0066ff 52.9%,#006cff 65.5%)"></i>
<i style="background:linear-gradient(90deg,#0077ff 0%,#007bff 0.4%,#0085ff 0.7%,#00dfff 3.2%,#00fdff 4.6%,#14ffeb 5.6%,#2bffd4 7.4%,#44ffbb 9.8%,#95ff6a 20.7%,#b1ff4e 25.6%,#aeff51 27.3%,#8eff71 31.5%,#56ffa9 36.1%,#31ffce 37.5%,#2bffd4 37.8%,#00ffff 43.1%,#00f4ff 44.1%,#00e7ff 44.8%,#00d9ff 45.2%,#009bff 46.3%,#008cff 46.6%,#0082ff 47%,#0079ff 47.7%,#006eff 49.1%,#0067ff 50.5%,#0066ff 52.9%,#006cff 64.5%)"></i>
<i style="background:linear-gradient(90deg,#0072ff 0%,#0084ff 0.7%,#00ddff 3.2%,#00fcff 4.6%,#05fffa 4.9%,#12ffed 5.6%,#2affd5 7.4%,#42ffbd 9.8%,#93ff6c 20.7%,#aeff51 25.2%,#adff52 27%,#8aff75 31.5%,#56ffa9 35.7%,#47ffb8 36.4%,#28ffd7 37.5%,#23ffdc 37.8%,#00ffff 42.4%,#00f3ff 43.4%,#00e1ff 44.1%,#00cfff 44.5%,#00a4ff 45.2%,#0092ff 45.6%,#0086ff 45.9%,#007aff 46.6%,#006eff 48%,#0068ff 49.4%,#0066ff 52.6%,#006dff 63.8%)"></i>
<i style="background:linear-gradient(90deg,#0072ff 0%,#0084ff 0.7%,#00ddff 3.2%,#00fcff 4.6%,#05fffa 4.9%,#12ffed 5.6%,#2affd5 7.4%,#42ffbd 9.8%,#93ff6c 20.7%,#aeff51 25.2%,#adff52 27%,#8aff75 31.5%,#56ffa9 35.7%,#47ffb8 36.4%,#28ffd7 37.5%,#23ffdc 37.8%,#00ffff 42.4%,#00f3ff 43.4%,#00e1ff 44.1%,#00cfff 44.5%,#00a4ff 45.2%,#0092ff 45.6%,#0086ff 45.9%,#007aff 46.6%,#006eff 48%,#0068ff 49.4%,#0066ff 52.6%,#006dff 63.1%)"></i>
<i style="background:linear-gradient(90deg,#006aff 0%,#00dbff 3.2%,#00fbff 4.6%,#04fffb 4.9%,#11ffee 5.6%,#2cffd3 7.7%,#40ffbf 9.8%,#63ff9c 14.4%,#a9ff56 24.5%,#acff53 26.6%,#87ff78 31.5%,#51ffae 35.7%,#20ffdf 37.5%,#00feff 41.7%,#00f3ff 42.7%,#00ecff 43.1%,#00deff 43.4%,#009bff 44.5%,#008cff 44.8%,#0082ff 45.2%,#0078ff 45.9%,#006dff 47.3%,#0068ff 48.7%,#0066ff 52.6%,#006dff 62.4%)"></i>
<i style="background:linear-gradient(90deg,#006aff 0%,#00dbff 3.2%,#00fbff 4.6%,#04fffb 4.9%,#11ffee 5.6%,#2cffd3 7.7%,#40ffbf 9.8%,#63ff9c 14.4%,#a9ff56 24.5%,#acff53 26.6%,#87ff78 31.5%,#51ffae 35.7%,#20ffdf 37.5%,#00feff 41.7%,#00f3ff 42.7%,#00ecff 43.1%,#00deff 43.4%,#009bff 44.5%,#008cff 44.8%,#0082ff 45.2%,#006fff 47%,#0068ff 48.4%,#0066ff 52.2%,#006dff 61.7%)"></i>
<i style="background:linear-gradient(90deg,#0068ff 0%,#00cfff 2.8%,#00e3ff 3.5%,#03fffc 4.9%,#10ffef 5.6%,#26ffd9 7.4%,#41ffbe 10.2%,#91ff6e 21%,#a7ff58 24.5%,#aaff55 26.3%,#a5ff5a 27.3%,#87ff78 31.2%,#51ffae 35.4%,#40ffbf 36.1%,#1effe1 37.1%,#18ffe7 37.5%,#01fffe 40.6%,#00f7ff 41.7%,#00ecff 42.4%,#00deff 42.7%,#0096ff 43.8%,#0087ff 44.1%,#007aff 44.8%,#006eff 46.3%,#0068ff 47.7%,#0066ff 51.5%,#006dff 61%)"></i>
<i style="background:linear-gradient(90deg,#0068ff 0%,#00cfff 2.8%,#00e3ff 3.5%,#03fffc 4.9%,#10ffef 5.6%,#26ffd9 7.4%,#41ffbe 10.2%,#91ff6e 21%,#a7ff58 24.5%,#aaff55 26.3%,#a5ff5a 27.3%,#87ff78 31.2%,#51ffae 35.4%,#40ffbf 36.1%,#1effe1 37.1%,#18ffe7 37.5%,#01fffe 40.6%,#00f7ff 41.7%,#00ecff 42.4%,#00deff 42.7%,#0096ff 43.8%,#0087ff 44.1%,#007aff 44.8%,#006eff 46.3%,#0068ff 47.7%,#0066ff 51.5%,#006eff 60.3%)"></i>
<i style="background:linear-gradient(90deg,#0068ff 0%,#0072ff 0.4%,#00cdff 2.8%,#00e1ff 3.5%,#01fffe 4.9%,#0ffff0 5.6%,#24ffdb 7.4%,#3fffc0 10.2%,#8eff71 21%,#a5ff5a 24.5%,#a8ff57 26.3%,#84ff7b 31.2%,#4bffb4 35.4%,#15ffea 37.1%,#01fffe 39.6%,#00f7ff 41%,#00ecff 41.7%,#00dfff 42%,#0097ff 43.1%,#0087ff 43.4%,#0078ff 44.1%,#006fff 45.2%,#0069ff 46.6%,#0066ff 50.8%,#006eff 59.6%)"></i>
<i style="background:linear-gradient(90deg,#0068ff 0%,#0072ff 0.4%,#00cdff 2.8%,#00e1ff 3.5%,#01fffe 4.9%,#0ffff0 5.6%,#24ffdb 7.4%,#3fffc0 10.2%,#8eff71 21%,#a5ff5a 24.5%,#a8ff57 26.3%,#84ff7b 31.2%,#4bffb4 35.4%,#15ffea 37.1%,#01fffe 39.6%,#00f7ff 41%,#00ecff 41.7%,#00dfff 42%,#0097ff 43.1%,#0087ff 43.4%,#0078ff 44.1%,#006fff 45.2%,#0069ff 46.6%,#0066ff 50.8%,#006eff 58.9%)"></i>
<i style="background:linear-gradient(90deg,#0068ff 0%,#0071ff 0.4%,#00cbff 2.8%,#00ffff 4.9%,#0dfff2 5.6%,#1effe1 7%,#3bffc4 9.8%,#8cff73 21%,#a1ff5e 24.2%,#a6ff59 25.9%,#9fff60 27.3%,#80ff7f 31.2%,#4cffb3 35%,#0dfff2 37.1%,#01fffe 38.5%,#00f4ff 40.3%,#00ebff 41%,#00dfff 41.3%,#00caff 41.7%,#0098ff 42.4%,#0088ff 42.7%,#0078ff 43.4%,#006dff 44.5%,#006aff 45.6%,#0067ff 50.1%,#006eff 58.2%)"></i>
<i style="background:linear-gradient(90deg,#0068ff 0%,#0071ff 0.4%,#00cbff 2.8%,#00ffff 4.9%,#0dfff2 5.6%,#1effe1 7%,#3bffc4 9.8%,#8cff73 21%,#a1ff5e 24.2%,#a6ff59 25.9%,#9fff60 27.3%,#80ff7f 31.2%,#4cffb3 35%,#0dfff2 37.1%,#01fffe 38.5%,#00f4ff 40.3%,#00ebff 41%,#00dfff 41.3%,#00caff 41.7%,#0098ff 42.4%,#0088ff 42.7%,#0078ff 43.4%,#006dff 44.5%,#006aff 45.6%,#0067ff 50.1%,#006eff 57.5%)"></i>
<i style="background:linear-gradient(90deg,#0067ff 0%,#0070ff 0.4%,#00caff 2.8%,#00feff 4.9%,#1dffe2 7%,#39ffc6 9.8%,#8aff75 21%,#9fff60 24.2%,#a4ff5b 25.9%,#85ff7a 30.5%,#52ffad 34.3%,#46ffb9 35%,#0cfff3 36.8%,#01fffe 37.5%,#00f1ff 39.6%,#00e5ff 40.3%,#00d9ff 40.6%,#00c7ff 41%,#009aff 41.7%,#0088ff 42%,#0078ff 42.7%,#006dff 43.8%,#0068ff 49.1%,#006fff 56.8%)"></i>
<i style="background:linear-gradient(90deg,#0067ff 0%,#0070ff 0.4%,#00caff 2.8%,#00feff 4.9%,#1dffe2 7%,#39ffc6 9.8%,#8aff75 21%,#9fff60 24.2%,#a4ff5b 25.9%,#85ff7a 30.5%,#52ffad 34.3%,#46ffb9 35%,#0cfff3 36.8%,#01fffe 37.5%,#00f1ff 39.6%,#00e5ff 40.3%,#00d9ff 40.6%,#00c7ff 41%,#009aff 41.7%,#0088ff 42%,#0078ff 42.7%,#006dff 43.8%,#0068ff 49.1%,#006fff 56.1%)"></i>
<i style="background:linear-gradient(90deg,#0067ff 0%,#0070ff 0.4%,#00c8ff 2.8%,#00fdff 4.9%,#05fffa 5.3%,#1fffe0 7.4%,#37ffc8 9.8%,#9bff64 23.8%,#a2ff5d 25.9%,#85ff7a 30.1%,#53ffac 34%,#3effc1 35%,#0dfff2 36.4%,#03fffc 36.8%,#00fcff 37.1%,#00f2ff 38.5%,#00e6ff 39.2%,#00ccff 39.9%,#0095ff 41%,#0087ff 41.3%,#0078ff 42%,#006fff 42.7%,#006aff 43.8%,#0068ff 47.7%,#006fff 55%)"></i>
<i style="background:linear-gradient(90deg,#0067ff 0%,#0070ff 0.4%,#00c8ff 2.8%,#00fdff 4.9%,#05fffa 5.3%,#1fffe0 7.4%,#37ffc8 9.8%,#9bff64 23.8%,#a2ff5d 25.9%,#85ff7a 30.1%,#53ffac 34%,#3effc1 35%,#0dfff2 36.4%,#03fffc 36.8%,#00fcff 37.1%,#00f2ff 38.5%,#00e6ff 39.2%,#00ccff 39.9%,#0095ff 41%,#0087ff 41.3%,#0078ff 42%,#006fff 42.7%,#006aff 43.8%,#0068ff 47.7%,#006fff 54.3%)"></i>
<i style="background:linear-gradient(90deg,#0066ff 0%,#006fff 0.4%,#00c6ff 2.8%,#00fcff 4.9%,#04fffb 5.3%,#35ffca 9.8%,#86ff79 21%,#a1ff5e 25.6%,#82ff7d 30.1%,#53ffac 33.6%,#40ffbf 34.7%,#04fffb 36.4%,#00f9ff 36.8%,#00e7ff 38.2%,#00ceff 38.9%,#0099ff 39.9%,#008cff 40.3%,#007cff 41%,#006fff 42%,#006bff 43.1%,#0069ff 46.3%,#0070ff 53.6%)"></i>
<i style="background:linear-gradient(90deg,#0066ff 0%,#006fff 0.4%,#00c6ff 2.8%,#00fcff 4.9%,#04fffb 5.3%,#35ffca 9.8%,#86ff79 21%,#a1ff5e 25.6%,#82ff7d 30.1%,#53ffac 33.6%,#40ffbf 34.7%,#04fffb 36.4%,#00f9ff 36.8%,#00e7ff 38.2%,#00ceff 38.9%,#0099ff 39.9%,#008cff 40.3%,#007cff 41%,#006fff 42%,#006bff 43.1%,#0069ff 46.3%,#0070ff 52.9%)"></i>
<i style="background:linear-gradient(90deg,#0066ff 0%,#006eff 0.4%,#00aeff 2.1%,#00c4ff 2.8%,#00faff 4.9%,#02fffd 5.3%,#33ffcc 9.8%,#94ff6b 23.5%,#9fff60 25.6%,#82ff7d 29.8%,#4effb1 33.6%,#42ffbd 34.3%,#05fffa 36.1%,#00f8ff 36.4%,#00cdff 37.8%,#008eff 39.2%,#007dff 39.9%,#0071ff 41%,#006cff 42%,#006aff 44.8%,#0070ff 52.2%)"></i>
<i style="background:linear-gradient(90deg,#0066ff 0%,#006eff 0.4%,#00aeff 2.1%,#00c4ff 2.8%,#00faff 4.9%,#02fffd 5.3%,#33ffcc 9.8%,#94ff6b 23.5%,#9fff60 25.6%,#82ff7d 29.8%,#4effb1 33.6%,#42ffbd 34.3%,#05fffa 36.1%,#00f8ff 36.4%,#00cdff 37.8%,#008eff 39.2%,#007dff 39.9%,#0071ff 41%,#006cff 42%,#006aff 44.8%,#0070ff 51.5%)"></i>
<i style="background:linear-gradient(90deg,#0066ff 0%,#0079ff 0.7%,#00b8ff 2.5%,#00f1ff 4.6%,#01fffe 5.3%,#32ffcd 9.8%,#9dff62 25.2%,#9bff64 25.9%,#7fff80 29.8%,#4dffb2 33.3%,#41ffbe 34%,#36ffc9 34.3%,#0afff5 35.4%,#00feff 35.7%,#00f1ff 36.1%,#00b6ff 37.1%,#0099ff 37.8%,#007eff 38.9%,#0072ff 39.9%,#006cff 41%,#006aff 43.8%,#0070ff 50.8%)"></i>
<i style="background:linear-gradient(90deg,#0066ff 0%,#0079ff 0.7%,#00b8ff 2.5%,#00f1ff 4.6%,#01fffe 5.3%,#32ffcd 9.8%,#9dff62 25.2%,#9bff64 25.9%,#7fff80 29.8%,#4dffb2 33.3%,#41ffbe 34%,#36ffc9 34.3%,#0afff5 35.4%,#00feff 35.7%,#00f1ff 36.1%,#00b6ff 37.1%,#0099ff 37.8%,#0085ff 38.5%,#0075ff 39.6%,#006cff 41%,#006bff 43.1%,#0070ff 50.1%)"></i>
<i style="background:linear-gradient(90deg,#0066ff 0%,#006dff 0.4%,#00acff 2.1%,#00c1ff 2.8%,#00f7ff 4.9%,#00feff 5.3%,#04fffb 5.6%,#2fffd0 9.8%,#98ff67 24.9%,#93ff6c 25.9%,#7aff85 29.1%,#66ff99 30.5%,#4fffb0 31.9%,#2fffd0 33.3%,#19ffe6 34%,#07fff8 34.3%,#00f2ff 34.7%,#00e0ff 35%,#00c0ff 36.1%,#0097ff 36.8%,#008aff 37.1%,#007dff 37.8%,#0072ff 38.9%,#006dff 39.9%,#006bff 42.7%,#0071ff 49.4%)"></i>
<i style="background:linear-gradient(90deg,#0066ff 0%,#006dff 0.4%,#00acff 2.1%,#00c1ff 2.8%,#00f7ff 4.9%,#00feff 5.3%,#04fffb 5.6%,#2fffd0 9.8%,#98ff67 24.9%,#93ff6c 25.9%,#7aff85 29.1%,#66ff99 30.5%,#4fffb0 31.9%,#2fffd0 33.3%,#19ffe6 34%,#07fff8 34.3%,#00f2ff 34.7%,#00e0ff 35%,#00c0ff 36.1%,#0097ff 36.8%,#008aff 37.1%,#007dff 37.8%,#0072ff 38.9%,#006dff 39.9%,#006bff 42.7%,#0071ff 48.7%)"></i>
<i style="background:linear-gradient(90deg,#0066ff 0%,#006eff 0.4%,#00a1ff 1.8%,#00b6ff 2.5%,#00f4ff 4.9%,#00ffff 5.6%,#2cffd3 9.8%,#8fff70 24.5%,#77ff88 27.3%,#62ff9d 29.1%,#26ffd9 31.9%,#00ffff 32.9%,#00e3ff 33.6%,#00b2ff 34.7%,#0099ff 35.4%,#0081ff 36.4%,#0078ff 37.1%,#006eff 38.5%,#006cff 39.9%,#0071ff 48%)"></i>
<i style="background:linear-gradient(90deg,#0066ff 0%,#006eff 0.4%,#00a1ff 1.8%,#00b6ff 2.5%,#00f4ff 4.9%,#00ffff 5.6%,#2cffd3 9.8%,#8fff70 24.5%,#77ff88 27.3%,#62ff9d 29.1%,#26ffd9 31.9%,#00ffff 32.9%,#00e3ff 33.6%,#00b2ff 34.7%,#0099ff 35.4%,#0081ff 36.4%,#0078ff 37.1%,#006eff 38.5%,#006cff 39.9%,#0071ff 47.3%)"></i>
<i style="background:linear-gradient(90deg,#0067ff 0%,#006fff 0.4%,#00a1ff 1.8%,#00c7ff 3.2%,#00f1ff 4.9%,#00ffff 6%,#27ffd8 9.5%,#87ff78 24.2%,#86ff79 24.5%,#77ff88 25.6%,#64ff9b 27.3%,#4cffb3 28.7%,#46ffb9 29.1%,#02fffd 31.5%,#00f5ff 31.9%,#00a9ff 33.6%,#0091ff 34.3%,#0082ff 35%,#0076ff 36.1%,#006eff 37.5%,#006cff 39.9%,#0072ff 46.3%)"></i>
<i style="background:linear-gradient(90deg,#0067ff 0%,#006fff 0.4%,#00a1ff 1.8%,#00c7ff 3.2%,#00f1ff 4.9%,#00ffff 6%,#27ffd8 9.5%,#87ff78 24.2%,#86ff79 24.5%,#77ff88 25.6%,#64ff9b 27.3%,#4cffb3 28.7%,#46ffb9 29.1%,#02fffd 31.5%,#00f5ff 31.9%,#00a9ff 33.6%,#0091ff 34.3%,#0082ff 35%,#0076ff 36.1%,#006eff 37.5%,#006cff 39.9%,#0072ff 45.6%)"></i>
<i style="background:linear-gradient(90deg,#0067ff 0%,#0070ff 0.4%,#00a2ff 1.8%,#00c5ff 3.2%,#00eeff 4.9%,#01fffe 6.3%,#24ffdb 9.5%,#70ff8f 21.4%,#7eff81 24.2%,#6bff94 25.2%,#4fffb0 27.3%,#32ffcd 28.7%,#04fffb 30.1%,#00f9ff 30.5%,#00e0ff 31.2%,#00b0ff 32.2%,#0095ff 32.9%,#0085ff 33.6%,#0077ff 34.7%,#006fff 36.1%,#006eff 37.8%,#0072ff 44.8%)"></i>
<i style="background:linear-gradient(90deg,#0067ff 0%,#0070ff 0.4%,#00a2ff 1.8%,#00c5ff 3.2%,#00eeff 4.9%,#01fffe 6.3%,#24ffdb 9.5%,#70ff8f 21.4%,#7eff81 24.2%,#6bff94 25.2%,#4fffb0 27.3%,#32ffcd 28.7%,#04fffb 30.1%,#00f9ff 30.5%,#00e0ff 31.2%,#00b0ff 32.2%,#0095ff 32.9%,#0085ff 33.6%,#0077ff 34.7%,#006fff 36.1%,#006eff 37.8%,#0072ff 44.1%)"></i>
<i style="background:linear-gradient(90deg,#0068ff 0%,#00a1ff 1.8%,#00e3ff 4.6%,#00f0ff 5.3%,#02fffd 6.7%,#21ffde 9.5%,#76ff89 23.8%,#73ff8c 24.2%,#5affa5 25.2%,#3affc5 27.3%,#16ffe9 28.7%,#09fff6 29.1%,#00f9ff 29.4%,#00acff 31.2%,#0092ff 31.9%,#0082ff 32.6%,#0079ff 33.3%,#0071ff 34.3%,#006fff 35.7%,#0072ff 43.4%)"></i>
<i style="background:linear-gradient(90deg,#0068ff 0%,#00a1ff 1.8%,#00e3ff 4.6%,#00f0ff 5.3%,#02fffd 6.7%,#21ffde 9.5%,#76ff89 23.8%,#73ff8c 24.2%,#5affa5 25.2%,#3affc5 27.3%,#16ffe9 28.7%,#09fff6 29.1%,#00f9ff 29.4%,#00acff 31.2%,#0092ff 31.9%,#0082ff 32.6%,#0079ff 33.3%,#0071ff 34.3%,#006fff 35.7%,#0073ff 42.7%)"></i>
<i style="background:linear-gradient(90deg,#0068ff 0%,#0097ff 1.4%,#00e0ff 4.6%,#00feff 6.7%,#04fffb 7%,#19ffe6 8.8%,#22ffdd 10.2%,#6eff91 23.5%,#66ff99 24.2%,#4affb5 25.2%,#2cffd3 27%,#04fffb 28.4%,#00f5ff 28.7%,#00bbff 29.8%,#009bff 30.5%,#0087ff 31.2%,#0078ff 32.2%,#0071ff 33.3%,#006fff 35.4%,#0073ff 42%)"></i>
<i style="background:linear-gradient(90deg,#0068ff 0%,#0097ff 1.4%,#00e0ff 4.6%,#00feff 6.7%,#04fffb 7%,#19ffe6 8.8%,#22ffdd 10.2%,#6eff91 23.5%,#66ff99 24.2%,#4affb5 25.2%,#2cffd3 27%,#04fffb 28.4%,#00f5ff 28.7%,#00bbff 29.8%,#009bff 30.5%,#0087ff 31.2%,#0078ff 32.2%,#0071ff 33.3%,#006fff 35.4%,#0073ff 41.3%)"></i>
<i style="background:linear-gradient(90deg,#0069ff 0%,#0097ff 1.4%,#00ddff 4.6%,#01fffe 7%,#13ffec 8.4%,#1fffe0 10.2%,#65ff9a 23.1%,#5fffa0 23.8%,#41ffbe 24.9%,#1fffe0 26.6%,#01fffe 27.7%,#00e2ff 28.4%,#009eff 29.4%,#008fff 29.8%,#0085ff 30.1%,#007bff 30.8%,#0072ff 31.9%,#0070ff 32.9%,#0073ff 40.6%)"></i>
<i style="background:linear-gradient(90deg,#0069ff 0%,#0097ff 1.4%,#00ddff 4.6%,#01fffe 7%,#13ffec 8.4%,#1fffe0 10.2%,#65ff9a 23.1%,#5fffa0 23.8%,#41ffbe 24.9%,#1fffe0 26.6%,#01fffe 27.7%,#00e2ff 28.4%,#009eff 29.4%,#008fff 29.8%,#0085ff 30.1%,#007bff 30.8%,#0072ff 31.9%,#0070ff 32.9%,#0073ff 39.9%)"></i>
<i style="background:linear-gradient(90deg,#0072ff 0%,#0078ff 0.4%,#0096ff 1.4%,#00daff 4.6%,#02fffd 7.4%,#13ffec 8.8%,#24ffdb 11.6%,#43ffbc 18.2%,#5dffa2 22.8%,#58ffa7 23.5%,#51ffae 23.8%,#30ffcf 24.9%,#1bffe4 25.9%,#00ffff 27%,#00e1ff 27.7%,#009dff 28.7%,#008cff 29.1%,#0081ff 29.4%,#0077ff 30.1%,#0072ff 31.2%,#0070ff 33.3%,#0074ff 39.2%)"></i>
<i style="background:linear-gradient(90deg,#0072ff 0%,#0078ff 0.4%,#0096ff 1.4%,#00daff 4.6%,#02fffd 7.4%,#13ffec 8.8%,#24ffdb 11.6%,#43ffbc 18.2%,#5dffa2 22.8%,#58ffa7 23.5%,#51ffae 23.8%,#30ffcf 24.9%,#1bffe4 25.9%,#00ffff 27%,#00e1ff 27.7%,#009dff 28.7%,#008cff 29.1%,#0081ff 29.4%,#0077ff 30.1%,#0072ff 31.2%,#0070ff 33.3%,#0074ff 38.5%)"></i>
<i style="background:linear-gradient(90deg,#0077ff 0%,#007bff 0.4%,#0095ff 1.4%,#00d6ff 4.6%,#00feff 7.4%,#11ffee 8.8%,#21ffde 11.6%,#3dffc2 18.2%,#54ffab 22.4%,#54ffab 22.8%,#4bffb4 23.5%,#1fffe0 24.9%,#08fff7 25.9%,#00fdff 26.3%,#00f1ff 26.6%,#00e2ff 27%,#009eff 28%,#008cff 28.4%,#0079ff 29.1%,#0073ff 29.8%,#0071ff 30.8%,#0074ff 37.8%)"></i>
<i style="background:linear-gradient(90deg,#0077ff 0%,#007bff 0.4%,#0095ff 1.4%,#00d6ff 4.6%,#00feff 7.4%,#11ffee 8.8%,#21ffde 11.6%,#3dffc2 18.2%,#54ffab 22.4%,#54ffab 22.8%,#4bffb4 23.5%,#1fffe0 24.9%,#08fff7 25.9%,#00fdff 26.3%,#00f1ff 26.6%,#00e2ff 27%,#009eff 28%,#008cff 28.4%,#0079ff 29.1%,#0073ff 29.8%,#0071ff 30.8%,#0074ff 36.8%)"></i>
<i style="background:linear-gradient(90deg,#0077ff 0%,#00d3ff 4.6%,#02fffd 7.7%,#0efff1 8.8%,#23ffdc 12.6%,#38ffc7 18.2%,#46ffb9 20.7%,#4cffb3 22.4%,#49ffb6 22.8%,#3cffc3 23.5%,#18ffe7 24.5%,#06fff9 25.2%,#00fcff 25.6%,#00e2ff 26.3%,#00ceff 26.6%,#009eff 27.3%,#008bff 27.7%,#007fff 28%,#0078ff 28.4%,#0073ff 29.1%,#0072ff 30.1%,#0075ff 36.1%)"></i>
<i style="background:linear-gradient(90deg,#0077ff 0%,#00d3ff 4.6%,#02fffd 7.7%,#0efff1 8.8%,#23ffdc 12.6%,#38ffc7 18.2%,#46ffb9 20.7%,#4cffb3 22.4%,#49ffb6 22.8%,#3cffc3 23.5%,#18ffe7 24.5%,#06fff9 25.2%,#00fcff 25.6%,#00e2ff 26.3%,#00ceff 26.6%,#009eff 27.3%,#008bff 27.7%,#007fff 28%,#0078ff 28.4%,#0073ff 29.1%,#0072ff 30.1%,#0075ff 35.4%)"></i>
<i style="background:linear-gradient(90deg,#0078ff 0%,#00cfff 4.6%,#00ffff 7.7%,#0bfff4 8.8%,#1fffe0 12.6%,#32ffcd 18.2%,#44ffbb 22.1%,#36ffc9 23.1%,#2dffd2 23.5%,#07fff8 24.5%,#00fcff 24.9%,#00e5ff 25.6%,#00d2ff 25.9%,#00a0ff 26.6%,#008cff 27%,#007fff 27.3%,#0078ff 27.7%,#0073ff 29.1%,#0075ff 34.7%)"></i>
<i style="background:linear-gradient(90deg,#0078ff 0%,#00cfff 4.6%,#00ffff 7.7%,#0bfff4 8.8%,#1fffe0 12.6%,#32ffcd 18.2%,#44ffbb 22.1%,#36ffc9 23.1%,#2dffd2 23.5%,#07fff8 24.5%,#00fcff 24.9%,#00e5ff 25.6%,#00d2ff 25.9%,#00a0ff 26.6%,#008cff 27%,#007fff 27.3%,#0078ff 27.7%,#0073ff 29.1%,#0075ff 34%)"></i>
<i style="background:linear-gradient(90deg,#0078ff 0%,#00ccff 4.6%,#02fffd 8.1%,#1cffe3 12.6%,#2cffd3 18.2%,#3cffc3 21.7%,#35ffca 22.4%,#27ffd8 23.1%,#01fffe 24.2%,#00e7ff 24.9%,#00d6ff 25.2%,#008fff 26.3%,#0080ff 26.6%,#0078ff 27%,#0073ff 28%,#0078ff 31.2%,#0076ff 33.3%)"></i>
<i style="background:linear-gradient(90deg,#0078ff 0%,#00ccff 4.6%,#02fffd 8.1%,#1cffe3 12.6%,#2cffd3 18.2%,#3cffc3 21.7%,#35ffca 22.4%,#27ffd8 23.1%,#01fffe 24.2%,#00e7ff 24.9%,#00d6ff 25.2%,#008fff 26.3%,#0080ff 26.6%,#0078ff 27%,#0073ff 28%,#0077ff 32.6%)"></i>
<i style="background:linear-gradient(90deg,#0078ff 0%,#00ceff 4.9%,#00faff 7.7%,#03fffc 8.4%,#18ffe7 12.6%,#25ffda 17.9%,#34ffcb 21.4%,#28ffd7 22.4%,#18ffe7 23.1%,#0bfff4 23.5%,#00fbff 23.8%,#00dbff 24.5%,#00c7ff 24.9%,#0093ff 25.6%,#0081ff 25.9%,#0078ff 26.3%,#0074ff 27.3%,#007aff 29.8%,#0078ff 31.9%)"></i>
<i style="background:linear-gradient(90deg,#0078ff 0%,#00ceff 4.9%,#00faff 7.7%,#03fffc 8.4%,#18ffe7 12.6%,#25ffda 17.9%,#34ffcb 21.4%,#28ffd7 22.4%,#18ffe7 23.1%,#0bfff4 23.5%,#00fbff 23.8%,#00dbff 24.5%,#00c7ff 24.9%,#0093ff 25.6%,#0081ff 25.9%,#0078ff 26.3%,#0074ff 27.3%,#0079ff 31.2%)"></i>
<i style="background:linear-gradient(90deg,#0078ff 0%,#00f7ff 7.7%,#02fffd 8.8%,#14ffeb 12.6%,#20ffdf 17.9%,#2bffd4 21%,#2bffd4 21.4%,#21ffde 22.1%,#12ffed 22.8%,#06fff9 23.1%,#00f5ff 23.5%,#00e2ff 23.8%,#00ccff 24.2%,#0097ff 24.9%,#0083ff 25.2%,#0079ff 25.6%,#0075ff 26.3%,#007cff 28.7%,#007bff 30.5%)"></i>
<i style="background:linear-gradient(90deg,#0078ff 0%,#00f7ff 7.7%,#02fffd 8.8%,#14ffeb 12.6%,#20ffdf 17.9%,#2bffd4 21%,#2bffd4 21.4%,#21ffde 22.1%,#12ffed 22.8%,#06fff9 23.1%,#00f5ff 23.5%,#00e2ff 23.8%,#00ccff 24.2%,#0097ff 24.9%,#0083ff 25.2%,#0079ff 25.6%,#0075ff 26.3%,#007cff 28.4%,#007cff 29.8%)"></i>
<i style="background:linear-gradient(90deg,#0078ff 0%,#00f4ff 7.7%,#00fbff 8.4%,#01fffe 9.5%,#0ffff0 12.6%,#21ffde 20.7%,#1effe1 21.4%,#08fff7 22.4%,#00faff 22.8%,#00e7ff 23.1%,#00d1ff 23.5%,#009bff 24.2%,#0085ff 24.5%,#007aff 24.9%,#0077ff 25.6%,#007eff 27.3%,#007dff 29.1%)"></i>
<i style="background:linear-gradient(90deg,#0078ff 0%,#00f4ff 7.7%,#00fbff 8.4%,#01fffe 9.5%,#0ffff0 12.6%,#21ffde 20.7%,#1effe1 21.4%,#08fff7 22.4%,#00faff 22.8%,#00e7ff 23.1%,#00d1ff 23.5%,#009bff 24.2%,#0085ff 24.5%,#007aff 24.9%,#0077ff 25.6%,#007dff 27%,#007eff 28.4%)"></i>
<i style="background:linear-gradient(90deg,#0078ff 0%,#00edff 7.7%,#01fffe 10.9%,#0efff1 16.1%,#0efff1 20.7%,#0cfff3 21%,#00feff 21.7%,#00e6ff 22.4%,#00d3ff 22.8%,#009eff 23.5%,#0087ff 23.8%,#007cff 24.2%,#0079ff 24.5%,#007fff 25.9%,#007fff 27.3%)"></i>
<i style="background:linear-gradient(90deg,#0078ff 0%,#00edff 7.7%,#01fffe 10.9%,#0efff1 16.1%,#0efff1 20.7%,#0cfff3 21%,#00feff 21.7%,#00e6ff 22.4%,#00d3ff 22.8%,#009eff 23.5%,#0087ff 23.8%,#007cff 24.2%,#0079ff 24.5%,#0080ff 26.6%)"></i>
<i style="background:linear-gradient(90deg,#007bff 0%,#00e5ff 7.7%,#00f3ff 9.8%,#01fffe 13.3%,#06fff9 15.8%,#00ffff 17.9%,#00f4ff 21%,#00e3ff 21.7%,#00d3ff 22.1%,#00a2ff 22.8%,#008dff 23.1%,#0082ff 23.5%,#007fff 23.8%,#0082ff 25.9%)"></i>
<i style="background:linear-gradient(90deg,#007bff 0%,#00e5ff 7.7%,#00f3ff 9.8%,#01fffe 13.3%,#06fff9 15.8%,#00ffff 17.9%,#00f4ff 21%,#00e3ff 21.7%,#00d3ff 22.1%,#00a2ff 22.8%,#008dff 23.1%,#0082ff 23.5%,#007fff 23.8%,#0082ff 25.2%)"></i>
<i style="background:linear-gradient(90deg,#0080ff 0%,#00dcff 7.7%,#00ecff 10.2%,#00fdff 15.4%,#00e3ff 20.7%,#00dfff 21%,#00d4ff 21.4%,#0092ff 22.4%,#0088ff 22.8%,#0085ff 23.1%,#0084ff 24.5%)"></i>
<i style="background:linear-gradient(90deg,#0080ff 0%,#00dcff 7.7%,#00ecff 10.2%,#00fdff 15.4%,#00e3ff 20.7%,#00dfff 21%,#00d4ff 21.4%,#0092ff 22.4%,#0088ff 22.8%,#0084ff 23.8%)"></i>
<i style="background:linear-gradient(90deg,#0081ff 0%,#00afff 4.2%,#00deff 9.1%,#00f4ff 15.1%,#00f2ff 15.8%,#00d3ff 19.6%,#00bfff 20.7%,#0094ff 21.7%,#008bff 22.1%,#0086ff 23.1%)"></i>
<i style="background:linear-gradient(90deg,#0081ff 0%,#00afff 4.2%,#00deff 9.1%,#00f4ff 15.1%,#00f2ff 15.8%,#00d3ff 19.6%,#00bfff 20.7%,#0094ff 21.7%,#008bff 22.1%,#0088ff 22.4%)"></i>
<i style="background:linear-gradient(90deg,#0080ff 0%,#0084ff 0.7%,#00aaff 4.2%,#00d8ff 9.5%,#00ecff 15.1%,#00e8ff 16.1%,#00d3ff 18.2%,#00c0ff 18.9%,#009cff 20%,#0090ff 20.7%,#0089ff 21.7%)"></i>
<i style="background:linear-gradient(90deg,#0080ff 0%,#0085ff 1.1%,#00aaff 4.6%,#00d8ff 9.8%,#00eaff 15.1%,#00e6ff 16.1%,#00d5ff 17.9%,#00ceff 18.2%,#00c1ff 18.6%,#00a1ff 19.3%,#0096ff 19.6%,#008cff 20.3%,#008aff 21%)"></i>
</div>
<div class="h" style="left:2009px;top:53.5px;width:33px;height:458.0px;background:linear-gradient(180deg,#800000 0.00%,#8f0000 1.56%,#9f0000 3.12%,#af0000 4.69%,#bf0000 6.25%,#cf0000 7.81%,#df0000 9.38%,#ef0000 10.94%,#ff0000 12.50%,#ff1000 14.06%,#ff2000 15.62%,#ff3000 17.19%,#ff4000 18.75%,#ff5000 20.31%,#ff6000 21.88%,#ff7000 23.44%,#ff8000 25.00%,#ff8f00 26.56%,#ff9f00 28.12%,#ffaf00 29.69%,#ffbf00 31.25%,#ffcf00 32.81%,#ffdf00 34.38%,#ffef00 35.94%,#ffff00 37.50%,#efff10 39.06%,#dfff20 40.62%,#cfff30 42.19%,#bfff40 43.75%,#afff50 45.31%,#9fff60 46.88%,#8fff70 48.44%,#80ff80 50.00%,#70ff8f 51.56%,#60ff9f 53.12%,#50ffaf 54.69%,#40ffbf 56.25%,#30ffcf 57.81%,#20ffdf 59.38%,#10ffef 60.94%,#00ffff 62.50%,#00efff 64.06%,#00dfff 65.62%,#00cfff 67.19%,#00bfff 68.75%,#00afff 70.31%,#009fff 71.88%,#008fff 73.44%,#0080ff 75.00%,#0070ff 76.56%,#0060ff 78.12%,#0050ff 79.69%,#0040ff 81.25%,#0030ff 82.81%,#0020ff 84.38%,#0010ff 85.94%,#0000ff 87.50%,#0000ef 89.06%,#0000df 90.62%,#0000cf 92.19%,#0000bf 93.75%,#0000af 95.31%,#00009f 96.88%,#00008f 98.44%,#000080 100.00%)"></div>
<svg width="2108" height="973" viewBox="0 0 2108 973">
<line x1="106.50" y1="24.00" x2="681.30" y2="24.00" stroke="#262626" stroke-width="1.3"/>
<line x1="106.50" y1="511.80" x2="681.30" y2="511.80" stroke="#262626" stroke-width="1.3"/>
<line x1="107.30" y1="511.80" x2="107.30" y2="505.80" stroke="#262626" stroke-width="1.3"/>
<line x1="286.43" y1="511.80" x2="286.43" y2="505.80" stroke="#262626" stroke-width="1.3"/>
<line x1="465.55" y1="511.80" x2="465.55" y2="505.80" stroke="#262626" stroke-width="1.3"/>
<line x1="644.67" y1="511.80" x2="644.67" y2="505.80" stroke="#262626" stroke-width="1.3"/>
<line x1="107.30" y1="24.00" x2="107.30" y2="30.00" stroke="#262626" stroke-width="1.3"/>
<line x1="286.43" y1="24.00" x2="286.43" y2="30.00" stroke="#262626" stroke-width="1.3"/>
<line x1="465.55" y1="24.00" x2="465.55" y2="30.00" stroke="#262626" stroke-width="1.3"/>
<line x1="644.67" y1="24.00" x2="644.67" y2="30.00" stroke="#262626" stroke-width="1.3"/>
<text class="ts" x="106.30" y="553.20" font-size="34" text-anchor="middle" fill="#000">0</text>
<text class="ts" x="285.43" y="553.20" font-size="34" text-anchor="middle" fill="#000">5</text>
<text class="ts" x="464.55" y="553.20" font-size="34" text-anchor="middle" fill="#000">10</text>
<text class="ts" x="643.67" y="553.20" font-size="34" text-anchor="middle" fill="#000">15</text>
<line x1="107.30" y1="24.00" x2="107.30" y2="27.50" stroke="#262626" stroke-width="1.3"/>
<line x1="680.50" y1="24.00" x2="680.50" y2="27.50" stroke="#262626" stroke-width="1.3"/>
<line x1="107.30" y1="457.00" x2="107.30" y2="511.80" stroke="#262626" stroke-width="1.3"/>
<line x1="680.50" y1="377.00" x2="680.50" y2="511.80" stroke="#262626" stroke-width="1.3"/>
<text class="ts" x="94.30" y="36.50" font-size="34" text-anchor="end" fill="#000">0</text>
<text class="ts" x="94.30" y="125.19" font-size="34" text-anchor="end" fill="#000">2</text>
<text class="ts" x="94.30" y="213.88" font-size="34" text-anchor="end" fill="#000">4</text>
<text class="ts" x="94.30" y="302.57" font-size="34" text-anchor="end" fill="#000">6</text>
<line x1="680.50" y1="378.76" x2="674.50" y2="378.76" stroke="#262626" stroke-width="1.3"/>
<text class="ts" x="94.30" y="391.26" font-size="34" text-anchor="end" fill="#000">8</text>
<line x1="107.30" y1="467.45" x2="113.30" y2="467.45" stroke="#262626" stroke-width="1.3"/>
<line x1="680.50" y1="467.45" x2="674.50" y2="467.45" stroke="#262626" stroke-width="1.3"/>
<text class="ts" x="94.30" y="479.95" font-size="34" text-anchor="end" fill="#000">10</text>
<line x1="755.20" y1="24.00" x2="1329.60" y2="24.00" stroke="#262626" stroke-width="1.3"/>
<line x1="755.20" y1="511.80" x2="1329.60" y2="511.80" stroke="#262626" stroke-width="1.3"/>
<line x1="756.00" y1="511.80" x2="756.00" y2="505.80" stroke="#262626" stroke-width="1.3"/>
<line x1="924.47" y1="511.80" x2="924.47" y2="505.80" stroke="#262626" stroke-width="1.3"/>
<line x1="1092.94" y1="511.80" x2="1092.94" y2="505.80" stroke="#262626" stroke-width="1.3"/>
<line x1="1261.41" y1="511.80" x2="1261.41" y2="505.80" stroke="#262626" stroke-width="1.3"/>
<line x1="756.00" y1="24.00" x2="756.00" y2="30.00" stroke="#262626" stroke-width="1.3"/>
<line x1="924.47" y1="24.00" x2="924.47" y2="30.00" stroke="#262626" stroke-width="1.3"/>
<line x1="1092.94" y1="24.00" x2="1092.94" y2="30.00" stroke="#262626" stroke-width="1.3"/>
<line x1="1261.41" y1="24.00" x2="1261.41" y2="30.00" stroke="#262626" stroke-width="1.3"/>
<text class="ts" x="755.00" y="553.20" font-size="34" text-anchor="middle" fill="#000">0</text>
<text class="ts" x="923.47" y="553.20" font-size="34" text-anchor="middle" fill="#000">5</text>
<text class="ts" x="1091.94" y="553.20" font-size="34" text-anchor="middle" fill="#000">10</text>
<text class="ts" x="1260.41" y="553.20" font-size="34" text-anchor="middle" fill="#000">15</text>
<line x1="1404.20" y1="24.00" x2="1978.30" y2="24.00" stroke="#262626" stroke-width="1.3"/>
<line x1="1404.20" y1="511.80" x2="1978.30" y2="511.80" stroke="#262626" stroke-width="1.3"/>
<line x1="1405.00" y1="511.80" x2="1405.00" y2="505.80" stroke="#262626" stroke-width="1.3"/>
<line x1="1595.83" y1="511.80" x2="1595.83" y2="505.80" stroke="#262626" stroke-width="1.3"/>
<line x1="1786.67" y1="511.80" x2="1786.67" y2="505.80" stroke="#262626" stroke-width="1.3"/>
<line x1="1977.50" y1="511.80" x2="1977.50" y2="505.80" stroke="#262626" stroke-width="1.3"/>
<line x1="1405.00" y1="24.00" x2="1405.00" y2="30.00" stroke="#262626" stroke-width="1.3"/>
<line x1="1595.83" y1="24.00" x2="1595.83" y2="30.00" stroke="#262626" stroke-width="1.3"/>
<line x1="1786.67" y1="24.00" x2="1786.67" y2="30.00" stroke="#262626" stroke-width="1.3"/>
<line x1="1977.50" y1="24.00" x2="1977.50" y2="30.00" stroke="#262626" stroke-width="1.3"/>
<text class="ts" x="1404.00" y="553.20" font-size="34" text-anchor="middle" fill="#000">0</text>
<text class="ts" x="1594.83" y="553.20" font-size="34" text-anchor="middle" fill="#000">5</text>
<text class="ts" x="1785.67" y="553.20" font-size="34" text-anchor="middle" fill="#000">10</text>
<text class="ts" x="1976.50" y="553.20" font-size="34" text-anchor="middle" fill="#000">15</text>
<line x1="2009.00" y1="53.50" x2="2042.00" y2="53.50" stroke="#262626" stroke-width="1.2"/>
<line x1="2009.00" y1="511.50" x2="2042.00" y2="511.50" stroke="#262626" stroke-width="1.2"/>
<line x1="2009.00" y1="53.50" x2="2009.00" y2="511.50" stroke="#262626" stroke-width="1.2"/>
<line x1="2042.00" y1="53.50" x2="2042.00" y2="511.50" stroke="#262626" stroke-width="1.2"/>
<text class="ts" x="2052.50" y="522.00" font-size="30" text-anchor="start" fill="#000">0</text>
<line x1="2009.00" y1="358.83" x2="2013.00" y2="358.83" stroke="#262626" stroke-width="1.2"/>
<line x1="2042.00" y1="358.83" x2="2038.00" y2="358.83" stroke="#262626" stroke-width="1.2"/>
<text class="ts" x="2052.50" y="369.33" font-size="30" text-anchor="start" fill="#000">0.05</text>
<line x1="2009.00" y1="206.17" x2="2013.00" y2="206.17" stroke="#262626" stroke-width="1.2"/>
<line x1="2042.00" y1="206.17" x2="2038.00" y2="206.17" stroke="#262626" stroke-width="1.2"/>
<text class="ts" x="2052.50" y="216.67" font-size="30" text-anchor="start" fill="#000">0.1</text>
<text class="ts" x="2052.50" y="64.00" font-size="30" text-anchor="start" fill="#000">0.15</text>
<text class="ts" x="2025.50" y="36.00" font-size="32.5" text-anchor="middle" fill="#000">m/s/km</text>
<polyline points="107.4,839.7 127.2,843.4 146.9,845.6 166.7,847.4 186.5,849.2 206.2,851.3 226.0,852.0 245.8,852.0 265.6,851.5 285.3,850.4 305.1,848.3 324.9,845.8 344.6,842.7 364.4,837.5 384.2,833.6 404.0,829.6 423.7,823.2 443.5,820.0 463.3,814.9 483.0,808.5 502.8,802.4 522.6,793.0 542.3,779.8 562.1,775.3 581.9,770.8 601.6,770.8 621.4,752.2 641.2,739.8 661.0,714.3 680.7,683.7" fill="none" stroke="#0072BD" stroke-width="1.5" stroke-linejoin="round"/>
<polyline points="107.4,703.0 127.2,703.0 146.9,707.5 166.7,705.7 186.5,706.1 206.2,708.6 226.0,712.0 245.8,715.8 265.6,719.2 285.3,722.0 305.1,719.0 324.9,717.4 344.6,717.0 364.4,714.7 384.2,715.6 404.0,716.5 423.7,715.4 443.5,713.6 463.3,710.0 483.0,704.0 502.8,701.8 522.6,700.0 542.3,701.6 562.1,706.8 581.9,713.4 601.6,718.3 621.4,716.0 641.2,712.0 661.0,709.3 680.7,709.3" fill="none" stroke="#D95319" stroke-width="1.5" stroke-linejoin="round"/>
<line x1="106.50" y1="580.40" x2="681.30" y2="580.40" stroke="#262626" stroke-width="1.3"/>
<line x1="106.50" y1="872.50" x2="681.30" y2="872.50" stroke="#262626" stroke-width="1.3"/>
<line x1="107.30" y1="580.40" x2="107.30" y2="872.50" stroke="#262626" stroke-width="1.3"/>
<line x1="107.30" y1="872.50" x2="107.30" y2="866.50" stroke="#262626" stroke-width="1.3"/>
<line x1="286.43" y1="872.50" x2="286.43" y2="866.50" stroke="#262626" stroke-width="1.3"/>
<line x1="465.55" y1="872.50" x2="465.55" y2="866.50" stroke="#262626" stroke-width="1.3"/>
<line x1="644.67" y1="872.50" x2="644.67" y2="866.50" stroke="#262626" stroke-width="1.3"/>
<line x1="107.30" y1="580.40" x2="107.30" y2="586.40" stroke="#262626" stroke-width="1.3"/>
<line x1="286.43" y1="580.40" x2="286.43" y2="586.40" stroke="#262626" stroke-width="1.3"/>
<line x1="465.55" y1="580.40" x2="465.55" y2="586.40" stroke="#262626" stroke-width="1.3"/>
<line x1="644.67" y1="580.40" x2="644.67" y2="586.40" stroke="#262626" stroke-width="1.3"/>
<text class="ts" x="106.30" y="916.20" font-size="34" text-anchor="middle" fill="#000">0</text>
<text class="ts" x="285.43" y="916.20" font-size="34" text-anchor="middle" fill="#000">5</text>
<text class="ts" x="464.55" y="916.20" font-size="34" text-anchor="middle" fill="#000">10</text>
<text class="ts" x="643.67" y="916.20" font-size="34" text-anchor="middle" fill="#000">15</text>
<line x1="107.30" y1="872.50" x2="113.30" y2="872.50" stroke="#262626" stroke-width="1.3"/>
<text class="ts" x="94.30" y="885.00" font-size="34" text-anchor="end" fill="#000">0</text>
<line x1="107.30" y1="807.59" x2="113.30" y2="807.59" stroke="#262626" stroke-width="1.3"/>
<text class="ts" x="94.30" y="820.09" font-size="34" text-anchor="end" fill="#000">2</text>
<line x1="107.30" y1="742.68" x2="113.30" y2="742.68" stroke="#262626" stroke-width="1.3"/>
<text class="ts" x="94.30" y="755.18" font-size="34" text-anchor="end" fill="#000">4</text>
<line x1="107.30" y1="677.77" x2="113.30" y2="677.77" stroke="#262626" stroke-width="1.3"/>
<text class="ts" x="94.30" y="690.27" font-size="34" text-anchor="end" fill="#000">6</text>
<line x1="107.30" y1="612.86" x2="113.30" y2="612.86" stroke="#262626" stroke-width="1.3"/>
<text class="ts" x="94.30" y="625.36" font-size="34" text-anchor="end" fill="#000">8</text>
<polyline points="755.8,845.4 774.3,846.7 792.8,848.8 811.3,850.1 829.8,849.5 848.3,849.0 866.8,849.2 885.3,847.0 903.8,845.2 922.3,841.1 940.8,837.9 959.3,833.4 977.8,831.8 996.3,831.4 1014.8,833.4 1033.3,832.5 1051.8,833.0 1070.3,831.4 1088.8,825.2 1107.3,818.9 1125.8,810.1 1144.3,802.9 1162.8,792.2 1181.3,781.9 1199.8,779.7 1218.3,767.5 1236.8,752.1 1255.3,731.7 1273.8,708.2 1292.3,684.7 1310.8,654.3 1329.3,584.4" fill="none" stroke="#0072BD" stroke-width="1.5" stroke-linejoin="round"/>
<polyline points="755.8,708.6 774.3,716.0 792.8,719.7 811.3,721.7 829.8,721.0 848.3,721.0 866.8,721.7 885.3,720.8 903.8,719.7 922.3,716.5 940.8,714.3 959.3,709.7 977.8,708.4 996.3,706.8 1014.8,708.2 1033.3,706.5 1051.8,705.1 1070.3,704.2 1088.8,706.0 1107.3,708.2 1125.8,710.4 1144.3,713.6 1162.8,714.2 1181.3,711.4 1199.8,711.7 1218.3,713.9 1236.8,712.3 1255.3,711.0 1273.8,707.0 1292.3,702.9 1310.8,693.5 1329.3,681.9" fill="none" stroke="#D95319" stroke-width="1.5" stroke-linejoin="round"/>
<line x1="755.20" y1="580.40" x2="1329.60" y2="580.40" stroke="#262626" stroke-width="1.3"/>
<line x1="755.20" y1="872.50" x2="1329.60" y2="872.50" stroke="#262626" stroke-width="1.3"/>
<line x1="756.00" y1="580.40" x2="756.00" y2="872.50" stroke="#262626" stroke-width="1.3"/>
<line x1="756.00" y1="872.50" x2="756.00" y2="866.50" stroke="#262626" stroke-width="1.3"/>
<line x1="924.47" y1="872.50" x2="924.47" y2="866.50" stroke="#262626" stroke-width="1.3"/>
<line x1="1092.94" y1="872.50" x2="1092.94" y2="866.50" stroke="#262626" stroke-width="1.3"/>
<line x1="1261.41" y1="872.50" x2="1261.41" y2="866.50" stroke="#262626" stroke-width="1.3"/>
<line x1="756.00" y1="580.40" x2="756.00" y2="586.40" stroke="#262626" stroke-width="1.3"/>
<line x1="924.47" y1="580.40" x2="924.47" y2="586.40" stroke="#262626" stroke-width="1.3"/>
<line x1="1092.94" y1="580.40" x2="1092.94" y2="586.40" stroke="#262626" stroke-width="1.3"/>
<line x1="1261.41" y1="580.40" x2="1261.41" y2="586.40" stroke="#262626" stroke-width="1.3"/>
<text class="ts" x="755.00" y="916.20" font-size="34" text-anchor="middle" fill="#000">0</text>
<text class="ts" x="923.47" y="916.20" font-size="34" text-anchor="middle" fill="#000">5</text>
<text class="ts" x="1091.94" y="916.20" font-size="34" text-anchor="middle" fill="#000">10</text>
<text class="ts" x="1260.41" y="916.20" font-size="34" text-anchor="middle" fill="#000">15</text>
<polyline points="1404.4,852.2 1424.4,838.6 1444.3,825.0 1465.8,820.1 1486.3,820.1 1507.3,816.4 1528.2,811.7 1549.2,796.2 1570.2,790.3 1591.2,795.9 1612.1,802.8 1633.1,809.3 1654.1,813.0 1675.0,814.9 1696.1,815.7 1718.3,817.2 1739.3,818.9 1760.3,823.1 1781.2,826.8 1802.2,830.0 1823.2,831.0 1844.1,832.7 1865.1,834.4 1886.1,836.2 1907.1,834.9 1929.3,830.0 1950.2,825.5 1968.7,815.2 1977.6,809.8" fill="none" stroke="#0072BD" stroke-width="1.5" stroke-linejoin="round"/>
<polyline points="1404.4,739.9 1424.4,734.0 1444.3,727.8 1465.8,730.3 1486.3,732.3 1507.3,727.3 1528.2,711.6 1549.2,704.9 1570.2,702.2 1591.2,695.5 1612.1,680.2 1633.1,670.6 1654.1,665.2 1675.0,663.9 1696.1,668.4 1718.3,676.3 1739.3,678.2 1760.3,679.5 1781.2,681.5 1802.2,684.9 1823.2,690.6 1844.1,695.5 1865.1,698.5 1886.1,701.2 1907.1,703.4 1929.3,704.2 1950.2,703.7 1977.6,700.4" fill="none" stroke="#D95319" stroke-width="1.5" stroke-linejoin="round"/>
<line x1="1404.20" y1="580.40" x2="1978.30" y2="580.40" stroke="#262626" stroke-width="1.3"/>
<line x1="1404.20" y1="872.50" x2="1978.30" y2="872.50" stroke="#262626" stroke-width="1.3"/>
<line x1="1405.00" y1="580.40" x2="1405.00" y2="872.50" stroke="#262626" stroke-width="1.3"/>
<line x1="1405.00" y1="872.50" x2="1405.00" y2="866.50" stroke="#262626" stroke-width="1.3"/>
<line x1="1595.83" y1="872.50" x2="1595.83" y2="866.50" stroke="#262626" stroke-width="1.3"/>
<line x1="1786.67" y1="872.50" x2="1786.67" y2="866.50" stroke="#262626" stroke-width="1.3"/>
<line x1="1977.50" y1="872.50" x2="1977.50" y2="866.50" stroke="#262626" stroke-width="1.3"/>
<line x1="1405.00" y1="580.40" x2="1405.00" y2="586.40" stroke="#262626" stroke-width="1.3"/>
<line x1="1595.83" y1="580.40" x2="1595.83" y2="586.40" stroke="#262626" stroke-width="1.3"/>
<line x1="1786.67" y1="580.40" x2="1786.67" y2="586.40" stroke="#262626" stroke-width="1.3"/>
<line x1="1977.50" y1="580.40" x2="1977.50" y2="586.40" stroke="#262626" stroke-width="1.3"/>
<text class="ts" x="1404.00" y="916.20" font-size="34" text-anchor="middle" fill="#000">0</text>
<text class="ts" x="1594.83" y="916.20" font-size="34" text-anchor="middle" fill="#000">5</text>
<text class="ts" x="1785.67" y="916.20" font-size="34" text-anchor="middle" fill="#000">10</text>
<text class="ts" x="1976.50" y="916.20" font-size="34" text-anchor="middle" fill="#000">15</text>
<line x1="1977.50" y1="580.40" x2="1977.50" y2="872.50" stroke="#D95319" stroke-width="1.3"/>
<line x1="1977.50" y1="872.50" x2="1971.50" y2="872.50" stroke="#D95319" stroke-width="1.3"/>
<text class="ts" x="1989.00" y="885.00" font-size="34" text-anchor="start" fill="#D95319">0</text>
<line x1="1977.50" y1="775.13" x2="1971.50" y2="775.13" stroke="#D95319" stroke-width="1.3"/>
<text class="ts" x="1989.00" y="787.63" font-size="34" text-anchor="start" fill="#D95319">0.5</text>
<line x1="1977.50" y1="677.77" x2="1971.50" y2="677.77" stroke="#D95319" stroke-width="1.3"/>
<text class="ts" x="1989.00" y="690.27" font-size="34" text-anchor="start" fill="#D95319">1</text>
<line x1="1977.50" y1="580.40" x2="1971.50" y2="580.40" stroke="#D95319" stroke-width="1.3"/>
<text class="ts" x="1989.00" y="592.90" font-size="34" text-anchor="start" fill="#D95319">1.5</text>
<text class="ts" x="108.5" y="573" font-size="34" fill="#000">×<tspan dx="4.5">10</tspan><tspan dx="2" dy="-15.5" font-size="25">-3</tspan></text>
<text class="ta" x="23.70" y="42.00" font-size="43.5" text-anchor="start" fill="#000">A</text>
<text class="ta" x="704.10" y="42.00" font-size="43.5" text-anchor="start" fill="#000">B</text>
<text class="ta" x="1346.30" y="42.00" font-size="43.5" text-anchor="start" fill="#000">C</text>
<text class="ta" x="34.30" y="557.00" font-size="43.5" text-anchor="start" fill="#000">D</text>
<text class="ta" x="703.30" y="597.00" font-size="43.5" text-anchor="start" fill="#000">E</text>
<text class="ta" x="1346.30" y="597.00" font-size="43.5" text-anchor="start" fill="#000">F</text>
<text class="ta" x="123.00" y="85.00" font-size="39" text-anchor="start" fill="#000">2005</text>
<text class="ta" x="771.00" y="85.00" font-size="39" text-anchor="start" fill="#000">2014</text>
<text class="ta" x="1440.00" y="85.00" font-size="39" text-anchor="start" fill="#000">2020</text>
<text class="ts" x="1041.50" y="956.70" font-size="36.3" text-anchor="middle" fill="#000">Distance (km)</text>
<text class="ta" transform="translate(39,245.5) rotate(-90)" font-size="38" text-anchor="middle" fill="#000">Depth(m)</text>
<text class="ta" transform="translate(47.7,926) rotate(-90)" font-size="38.5" fill="#000" font-style="italic">τ</text>
<text class="ta" transform="translate(65.3,908.5) rotate(-90)" font-size="27" fill="#000">b</text>
<text class="ta" transform="translate(47.7,885) rotate(-90)" font-size="38.5" fill="#000">gradient (N/m</text>
<text class="ta" transform="translate(26.7,650) rotate(-90)" font-size="28.5" fill="#000">2</text>
<text class="ta" transform="translate(47.7,634.8) rotate(-90)" font-size="38.5" fill="#000">/km)</text>
<text class="ts" transform="translate(2071,726) rotate(-90)" font-size="37" text-anchor="middle" fill="#D95319">Slope (rad)</text>
</svg>
</div>
</body></html>
